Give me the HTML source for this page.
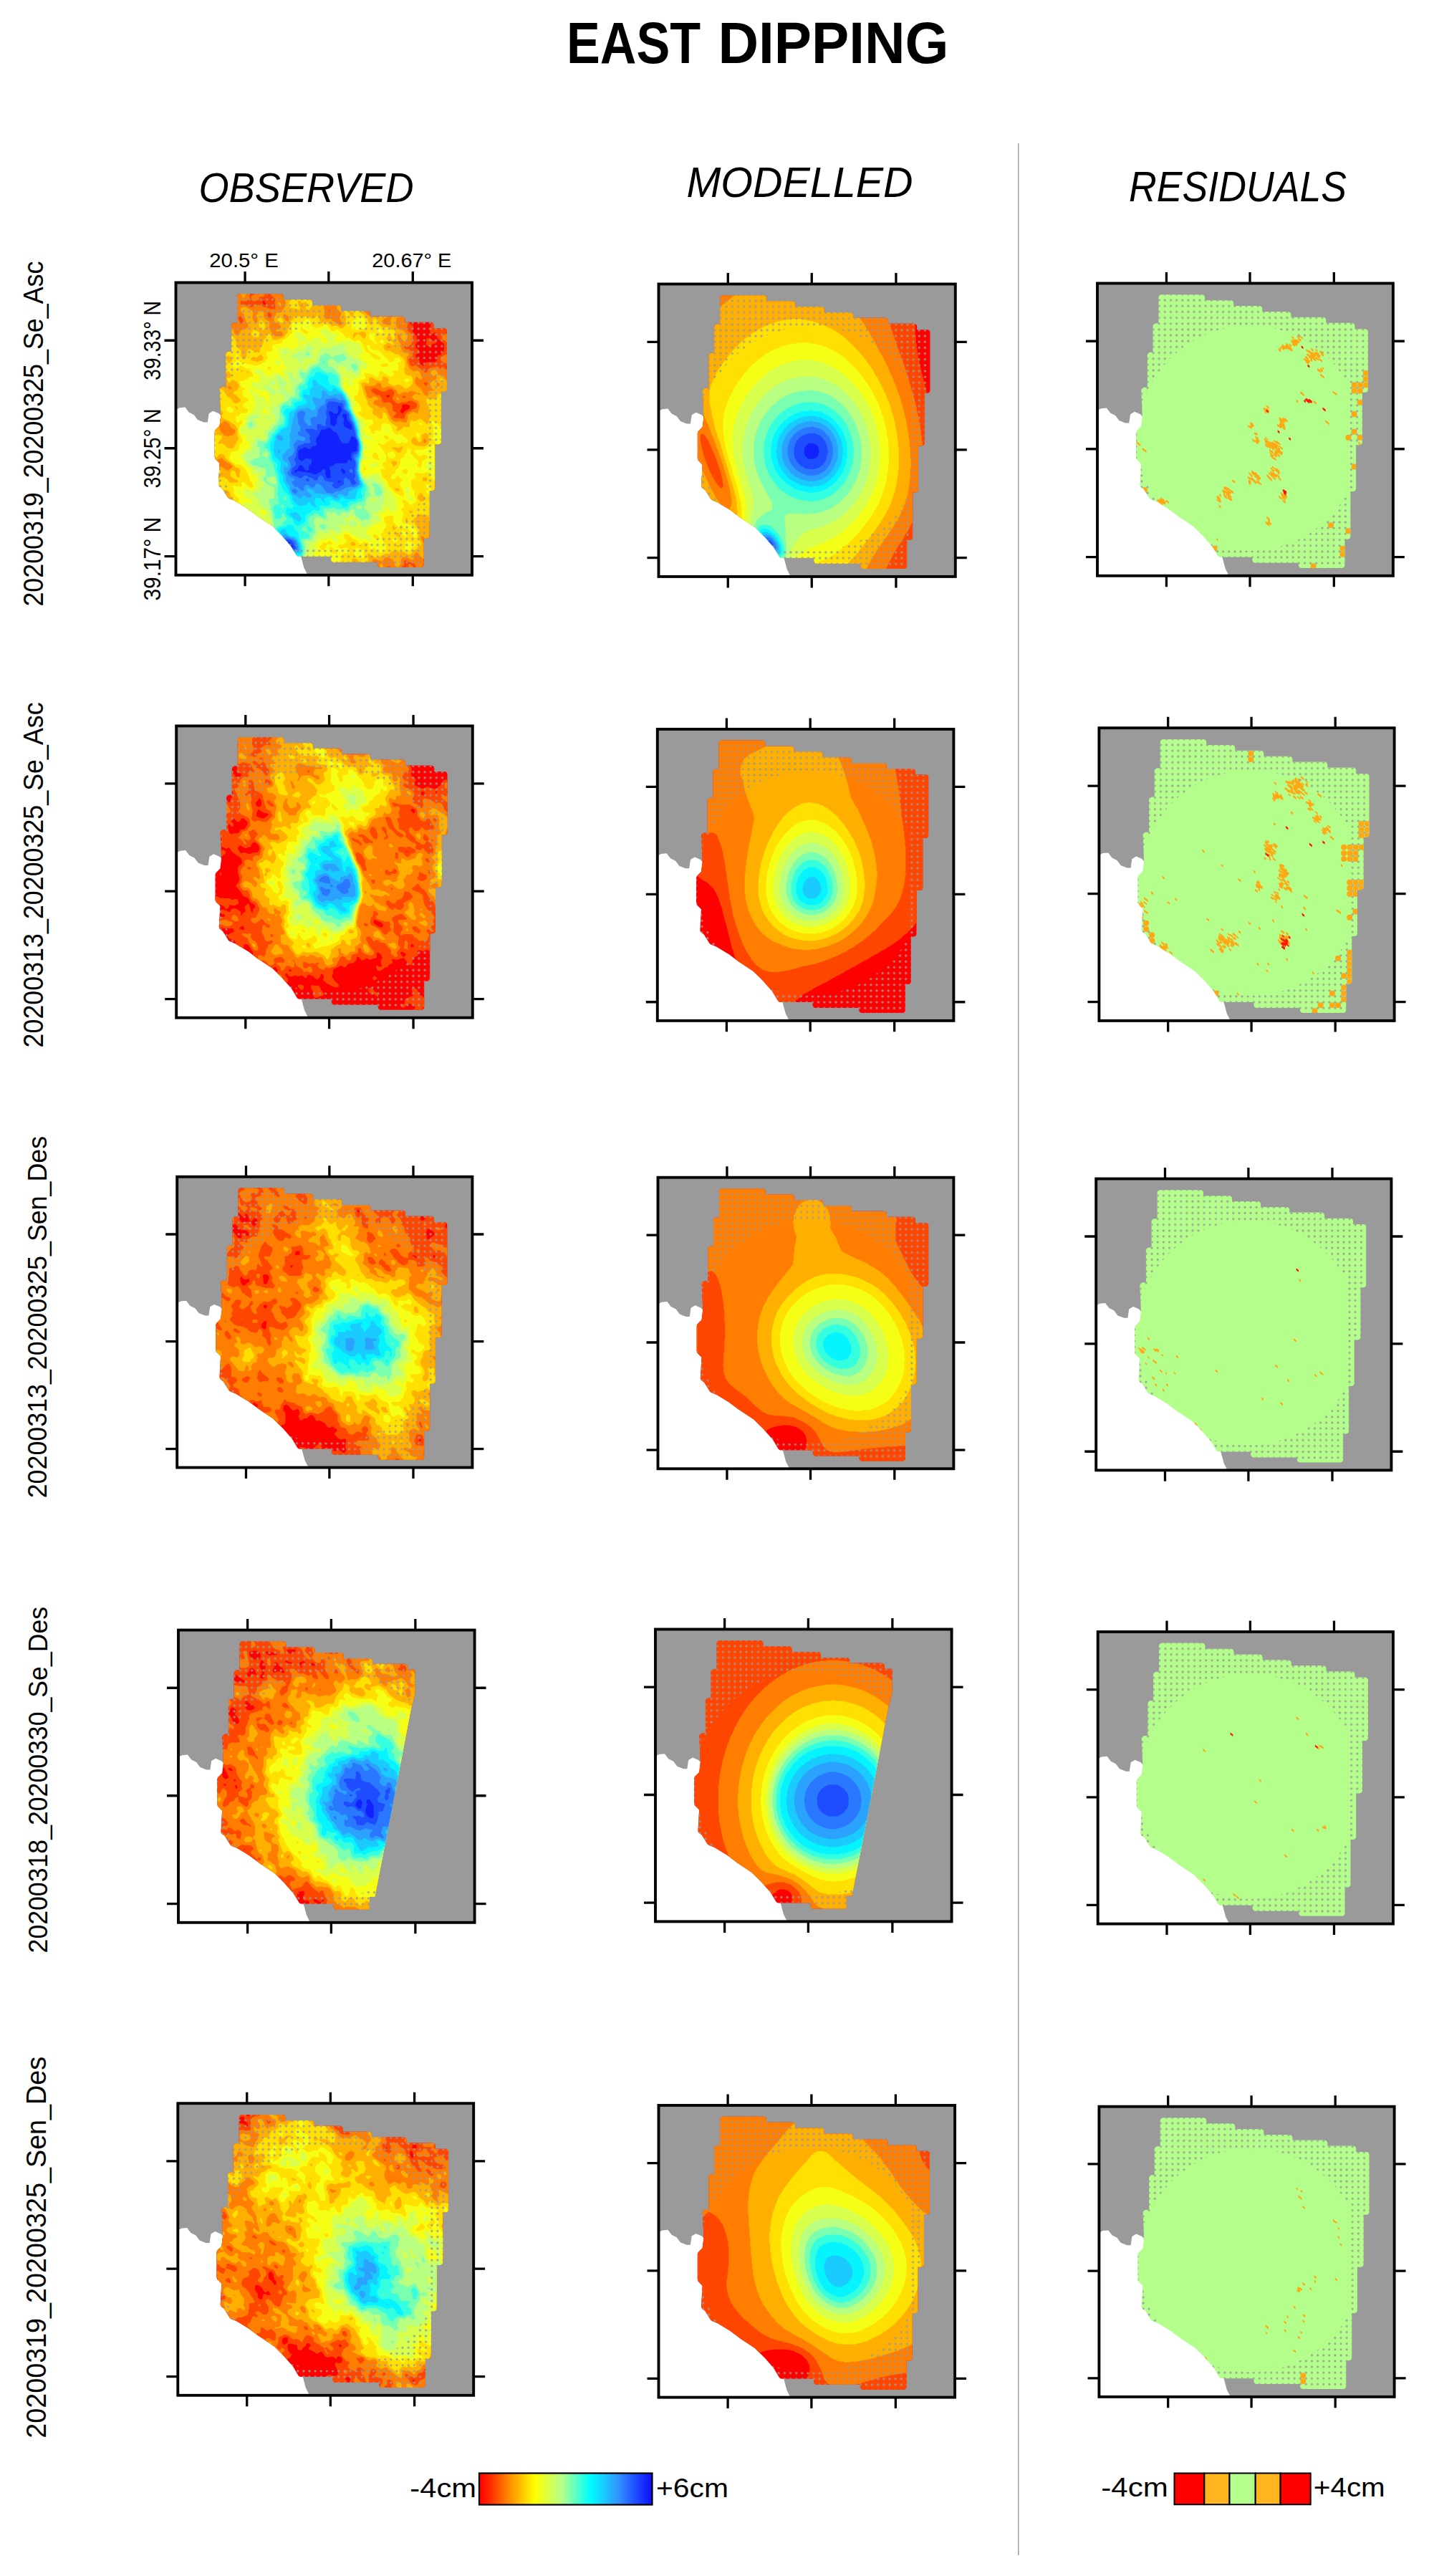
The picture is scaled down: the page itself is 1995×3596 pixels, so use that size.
<!DOCTYPE html><html><head><meta charset="utf-8"><title>EAST DIPPING</title><style>html,body{margin:0;padding:0;background:#fff}svg{display:block}</style></head><body><svg width="1995" height="3596" viewBox="0 0 1995 3596" font-family="'Liberation Sans',sans-serif">
<defs>
<clipPath id="cpF"><polygon points="61.2,251.9 61.2,252 59.6,281.1 60,283.1 61.4,284.7 64.6,286.9 64.7,286.9 64.8,287 72.8,299.8 74.7,301.4 82.2,304.4 82.2,304.4 82.3,304.4 99.6,314.9 99.8,315 113.6,325.3 113.8,325.5 134.6,339.3 134.7,339.4 134.8,339.5 148.7,353.3 148.7,353.4 160.9,367.3 160.9,367.4 161,367.5 168.5,380.1 170,381.6 172,382.1 216.8,382.1 216.9,382.1 216.9,382.2 216.9,386.1 217.5,388.1 218.9,389.6 220.9,390.1 281.6,390.1 281.7,390.1 281.7,390.2 281.7,393.1 282.2,395.1 283.7,396.6 285.7,397.1 342.4,397.1 344.4,396.6 345.9,395.1 346.4,393.1 346.4,357 346.4,356.9 346.5,356.9 350.4,356.9 352.4,356.4 353.9,354.9 354.4,352.9 354.4,290.5 354.4,290.4 354.5,290.4 358.1,290.4 360.1,289.9 361.6,288.4 362.1,286.4 362.1,225.8 362.1,225.7 362.2,225.7 366.9,225.7 368.9,225.1 370.4,223.7 370.9,221.7 370.9,152.3 370.9,152.2 371,152.2 374.9,152.2 376.9,151.7 378.4,150.2 378.9,148.2 378.9,67.7 378.4,65.7 376.9,64.2 374.9,63.7 360.5,63.7 360.4,63.7 360.4,63.6 360.4,59.3 359.9,57.3 358.4,55.8 356.4,55.3 320.3,55.3 320.2,55.3 320.2,55.2 320.2,51.2 319.6,49.2 318.2,47.8 316.2,47.2 271.3,47.2 271.2,47.2 271.2,47.1 271.2,43.5 270.6,41.5 269.2,40.1 267.2,39.5 231,39.5 230.9,39.5 230.9,39.4 230.9,35.5 230.4,33.5 228.9,32 226.9,31.5 190.8,31.5 190.7,31.5 190.7,31.4 190.7,27.8 190.2,25.8 188.7,24.3 186.7,23.8 150.6,23.8 150.5,23.8 150.5,23.7 150.5,19.7 149.9,17.7 148.5,16.3 146.5,15.7 89.7,15.7 87.7,16.3 86.3,17.7 85.7,19.7 85.7,55.9 85.7,56 85.6,56 81.7,56 79.7,56.5 78.2,58 77.7,60 77.7,96.1 77.7,96.2 77.6,96.2 74,96.2 72,96.8 70.5,98.2 70,100.2 70,145.1 70,145.2 69.9,145.2 65.4,145.2 63.4,145.8 61.9,147.3 61.4,149.4 63,185.4 63,185.4 63,185.5 61.2,199.3 61.2,199.4 61.2,199.5 55.4,205.3 54.2,208.1 54.2,243.3 55.4,246.1 61.2,251.9"/></clipPath>
<clipPath id="cpC"><polygon points="0,0 331,0 331,88 325.4,109 274.7,372 267,372 267,409 0,409"/></clipPath>
<clipPath id="cpB"><rect x="0" y="0" width="414" height="408"/></clipPath>
<pattern id="dots" width="8.15" height="8.15" patternUnits="userSpaceOnUse" x="4.95" y="7.3"><path d="M0 -2L2 0L0 2L-2 0zM8.15 -2l2 2l-2 2l-2 -2zM0 6.15l2 2l-2 2l-2 -2zM8.15 6.15l2 2l-2 2l-2 -2z" fill="#9a9a9a" fill-opacity=".85"/></pattern>
<path id="outer" d="M0 0H414V408H0zM349 137.6A157 157 0 1 0 349 294.4z" fill="url(#dots)" fill-rule="evenodd"/>
</defs>
<rect width="1995" height="3596" fill="#fff"/>
<text x="791" y="88.2" font-size="82" textLength="187" lengthAdjust="spacingAndGlyphs" font-weight="bold">EAST</text>
<text x="1002.5" y="88.2" font-size="82" textLength="322" lengthAdjust="spacingAndGlyphs" font-weight="bold">DIPPING</text>
<text x="277.5" y="281.9" font-size="57.5" textLength="300" lengthAdjust="spacingAndGlyphs" font-style="italic">OBSERVED</text>
<text x="958.5" y="275.3" font-size="59.5" textLength="316" lengthAdjust="spacingAndGlyphs" font-style="italic">MODELLED</text>
<text x="1576" y="281.3" font-size="58.5" textLength="304" lengthAdjust="spacingAndGlyphs" font-style="italic">RESIDUALS</text>
<line x1="1421.8" y1="200" x2="1421.8" y2="3567" stroke="#a6a6a6" stroke-width="1.6"/>
<text transform="translate(60.4 846.6) rotate(-90)" font-size="39.5" textLength="482" lengthAdjust="spacingAndGlyphs">20200319_20200325_Se_Asc</text>
<text transform="translate(59.5 1462.4) rotate(-90)" font-size="38.5" textLength="482" lengthAdjust="spacingAndGlyphs">20200313_20200325_Se_Asc</text>
<text transform="translate(65.2 2091.3) rotate(-90)" font-size="36.5" textLength="505.4" lengthAdjust="spacingAndGlyphs">20200313_20200325_Sen_Des</text>
<text transform="translate(66 2726.4) rotate(-90)" font-size="37.5" textLength="483.5" lengthAdjust="spacingAndGlyphs">20200318_20200330_Se_Des</text>
<text transform="translate(63.5 3403.8) rotate(-90)" font-size="39" textLength="533" lengthAdjust="spacingAndGlyphs">20200319_20200325_Sen_Des</text>
<text x="292.3" y="373" font-size="28.5" textLength="96.5" lengthAdjust="spacingAndGlyphs">20.5° E</text>
<text x="519.3" y="373" font-size="28.5" textLength="111" lengthAdjust="spacingAndGlyphs">20.67° E</text>
<text transform="translate(223.5 531) rotate(-90)" font-size="32.5" textLength="111" lengthAdjust="spacingAndGlyphs">39.33° N</text>
<text transform="translate(223.5 681.5) rotate(-90)" font-size="32.5" textLength="111" lengthAdjust="spacingAndGlyphs">39.25° N</text>
<text transform="translate(223.5 838.5) rotate(-90)" font-size="32.5" textLength="116.5" lengthAdjust="spacingAndGlyphs">39.17° N</text>
<g transform="translate(245.5 394.5) scale(0.9988 1.0007)">
<rect width="414" height="408" fill="#9a9a9a"/>
<polygon points="0,177.4 5.2,174.6 12.9,173.9 18.2,180.9 25.2,184.4 30.4,191.4 39.2,194.9 44.4,194.9 46.2,182.6 52.1,179.1 60.2,182.6 64.4,187.2 72.4,198.4 72.4,250.9 79.4,285.9 93.4,303.4 121.4,324.4 156.4,352.3 174.6,381 179.1,397.8 184.4,408.3 0,408.3" fill="#fff"/>
<g clip-path="url(#cpF)">
<rect width="414" height="408" fill="#ff0000"/><path d="M-6 -6l426 0 0 285-2 0-1 1 0 2 1 1 0 1 1 2 1 1 0 8-2 1-1 0-1 2 4 4 0 31-2 0-2 1-2 2 1 2 1 1 2 1 2-1 0 30 0-1-2-1-2 0-2 1-1 2 0 2 1 2 0 1 2 0 1-1 1 0 2-2 0 42-426 0zM122 26l-1 2 3 3 2-1 0-1-1-1-1-2zM294 158l1 2 3 0 1-2-1-1-2 0zM318 170l-1 0-1 2 0 4-2 2 0 2 2 2 2 0 1-2 1-1 6-3 1-2 0-2-1-1-2 0-2-1zM330 49l-2 2 0 1-2 2 2 4 1 0 1 1 2 1 0 3-1 1-1 2 1 2 2 2 1 2 2 2 1 2 0 4 1 2-1 2-2 2 0 4 3 3 2 1 0 3-2 2-2 1-1 2 1 2 4 4 1 2 0 2 1 2 4 2 2-1 1-1 0-2 1-1 12 0 2-1 0-1 1-1-1-2 2-4 2-1 2 0 3-3 2-4 0-8-5-5-2-1-2-2-1-2 0-4-1-1-2-1-2 1-1 1-2 0-1-1 0-1-1-2 1-2 0-6 4-8-1-2-2 0-1 2 0 1-2 2-4 0-1 1-1 0-2 1-2 0-2-1-4-4-2-1-1-1-1 0-2-1zM388 46l-1 2 1 2 1 0 1 1 2-1 1 0 0-2-1-1-2-1zM392 26l-1 2 0 2 1 1 1-1 0-2zM396 48l-1 2 1 0 2 2 2 0 1-2-1-2-2-1zM410 290l-1 2 1 2 1 0 2 4 0 4 1 0 2-2 0-2-1-2 0-2-2-4zM388 61l-2 1 0 4-2 2 0 2 1 2 1 1 0 1 2 1 2 2 6 0 2 1 2 0 0-2-1-2-3-3 0-1-2-2-2-4-2-2zM388 88l-2 2 2 2 3 0-1-2 0-1zM398 405l-1 1 0 2 1 1 2 1 2-2-1-2-1-1zM351 78l1 0 2-1 2 1 2 2 2 1 4 0 0 1 1 2-1 0-2 1-2 0-2 1 0 1-2 2-2 0-2-1-1 0-2-2 1-2 0-5z" fill="#ff4600"/><path d="M-6 -4l0-2 2 1 1 1 1 0 2 1 1-1 0-2 48 0 0 2-1 2 0 2 1 2 1 0 2 1 2 0 2 1 2-2 4-2 0-2-1-2-2-2 141 0 2 1 2 0 2-1 129 0 1 2 0 1 1 1 0 2 3 3 4 0 2 1 4 0 2-1 4 0 1-1 0-2-1-2-2 0-2 1-4 0-8-4-1-1 32 0 5 5 2 1 8 0 2-1 1-1 0-2-2-2 33 0 0 18-1 2-1 1-6 3 0 2 2 1 2-1 0-1 2-2 2 1 0 88-1-2-3-3-2-1-2-2-1-2 0-2-2-2 1-2 3 0 1-1 0-3-4-4-2-1-1-1-1-2 0-2 2-4-2-1-1-1-1 0-2-2-2-4 0-4 2-4 2-2 0-4-1-2 0-2-2-4-1-1 0-1-2-2 0-1-1-1 0-6-1-2 0-9-2 0-2-1-2 0-2-1-4 0-2-1-1 2 0 2 1 2 2 2 0 2 1 2 1 1 0 1 2 2 1 2 2 2 0 2 1 2-2 1-4 0-2 1-1 0-1 1-2 1-1 2 0 4-1 1 0 1-2 2 0 1-1 1-1 2 0 1-2 2-2 0-1-1-1-2-2-2-1-2-1-1 0-1-2-4-2-2-2-1-2 1-1 0-1 1-2 1-2-2 0-5 2-1 2-2 0-4-1-2-1 0-4-2-2 1-1 1-1 2 0 2-4 2-1 2-2 2-1 2-2 0-2-2-2-4-2-2-1 2 0 2-2 2 0 4-1 2-4 2 0 2 1 2 2 2 1 2 0 2-1 2-1 1 0 2 4 4 2 1 2 2 1 2 0 6-1 2 0 2-1 2-3 3-6 0-1 1 1 2 2 1 4 0 4 4 0 1 1 2 0 2-3 3-2 1-1 2 1 2 0 2 2 4 1 0 1 1 2-1 1 0 1-1 2 0 0 1 2 1 2 2 2 1 2 2 2 1 2 2 2 1 1-2 1-1 0-1 2-2 2-1 2 0 2-1 2 0 2-1 2 0 4 4 1-1 0-2 3 0 4 4 2 1 6 0 2 1 2-1 3-3 4 0 1 1 0 1 4 2 1-2 0-2 1-1 0-1 2-1 1-1 1 0 3-6 3-3 2 1 2 0 2 1 0 70-2-1-2 0 0 4 2 2 2 0 0 88-2 2-4 2-4 0-2-1-4 0-2 1 2 1 4 4 0 1 1 2-1 2-2 2 0 4 2 4 0 2-1 2-2 2 0 2 1 1 2 1 4 0 2 1 2 0 2 2 0 1 2 4 0 15-2 0-6 3-2 0-2-1-2-2-2-1-2 0-2 4 0 4 3 6 3 3 2 1 2 0 2-1 4 2 0 1 2 4 0 2-2 2-2 4 0 2-2 1-1 1-1 0-1 2-2 2 1 2 0 1 1 1 1 2 0 2 1 2 0 2 1 1 0 1 2 2 1 0 1 1 2 1 1 0 1 1 0 18-2 1 0 4 2 2 0 2-92 0-1-2-1-1-2 0-2 1 0 2-300 0-2-1-1 1-15 0-2-1-2 0-2 1-4 0 0-19 1-1 3 0 2-1 3-3 1 0 2-1 2-2 4-2 1 1 1 0 2 1 2-1 0-2-2-2-4 0-6-3-1-1-1-2 0-4-1-2 0-4-3-6-2 0 0 4 1 2 0 2-1 2-2 2-2 1 0-112 3 3 3 6 2 2 6 0 1-2-2-4 0-4-2-4-1-1-8-4-2-2 0-154 1-1 1-2 9 0 1-1 0-3 2-4-1-2-2-2-1-2-2-2-4-2-2 1 0 2 1 1 0 2-1 1-2 0zM10 198l-1 2 3 3 2 0 1-1 0-2-1-2-1 0-1-1zM12 6l-1 2 1 1 1-1zM30 60l-2 0-1 2 0 4 1 1 0 1 4 4 2-2 0-2 2-4-1-2-1-1-2-1zM46 4l-2 2 1 2 0 6 1 2 2-2 2-1 2 0 1-1-1-2zM78 31l-1 1 0 4 1 1 2 1 2 0 1-2 0-2-3-3zM88 47l-1 1 0 2 3 6 0 1 2 0 2-1 0-4-2-4-1 0-1-1zM106 12l-1 0-2 2 0 8-1 0-1 2-1 1-2 1-4 0-2-1-1 1-1 2 1 2 1 1 6 0 1 1 1 0 2 2 5 0 3-3 6 0 4 2 2 0 2 1 2 0 6 3 6 0 1-1 0-4-1-2 0-2 1-2 0-2-1-2-6-6-2-1-2-2-3 3-1 2-2 2-6 0 1 2-1 2-2 1-2 0-2 1-2 0-2-2-1-2 0-2 1-2 2-1 2 0 1-1-2-2-1-2zM214 38l-1 0 1 2 2 1 0-2-1-1zM276 147l-3 3 1 2 2 2 2 1 2 2 4 0 3 3 1 2 0 2 1 2 1 1 2 1 2-1 4 0 2 1 2 2 1 2 0 6 1 1 4 2 0 1-1 2-1 1-2 1 0 2 2 1 8 0 2 1 2 0 2-2 0-2 2-4 2-2 2 0 2-2 1 0 1-1 2-1 2 0 2-1 1-1 0-4-1-1 0-1-6-3-4 0-4 2-6 0-2 1-1 0-1 1-2 0-1-1-1 0-4-4-1-2 0-2 2-4 0-4-3-3-4 0-2 1-2 2-6 0-10-5zM318 158l-2 2 2 1 2 0 2-1-2-2zM340 15l-1 1-1 2 2 4 2 1 2 0 1-1 1 0 2-2 1-2-1-2-2-2-2 0-2 1zM416 91l-1 1 0 2 1 2 1 0 1 1 1-1 0-2zM328 77l0 2 1-1zM348 139l-1 1 0 2 2 2 1 0 2-2 0-2-2-1zM366 394l-2 1-3 3 0 2-1 1-2 1-1 2 3 6 2 2 0 1 2-1 2 0 4-2 0-4-2-4 0-2-1-2 0-2zM392 133l-1 1 0 4 1 1 4 0 1-1-1-2-2-2zM404 242l-2 2 2 1 1-1zM402 312l0 2 2 1 1 1 2 0 0-2-1-1-2-1zM14 392l0 3 2 1 5 0-1-1 0-1-4-2zM-2 275l-1 1 1 1 1-1zM6 342l0 2 1 0zM-4 104l-2 2 2 2 2-2zM12 72l-1 0 0 2 1 1 2 0 1-1-2-2zM28 132l0 2 4 4 2 0 2-4-1-2-1-1-2-1zM52 366l-1 0-1 1 0 5-1 2 0 2 2 2 1 0 4 4 2 1 2 0 1-1 1-2 0-6-2-1-2 0-3-3-1-2 0-1-1-1zM130 41l-1 1-1 2 0 2 1 2 1 1 2 0 1-1 1-2-2-4zM278 390l0 3 2-1-1-2zM296 396l-1 2 1 2 0 4 2 1 2 0 6-3 1 0 0-2-1 0-2-2-2 0-4-2zM320 387l-1 1 0 6-1 1-2 1 0 1-1 1 1 2 0 1 6 3 2-1 1-1 0-8 1-2 2 1 5 5 1 2 2 1 1-1-1-2 0-1-1-1 0-2-3-3-2 0-2-1-2 0-2-1-1-1-1 0zM348 398l-1 0-1 2 2 2 2 1 2-1-1-2-1-1zM392 291l-1 1-1 2 0 1 2 2 2 0 2-1 1-2-1-2-2-1zM396 149l0 2 2 0 1-1-1-1zM34 378l1 2 1 0 2 1 1 1 1 0 2 1 2 0 2-1 1-2 0-2-1-1-2-1-4 0-2 1-2 0zM278 401l0 3 2 2 2 1 2 0 2-1-1-2-1-1-4-2zM396 403l-2 1 0 5 4 4 4 0 2-2 0-1 1-2-1-2 0-1-2-2-2 0-2-1zM396 224l2 0 0-1zM376 72l2 0 2 1 2 2 2 1 4 4 1 0 1 1 2 0 2 1 1 0 1 1 0 1 1 2 1 1 0 1 1 2-1 2-2-1-6-6-2-1-8 0-2-1-2-2-2-1-2-2 0-3 2-2zM404 98l4 0 2 2 1 0-1 2-2 1-6 6-2 0-3-3 1-1 2 0 1-1 1 0 1-2 0-2zM382 100l2-2 2 1 1 1-1 1-2 0zM373 102l1 0 4-2 2 2 1 2 0 6-1 2-2 0-2 1-2-1-4-4 0-2 1-2zM-6 382l0-2 2 4-2 4 0 1z" fill="#ff7d00"/><path d="M5 -6l39 0-2 2 0 2-2 4 0 12-2 2-2 0-2 1-1 1-1 0-4 2-1 2 1 2-2 2-4-2-2-4 0-2-2-4 0-3 2 0 2 1 1 0 1 1 2 0 2-1 2 1 2 0 1-1 0-2-1-2-2-2-2 0-2-1-3-3-1-2-2-2-1 0-1-1-8 4-4 4-2 0-2 1-1 0-2 2 0 6-3 0-2-2 0-15 6 3 2 0 2-2 1-2zM62 -6l10 0 1 2 1 1 2 1 1-2 0-2 7 0 4 4 1 0 1 1 4-2 8 0 2 1 2 2 3 6 1 1 6 0 2 1 1 2-1 2-2 1-2 0-3-3-1-2-1 0-1-1-2 1-2 0-2-1-4 0-2 1 0 4 2 4-2 4 0 1-2 0-1-1 0-2-6-6-3-6-2 2 1 2 0 2 1 2 0 2 1 2-1 2-4-2-2 0-2 1-2 0-2 1 1 2 1 0 2 2 2 0-1 2-1 0-2 2 0 1-1 1-1 2-2 1-1 1-1 2 0 2 6 6 1 0 1 1 0-1 2-1 2 1 0 2 1 2-1 1-2-1-2-2-1 2-1 1 0 1-2 2-1 2-1 1-2 1-2-1-4-4-2 0-1 1-1 2 0 4-1 2 2 2 1 0 2 4-2 4 0 1-1 1 0 6-1 2 0 2-2 2-2 1-2 2 0 1 2 4 4 2 2 0 8-4 1 0-1-2 0-1-2-2-2-1 0-2 1-2 1-1 2 0 2-1 2 0 1-2 0-6-2-4 1-2 2-1 2 1 2 0 2 1 1 1 0 2 1 2 0 1 2 2 4 0 0-1 2-4 2-2 4 0 2-2 1 0 2-2 0-4-2-2-1-2 0-1-1-1 0-2-2-4 0-2-4-4-1-2 0-2 4-2 4 0 2 2 1 0 1 1 4 2 1 1 1 2 0 2-1 2 0 4 2 4 3 3 2-2 0-5-2-4 2-2 2-4 2-1 2 1 1 0 2 2 0 6 1 2 2 2 1 0 1 1 2 1 1 2 0 4-1 2 2 4 0 1 1 1 1 2 4 4 2 1 8 0 1-1 1-2-1-2-1-1-2-1-2 0-2 1-2-1 0-2 2-1 2 0 2-1 1-2-1-2-2-2-6-3-1-1 0-4 3-6 0-1 1-1 5 0 2-1 1-1 0-2 2-2 2-4 0-2 1-2-1-2 0-2-1-2 0-2-1-2 0-2-1-1 0-1-1-2 0-2 1-2 0-1 1-1-1-2 0-1-4-2-4 0-4 2-4 0 0-1-2-4 4-2 0-2 53 0 2 4 5 5 4 0 1-1 1-2 4 0 2-1 3-3 1 0 2-1 6 0 2-1 96 0 2 1 6 0 1 1 1 0 2 2 2 4 0 4-2 4 0 2 1 2-1 2-2 2 0 1-1 1-1 2 0 2 1 2-1 2 0 1-3 3-1 2 0 2-3 0-2-2 0-2-1-2-1 2-4 4-1 2 1 2 4 4 0 2-1 1-2 1-2 0-2 2 0 12 2 2 4 2 2 0 2 1 5 5 1 2 0 2-1 2 0 2-2 2-2 0-4-4-1-2 0-2-2-2-2 0 0 6 2 4 0 1 1 1 2 4 0 4 2 4 1 1 2 1 4 0 2 2-1 2-2 2-1 2 1 2 0 4 3 6 0 1 2 2 2 1 2 2 2 0 2-1 2 0 2 1 1 2 1 1 0 1 2 4 0 2-2 1-2-1-2-2-2-1 0 1-2 4 0 4 1 2 3 3 4 2 0 1 2 2 3 6 1 1 2 1 2 0 1-2 0-2 1-2 2-1 4 0 2-1-4-2-2-2 0-2-1-2 1-2 4-4 2 0 2-1 0-1 1-2-1-1-2-1-2 0-2-1-1-1-1-2 1-2 1-1 2-1 2 0 2 1 1 1 1 2 0 2 2 1 2 0 4 2 1 1 1 2 2 2 2 0 2-2 1-2-1-2 2-2 1 2 0 2-1 2 0 2-3 6 0 2 1 2 2 1 2 0 2 1 1 0 1 1 0 1 2 4 0 2-2 0-4-4-1 0-1-1-2 0-1 1-1 2 0 2-1 2 0 2 2 4 1 0 4 2 2 0 2 1 2 0 2-1 2 0 2 4 0 2 1 2 2 2 1 0 4 2 2 0 2 1 3 3 1 2 0 1 1 1 1 2 0 2-2 2 1 2 1 1 2 0 0-3-1-2 1 0 1-2 1 0 0 47 0-1-1-2-1-1 0-7-2-2 0-1-4-2 0-1-4-4-2-1-4 0 0-1-1-2-2-2-1 0-4-2-2 1-1 1 0 2 1 2 2 2 0 1 1 1-1 2-2 2-1 0-1 2 0 4 2 2 0 10 1 2 0 2 1 2 0 1 1 1 2 4 1 1 6 3 2-1 4 0 1 1 1 0 4 4-4 2-2 0-2 2 0 4 1 2 0 2-5 0-2-1-2 0-4 4-2 1-2 2 0 2-1 2 0 4-1 2-4 4-2 4 0 6-2 4 6 3 4 4 2 1 2 0 2 4-2 1-3 3 1 0 3 6 0 6-1 2 0 4 4 4 1 2 1 1 0 1 2 1 2 2 2 1 0 1 1 1 0 2-1 2-2 2-1 2 0 4-2 2-2 4 0 2-1 1-4 0-1-1-2-4-2-2-1-2-2 2-1 2-1 1 0 3 2 4 0 4 1 2 0 2-3 0-2-1-6-6-2 0-2 2 0 1-1 2 1 1 0 1 2 2 1 2 2 2 1 2 0 2-2 2-2 0-2-2-1-2-2-2-1-2 0-2 1-2-2-4-4-4-1-2 0-3-2-2-2-1-1 2 0 2 1 2-2 1-3 3-1 0-4 2-1 2 1 2 4 2 1 0 1 1 0 3-2 2 0 4-1 0-1-1 0-1-2-4 0-1-1-1-1-2-4-2-4-4 0-1-2-2-2-1-2 2-1 2 0 4-1 2-2 1-2-1-1 0-1-1-2-1-1 0-1-1-4 0-2 1-1 2 0 6-2 2-1 2-2 1-2-1-2-2 0-1-1-1 0-2-2-4-1 0-6-3-2 0-2 1-1 2-3 3-2-1-2 0-4-2-5 0 0 2-1 2 0 3-1 1-1 2-2 1-2 0-1 1 0 6-1 2 0 4 4 4 1 0-191 0 1-2 0-2-1-2-6-3-2 2 0 3 2 4-39 0-2-2 1 0 2-2 0-2-1-2-2-2-2-4 0-2 3-3 2-1 1 0 1-1 1 1 1 0 2 1 2-1 2-2 2-1 0-1 1-2 0-2 1-2 2 0 2 1 2 2 2 1 2-1 5-5 1-2 0-4 2-4 0-8-3-6-1-1-6-3-1-2-1-1 0-1-1-2-3-3-2-1-1 0-3-3-2-1-1 0-1 1 0 1-2 4 0 2 1 2 3 3 2 1 0 2-1 2-1 1-6-6-6 0-1 1 2 2 1 2-2 4 2 4 2 1 8 0 2 2 0 3-2 2-4 0-2-1-2 0-1-1-1-2-1 0-1-1-2-1-2 0-2-1-1-1-1 0-2-2 0-1-2 0 0 5-4 2-1 0-1 1-2 1 0 3-2-1-4-8 0-1-1-1-1-2 0-2-2-4 0-1-2-2-2 0-2 2-2 1 0-5 1-1 0-4-1-1 0-66 2 2 6 0 2-1 1 0 5-5 2-1 0-4-2-4 0-4 2-2 8 0 1-2 0-2-3-3-2-1-2-2 0-1-2-1-2 0-2 4-2-1-4-4-4 0-4-2 0-57 2-4 2 0 2-1 1 1 1 0 6 6 4-2 2 0 2 4-2 1-4 0-2 1-2 2-1 2 0 2 1 2 4 4 4 2 1 0 1 1 2 1 4 0 1-2 0-4-2-2-3-6 0-2 1-2 4-4 1-2-1-2-1-1-2-1-8 0-2 1-8 0-1-1-1 0-2-2-4 0 0-32 2 2 2 1 1-1-1-2 1-2 1-1 2-1 0-4-2-1-6-6 0-15 2 1 3-3 2-4 2-2 1-2 4-2 2-2 0-8 2-4 2-2 2-4 2-2 2-1 4-4 4 0 2 1 2 0 2-2 2-1 1-1 1-2-1-2 0-2 1-2 2-2 0-6-2-4 1-2 1-1 2-1 2 4 2 2 1-2 0-2-1-2-4-4-2-4 2-4-1-2-1-1-2-1-1-2 0-2 1-2 5 0 2-4 0-2 1-2 2-2 4-2 4 0 2 2 1 0 1 1 1-1 1-2-1-2 0-2-1-1 0-1-1-2 0-2 1-1 0-1 4-2 6 3 2-1 0-2-1-2-7-7zM52 126l-1 0-1 2 1 2 1 1 4 2 1-1 1-2-1-2-2-2zM64 136l0 2 1 2 1 1 2 0 2-1-2-4-2-1zM74 144l-1 2 1 2 2 1 2-1 1 0-3-3zM90 87l-1 1 1 1 2-1zM94 359l-1 1-1 2 0 2 1 2 0 2 1 2 2 2 2 0 0-8-2-4zM112 366l0 3 1 1 1 0 2 1 1 1 1 0 2 2 3 0 0-2-2-2-1 0-6-6zM114 82l0 2 1 0zM130 405l-1 1-1 2 0 2 2 1 2-1 0-3zM150 44l0 4 2 2 0 1 4 4 1-1 1-2 0-4-2-2-4-2zM158 0l-1 0 1 2 2 0zM178 -1l-3 3 0 2 1 2 2 2 0 6 2 2 2 1 2 0 2-1 0-2-4-4-1-2 0-2 1-1 0-1 1-2-3-3zM206 29l-1 1 2 4 0 2 1 2 0 6-1 2 0 2 3 3 4 0 2-1 4 4 2 1 1 1 1 0 2 1 2 2 2 1 2-2 0-2-3-6 0-2 2-4 0-2-3-3-2-1-1-2 0-4-1-1 0-1-4-2-6 3-2 0-1-1-1 0-2-1zM232 -3l-1 1 0 2 1 1 0 1 2 2 2 1 6-3 1 0 0-2-3-3zM248 3l-1 1 1 2zM264 31l0 1-4 4 0 2 2 2 2 1 4 4 4 2 6 0 2 1 4 0 1-2 1-1 2 0 2-1-1-2-2-2-1 0-6-6-2 1-1 1-1 0-2 1-2 0-6-6zM280 22l-2 1-6 0-1 1 0 2 1 1 4 2 2 2 2 0 2-1 2 0 4-2 5 0 1-2-2-4-2-1-2 0-2 1zM290 11l-1 1 1 1 2-1zM300 45l-2 1-2 2-1 0-2 2-1 0-4 4 1 2 1 1 4 2 6 0 1-1 0-2-1-2 0-2 1-2 2-2 0-2-1-1zM344 353l-1 1-1 2 1 2 2 2 1 2 0 1 1 1 1 2 2 2 3 0 0-2-1-2 0-1-1-1-2-4-2-2-1-2-1 0zM348 217l-1 1-1 2 0 2 2 2 2-2 0-2-2-2zM364 343l-2 1 2 1 2-1zM366 139l-1 1-1 2 1 2 1 1 2-1 1-2zM416 208l-2 2 1 2 1 1 3-3 0-2-1-1zM386 316l-1 2 2 2 2 0 1-1 0-1-1-2zM4 329l0 1-1 2 0 2-1 1-2 1-2-1-1 1 0 2 3 3 0 1 2 2 1 2 3 3 2 1 2 0 1-2 0-4-2-4-2-2 1-1 2-1 2 1 2 0 1-1 0-2-1-1-2 0zM18 302l-1 0 0 2 1 0zM18 222l-1 2 1 2 0 1 2 1 3 0 0-2-1-2-2-2zM0 152l1 2 2 2 4 0 1-2-1-2-1-1-4 0zM0 123l-1 1 0 2 1 2 4 2 1 2 0 2 1 1 2 1 5 0 1-1 4 0 2-1 1 0 1-1 2 1 8 8 1 0 1 2 0 2 1 2 1 1 2 1 1 0 1 1 2 1 3 0 1-2 0-2-1-2-3-3-2-1-2-2 0-2 1-2 1-1 4 0 1-1-1-2-2-1-2 0-4-4-2 0-2-1-4 2-2 0-2-2-1 0-1-2-4 4-3 0-1 1-2 1-4 0-2-2-1-2-3-3zM38 87l-2 1 2 2 0 1 2 1 2-2 0-2-2-1zM46 67l-1 1 0 4 1 2 0 1 2 1 1-2 1-1 0-3-2-2zM68 193l-2 2-2 1-2 0-2 2 0 2 1 2 0 2 1 2 0 1 6 6 2 1 4 0 2-1 2 0 2-1 2-2 1-2 0-2-2-2-1 0-2-1-2-2 0-1-1-2-4-4-1 0zM112 381l-1 1-1 2-2 0-2 1-2 2 0 1-1 2 1 1 2 1 2 0 2-1 2 1 0 6-6 3 0 5 2 4 2-1 4 0 4 2 1 1 1 0 2 1 1-1 0-2-4-8 0-2-3-6-4-4 2-2 4-2 0-2-2-2-2-1zM282 140l-1 0-1 2-2 2-6 0-2 1-2-1-4 0 0 5 1 1 1 2 0 2 1 2 0 2 1 2 4 2 2-1 2-2 2 0 4 2 1 1-1 1-2 1-2 0-2 4 1 2 1 1 2 0 4 2 2 2 2 0 1-1 3 0 2 2 2 4 0 1 1 1 4 8 3 3 2 1 4 0 2-1 2 0 4 2 4 0 1-1 0-2 1-2 0-6 8-4 4 2 2 0 1-2 0-2 1-2 0-1 1-1 0-2-1-2 0-2-1-2-1-1-2-1-2 0-2-2-1 0-1-2 1-2 1-1 2-1 0-1 4 0 2 2 2-1-2-2-2 0-2-1-2 0-1-1-1 0-2-1-2 0-2 1-2 2-2-1-4 0-6 3-2-1 0-1-2-4-2-1-2-2-2-1-2 0-2-1-2 0-2 1-1 0-1 1-2 0-2-1-1-2 0-2-1-1-2-1zM296 89l-1 1 1 1 2 0 2-1-2-2zM348 329l-1 1 1 1 1-1zM388 345l-1 1-1 2 0 2-2 2-2 1-2-1-1 0-1-1-2 0-1 1 0 2-3 3 0 3 1 2 0 2 1 2 2 2 2-1 1-1 0-2-1-2 0-3 2-1 4 0 2 2 1 0 1 2 2 0 2-2 3-6 1 0 2-1 1-1-1-2-2-1-1-1-1 0-2-2-1 0-1-1zM0 166l-1 2 1 2 2-2zM10 168l-1 2 2 4 1 1 2 0 2-1 0-2-2-4-2-1zM16 156l2 4 6 6 4-2 1-2 0-2-1-2-2-1-1-1-1 0-2-1-2 0-2-1zM22 146l-1 2 1 0zM38 238l2 2 1-2-1-1zM46 165l-1 1 0 2-1 2-4 4-1 0 1 0 2 1 4 0 2-1 1-2 0-6-1-1zM62 245l-1 1-1 0-4 2-2 0-1 2 1 2 2 2 6 3 2 0 1 1 1 0 2 2 2 1 1 1 2 0 1-1 2-1 2-2 1-2-4-4-1 0-4-2-6-6zM340 336l0 1 1-1zM28 186l-1 0 1 1 0 1 2 2 2-2-1-2zM42 313l-1 1-1 2 3 6 0 4 1 2 2 2 1 0 1 1 2-1 1-2 0-4-1-1 0-1-2-2 0-1-1-1-1-2 0-1-2-2zM72 308l-2 2 2 2 2 0 1-2-1-1zM76 348l-2 0 2 1 1-1zM78 362l-2 0-2 2-1 2 1 2 2 1 2-1 1 0 1-1 2-1 1-2 0-2-1-1-2 0zM28 197l-1 1-1 2 0 2 4 2 2 0 1-2 0-2-1-2-2-2zM72 394l-1 0-1 2 1 2 1 1 2 0 1-1 0-2-1-1zM32 308l-2 2-6 0-2 1-1 1-1 0-2 1-1-1-3 0 1 2 0 4 2 4 1 0 4 2 4 0 2-1 2-2 0-7 2-1 2 0 1-1 0-2-1-2zM109 -6l4 0-1 1-2 0zM116 -6l16 0-1 2-1 1-6 0-4 4-1-1zM359 -6l9 0 0 1 1 1 1 2-1 2-3 0-2-2-2-1zM406 -6l5 0 1 1 2 0 2-1 4 0 0 8-2-1-2 0-1 1 0 2 1 1 0 1 1 2-1 2-2 1-4 0-2 1-2 0-4-2-2 0-2-1-2 0-2 1-2 2-1-2 0-6 1-1 0-1 2-2 2 0 4 2 2-2 1-2 1-1 0-1zM361 4l4 0 2 2 1 2-1 2-1 0-4 2-2 0-2-2-1 0 0-2 1-1 0-1 2-2zM376 6l2-1 2 0 0 1 2 4-2 1-2-1-2-2zM132 8l0-1 2 0 0 1 1 2 0 2-1 1-3-3zM372 18l0-1 2 0 2 1 1 2 1 1 0 1 3 6 0 4-3 3-2 0-2 1-1 0 0 4 2 2 1 2 0 4-1 2-3 3-2 0-2-1-1-2-1-1 0-1-1-2-2-2-1-2 4-4 2-4 2-1 1-1 1-2 0-4-1-2 0-4zM-6 20l0-2 1 2 3 3 2 1 2 0 2-2 2 0 1 2 0 2-1 2 0 2 1 2 0 4 1 2 2 2 2-1 2 0 2 2 0 1 1 2 0 2 1 1 0 1 2 2 0 1 1 1 2 4-1 1-2 1-2 0-2-1-2 1-2 2 0 4 6 0 2 2 0 1-1 1-1 0-2-1-1-1-1-2-2 0-4 2-2-1-2-2 0-1-4-4-1-2 1-2 0-1 1-1-1-2 0-1-4-4-2 0zM403 22l1-1 4 2 2 2 2 1 0 2-2 2-2 1-2 0-2 1 0 4 1 2-1 1-2-2 0-1-2-4 0-5 1-1 1-2 0-1zM79 26l1-1 4 0 0 2-2 0-2-1zM12 28l4 0 1 2-1 1-2 1-2-2zM143 28l1-1 2 1 1 2 0 2-1 1-2-1-1-2zM416 30l2-1 2 0 0 6-2-1zM334 32l2-2 1 2-1 2-2-1zM22 38l2-2 2 0 4 2 1 0 1 2 0 3-4 0-4-2-1-1zM418 40l2-1 0 6-3-3zM409 44l3 0 6 3 0 1 2 1 0 27-6-6-2-1-2-2-2-1-4-4 0-2 4-8 0-2-1-2 0-2 1-2zM414 57l-1 1 0 2 1 1 2 0 1-1-1-2zM318 56l1 2-1 1-1-1zM-6 64l0-2 2 4-2 1zM1 72l1 0 2-2 2 2-1 2-1 0-2-1zM415 112l2 0 2 2 0 2 1 1 0 57-4-4 0-1-3-3 0-2 2-4-1-2-2-1-2 0-2 1-1 0-1 1 0 1-2 2-2-1-1-1 0-2 2-2 1 0 1-2 0-2 1-2 0-6-2-2-3-6-1-1 0-1-4-4 0-2 2-1 8 0 1-1 1-2 0-2 2-2 4-8zM308 162l2-2 2 2 0 2-2 0zM400 318l2 0 4 2 0 1 1 1-1 1-2 0-2-1-2-2zM405 380l1-1 0 3zM36 386l0-1 2 0 2 1 1 2 0 2-1 2-2-1 0-1-1-2-1-1zM408 386l2-1 2 2 8 4 0 7-4 0-4-2-1-2-1-1 0-1-1-2 0-2zM396 390l2-1 1 1 1 2 0 5-1 1-1 0-4 2-2 2 0 2-1 2-1 1-2 1-2 0-2-1-2 2-2 1-2 0-2-1-3-3-1-2 0-4 2-2 2 0 2 2 2 1 1-1 2-4 3-3 8 0 1-1zM287 392l1 0 2 4-1 2-1 0-2-1-1-1 0-2 1-2zM340 392l3 0-1 0-2 1zM5 394l1-1 2 0 1 1 1 2 2 2 0 1 2 1 6 0 2 1 1 1 1 2 0 2-1 2-1 1-2-1-1 0-3-3-2-1 0-1-2-1-2 2-2 4-6 0-2-1-2-2 0-1-2-2 0-4 2-1 2 0 4-2zM343 404l1-1 4 2 2 2 2 1 2 2 0 1 1 1 1 2-22 0 2-4 2 1 2 0 0-1zM304 408l2-1 2 0 7 7-8 0-1-1-2-1-1 0-1-2zM409 408l1 0 2 2 2 4-7 0 0-2 1-2 0-1zM11 412l1 0 0 2zM276 412l2-1 2 1 2 2-5 0zM287 414l1 0 2-1 2 0 1 1z" fill="#ffaf00"/><path d="M19 -6l13 0-1 2 0 4-1 1-4 0zM158 -6l12 0 0 4-2 4 0 2 2 1 4 4 0 1 1 2 0 2 5 5 2 1 2 0 4 2 4 4 0 1 1 1 1 2-2 1-2 2 0 1-4 4-2 0-2-2 0-2 2-4-1-2-1-1-2 0-1 1-3 0-2-2-2-1-2 1 1 2 0 2 1 2 0 1 2 2 0 1-2 2-2-1-2 0-2-1-4 0-2-1-1-1-1-2 0-4 1-2 0-6 1-2 4-4 0-6 2-4-1-2-1-1 0-1-2-2-2-1-1-1zM183 -6l2 0-1 1zM244 -6l3 0-1 1zM264 -6l35 0-1 1 0 2 2 2 6 0 2 1 6 0 2 1 2 0 6-3 2 1 1 1 1 2-3 6 0 6-3 3-2 1-1 0-1-2 2-2 0-2-1-2-1-1-2-1-4 0-2-1-2-2-4 0 0 5 1 2 2 2 1 2-2 1-2 0-6-3-3-6-2-2 0-4-1-2-2-2-2-1-1 1 0 2 2 2 1 2 0 2-4 2-4 0-2-1-4 0-2 2-2 0-1-1 0-4-3-6-2-2 0-1zM-6 0l1 0 2 2 0 2-3 3zM256 0l2-1 2 1 2 2 1 2-1 2-2 1-2-1-1 0-2-2 0-2zM213 2l1-1 2-1 2 1 4 4 2 1 4 0 2 1 1 1 0 4-2 4 0 2 3 3 2 0 1-1 1-2 2-2 2 2 2 1 2 2 2 1 2-4 0-2 1-2 0-2 1-1 2-1 2 0 4 2 2 0 2 1 1 1 1 2 0 5-1 1-1 2 0 4-2 4-2 2-1 2 0 4 4 4 1 0 4 4 1 2 1 1 0 1 1 2 0 2 3 3 2 0 0-1 1-2 0-4 1-2 2 0 2 1 1 1 2 4 1 1 0 1 4 4 1 0 1 1 2 0 2-1 2 0 4 2 2 2 3 0 2 2-1 2 0 9-2 1-2-1 0-1-2-4 0-1-2 0-3 3-1 2 1 2 1 1 4 0 2 1 2 2 1 2-1 1-2-1-1 0-1-1-2-1-2 0-2 1-3 3-1 2 2 4 2 1 4 0 2 1 1 0 1 1 6 3 4 0 1 2 2 2 1 0 2 2 0 1 1 1 1 2 0 4 1 2-1 2 0 1-2 1 2 2 0 4 1 2 1 1 2 0 2 1 2 0 2 1 0 1 1 2 0 6-1 2-4 4-2 1-1 1-3 0-4-4-1 0-1-1-2 0-2-1-2 1-1 1-3 0-8-4-1 0 1 0 2-4-1-2-2-2-1 0-2-1-2 0-1 1 0 4-1 1-4 0-2-1-2 0-2-1-2-2-2-1-2 0-2 2 0 6-2 1-4-2-2 0-2 1-1 2 1 2 0 2 2 4 0 2 1 2 0 2 5 10 0 4 4 4 2 1 1 1 1 2-1 2 0 2 1 1 0 1 6 3 2 2 2 1 2 0 1-2 0-6 1-1 2 0 2 2 0 1 1 2 1 1 0 1 2 4 6 6 1 0 1 1 2 1 2 2-1 2-1 1 0 1 2 1 6-3 1-2 1-1 4 0 2 1 2-1 1-1 0-6 1-1 2-1 2 1 4 0 2-2 2-1 2 0 2 1 6 6 2 0 1-1 0-2 1-2 0-2 2-4 0-2-1-2 0-2-1-2 0-4-4-8 0-3 2-1 4 0 2 1 4 0 2-1 1-2 0-2 3-3 2 0 1 1 2 4 2 2 3 6 2 2 2-1 4 0 2 1 2 0 2 2 1 2 0 2-5 5 0 1-1 2 1 2 2 2 1 0 1 1 2 1 2 0 2 4 0 6 1 2-1 0-2 1-6 0-2-1-2 1 0 1-1 2 0 2-2 4-1 1 0 1-1 2 0 2-1 2 0 1-4 2 0 3 2 2 0 1 2 1 0 1 2 1 1 0 1 1 0 1-1 2 0 2 1 2 0 1 2 2 2 1 1 2 0 2-1 1 0 3 2 1 2 0 2 1 1 0 1 1 2 1 0 2-1 2 0 2 1 2-1 2-1 1-2 1-2 0-4-4-2 0-2 2 0 2 3 6-1 2 0 1-2 1-2 2-1 2-2 2-5 0-1 2 1 2 0 1 1 1 1 2 0 1 2 1 2 2 0 2-4 2-3 6 0 2 1 2 0 2 2 4 0 2-4 4-1 2 2 4 2 2 0 2 1 2-2 1-2-1-4 2-1 0-1 1-2 0-2-1-4 0-2-1-1-1-1-2 0-4-1-2-1-1-2-1-6 0-2-1-4 0-1 1 0 2-1 1-2 1-2 2 1 2 0 2 3 6 2 2 0 1 2 2 0 7-1 2 1 2 0 2 1 2 1 1 0 1 1 2 0 2-1 0-2 1-1 1-1 2-2 2-4 2-1 2-3 3-4 0-1-1-1 0-2-2-2 0-2-1-2 1-2 0-2-2-1 0-1-1-2 1-2 0-4 2-1 2-1 1-2-1-2 0-12 6-2 0-8-4-2-2-2 1 0 3 1 2 0 4-1 0-1 2-1 1 0 1-2 2-2 1-2 2-2 0-2-2 0-3-1-2 0-2-1-1-4-2-2 0-2 1 0 4-2 2-2 0-4-2-1 2 2 4 1 1 2 1 4 0 2 1 1 1 3 6 2 2 4 0 2 2 0 4-2 0-2-1-2-2-2 0 0 1-2 2-86 0-2-1-2-2-2 0-2 2 0 1-20 0 4-4 2-1 1-1 0-2-2-4 0-2 2-4 1 0 2-2 1 0 0-2-3-3-2-1-2 0-2 1-2-1-1-2 0-2-4-4-2-4 0-6-1-2-2-2-4 0-2-1-6-6-2-1-2-2-1 0 0-2-3-3-2-1-1 2 1 2 2 1 1 1 1 2 0 4-1 2-2 2-1 2 0 1-2 0 0-5-1-2 0-2-1-1 0-1-2-1-3-3-1-2 1-2 0-2-1-2-2-1-2 1-1 2 0 2-2 2-3 0-2-2-1-2-3-3-2 0-2-1-3 0-1 2 2 4 4 4 1 0 1 2-2 1-2 0-2-1-2 0-4-2-2-2-1 0-2-2 0-2 1-2 0-4 2-4 1 0 1-2 0-4-1-2-1-1-2-1-2-2-2-1-3-3-1-2-4-4 0-1-1-1 0-2-1-2 0-2-1-2-1 0-2-1-6 0-6-3-4 2-2 0-2-2 1-2 2-2 3 0 2 1 2 0 4-2 1-1 0-2-1-2-2-2-2-1-5-5-1-2 2-2 2-1 6 3 2 0 2-1 1-1 1-2-1-2-2-2-1-2-1 0-1-1-4 0-2 1-4 0-2-1-4 0-2 2-2 0-1-1-1 0-1-2-1-1 0-1-1-2 1-2 2-1 2 0 2 1 4 0 1-2 0-4-1-2 0-2-1-2 1-1 0-3-2-1-6 0-4-4-2-1-4 0-2 1-4 0-2 1-4-2 0-29 0 1 1 2 3 3 4 0 1 1 1 0 2 1 2-1 1-2-1-1 0-5 2-2 2 1 2 2 2 1 6 0 2-1 2-2 6 0 2-1 2-2 1 0 1-2 0-4-1-2 0-2-2-2 0-4 1-2 0-2-1-2-5-5-2-1-1 0-1-1-2 0-2-2 0-2 2-1 2 1 4 4 6 0 2 1 1 0 1 1 2 1 0 3-1 1 1 2 0 1 1 1 0 2-2 4 0 2 1 2 2 1 1 1 1 0 2 2 1 0 1 1 2 0 2 1 2 2 0 2-1 2 1 1 2-1 2 0 4 2 1 2-1 2-4 4-1 2 1 1 2 0 2-1 4 2 4 4 2 1 2 0 2 1 2-1 1-1 3-6 0-1 1-1 1-2 2-2-2-4 0-10-2-4-2-2-4-2-2-2-2-1-1-1-1 0-6-3-1-1-1-2 1-2 1-1 0-1-1-2-3-3-2-1-2 0-2 1-2-2 0-4 1-1 4-8 0-4-1-2 0-1 0 1-2 1 0 1-4 2-2 0-2-1-1-1 1 0 1-2 0-2 1-2 0-2 2-1 2 0 2 1 1-2 1-1 2 0 6 3 2 2 0 1 1 1 2 4 2 2 1 0 2 1 2 2 0 1 2 2 0 1 4 2 6-3 0-1 1-1-7-7-2-1-2-2 2-2 1 0 1-1 2-1 1-2 1-1 0-5-2-2 0-1-6-3-2 0-1 2-1 1-2 0-1-1-2-4 1-1 4 0 0-1 1-2 0-2-2-2-1-2-2 0-2 2-1 2 1 2 0 2-2 0-2-1-2 0-2-1-1-2 0-4-1-2-2-1-10 0-4 2-6 0-2-1-2 0-3-6-1-1-8 0-2-1-2 0-1 2-1 1-2 0-2 1-2 0-2 1-2-1 0-6 2-2 2-1 2-2 0-1 3-6 3-3 2 0 2-1 4-4-2-4 2-2 2 1 1 1 1 0 2 2 2 1 1 1 1 2 0 4 1 2 7 7 2 1 2-2 0-2-1-2-1 0-2-4 0-2 2-2 2-1 2 2 0 1 2 2 4 0 2-1 2 1 2 0 2-1 3-3 1 0 4-2 0-2-3-6 0-2 1 0 4-2 1 0 1-2 0-2 2-2 2 1 1 1 3 6 0 6 1 2 1 1 2 1 2 2 1 2 0 6 1 2 2 2 1 0 1 1 2-2 0-1 1-2 0-4 1-2 0-1 2-2 4 0 0 1 6 3 2 0 2 1 1 0 0-4 1-2 0-1 3-3 0-2 1-2 0-2 2-4 1 0 1-1 0-5 2-1 2 1 1 0 2 2 2 4 1 1 2 1 4 0 4-2 1 0 1-1 2 0 3-3 1-2 2-2 1-2-1-2 1-2 1-1 0-1 2-4 0-2 1-2 1-1 2-1 1-2 0-2 1-1 6 0 4 2 2-1 2 0 2-1 2 0 6 3 2 0 2-2 1 0 1-1 2-1-1-2 1-1 1 1-1 2 4 8 0 2 2 1 4-2 2 0 2 1 2 2 1 0 3 3 2 0 2-1 3 0 1 1 2 1 2 2 2 0 2-1 3-3 1-2 0-2-1-2 1-2 0-4-2-4 0-2-1-2-1-1 0-1-1-2-1-1 0-1-1-2-2-2-1 0-2-2-6-3-8 0-2-1-4 0-2-1-2 0-2-1 0-4-4-2-1-2 1-2 2-1 3-3 1 0 2-2 1 0 1-2 4 2 2 0 1-2zM242 40l0 2 2 4 2 2 2-1 0-1 1-2 0-2-1 0-2-2zM250 70l-2 2 0 5 2 0 0-1 1-2 1-1 2-1 0-2 0 2 2 0 6 6 2 0 2-4 0-2-1-2-1-1-2 0-2-1-4 2zM294 268l-1 2 1 1 1-1zM302 249l-1 1 1 2 0 1 1 1 1 2 2 0 2-2 1-2 0-2-1-1zM316 228l-2 1-2 2-2-1-8 0 1 2 1 0 2 1 4 4 2 1 2-2 1-2 1-1 0-1 1-2zM322 328l-1 2 0 2 2 0 1-2-1-2zM328 318l-1 0-1 2 2 2 2-1 1-1-1-2zM344 212l-1 2 1 2-1 2 0 2-1 2-2 1-2-2 0-1-2-2 0-1-2-1-2 0-2 2-1 2 0 2 1 2 2 1 2 2 2 0 2 1 10 0 4-2 2-4 0-4-1-2 0-4-1-1-2-1-2 0zM370 194l0 2 2 1 1 1 2 0 0-2-1-1-2-1zM380 190l-1 2 1 2 2 2 2 1 2-1-1-2-3-3zM14 215l-3 3 1 1 0 3 4 8 0 2 2 2 2 0 2 1 2 0 2 1 4 0 0-2-1-2 0-6-1-2 0-1-4-4-6-3 0-1-2-1zM36 234l-1 0-1 1-2 1-1 0 0 2 4 4 1 0 4 2 5 0 1-1 0-1 1-2-1-2 0-1-1-1-1-2-4-2zM42 210l-1 2 2 2 1 2 1 0 1 1 2-1 0-2-1-2-1-1-2-1zM62 239l-2 1-1 2-1 1-2 1-4 0-4 2 0 2 1 2 0 2 4 4 1 0 2 1 2 2 2 1 2 2 1 0 0 2-1 1 0 1-2 2-2 1-1 1 1 2 2 1 4-2 2 0 6 3 2 4 2 1 4 0 2-1 2 1 2 0 1-1-1-2 0-1-2 0-4-2-3-3-1-2 0-2 2-4 2 0 2 1 1 1 1 2 0 1 1 1 0 2 1 1 2 1 1-2 0-4 1-2 0-2-1-2-1-1-2-1-2 0-8-8-1 0-6-6-2-4-1 0-2-1zM70 234l-1 2 1 1 1-1zM84 172l-1 2 1 2 2 1 1-1-2-2zM72 102l-1 2 0 4 1 2 0 1 1 1 3 0 1-2 1-1 0-3-1-2-1-1-2-1zM92 122l-1 0 0 2 1 1 2-1 1 0-1 0-1-2zM100 124l-1 0 0 2 3 0-1-2zM118 100l-1 2-1 0-2 2-2 1-2-1-2 0-2 1-1 1 0 2 1 1 2 0 2 1 2 0 2 1 4-2 2 0 1-1 1-2 0-2zM182 397l-1 1 0 2 1 2 2-1 3-3-1 0-2-1zM198 397l-2 2 0 3 1 2 3 3 2 1 2 0 6-6 0-2-1-2-1-1-2 0-2 1-2-1zM218 405l-1 1 1 2 2 2 2 0 0-3-2-2zM236 402l-1 2 0 2 1 2 2 2 2-1 1-1 0-2-3-3zM246 362l-2 2 1 2 1 1 4 0 1-1 0-2-1-1-2-1zM304 339l-1 1 0 4 1 1 2 1 0 1 0-6zM306 287l0 1 2 2 2 1 2 0 1-1-1-2-2-1zM342 293l-1 1-1 2-2 2 0 2 1 2 3 3 4 0 2-1 0-1 1-1-1-1 0-1-2-2 0-1-1-1-1-2zM346 272l-1 0 0 4 1 1 4 0 1-1 1-2-2-2zM372 272l-1 0 0 2 1 1 2-1 0-1-1-1zM38 254l-2 2 3 6 3 3 4 2 1-1 0-6-2-4-1 0-2-2zM56 289l0 2 2 1 2-2-2-1zM68 289l-2 1 0 2-1 2 0 6-1 2-2 1-2 0-4-2-2 1 0 2 1 2 4 4 1 2 2 2 2 0 2-1 2 0 2 1 1 0 1 1 2 1 4-2 1-2 0-2-1-2 0-4 1-2-3-6 0-2-1-2-2-2-1 0-2-1zM308 348l-1 0 0 2 1 2 2 2 2 1 2 0 0-3-2-2zM350 312l-1 0 1 2 2 0zM310 366l-2 2 2 1 2-1 2 0 0-2-2 1zM191 8l1-1 2 1 0 1-2 1zM310 14l2-2 4 4 1 0-1 0-2 1-2 0-2-1-1 0zM0 42l2-1 2 0 6 6 0 1 1 2-1 0-2 1-2 0-2-1-2-2-2-4zM146 48l2 2 1 2 1 1 0 1 1 2-5 0-2-2-1 0-1-2 1-2 1-1zM118 52l0-1 5 5 2 4 0 2-1 2-2 2-2 0-2-1 0-1-2-4 0-2 1-2 0-2zM108 66l2 0 6 3 1 1 0 2-1 2 0 1-1 1-5 0-2-1-3-3 1-2 0-1 1-1zM417 122l1-1 2 2 0 31-2 0-2-1-4 0-2-1 0-2 2-2 2 0 2-4 0-2-1-2 0-14 1-1 0-1zM370 134l1 0 2 2-1 2-2-1-1-1zM50 136l0-1 2 0 2 1 2 2 1 0 1 2 1 0 0 2-1 2-2 1-4 0-4-2-1-1 0-2 2-2zM7 142l1-2 4 2-1 2-1 1-2 0 0-1zM420 162l0 5-1-1 0-2zM34 166l2-2 2 2-1 2-1 1-2-1zM3 176l1 0 2 2-2 0zM408 184l2 0 0 3-1 1-1 2-2 1-1-1-1-2zM-6 196l4-2 2 1 0 1 1 2-1 2 0 1-2 0-2-1-2-2zM409 198l1-1 2 1 1 2 0 2-1 1-2 0 0-1-1-2zM-1 286l1-1 2-1 2 0 4 2-2 1-1 1-5 0zM10 286l2 0 2-1 2 0 0 2-1 1 0 2 2 4-1 2-2-1 0-1zM-5 298l3 0 4 2 4 4 0 9-2-2-2-1-1-2-1-1 0-1-4-4 0-1-1-1zM7 314l1-1 1 1-1 1zM9 316l1-1 0 2zM384 326l2-1 6 3 1 2-2 4-7 7-2 0-3-3-1-2 0-1 1-1 1 0 2-2 2-4zM31 332l1-1 2 0 3 3 1 2 0 2-1 2-1 1-2-1-2-2-1-2zM45 334l2 0 4 4-1 1-2-1-2-2zM15 340l1 0 4-2 2 1 4 0 2 1 0 2 1 2-1 2-2 1-4 4-4 0-1-1-2-4-1-1 0-1-1-2zM378 346l2 0 1 2-1 0zM362 360l2-1 2 0 2 1 2 4 0 4 1 2 1 1 0 3-2 0-1-2 0-2-1-2-4-2-2-2-1-2zM86 368l2-2 1 2 2 2 1 2 2 2 0 1 3 3 1 2 2 2 1 2-1 2-4 4 1 2 4 4 0 4-1 2-2 0-2-1-3-3-2-4 1 0 2-4 0-2-1-2 0-2-1-1 0-1-2-2-2 0 0 2-3 6 0 2 3 3 2 1-4 0-8-4-2 0-4-2-2-2-1 0 0-2 2-2 3 0 2 1 2 0 2-1 0-2 1-2 0-2-1-2 0-2 1-2 1 0zM349 372l1 0 1 2-1 1-2-1zM119 380l1-1 2 1-2 1zM121 382l1-2 1 2zM119 392l1-1 2 0 2 1 2 2 0 2-2 2-2-1-3-3zM64 404l3 0 1 1 0 1 1 2 0 2 2 4-4 0 0-2-1-1 0-1-1-2-1-1zM47 408l1 0 1 2-1 1-2-1 0-1zM345 408l1-1 4 4 0 1 1 2-5 0-2-2 0-3zM53 410l1 0 2-1 2 1 4 4-9 0z" fill="#ffe000"/><path d="M274 -6l5 0 1 2 0 2 4 4 1 2-1 1-2-1-1 0-1-1-4-2-2-2 0-1-1-2zM204 12l2-1 2 1 2 0 2-1 2 1 1 2 0 2-1 1-2-2-4 0-2 2-3-3zM171 16l2 0 4 4 0 2-3 0-4-2-1 0-2-2 1 0 2-2zM253 16l1-1 2 0 2 1 1 2-2 2-1 2 2 4 0 3-3 3-1 2 0 1-1 1-5 0-8-4-1-2 0-2 1-2 2 1 0 1 2 2 4 2 2-1 2 0 2-1 0-2-2-4 0-5 1-1zM222 20l4 2 1 2-1 1-2-1-2-2-1 0zM255 48l5 0 2 1 1 1 2 4 0 2 1 2 0 6-2 1-6 0-2 1-4 0-2-1-2 0-1-1-1-2 0-6 1-2 1-1 2-1 1 0 2-2 1-2zM181 52l1-1 2 0 2 1 2 2 1 2 0 2 1 1 0 1 2 1 2 2 4 0 2-1 4 0 2-2 2-1 2 0 2 1 2 2 2 4 2 2 2 0 6-3 4 4 2 1 2 2 1 2 3 3 4 0 2 1 2 2 4 2 2 0 4-2 2 1 0 1 2 2 0 1 1 1 1 2 0 1 1 1 1 2 0 1 1 1 1 2 2 2 1 0 1 1 2 1 1 2 3 3 4 2 2 0 2 1 2-1 0-2-2-2-4-2-1-1-1 0-4-2-1 0-5-5 0-1-1-2 0-2 1-1 2 0 1 1 2 4 1 1 2 1 6 0 2 1 13 13 1 2 2 1 2 0 2-1 2-4 2-1 2 0 2 1 1 0 1 1 0 1 1 2-1 0-4 2 0 2 1 2 0 4-1 2 0 1-4 0-2-1-1 2 2 4-3 3-2 0-1-1-1 0-6-3-2-2-4-2-1 1-1 2 0 2-2 4-2 0-2-2-1 0-1-1-4-2-4 0-2-1-2 0-1 2 2 4-1 2 0 1-2 0-2 1-2 0-2 2-1 2 1 2 0 8-1 2 0 2-1 1 0 1-4 2-1 2 2 4 6 6 1 2 0 1 1 1 0 2 1 2-1 2-3 0-2 2 2 2 2 1 2 2 2 1 2 2 2 1 4 0 2-1 2 1 1 1 1 2 0 2-2 2-4 2 0 3 1 1 3 6 2 1 2-1 0-2 1-2 3 0 2 1 2-1 1-2 0-4 1-2 2-2 4 0 2 1 2 0 3 3 1 2 0 4 6 6 2 0 2-1 2 0 2 1 4 4 2 1 2 2 0 3-2 2-2 0-2-1-2 0-2 1-5 0-2-2-1-2-1 0-1-2-2 0-2 1-2 2-2 0-4 4-2 1-2 0-2-1-1-1-3 0 1 2 1 1 2 1 1 2 2 2 1 2 0 1 1 1 1 2 2 2 0 9-1 1-1 0-2 1-1 1 0 2 1 2 2 2 1 2-5 0-2 2 2 4 0 2 2 4 6 6 0 1 1 1 0 2 1 2 4 4 1 2 3 3 6 3 1 0 1 1 2 1 2 0 1-2 0-2-1-2 0-2-1-2-2-2-2-4 0-2 1-2 1 0 1-1 2-1-2-2-2-1-4-4-2 1 0 2-2 2-4 0-1-2 0-2 1-2 2-1 2 0 0-1 1-2 0-2 1-2 2-1 2-2 0-1 2-4 0-6 2-2 2 0 2-4 0-1 3-3 0-4 1-1 2 0 2 1 1 2-1 2 0 2 10 10 1 2 0 2-1 1 0 3 2 2 2 1 1-1 0-2 1-2 0-4 1-2 1 0 4-2 2-2 1 0-3-3-2-1-3 0-1 1-2 1-2 0-6-6 0-2 2-1 10 0 4-2 1-1 1 0 2-1 4-4 2 1 1 0 1 1 0 1 2 2 2 1 1-1 0-2-4-4-2-4-2-2-1-2 2-2 0-1 1-1-1-2 0-6 1-2-2-4-2-2 1-2 0-1 2 0 1 1 1 0 2 1 3 3 1 2 2 2 1 0 1 2 1 0 1 1 4 2 1 1 0 4-1 2-2 2-2 1-6 0 0 1 1 2 2 2 3 6 4 4 1 2 0 4 1 2 0 2 2 4-1 2-1 1-2 0-1 1 0 2 1 1 2 0 1 1 1 0 2 2 1 2 0 2-1 0-2 1-2 0-2-1-2 1 0 5-2 1-2-1-1 0-1-1-2-1-2 0-2 2 0 2 1 2 0 2 1 2-2 2-2 0-2-1-5-5 0-4-1-1-6 0-2 1-6 0-2-1-4 0-1 1 1 1 0 1 1 2 0 2-1 1-2 1-1 0-2 2 0 8 1 2 0 1 3 3 1 2-1 2 0 2 4 8-1 2-4 2-2 2-2 0-6-6-2-1-2 0-2 1 1 2 0 2 1 1 0 1 1 2-1 2-1 0-2 2 0 2 2 2 1 2 0 4-1 2 0 2-1 2 0 2 2 2 2 0 2 1 4 0 4 2 5 5 2 4 0 6-1 2 0 1-1-1-1 0-2-2-1-2-2-2-1-2 0-1-2-2-2-1-2 0-2-1-3-3-1-2-2 0-1 2-1 1-2-1-6-6-1-2 1-2 0-1 1-1-1-2-2-1-4 0-2 1-2 0-2 1-1 1 0 4 1 2 2 2 1 2-2 4-2 2-1 2 0 2-2 1-1 1 0 2 1 2 0 1 1 1 1 2-1 2 2 4 2 2 1 2 0 2-1 2-2 2-1 2-2 1-2 0-1-1-1 0-2-2-1 0-3-3-2-1-2 2-2 0-2-1 0-1-1-2 1-2 0-2-4-2-4 0-2 2-1 0-1 1-3-3-1-2-4-2-2 0-6-6-4-2-2 1-1 1 0 4 4 4 0 2-1 1-4 2-4 0-2 1-1 0 0 2 1 1 0 1 4 2 2-2 4 0 4 2 2 2 0 2-2 1-8 0 0 1-2 2 0 1-2 0-1 1 1 1 0 1 1 2-1 2-2 1-1 1-1 0-2 1-6 0-2 2-1-1-1 0 0-2-4-4-4-2-5 0-1-1-2 1 0 2-1 2-1 1-2 1-1 0-1 1-4 2-4 0-2 1-2 0-2 2-1 2 0 2 2 4 2 2 1 2 0 2-1 2-1 1-2 0-2-1-4-4 0-1-2-1 2-4-1-2-3-3-2-1-4 0-2-2-1 0 0-2-1-2-4-4-2-1-4-4-2 0-2-1-2 0-2 1-2 0-2-2-2-1-1-2 0-2 1-1 0-3-2-2-1-2-3-3-2 0-2-1-2 0-2-2-1-2 0-4-1-2 0-6-2-1-3-3 1 0 2-4 0-2-2-4-2-1-1-1-1 0-2-1-2 1-1 2 0 2 2 2 0 2 1 2 0 2-2 1-2 0-2 1-1 0-1 1-2 0-3-3-1-2 2-1 0-1 1-2-1-2-2-2-2 2 0 1-1 1-3 0-2-1-1-1-1 0-2-2-1 0-1-1-2-1-2 1 0 5 2 4 0 1-2 1-4-2-2-4 0-2-4-8-1 0-1-1-2-1-1 0-1-2 2-1 2 1 2 2 2 0 1-2-2-2 0-4 2 0 1 1 4 2 2 0 2-1 1 0 1-1 2 0 4 4 2 0 1-1 1-2-1-2-1-1-2-1-2 1-1-1 0-4 2-2 1 0 2-4 0-2-6-6-1-2 0-2 1-2-3-6 1-1 2 1 6 0 2 1 2-1 0-5 1-1 1 0 2 1 4 4 0 1 2 1 1 1 4 0 1-1 0-3-2-4-2-2 0-1-1-1 0-2-3-6 0-1-1-1-2-4-4-4-1 0-2-2-4 0-4-2-2-2-1 0-4-4 0-4 1-2 0-2 1-2 3 0 2-1 2 0 4-2 1-1-1-2 0-2 1-2 1-1 2-1 1-2 0-4-1-1 0-1-2-2-1-2 0-2-1-2 0-6 2-4 2-1 1-1 0-2-1-2-2 0-1 2-1 1-2 0-1-1-1-2 0-2-1-2 1-2 4 0 1-2 1 0 2-2 6 0 2-2 1-2-3-3-4-2 0-3 2-2 1 0 1-1 2-1 1 0 1-2-2-2-4-2-2-2-1-2 0-4 1-2 2 0 1-2-1-1-2 0-2-1-2-4 0-2-1-2 1-1 2 0 2 1 2-1 2-2 2 0 1-1 1-2 2-1 4 0 0-3-1-2-1-1 0-1-4-4-4 0-4-2-2-2-2 0-2 1-2 2-2 1-2-1-2-2 0-3 1-2 1-1 2-1 0-1 2-1 2 1 2 2 2 1 2 0 2 1 2 0 2 1 4 0 2 1 2 0 2 1 2 0 2-1 2 0 6-3 1 0 2-2 1-2 2-2 1 0 0-2-2-2-1-2 0-2 2-2 6 0 1-2 0-6 1-1 2-1 4 0 2-1 2 0 2-1 2-4 6-3 1-1 1-2 2-2 1 0 2-2 0-2-1-2 0-8 2-2 12 0 2-1zM212 362l-2 1-4 0-1 1-1 2-4 2 1 2 3 3 4 0 0-1 1-2 2-2 0-2 1-2 4 2 2-1 1-1-1-1 0-1-4-2zM288 114l-1 0-1 2 4 2 2-1 4 0 1-1 0-2-1-1-6 0zM264 257l-1 1-1 2 0 3 2-1 2-2-1-2zM278 237l-1 1-1 0-1 2 0 2 1 2 0 1 2 1 2 0 4 2 0-3-1-1 0-2-1-2-2-2 0-1zM292 213l-1 1 0 2 3 3 2 0 2-1 0-2-2-2-2-1zM320 260l-4 2 0 2 2 2 2 1 2 0 2-1 0-4-2-2zM228 380l-1 0 1 1zM130 117l-2 1 0 2 1 2 2 0 2-2-1-2zM176 64l-2 2 2 2 2 1 2 2 2 1 2 0 1-2-1-2-2-1-1-1-1 0zM216 368l-2 2 3 6 1 1 2 1 2 0 2 1 2-1-2-2-1-2-5-5zM276 352l-1 2 3 3 4 2 1-1 1-2-1-2-2-2-1 0-2-1zM195 54l1-1 1 1zM280 62l0-2 2 2 2 1 2 2 2 1 2 2 0 2-2 1-6-3-2-4zM272 70l2-1 2 1 1 0 1 2 0 8 1 2 2 2 0 2-1 1-9-9-1-2 0-2zM287 80l1-1 2 1 1 2 0 2-1 1-2 0-2-1-1-2zM74 86l2-1 2 1 1 2-1 2-2 0zM26 98l2 0 2 4-1 2 0 2-1 1-2 1-3 0-2-2 3-6zM59 102l1-1 2 1 1 0 1 1 2 1 0 2 1 2-1 1-4 0-3-3-1-2 0-1zM84 102l2-2 2 4-2 2-2-1zM51 110l3 0 4 2 1 2-1 2-2 1-6 0-2-1-1-2 1-1 0-1 2-1zM322 134l3 0 2 2-1 2-2 1-2 0-2-1-1-2 1-1zM72 174l2-1 2 0 3 3 1 2 0 2-2 1-2 0-4-2-1-1-1-2zM340 196l2-1 2 1 0 1 1 1-1 0-2 1-2-1zM337 210l1-1 2 1 0 2 1 2-1 2 0 1-2-1-2-2 0-3zM52 220l2 1 0 1 1 2 0 4 1 2-1 2 0 2-1 2-2 2-2-2-1-2-1-1 0-1-2-2-1-2-2-2 0-4 1 0 2-1 4 0zM35 224l1 0 1 2-1 2-2-1 0-3zM5 228l1 0 2-1 2 0 1 1 0 2-1 1-2 1-2 2-1 2-1 1-1-1 0-2 1-2 0-2zM298 236l6 0 2 2 1 2 0 2-1 2-2 1-4 0-2-1-2-2-1-2 1-1 0-1zM16 240l2-1 2 0 1 1-1 2-3 0-1-1zM28 244l2-1 2 0 2 2 2 1 1 2-1 2-2 1-4-2 0-1zM29 258l1-1 1 1 2 4 0 2-1 2-2 1-1-1-1-2 0-4zM53 278l4 0-1 1-2-1zM349 282l1-1 4 0 3 3-1 2 0 2-2 0-2-1-3-3zM46 284l3 0 0 2-1 2-2 1-2-1-1 0 0-2 1-1zM366 288l2-1 2 1 2 2 0 5-1 1-1 0-4 2 0 2 1 2 0 2 1 1 0 1 1 2 0 8-1 2-2 2-1 2 2 4 1 1 0 1 1 2-1 1-4 0-2-1-1 0-2-4 0-2-2-2 0-10-1 0-4-4 2-1 2 1 0 1 2 2 2 0 0-1 1-2-1-2 0-1-1-1-2-4-1-1 0-1-4-4-1 0-1-2 0-1 1-1 1 0 2-2 2 0 1 2 1 0 2 1 2 0 2-2zM55 312l1-1 0 2zM315 348l1-2 2 0 2 1 1 1 2 4-1 2 0 1-2 0-3-3zM305 356l1 0 2 1 1 1 1 2-2 2-2 0-2-1-1-1 0-2zM324 360l8 4 1 0 2 2-1 2 0 1-4 0-2 2 0 1-2 2-2 0-2-1-1-1-1-2 1-2 0-4 1-2zM252 370l2 0 4 2 1 0 1 1 2 0 1 1 0 2-1 2 1 2 0 2-1 2-4 0-4-2-2 0-2-2-1-2 0-6 1-1zM148 398l2 0 2 2 2 4 0 2-2 1-2 0-3-3-1-2 0-2zM187 408l1-1 2 0 2 1 2 0 2 1 1 1 1 2 0 2-12 0 0-4zM230 410l0-1 1 1zM232 412l4 2 1 0-5 0z" fill="#f4ff15"/><path d="M180 60l2-1 2 2 0 2-2 0-1-1zM249 60l1-1 2 0 0 1 1 2-1 1-2-1 0-1zM167 62l1-1 0 2zM207 64l3 0 6 6 4 2 4 0 1 2-1 2-2 2 0 2 1 2 1 1 4 0 4-2 12 0 6 3 4 0 2 1 2 2 0 1 1 2 0 2 1 1 0 1 2 4-2 1-2 0-2 1 0 2 2 4 4 4 1 0 1 1 2 1 2 2 0 4-1 2-1 1-2 0-2-1-2 0-1 2 0 8-2 2-1 0-4 2-1 0-1 1-2 0-2 1 0 2 2 4-2 2-2 0-2-1-3-3-1-2 0-1 2-1 2-2-2 0-4-2-1 2 1 2-1 2 0 4 1 2 0 5 1 1 1 2 2 2 1 0 3 3 0 1 2 2 0 1 1 1 3 6 2 2-2 1 0 1-1 2 0 4 3 6 2 2 0 1 4 2 3 3 2 4 1 1 0 1 1 2-1 2-2 1-1 1 0 2 2 4 1 1 6 3 1 0 2 2 1 2-1 2-3 0-2-2-1 0-1-1-2 0-2 1 0 2 2 4 4 4 1 2-2 2-1 0-2 2-1 2 0 4 3 3 2 1 0 2-2 0-4 2-2 2 0 6-1 2 0 4 1 2 0 2 2 2 4 2 2-1 2-2 2-1 2 1 4 0 2-1 1 0 1-1 2 1 1 2 1 1 0 1 2 4 2 2 0 1 3 3 0 2 3 6 2 1 3 3 2 4 1 1 0 1 2 2 2 4 0 2-1 2 0 2 1 2 0 2 1 2-4 4-3 0-4-4 0-1-2-1-2 0 0 2-2 4-2 0-2 1-2 0-1 1 0 4 1 1 0 1 2 4-1 2-1 1-2 0-2 1-1 0-1 1-8 4-1 1-1 2-2 1-1 1-1 2 0 2 2 2 2 1 3 3 1 2 0 2-2 0-2-1-2 0-4-2-2 0-2 1-8-4-2 0-2-1-4-4-4-2-6 0 0 1-4 4-2 1-4 0-2-1-2-2-2-1 0 2 1 1 3 0 0 2 4 4 0 1 1 1-1 2-2 0-2-1-4-4-2-1-4 0-2 1-1 1-7 0-2 2-1 2-4 4 0 2 1 1 0 1 2 4-4 2-1 0 0 8-1 1-2 0-4 4-2 1-2 0-2 1-6 0-2 1-1 0-1 1 0-1-8-4-1 0-1-1-2-1-2-2-2-1-6-6-4-2-6-6-2-1-2-2-1-2-3-3-2-1-2-2-1-2-1-1 0-1-2-4 1-2 2-2 0-2-5-5 0-1-1-2 0-2 1-2 0-1-2-1-2 0-2-1-2-2-4-2-3-3-1-2 0-1-4-4-4-2-2 0-1-1-1-2 4-4 4 2 5 0 1-2 0-2-2-2-1 0-1-1-2 0-2-1-2-2-1-2-1-1 0-1-1-2 2-2 1-2 2-1 2 1 1 0 1 1 2 0 2 1 4-2 2-2 0-2-1-2 0-2 2-2 1-2-4-8-2-1-2 0-1-1-1-2 2-2-1-2-2-2-1 0-6-6 0-1-1-1-2-4-3-3-2-1 2-2 2 0 2-2 1-2 0-2 1-1 2-1 2 0 2-1 1-1 0-6-1-2-2-1-1-1-1-2 1-2 0-2-1-2-4 0-2-1-1-1-1-2 0-4 1-2 1-1 4-2 0-1 1-2 0-8 5-5 4-2 3-3 0-6 2-4-1-1 0-1-1-2 0-4-2-4-4-4 0-4 1-1 3 3 1 2 6 3 0 1 2 2 1 0 1 1 2 0 4 2 1 1 0 2 3 6 0 1 1 1 1 2 1 0 0-2-1-2 0-4 1-2-1-2 0-6-1-2-1-1-4-2-8 0-1-1-1 0-2-2-2-1-1-1-1 0-2-2 0-4 2-2 2 1 2 0 1 1 3 0 1-2 1-1 0-1 1-2-1-2 0-2-1-2-1 0-2-1-2 0-3-3 0-2 1-1 2-1 2 0 2 1 2 0 2 1 2 2 1 2 2 2 1 2 2 1 6 0 2-1 0-3 1-1 3 0 2 1 2 0 1 1 1 0 2 2 2 1 1-1 0-2-1-2 0-4 4-2 1 0-1-2-2-2-2-4 0-2-4-4-1-2 0-4-1-2 0-1-2-1 0-2 2-2 2-1 12 0 2 2 2 1 2 0 4-4 2 0 2-2 0-2-2-4 0-2-1-2-2-2 0-4 1-2 2-1 2 0 2 2 2 1 1 0 4 4 2 4 2 2 3 0 4-4 2 0 2-1 2 0 2-1 2 1 0 1 2 4 0 1 4 2 4 0 0-3-3-6-1-1-2-1-4-4-1-2 1-1 0-1 2-1 2 0zM104 213l-2 1 2 2 1 0 0-2zM118 317l0 3 2 4 4 0 2-2 0-2-2-2-2-1zM122 176l-1 2 0 2 3 3 2 0 2-1 0-2-2-2 0-1-2-2zM176 82l-1 0-1 2-1 0 1 1 2 1 2 0 2-1 1-1-1-2-2-1zM140 108l3 0 2 2 1 2 0 2-2 1-2 0-3-3-1-2zM294 122l3 0 1 2-3 0-1-1zM291 204l1-1 3 3 0 2-2 0-2-2zM312 218l0-1 2 0 1 1-1 2-2-1zM372 232l0-1 2 0 2 2 0 1 1 2-1 2 0 6-2 1-3 3-1 2-2-1 0-1-3-6 0-2 1-1 0-1zM355 234l1 0 1 2-2 0zM278 252l2-1 2 1 2 2 0 1-2 1-4 0-4 2-2-1-1-1 0-2 1-1 4 0zM353 252l1-1 2 0 2 1 2 2 0 2-1 2-1 1-6 0-2-1zM321 286l1-1 2 1 2 2 0 4-1 2 0 2 3 3 2 1 1 0 1 1 0 1-2 1-2 0-2-1-2-2 0-2-2-4 0-2-1-2zM87 290l2 0 1 2-2 1-1-1z" fill="#d7ff4b"/><path d="M216 76l2 2-1 2-1 0-1-2zM184 88l4 0 4 2 2 2-2 1-3 3 1 2 0 2 2 4-2 2-2 0-2-1-4 0-2 1-2 0-1 2 0 4-1 2-2 0-3-6-1-1-4-2-2 0-2-1 0-2 2-2 2-1 2 0 1-1 1 0 2-2 2-1 6 0 1-1 0-4 1-1zM221 88l5 0 2-1 2 0 2-1 4 2 1 2 0 2-1 2 2 4 4 4 2 0 2 2 1 2 1 1 6 0 2 1 4 4 0 2-2 0-2 4 0 6-1 2-2 2-3 0-2-1-2-2-2-1-2 0-2-1-1-1-3-6-4 0-4 2-1 2 0 2 1 1 0 1 2 2 1 2 0 2 1 2 0 10 1 2 0 2 3 6 4 4 0 1 1 1 4 8 0 2 1 2 0 4 1 2 0 2 2 4 1 1 0 1 2 2 0 1 3 3 3 6 0 8 1 2 0 2 1 2 0 2-1 2 0 2 1 2 0 2 2 4 0 2 1 2 0 4-1 1 0 1-1 2 0 4 1 2-3 6 0 2-1 2 0 12 2 4 0 1 1 1 1 2 1 0 1 1 2 1 4 0 2-1 1-1 4 0 0 2 1 1 0 1 10 5 0 1 3 6 0 2 1 2-1 2 0 12-4 4 0 6-1 1-4 2-2 2-2 0-2-1-1 2 1 2 0 1 2 0 2 1 2 2 1 2-1 2-2-1-4-4-1 1-1 2 0 2-2 4-6 3-2 2-2 1-2-2-1-2-1-1 0-1-1-2-4-4-1 0-6-6-2 1-1 1-1 2-6 0-1 2 1 2 2 2 0 2-1 2-1 1-2 0-4-2-2 0-1 1 4 4 0 4-2 2-1 0-2 1-2-1-4-4-4 0-2 1-1 1 0 2-1 2-3 0-1-1-2-1-2 0-4-2-1 2 0 4-1 2-2 2-1 2 0 2-1 1-2 1-4 0-2 2 1 2-1 2 0 1-1 1 0 2-1 2 0 2-3 6 0 4-2 2-1 0-2 1-4 0-2-1-2 0-2-1-2 0-2-1-1 0-1-1-2-1-4-4-2-1-1-1-1-2-2-2-1 0-20-20-1-2 1-2 1 0 2-1 1-1 1-2 0-10 1-2 0-2-1-2 0-2-1-2 0-2-1-2 0-2-4-4-4-2-2-2-1-2-2-2-1-2 0-2-2-4-2-2-1 0-1-1-2-1-2 0 2-1 0-1 2-1 1-1 5 0 2-2 1-2 0-2 4-4-1-2-4-4 0-1-1-1 0-2 1-2 2-2 1-2-1-2-2 0-2 1-2 0-3-3-1-2-2-2-2-1-1-1-1 0-2-2-1-2-2-2-1-2-2-2 0-4 2-4 2-2 2 0 4-2 2-4-1-2 0-2 1-2 2-2 0-4 1-2 1-1 4 2 2 0 1 1 1 0 2 1 2 0 1-1 1-2-1-2 0-2-1-2 0-2 2-2 4-2 2-4 0-1 2-2 2 0 2-2 0-9-4-4 0-2 2-2 0-4-1-2 1-2 4 4 0 1 2-2 0-1 1-2 2-2 1 0 2-2 1 0 3-3 0-4-2-2-6-3-1 0-1-1-4 2-2 2-2 0 0-1-1-2-3-3-2-1-4-4 0-2 2-1 4 0 6 6 6 3 2-1 1-1 1-2 0-2-2-4-2-2 0-1-1-1 0-4-1-2 1-2 1-1 2 1 4 4 2 1 2 2 2 1 2 2 0 4-4 2-1 0 0 2 1 2 4 2 2 2 2 1 2-1-1-2-2-2 0-2 2-2 1-2 0-2-3-6 0-2-1-2 0-2-2-2-1-2 1-1 4 0 2 1 1 0 1 2 0 2 2 4 2 1 1-1 0-4-1-2 0-2 4-8 2 0 4 4 2 0 2-2 0-2 2-2 2-1 1-1 1 0 2-2 2-1 2 0 2-1 0-2 2-4 0-2 4-8 2-2 2-1 2 0 2 1 1 0 1 1 2 0 1-1 1 0 4-4zM222 327l-1 1 1 1 1-1zM274 301l-1 1 0 2 1 1 2 1 3 0 1-1 0-1-1-2-1-1zM200 332l-1 0 3 0zM151 96l1-1 2 0 1 1 1 2-1 2-2 0-2-2zM133 136l2 0 4 4 0 2-1 1-2 0-1-1-1 0-2-2 0-3zM110 184l4 0 2 2 0 1 1 1-1 1-6 0-2 1 1 2 1 1 0 1 2 2 2 4-1 2-1 1-2 1-2 0-4 2-2-1-3-3 0-4 1-2 0-2 1-2 0-2 3-3 2 0 2-2zM127 188l1-1 2-1 2 2 0 1-2 2-2 0-1-1zM278 272l2 0 2-1 1 1-1 2-1 0-1-1zM242 332l2-1 4 0 1 1 1 0 1 2 2 2 0 2-1 1-2 1-4 0-2-1-1-1-1-2-2-2z" fill="#b9ff82"/><path d="M184 98l2 0 1 2-1 2-2 0-2-1-1-1 1-1zM207 100l1-1 2-1 2 2 2 1 2 2 2 1 0 2-2 0-2 2-1 0-1 2 0 4 1 2 1 1 2 1 2 0 2 1 1 1 1 2 6 6 1 2 0 4 1 2 0 6 2 4 0 2 1 2 4 4 6 12 0 2 1 2 0 2 1 2 0 2 7 14 2 2 0 1 1 1 0 2 1 2 0 4 1 2 0 4 1 2 0 8 1 2 0 2 2 4 0 8-1 2 0 6-1 2 0 2-1 1 0 1-1 2 0 14 1 2 0 1 1 1 0 2 2 4 2 2 1 2 2 2 1 2 2 2 1 2 0 6 2 4-6 6 0 2-1 2 0 2-1 2 0 1-1 1 0 2 1 1 0 1 6 6 0 1 1 1 0 4-1 2-2 1-2-1-2 0-4 2-4-4-2-1-3-3-1-2 0-4-2-2-2 0-6 6-4-2-2 0-2 1-1 1-1 2-2 1-2-1-4-4-2 0-2 1-2 0-4-2-2 1 1 2 0 4 1 2-1 2-1 0-2 1-8-4-4 0-2 2 0 1-1 2 0 4 2 4-1 2 0 2 1 2 0 4-1 1-2 1-1 2 0 2-1 2-2 1-4 0-2 1-2 0-1 2 0 2 1 2 0 1 1 1 0 8-1 1 0 1-2 4 0 2-1 2-1 0-2 1-2 0-2-1-2 0-2-1-2 0-2-1-1 0-1-1-2-1-18-18 0-1-1-1-1-2 0-2-1-2 0-6-1-2 0-8 1-2 0-4-2-4 0-6-1-2 0-2-2-4 0-6-2-4 0-2 2-2 1 0 1-1 2 0 2-1 0-2-1-2 0-2 1-2 0-4-1-2-1-1-8-4-1-1-1 0-1-2-4-4 3-3 2-1 0-8-1-2-1-1-2-1-4 0-6-3-4 0-2-1-2-2-1-2 1-1 2-1 1 0 3-3 4 0 2-1 2-4-1-2 0-2 1-2 0-2-4-4 0-6 2-2 2 1 2 0 2 1 2 0 2-1 1-1 1-2 0-2 1-2 0-4 1-2 2-1 3-3 1-2 2-2 2-1 1-1 4-8 0-16 1-2 4-4 1 0 1-1 2-1 2 0 2-2 0-2 1-2 1 0 2-1 4 0 1-1 0-4-1-2 0-2 3-6 3-3 4-2 1-1 0-4-2-2-2-4 0-2 1-2 2 0 2 2 4 0 2-2 1-2 2-2 1-2 2-1 1-1 1 0 2-1 2 0 2-1 2-2 1-2 0-6 1-1 2-1 2 0zM254 311l-1 1-1 2 2 2 6 0 1-2-1-2-2-1zM126 236l-2 0-2 2-1 0 0 2 1 2 2 1 2 0 2-1 1-2 0-2-1-1zM136 270l-2 0-2 1-4 0-1 1 0 4 3 3 2 1 2 0 4 2 2-2 1-2-1-2 0-2-1-2-2-2zM224 102l2-1 4 0 2-1 2 0 2 1 1 1 1 2 0 4-2 1-4 0-3 3-3 0-6-6-2 0 0-2 2 0zM245 114l1 0 2-1 2 0 2 1 2 4 0 2-1 2-1 1-2 0-2-1-1-2-1-1 0-1-1-2zM103 196l1-2 2 0 2 4-1 2-1 1-2 1-2-1 0-4zM275 282l1-2 2 0 6 3 2 2 0 1 2 2 0 2 1 2-1 2 0 2-4 2-4 0-2-2 0-8zM202 338l2-1 4 0 2 2 0 3-2 2-4 0-2-2-1-2z" fill="#7affb1"/><path d="M206 108l1 2-1 2-1-2zM195 118l5 0 2 1 0 1 2 1 2 2 6 3 6 0 2 1 1 1 1 0 2 1 1 1 2 4 0 2 1 2-2 4 1 2 4 4 1 2 2 2 0 1 3 3 1 2 0 1 1 1 1 2 0 1 1 1 1 2 0 2 1 2 0 4 9 18 0 1 1 1 0 2 1 2 0 2 1 2 0 2 1 2 0 8 1 2 0 2 2 4 0 4 1 2 0 6-1 2 0 6-2 4 0 4-1 2 0 12 2 4 0 2 2 4 0 1 1 1 2 4 2 2 0 2 1 2 0 4-2 4 0 4-1 2 0 2-1 2-4 2-2 0-4 2-2 0-6 3 0 1-2 2-1 2-1 1-2 1-4-2-8 0-4-2-4 0-2 1-8 0-2 1 0 4 1 2 0 2-1 2-2 0-4-2-2-2-4 0-2 2-6 3-1 1 0 8-1 2 2 2 2 1 1 1 2 4-1 2-4 0-2-2-2-4 1-2-1-1-2 0-3 3-1 2 0 2 2 1 2 0 1 1 1 0 2 1 2 2 0 1 1 2-1 2-2 1-6 0-2 1-1 2 1 2 0 2 2 4 0 10-2 4-2 2-4 0-2-1-4 0-2-1-1 0-1-1-2-1-4-4-1-2-5-5-2-1-1-2-2-2-3-6 0-6-1-2 0-6 1-1 0-1 2-2 2 0 2-1 2 0 2-1 0-4 2-1 1-1 1 0 1-2-2-4-2-2-1-2-2 1 0 3-1 2-1 1-4 0-2 1-2-4 0-2-1-2 0-2-1-2 0-5 2-2 2-1 2 0 2-1 1-1-2-4 0-2 1-2-2-4 0-4 1-2 0-12-1-2 0-2-1-2 0-2-1-2 0-2-2-4 0-2-1-2 0-4-4-4-1-2 0-2-1-2 1-2 0-4-1-2-2-2-1-2-1 0-2-2-1-2 0-2 2-1 3-3 4-8 0-2 2-2 1 0 2-2 1-2 2-2 1-2 2-2 6-3 0-1 1-2 0-6-4-8 0-2 1-2 0-2 1-2 1-1 6 0 1 1 4 0 0-2 1-2 0-2 1-2 1-1 2-1 2 0 2 1 2 0 1-1 0-2-1-2 0-4 1-2 0-2-1-2 0-2 1-2 1 0 2-1 2 0 2-1 0-2 2-4 0-1 1-1 0-2 1-2 2-2 0-1 2-2 0-1 2-2 0-1 1-1 1 0 2-1zM148 310l-1 0 0 2 3 3 0-1 1-2-1-2zM152 299l-2 1 1 2 1 1 2 0 1-1-1-2zM127 254l1-1 1 1-1 1z" fill="#34ffde"/><path d="M196 126l2-1 2 0 2 1 2 0 4 2 1 0 1 1 2 1 2 2-1 2 0 4 1 1 0 1 2 2 1 0 1 1 2 0 4 2 2 2 2 1 6 6 1 2 1 1 0 1 1 2 1 1 0 1 1 2 1 1 0 1 2 4 0 4 8 16 0 2 2 4 0 2 2 4 0 2 1 2 0 8 2 4 0 2 1 2 0 2 1 2 0 8-1 2 0 6-2 4 0 10-1 2 0 4 1 2 0 2 1 2 0 2 2 4 0 2 1 1 0 1 1 2 1 1 0 1 1 2-2 4-2 2-1 2 3 6-1 2 0 1-6 0 0 1-2 2-2 1-6 0-2 1-1 0-1 2 0 2-1 2-1 1-4 0-1-1-1-2-2-2-2-1-2 0-2-1-1 0-1-1-2 0-2-1-2 0-1 2 1 2 0 2-4 2-4 0-2-1-4 0-1 1 0 4-1 2-4 0-2-1-2 0-2 1-1 2-1 1-2 1-2 0-2 2-1 2 0 6-1 2-4 2-2 2-1 0-1 1-2 0-2-1-2 0-1-2 0-2-2-4-2-2-1 0-2-2-2-1-1-1-1-2 0-4 1-2 0-2 1-1 2 1 1 0 1 1 2 0 3-3-1-2-2-2-1-2-1-1 0-1-1-2 0-4-5-5-2-1-2-2 0-2-2-4 0-1-1-1-3-6 0-4 1-2-1-2 0-2-2-2 0-2-1-2 0-2 1-2 0-2-1-2-6-6 0-2-1-2 0-4-2-4 0-12 2-2 2-4 0-2 6-6 2-4 2-1 1-1 1 0 2-1 1-1 1 0 2-4 0-10-2-2 0-1-1-1 0-2 1-2 2-2 8 0 2-1 1-1 0-4 1-2 4-2 4 0 2-1 1-1 0-2-2-4 0-2 1-2 0-1 1-1 0-2 1-1 4 0 3-3 0-2-1-2 0-2 4-8 2-1 2 0 2-1 0-2zM156 338l2-1 2 1 2 0 2 1 1 1 0 2 1 1 0 1 4 4 2 4 0 6 3 6 0 2 1 2 0 4 1 2 0 2-1 2-2 2-2 1-2 0-2-1-2 0-2 1-6-3-2-2-1-2-10-10-3-6 0-4 1-2-1-2 0-4 1-2 1-1 2-1 2 0 2-1 2 0 2-1z" fill="#05f4ff"/><path d="M191 138l1-2 2 0 2 1 1 1 1 2 2 2 4 2 2 2 1 0 1 1 2 1 2 2 4 2 2-1 1-1 1-2 2-1 4 4 6 3 2 2 3 6 1 1 0 1 2 4 0 2 1 2 0 4 2 2 5 10 0 2 3 6 0 2 1 2 0 2 2 4 0 6 1 2 0 2 1 2 0 2 1 2 0 2 1 2 0 8-1 2 0 4-1 2 0 2-1 2 0 14-1 2 1 2 0 2 1 2 0 2 1 2 0 2 3 6 0 4-2 2-1 0-4 4 0 4-2 4 0 2-1 1-2 1-10 0-6-3-2 1-2 4-4 0-4-2-2-2-1 0-1-1-4 0-4 2-1 1 0 2 2 2-1 1-4-4-6-3-2 0-2 4 0 4 2 4 0 2-4-2-6-6-2 1 0 1-1 2-1 0-2 1-4 0-2 1-4-2-6-6-1-2 0-4-3-3 0-1-2-2 0-2-3-6-2-2-1-2 0-1-1-1-1-2 0-6-1-2-2-2 0-2-1-2 0-4 1-2 0-4-2-4-3-3-2-1-1-2-1-1 0-1-1-2 0-2-1-2 1-2 0-8 2-4 0-6 3-3 2-1 2-2 1-2 1-1 6-3 1 0 2-2 0-4 1-2 0-10 1-2 3-3 2 0 1-1 1 0 2-2 1-2 1-1 2-1 2 0 2-2 2 1 4-2 1-1 0-2-1-1 0-1-2-2-1-2-1-1 0-2 1-1 3 0 2 1 2 0 2-1 0-2-1-2 0-2 4-4 1-2-1-2zM160 322l2-1 2 0 2-1 2 0 6 6 2 4-2 2-2 1-2 0-3-3-1 0-6-6zM149 344l4 0 1 1 0 1 2 4 2 2 4 2 4 0 2 1 0 1 2 2 3 6 0 2 1 2 0 4 1 2 0 2-2 2-11 0-2-1-7-7-1-2-4-4-1-2-2-2-1-2 3-6-1-2 0-2 1-2z" fill="#19cbff"/><path d="M204 152l2-2 4 2 0 1 1 1 1 2 4 2 2-1 2 0 2-1 9 0 2 2 2 4 2 2 2 4 0 6 2 4 2 2 3 6 0 2 4 8 0 2 1 2 0 2 2 4 0 6 1 2 0 2 2 4 0 2 1 2 0 12-1 2 0 2-3 6 0 2 1 2 0 10-1 2 1 2 0 2 1 2 0 2 1 2 0 2 2 4 0 4-2 2-2 1-2 2-2 0-2 1-2 2-2 0-2 1-1 1 0 4-1 1-2 1-2 0-2-2-1 0-1-1-4 0-1 1-1 2 0 2-2 1-2-1-2-2-4-2-2 0-2-1-8 0-2-1-7 0-1-1 0-1-2-2-6-3-2 0-1 1 2 4 1 1 2 1 0 1 1 1 1 2-1 2-5 0-2-1-2-2-2 0-2 2 0 1-2 1-2 0-2-2 0-1-2-1-2 0-1-1-1 0-2-2-2-4 0-6-4-4-2-4 0-6-3-6 0-6 1-2 2 1 2 0 1-1 0-2-1-2-2-2-1 0-4-4 0-6 4-4 1-2 2-1 1-1 1 0 2-2 0-2-1-2 0-4 1-2 0-2-1-2 0-4 2-4 0-6 1-2 0-1 1-1 0-6 3-6 0-4 4-4 4-2 6 0 2-1 4 0 1 1 1 0 2 2 2 0 2-1 1-1 0-4-4-8 0-2 1-2 4 0 6 3 0-1 2-2zM142 214l2-1 2 0 2 1 0 1 1 1 1 2 0 2-6 0-2-2-1-2zM143 234l1-1 1 1 1 2-2 2-1-2zM150 352l2-1 10 5 2 0 2 1 3 3 2 4 0 2 1 2 0 7-1 1-7 0-6-3-5-5-2-4-1-1 0-1-2-4 1-2 0-2z" fill="#2ca2ff"/><path d="M217 162l1 0 2-1 2 0 4 2 1 1 7 0 2 2 1 2 0 4-1 2 1 2 6 6 1 2 0 2 1 2 0 2 1 1 0 1 1 2 1 1 0 1 2 4 0 2 1 2 0 2 1 2 0 4 1 2 0 2 1 1 0 1 1 2 0 2 1 2 0 12-2 4 0 1-3 3 0 2 1 2 0 2 1 2 0 8-1 2 1 2 0 4 1 2 0 2 1 2 0 2 1 2 0 2-1 2-1 1-4 2-8 0-2 1-2 0-6 3-2 2-6 0-2 1-2 2-4 0-2-1-2 0-2-1-1-2-2-2-1-2-4-4-4-2-2 1-1 1-1 2-2 2-2 0-2-1-2-2-2-1-2 0-2 1 0 1-1 2 0 4-4 0-5-5-4 0 0-1-2-2-2-4 0-1 2 0 2-1 0-2-2-2-2 0-2-1-3-3-1-2 0-2 2-1 0-1 1-2 1-1 0-1 1-2-1-2 0-2-3-6 0-2 1-1 6-3 0-2 2-4 0-2-1-2 0-2-1-2 4-4 1-2 1-1 2 0 1 1 1 0 2 1 2 0 2-1 1-2-1-2-2-1-2 0-4-2-1-1-1-2 1-2 1 0 2-2 0-6-2-2-1-2 0-6-1-2 0-6 2-2 2-1 4 0 2 1 0 1 1 1 0 2-1 1 0 1-1 2 0 4 1 2 4 4 0 1 2 1 4-2-1-2 0-2-1-2 0-2 2-2 2 0 2-1 2 0 1-1 1-2 0-6 2-2 0-1 2-1 0-2 2 0 4-2 1-2 0-4 1-1 2 0 2-1zM214 283l-1 1 2 0zM164 288l2-1 1 1 1 0 2 2 0 2-2 2-2 0-2-1-1-1-1-2zM152 356l2-1 2 0 6 3 2 0 2 2 1 0 1 2 0 2 2 4 0 5-1 1-5 0-6-3-4-4 0-1-2-2 0-2-1-2 0-2z" fill="#2a78ff"/><path d="M216 166l6 0 2 1 2 0 2 1 4 0 2 2 0 6 2 2 2 1 3 3 1 2 0 4 2 4 2 2 2 4 0 2 1 2 0 2 1 2 0 2 1 2 0 4 1 1 0 1 3 6 0 12-1 2 0 1-2 2-2 0-1 1-1 2 0 2 3 6 0 6-1 2 0 8 1 2 0 2-2 4 1 2 2 2 0 2-2 2-4 0-3-6-2-2-1 0-2-2-2 0-1 2 0 8-1 0-2 1-1 1-1 0-2 2-2 1-4 0-3-3-1-2 2-2 0-2-6 0-2-1-2 0-2-1-3-6-1-1-2 0-2 1-2 4 0 1-2 1-2 0-4-4-4 0-2-2-2-1-2 0-2 1-1 2-1 0-2 1-2-1-1 0-1-1-2-1-2 0-2-1-3-3 0-2 1-2 0-2 2-2 0-1 2-1 2-2 0-2-2-4 0-2 2-4 0-4 1-2 0-4 1-2 0-1 2-2 2-1 2 0 4-2 6 0 2-1 0-3-1-2 0-2 1-2-1-2-6-6 1-2 10 0 4 2 1 0 1-2-1-2 0-2 1-2 2-1 2 0 2 2 2 1 3 0 1-2-1-2 0-2 1-2 0-2 1-2 0-2-1-2 0-4 1-2 0-8 1-2 2-2zM220 176l2 1 0-1zM246 260l-2 0-2 2 1 2 1 1 2 1 2-2zM181 274l1 0 2-1 2 0 0 1 1 2-1 1-2 0-2-1zM155 358l3 0 4 2 2 2 1 2 1 1 0 1 2 4-1 2-3 0-4-2-1 0-4-4-1-2 0-5z" fill="#1e4dff"/><path d="M227 172l3 0 1 2 0 2 1 2-3 6-1 1-2 1 0 2-1 2 0 6-2 2-1 2-2 0-2-1-1-1-1-2 0-8-1-2 0-2-1-2 0-2 2-1 1 1 1 0 2 2 2 1 2 0 2-1 1-2 0-4-1-2zM233 184l1-1 4 0 1 1 0 6 1 2 4 4 1 2 1 1 0 6-2 0-8-4-1-1 0-2-1-2 1-2 0-4-2-4zM211 204l1-1 2-1 2 1 4 4 4 2 1 1 2 4 1 1 0 1 3 6 1 1 2 1 7 0 1-1 0-1 2-4 0-2 2-2 2 0 4 4 1 2 0 2 1 2 0 2-1 2 0 6-1 1-2 1-2 0-2 2-1 2 0 4 1 2 0 3-1-1-1 0-2-1-2 1 0 2-2 2-14 0-2 1-2 2-2 1-2 0-1 2 0 2 1 2 0 10-2 1-2 0-1-1-2-4 0-6-1-1-2-1-2 2-1 2-1 0-8 4-6-3-4 0-2-1-6 0-2-1-4 0-2 2-2 0 0-3 2-1 2 0 0-1 2-4 2-2 2 1 2 2 0 1 2 2 0 1 2 1 2 0 2-1 0-6 2-1 2-4 0-2-1-2-3 0-2-1-2 0-2 1-2 2-2 1-2-1-2-2-1-2 0-8 1-2 2-2 2 0 2-1 1-1 3 0 4 2 2 0 1-2 1 0 2-2 2 0 2-1 1-1 0-2-1-2 0-4 1-2 2-2 4-8 1-1 4 0 2-1zM231 260l1-1 2 1 2 2 1 2 0 2-3 0-2-1 0-1-1-2zM227 278l1-2 2 1 0 2-2 0zM157 362l2 0 4 4 1 2 0 1-2 0-2-1-2-2-1-2z" fill="#1222ff"/>
<use href="#outer"/>
</g>
<path d="M96.7 -15.5V0M96.7 408v15.5M213.6 -15.5V0M213.6 408v15.5M331.2 -15.5V0M331.2 408v15.5M-16 80.7H0M414 80.7h16M-16 231.1H0M414 231.1h16M-16 381.8H0M414 381.8h16" stroke="#000" stroke-width="3.3" fill="none"/>
<rect width="414" height="408" fill="none" stroke="#000" stroke-width="3.9"/>
</g>
<g transform="translate(919.5 396.5) scale(1.0007 1.0010)">
<rect width="414" height="408" fill="#9a9a9a"/>
<polygon points="0,177.4 5.2,174.6 12.9,173.9 18.2,180.9 25.2,184.4 30.4,191.4 39.2,194.9 44.4,194.9 46.2,182.6 52.1,179.1 60.2,182.6 64.4,187.2 72.4,198.4 72.4,250.9 79.4,285.9 93.4,303.4 121.4,324.4 156.4,352.3 174.6,381 179.1,397.8 184.4,408.3 0,408.3" fill="#fff"/>
<g clip-path="url(#cpF)">
<rect width="414" height="408" fill="#ff0000"/><path d="M-6 -6l379 0-3 6 0 1-1 1 0 2-2 4 0 2-2 4 0 2-1 2 0 2-1 2 0 2-1 2 0 2-1 2 0 4-1 2 0 4-1 2 0 10-1 2 0 16 1 2 0 10 1 2 0 6 1 2 0 4 1 2 0 4 1 2 0 2 1 2 0 4 1 2 0 2 1 2 0 2 1 2 0 2 1 2 0 2 1 2 0 2 1 2 0 2 1 2 0 2 1 2 0 2 1 2 0 2 1 2 0 2 1 2 0 2 1 2 0 2 1 2 0 2 1 2 0 2 1 2 0 2 1 2 0 2 1 2 0 2 1 2 0 2 1 2 0 2 1 2 0 2 1 2 0 4 1 2 0 2 1 2 0 2 1 2 0 4 1 2 0 2 1 2 0 4 1 2 0 2 1 2 0 4 1 2 0 4 1 2 0 2 1 2 0 6 1 2 0 4 1 2 0 6 1 2 0 26-1 2 0 4-1 2 0 2-1 2 0 2-2 4 0 2-2 4 0 2-1 1 0 1-9 18-2 2-4 8-2 2-2 4-1 1 0 1-2 2-3 6-2 2-2 4-1 1 0 1-1 2-2 2-1 2 0 1-1 1-1 2 0 1-1 1 0 2-3 6 0 2-1 2 0 4-1 2 0 10 1 2-355 0z" fill="#ff4600"/><path d="M-3 -4l2-2 319 0 0 38 1 2 0 8 1 2 0 6 2 4 0 2 2 4 0 2 2 4 0 2 3 6 0 2 2 4 0 2 2 4 0 2 1 1 0 1 2 4 0 2 2 4 0 2 3 6 0 2 2 4 0 2 2 4 0 2 2 4 0 2 2 4 0 2 1 2 0 2 2 4 0 2 1 2 0 2 2 4 0 2 1 2 0 2 1 2 0 2 1 2 0 2 1 2 0 2 1 2 0 4 1 2 0 2 1 2 0 2 1 2 0 4 1 2 0 4 1 2 0 4 1 2 0 6 1 2 0 6 1 2 0 8 1 2 0 18 1 2 0 14-1 2 0 14-1 2 0 6-1 2 0 4-1 2 0 2-1 2 0 2-1 2 0 2-1 2 0 2-1 2 0 2-3 6 0 2-12 24-2 2-4 8-2 2-2 4-2 2-2 4-1 1 0 1-2 2 0 1-1 1-4 8-1 1 0 1-1 2-2 2 0 2-1 1 0 1-5 10 0 2-2 4 0 2-1 2 0 2-318 0 0-414 2-2 0-1zM60 209l-1 1-1 2 0 6 1 2 0 4 1 2 0 2 1 2 0 2 1 2 0 2 1 2 0 2 2 4 0 2 3 6 0 1 1 1 0 2 1 1 0 1 7 14 1 1 0 1 2 2 0 1 1 1 1 2 4 4 2 1 1-1 1-2 0-4-1-2 0-4-1-2 0-2-1-2 0-2-1-2 0-2-2-4 0-2-2-4 0-2-2-4 0-1-1-1 0-2-3-6 0-1-1-1-1-2 0-2-1-2-1-1 0-1-4-8-2-2 0-1-4-4z" fill="#ff7d00"/><path d="M146 -4l2-1 2 0 2-1 58 0 2 1 2 0 1 1 1 0 10 5 2 0 16 8 2 2 2 1 2 2 1 0 5 5 2 1 8 8 0 1 5 5 1 2 2 2 1 2 2 2 1 2 2 2 1 2 1 1 0 1 2 2 1 2 1 1 0 1 2 2 0 1 1 1 2 4 2 2 4 8 1 1 0 1 2 2 0 1 1 1 4 8 1 1 0 1 1 2 1 1 0 1 1 2 2 2 1 2 0 1 1 1 1 2 0 1 1 1 1 2 0 1 1 1 1 2 0 1 1 1 1 2 0 1 1 1 0 2 1 1 0 1 6 12 0 2 4 8 0 2 3 6 0 2 2 4 0 2 1 2 0 2 2 4 0 2 1 2 0 2 1 2 0 2 1 2 0 2 1 2 0 2 1 2 0 2 1 2 0 4 1 2 0 4 1 2 0 4 1 2 0 6 1 2 0 8 1 2 0 14 1 2 0 12-1 2 0 14-1 2 0 6-1 2 0 4-1 2 0 4-1 2 0 2-2 4 0 2-1 2 0 2-3 6 0 2-1 1 0 1-5 10-1 1 0 1-1 2-2 2-2 4-1 1 0 1-2 2 0 1-1 1-1 2-2 2-1 2-1 1 0 1-2 2-1 2-2 2-2 4-2 2-1 2-2 2 0 1-2 2 0 1-2 2-2 4-2 2 0 1-1 1-2 4-1 1 0 1-1 2-2 2-1 2 0 1-1 1-7 14 0 1-1 1-1 2 0 1-1 1-215 0-2-2-1-2-4-4-1-2-2-2-1-2-2-2-2-4-2-2-2-4-2-2-2-4-1-1 0-1-1-2-2-2-13-26 0-2-4-8 0-2-3-6 0-2-2-4 0-2-2-4 0-2-1-2 0-2-1-2 0-2-1-2 0-2-1-2 0-2-1-2 0-2-1-2 0-2-1-2 0-4-1-2 0-4-1-2 0-4-1-2 0-6-1-2 0-8-1-2 0-46 1-2 0-8 1-2 0-4 1-2 0-4 1-2 0-4 2-4 0-2 3-6 2-2 4 0 2 2 1 2 2 2 1 2 4 4 1 2 2 2 6 12 0 2 1 1 0 1 3 6 0 2 1 1 0 1 2 4 0 2 3 6 0 2 1 1 0 1 2 4 0 2 4 8 0 2 3 6 0 2 1 1 0 1 4 8 0 2 6 12 0 1 1 1 1 2 0 2 1 2 1 1 0 1 1 2 2 2 1 2 0 1 1 1 4 8 2 2 1 2 2 2 1 2 5 5 4 2 2-1 2-2 1-2 0-2 1-2 0-4-1-2 0-6-1-2 0-4-1-2 0-2-1-2 0-2-1-2 0-2-1-2 0-2-2-4 0-2-1-2 0-2-2-4 0-2-1-2 0-2-2-4 0-2-2-4 0-2-2-4 0-1-1-1 0-2-3-6 0-2-3-6 0-2-1-1 0-1-2-4 0-1-1-1 0-2-3-6 0-2-20-40 0-1-1-1 0-2-1-1 0-1-2-4 0-1-1-1 0-2-1-2 0-2-1-2 0-2-1-2 0-4-1-2 0-4-1-2 0-2-1-2 0-6-1-2 0-8 1-2 0-4 1-2 0-2 4-8 0-1 1-1 3-6 2-2 0-1 1-1 1-2 2-2 1-2 2-2 1-2 2-2 1-2 4-4 1-2 6-6 1-2 7-7 2-1 8-8 2-1 3-3 1 0 4-4 1 0 2-2 1 0 2-2 2-1 1-1 1 0 2-2 6-3 1-1 1 0 2-2 1 0 1-1 2-1 1 0 1-1 2-1 2 0 8-4 1 0 1-1 2 0z" fill="#ffaf00"/><path d="M177 50l3 0 2-1 18 0 2 1 4 0 2 1 4 0 2 1 2 0 4 2 2 0 6 3 2 0 1 1 1 0 14 7 2 2 4 2 2 2 2 1 2 2 2 1 9 9 1 0 2 2 1 2 8 8 1 2 4 4 1 2 2 2 1 2 2 2 1 2 2 2 2 4 2 2 4 8 2 2 13 26 0 2 4 8 0 2 2 4 0 2 1 2 0 2 2 4 0 2 1 2 0 2 1 2 0 2 1 2 0 4 1 2 0 2 1 2 0 4 1 2 0 6 1 2 0 8 1 2 0 30-1 2 0 8-1 2 0 4-1 2 0 4-1 2 0 2-1 2 0 2-1 2 0 2-2 4 0 2-2 4 0 2-10 20-1 1 0 1-2 2 0 1-1 1-2 4-2 2-1 2-2 2 0 1-2 2 0 1-2 2-1 2-2 2-1 2-2 2-1 2-4 4-1 2-2 2-1 2-4 4-1 2-4 4-1 2-8 8-1 2-8 8-1 0-5 5-2 1-4 4-1 0-5 5-4 2-1 1-83 0-2-1-2-2-2-1-2-2-1 0-3-3-2-1-2-2-2-1-4-4-2-1-4-4-2-1-4-4-2-1-2-2-2-1-5-5-1 0-8-8-1-2-4-4-2-4-2-2-5-10 0-2-1-2 0-4 1-1 2 1 1 0 1 1 10 5 2-1 3-3 2-4 1-1 0-1 2-4 0-2 1-2 0-6 1-2 0-6-1-2 0-8-1-2 0-4-1-2 0-2-1-2 0-2-1-2 0-2-1-2 0-2-1-2 0-2-2-4 0-2-1-2 0-2-2-4 0-2-1-2 0-2-2-4 0-2-2-4 0-2-1-2 0-2-2-4 0-2-1-2 0-2-2-4 0-2-1-2 0-2-2-4 0-2-2-4 0-2-2-4 0-2-1-2 0-2-1-2 0-2-1-2 0-2-1-2 0-2-1-2 0-2-1-2 0-4-1-2 0-2-1-2 0-4-1-2 0-18 1-2 0-2 1-2 0-2 3-6 0-1 1-1 1-2 0-1 1-1 1-2 0-1 1-1 2-4 1-1 0-1 2-2 0-1 1-1 1-2 2-2 1-2 2-2 1-2 2-2 1-2 4-4 1-2 14-14 2-1 4-4 2-1 2-2 2-1 2-2 4-2 1-1 1 0 2-2 1 0 1-1 14-7 2 0 4-2 2 0 4-2 2 0 2-1 4 0 2-1z" fill="#ffe000"/><path d="M184 84l2 0 2-1 4 0 2-1 16 0 2 1 6 0 2 1 2 0 2 1 2 0 4 2 2 0 16 8 2 2 4 2 3 3 1 0 4 4 2 1 13 13 1 2 4 4 1 2 2 2 1 2 2 2 1 2 2 2 2 4 1 1 0 1 2 2 0 1 1 1 11 22 0 2 3 6 0 2 2 4 0 2 1 2 0 2 1 2 0 2 1 2 0 2 1 2 0 2 1 2 0 4 1 2 0 4 1 2 0 8 1 2 0 26-1 2 0 8-1 2 0 4-1 2 0 4-1 2 0 2-1 2 0 2-1 2 0 2-2 4 0 2-3 6 0 1-1 1 0 2-1 1 0 1-3 6-1 1 0 1-1 2-2 2-1 2 0 1-1 1-2 4-2 2-1 2-2 2 0 1-3 3-1 2-2 2-1 2-4 4-1 2-18 18-2 1-4 4-2 1-2 2-2 1-2 2-4 2-1 1-1 0-2 2-1 0-1 1-2 1-1 0-1 1-2 1-1 0-1 1-2 0-1 1-1 0-8 4-2 0-4 2-2 0-4 2-2 0-4 2-2 0-4 2-2 0-2 1-2 0-2 1-2 0-2 1-8 0-2-1-4 0-2-1-2 0-6-3-2 0-2-1-1-1-1 0-2-1-2-2-4-2-3-3-1 0-10-10-1-2-2-2-2-4-2-2-1-2 0-1-1-1-1-2 0-2-2-4 0-2-1-2 0-6-1-2 0-30-1-2 0-6-1-2 0-2-1-2 0-2-1-2 0-2-1-2 0-2-1-2 0-2-1-2 0-2-2-4 0-2-1-2 0-2-2-4 0-2-1-2 0-2-2-4 0-2-1-2 0-2-2-4 0-2-1-2 0-2-1-2 0-2-1-2 0-2-1-2 0-2-1-2 0-4-1-2 0-2-1-2 0-6-1-2 0-22 1-2 0-4 1-2 0-2 2-4 0-2 2-4 0-2 9-18 1-1 0-1 1-2 2-2 2-4 2-2 1-2 2-2 0-1 3-3 1-2 6-6 0-1 5-5 1 0 6-6 2-1 2-2 2-1 2-2 2-1 1-1 1 0 2-2 1 0 1-1 10-5 1 0 1-1 2 0 6-3 2 0 2-1 2 0 2-1z" fill="#f4ff15"/><path d="M201 106l13 0 2 1 4 0 2 1 2 0 2 1 2 0 1 1 1 0 4 2 1 0 1 1 2 1 2 0 2 2 1 0 1 1 4 2 1 1 1 0 2 2 2 1 2 2 2 1 6 6 2 1 3 3 1 2 6 6 1 2 3 3 0 1 2 2 1 2 2 2 2 4 1 1 0 1 2 2 0 1 1 1 1 2 0 1 1 1 1 2 0 1 1 1 1 2 0 2 4 8 0 2 2 4 0 2 1 2 0 2 1 2 0 2 1 2 0 2 1 2 0 2 1 2 0 6 1 2 0 8 1 2 0 16-1 2 0 8-1 2 0 4-1 2 0 4-1 2 0 2-1 2 0 2-1 2 0 2-3 6 0 2-4 8 0 1-1 1-1 2 0 1-1 1-3 6-2 2 0 1-1 1-1 2-2 2 0 1-3 3-1 2-2 2-1 2-15 15-2 1-4 4-1 0-3 3-4 2-2 2-18 9-2 0-8 4-1 0-1 1-2 0-1 1-1 0-2 1-1 1-1 0-2 1-2 2-2 1-1 0-1 1-4 2-3 3-1 0-4 4-1 2-3 3-8 4-6 0-2-1-2 0-2-1-2 0-12-6-2-2-2-1-12-12-1-2-1-1 0-1-2-2-4-8 0-2-2-4 0-4-1-2 0-6-1-2 0-30-1-2 0-4-1-2 0-2-1-2 0-2-1-2 0-2-1-2 0-2-1-2 0-2-2-4 0-2-1-2 0-2-2-4 0-2-1-2 0-2-1-2 0-2-2-4 0-4-1-2 0-2-1-2 0-2-1-2 0-6-1-2 0-10-1-2 1-2 0-10 1-2 0-4 1-2 0-2 1-2 0-2 1-2 0-2 2-4 0-2 3-6 0-1 1-1 0-2 1-1 0-1 1-2 1-1 0-1 1-2 2-2 4-8 2-2 1-2 2-2 1-2 2-2 1-2 14-14 1 0 3-3 2-1 2-2 4-2 2-2 1 0 1-1 6-3 1 0 1-1 2-1 2 0 4-2 2 0 2-1 2 0 2-1 2 0 2-1 4 0 2-1z" fill="#d7ff4b"/><path d="M193 130l1 0 2-1 22 0 2 1 2 0 2 1 2 0 2 1 2 0 16 8 2 2 1 0 2 2 1 0 4 4 2 1 9 9 1 2 4 4 1 2 2 2 2 4 1 1 0 1 2 2 0 1 1 1 5 10 0 1 1 1 0 2 3 6 0 2 1 2 0 2 1 2 0 2 1 2 0 2 1 2 0 4 1 2 0 6 1 2 0 16-1 2 0 8-1 2 0 4-1 2 0 2-1 2 0 2-1 2 0 2-3 6 0 2-7 14-1 1 0 1-2 2 0 1-2 2 0 1-2 2-1 2-4 4-1 2-8 8-1 0-5 5-4 2-2 2-4 2-1 1-1 0-2 1-1 1-1 0-8 4-2 0-4 2-2 0-2 1-2 0-2 1-2 0-4 2-2 0-2 1-1 1-1 0-2 2-2 1-5 5-1 2-2 2-1 2-2 2-2 4-1 1 0 1-2 4 0 2-2 4 0 2-1 2-5 5-2 1-8 0-2-1-2 0-1-1-1 0-6-3-2-2-2-1-4-4-1 0-2-2-1-2-4-4-1-2-2-2-1-2 0-1-1-1-1-2 0-1-1-1 0-2-2-4 0-4-1-2 0-12 1-2 0-6 1-2 0-2 1-2 0-6 1-2 0-10-1-2 0-4-1-2 0-2-1-2 0-2-2-4 0-2-2-4 0-2-1-2 0-2-2-4 0-2-1-2 0-2-1-2 0-2-1-2 0-4-1-2 0-6-1-2 0-18 1-2 0-6 1-2 0-2 1-2 0-4 2-4 0-2 1-2 0-2 1-1 0-1 4-8 0-2 1-2 2-2 1-2 0-1 1-1 2-4 2-2 1-2 2-2 0-1 5-5 1-2 4-4 2-1 5-5 1 0 2-2 2-1 2-2 14-7 1 0 1-1 2 0 2-1 2 0 2-1 2 0 2-1z" fill="#b9ff82"/><path d="M195 150l1 0 2-1 6 0 2-1 8 0 2 1 4 0 2 1 4 0 4 2 2 0 10 5 2 2 4 2 4 4 2 1 6 6 1 2 4 4 2 4 2 2 8 16 0 2 2 4 0 2 1 2 0 2 1 2 0 2 1 2 0 4 1 2 0 22-1 2 0 4-1 2 0 4-1 2 0 2-2 4 0 2-4 8 0 1-1 1-1 2 0 1-1 1-2 4-2 2-1 2-2 2 0 1-13 13-1 0-2 2-2 1-2 2-10 5-2 0-4 2-2 0-2 1-2 0-2 1-10 0-2 1-8 0-2-1-16 0-4 2-2 2 0 12 1 2 0 20 1 2 0 8 1 2-1 2 0 4-2 4 0 1-2 2-2 1-2 0-2 1-2-1-4 0-6-3-2-2-2-1-2-2-2-1-4-4 0-1-4-4 0-1-1-1-5-10 0-2-1-2 0-12 1-2 0-1 1-1 1-2 0-1 3-3 1-2 1 0 3-3 2-1 2-2 1 0 1-1 6-3 2-2 1-2 0-6-1-1 0-1-1-2-1-1 0-1-1-2-2-2-4-8-1-1 0-1-1-2-1-1 0-1-1-2-1-1 0-1-1-2-1-1 0-1-4-8 0-2-2-4 0-2-1-2 0-2-1-2 0-4-1-2 0-26 1-2 0-2 1-2 0-4 2-4 0-2 3-6 0-2 1-2 1-1 0-1 1-2 1-1 0-1 2-2 0-1 1-1 1-2 2-2 0-1 3-3 1-2 6-6 2-1 4-4 2-1 2-2 1 0 1-1 14-7 2 0 2-1 2 0 2-1z" fill="#7affb1"/><path d="M199 166l1 0 2-1 18 0 2 1 2 0 2 1 2 0 6 3 1 0 1 1 2 1 1 0 1 1 2 1 2 2 1 0 12 12 2 4 2 2 6 12 0 2 2 4 0 2 1 2 0 2 1 2 0 6 1 2 0 12-1 2 0 6-1 2 0 2-1 2 0 2-1 2 0 2-7 14-1 1 0 1-2 2-1 2-12 12-1 0-2 2-12 6-2 0-4 2-4 0-2 1-10 0-2-1-4 0-2-1-4 0-4-2-2 0-12-6-2-2-2-1-2-2-2-1-5-5-1-2-2-2-1-2-2-2-2-4-2-2-1-2 0-1-1-1-1-2 0-2-2-4 0-1-1-1 0-2-1-2 0-4-1-2 0-8-1-2 0-2 1-2 0-8 1-2 0-2 1-2 0-2 1-2 0-2 4-8 0-1 1-1 1-2 0-1 1-1 1-2 2-2 0-1 3-3 1-2 6-6 1 0 3-3 4-2 2-2 6-3 1 0 1-1 2 0 4-2 2 0 2-1zM144 336l8 0 6 3 7 7 1 2 2 2 0 1 1 1 3 6 0 1 1 1 0 2 1 2 0 2 1 2 0 6-1 2 0 1-1 1-1 2-1 0-1 1-2 0-2 1-2-1-2 0-8-4-2-2-2-1-4-4 0-1-3-3-2-4-1-1 0-1-3-6 0-2-1-2 0-4 1-2 0-2 1-2 2-2z" fill="#34ffde"/><path d="M200 178l2-1 8 0 2-1 2 0 2 1 6 0 2 1 2 0 12 6 2 2 2 1 9 9 2 4 2 2 1 2 0 1 1 1 1 2 0 1 1 1 0 2 2 4 0 2 1 2 0 4 1 2 0 16-1 2 0 4-1 2 0 2-3 6 0 2-1 2-1 1 0 1-2 2 0 1-1 1-1 2-2 2-1 2-5 5-2 1-2 2-2 1-1 1-1 0-2 2-1 0-1 1-2 0-4 2-2 0-2 1-4 0-2 1-6 0-2-1-4 0-2-1-2 0-2-1-2 0-4-2-2 0-2-1-2-2-4-2-1-1-1 0-12-12-1-2-1-1 0-1-2-2 0-1-1-1-1-2 0-1-1-1 0-2-1-1 0-1-1-2 0-2-1-2 0-2-1-2 0-18 1-2 0-2 1-2 0-2 2-4 0-2 1-1 0-1 1-2 2-2 2-4 2-2 1-2 6-6 2-1 3-3 1 0 2-2 1 0 1-1 6-3 2 0 4-2zM144 342l2-1 2 0 2 1 2 0 2 1 1 1 1 0 2 2 2 1 3 3 1 2 2 2 5 10 0 2 1 2 0 6-1 2-2 2-1 0-2 1-4 0-6-3-2-2-1 0-6-6-1-2-2-2 0-1-1-1-2-4 0-2-1-2 0-8 1-2 1-1z" fill="#05f4ff"/><path d="M200 186l2-1 4 0 2-1 10 0 2 1 2 0 2 1 2 0 10 5 4 4 2 1 2 2 0 1 3 3 2 4 1 1 0 1 1 2 1 1 0 1 3 6 0 2 1 2 0 6 1 2 0 8-1 2 0 4-1 2 0 2-1 2 0 2-5 10-2 2-1 2-8 8-2 1-2 2-6 3-1 0-1 1-2 0-2 1-6 0-2 1-2 0-2-1-6 0-2-1-2 0-6-3-1 0-1-1-2-1-1 0-1-1-4-2-9-9-1-2-2-2 0-1-1-1-4-8 0-2-1-2 0-2-1-2 0-6-1-2 0-2 1-2 0-6 1-2 0-2 1-2 0-2 1-1 0-1 3-6 2-2 2-4 7-7 2-1 2-2 1 0 1-1 10-5zM146 346l6 0 4 2 2 2 2 1 3 3 2 4 2 2 1 2 0 2 1 2 0 6-1 2-2 2-6 0-2-1-1-1-1 0-2-2-2-1-2-2 0-1-4-4 0-1-1-1-1-2 0-1-1-1 0-4-1-2 2-4z" fill="#19cbff"/><path d="M207 192l3 0 2-1 2 0 2 1 4 0 2 1 2 0 8 4 2 2 2 1 4 4 1 2 2 2 5 10 0 2 1 2 0 2 1 2 0 16-1 2 0 2-3 6 0 2-2 2 0 1-1 1-1 2-2 2-1 2-3 3-2 1-2 2-1 0-1 1-4 2-2 0-4 2-12 0-2-1-2 0-2-1-2 0-10-5-2-2-2-1-3-3-1-2-2-2-1-2-2-2-1-2 0-1-1-1 0-2-2-4 0-2-1-2 0-14 1-2 0-2 3-6 0-2 2-2 0-1 1-1 1-2 8-8 2-1 2-2 6-3 2 0 4-2zM147 350l1 0 2-1 2 1 2 0 2 1 7 7 4 8 0 4-1 2-4 2-2-1-2 0-2-2-2-1-4-4-1-2-2-2 0-2-1-1 0-1-1-2 0-2 1-2 0-1z" fill="#2ca2ff"/><path d="M207 200l3 0 2-1 4 0 2 1 2 0 2 1 2 0 1 1 1 0 2 2 1 0 8 8 5 10 0 2 1 2 0 14-1 2 0 2-2 4 0 2-2 2 0 1-1 1-1 2-6 6-1 0-1 1-6 3-2 0-2 1-10 0-2-1-2 0-10-5-8-8 0-1-2-2 0-1-1-1-1-2 0-2-1-2 0-2-1-2 0-10 1-2 0-2 1-2 0-2 1-2 1-1 0-1 2-2 1-2 6-6 1 0 2-2 6-3 2 0 2-1zM149 354l1-1 4 0 1 1 1 0 4 4 1 2 2 2 0 2 1 2 0 2-1 2-1 0-2 1-4-2-5-5-3-6 0-2z" fill="#2a78ff"/><path d="M211 208l7 0 4 2 1 0 1 1 2 1 4 4 1 2 2 2 0 2 1 1 0 1 1 2 0 2 1 2 0 6-1 2 0 2-1 2 0 2-2 4-2 2 0 1-2 2-2 1-2 2-1 0-1 1-2 0-2 1-2 0-2 1-2-1-4 0-2-1-2 0-2-2-2-1-1 0-6-6-4-8 0-12 1-2 0-2 3-6 5-5 8-4 2 0 2-1zM153 358l3 0 2 2 2 4 0 1-1 1-2 0-1-1-2-1 0-1-1-1-1-2z" fill="#1e4dff"/><path d="M212 222l4 0 4 2 2 2 0 1 1 1 0 2 1 2 0 2-1 2 0 2-1 2-2 2-2 1-1 1-7 0-2-1-4-4 0-1-1-2 0-6 2-4 3-3 2-1z" fill="#1222ff"/>
<use href="#outer"/>
</g>
<path d="M96.7 -15.5V0M96.7 408v15.5M213.6 -15.5V0M213.6 408v15.5M331.2 -15.5V0M331.2 408v15.5M-16 80.7H0M414 80.7h16M-16 231.1H0M414 231.1h16M-16 381.8H0M414 381.8h16" stroke="#000" stroke-width="3.3" fill="none"/>
<rect width="414" height="408" fill="none" stroke="#000" stroke-width="3.9"/>
</g>
<g transform="translate(1532.0 395.5) scale(0.9973 1.0007)">
<rect width="414" height="408" fill="#9a9a9a"/>
<polygon points="0,177.4 5.2,174.6 12.9,173.9 18.2,180.9 25.2,184.4 30.4,191.4 39.2,194.9 44.4,194.9 46.2,182.6 52.1,179.1 60.2,182.6 64.4,187.2 72.4,198.4 72.4,250.9 79.4,285.9 93.4,303.4 121.4,324.4 156.4,352.3 174.6,381 179.1,397.8 184.4,408.3 0,408.3" fill="#fff"/>
<g clip-path="url(#cpF)">
<rect width="414" height="408" fill="#b4ff8c"/><path d="M271.2 78.0l3.0 2.3v2.5l-3.0 -2.3zM281.0 76.0l4.2 3.2v2.4l-4.2 -3.2zM272.3 73.2l2.7 2.1v3.2l-2.7 -2.1zM277.0 80.8l3.2 2.4v3.1l-3.2 -2.4zM272.9 83.4l3.6 2.7v2.6l-3.6 -2.7zM276.6 80.5l4.0 3.0v2.1l-4.0 -3.0zM275.3 77.3l2.8 2.1v3.1l-2.8 -2.1zM276.6 78.6l4.2 3.1v2.6l-4.2 -3.1zM275.6 80.0l4.0 3.0v2.8l-4.0 -3.0zM271.4 79.1l4.0 3.0v3.1l-4.0 -3.0zM274.8 82.1l4.6 3.5v2.9l-4.6 -3.5zM273.7 78.8l4.6 3.4v2.5l-4.6 -3.4zM279.4 72.7l3.5 2.6v2.3l-3.5 -2.6zM275.4 79.3l2.9 2.2v2.8l-2.9 -2.2zM274.0 78.2l2.7 2.1v2.1l-2.7 -2.1zM282.8 72.1l4.7 3.5v2.7l-4.7 -3.5zM278.7 77.8l4.6 3.5v2.3l-4.6 -3.5zM277.0 78.1l2.9 2.2v2.9l-2.9 -2.2zM276.1 82.4l2.4 1.8v2.0l-2.4 -1.8zM276.6 77.4l3.3 2.5v2.1l-3.3 -2.5zM276.9 78.3l4.2 3.1v3.0l-4.2 -3.1zM281.4 75.7l3.7 2.8v2.7l-3.7 -2.8zM268.4 83.8l3.4 2.6v2.6l-3.4 -2.6zM263.5 82.8l4.6 3.5v2.3l-4.6 -3.5zM264.0 85.6l3.4 2.5v2.6l-3.4 -2.5zM264.3 85.1l4.8 3.6v2.3l-4.8 -3.6zM268.1 89.4l3.3 2.5v2.8l-3.3 -2.5zM259.7 86.6l3.1 2.3v3.0l-3.1 -2.3zM262.9 87.0l3.3 2.5v2.1l-3.3 -2.5zM263.6 86.3l2.8 2.1v3.1l-2.8 -2.1zM263.2 87.2l3.4 2.5v2.6l-3.4 -2.5zM261.7 88.4l2.8 2.1v2.5l-2.8 -2.1zM265.3 88.2l3.4 2.5v2.5l-3.4 -2.5zM258.4 84.5l3.4 2.5v2.8l-3.4 -2.5zM269.0 87.8l3.0 2.2v3.2l-3.0 -2.2zM268.2 87.6l3.0 2.2v2.1l-3.0 -2.2zM260.2 85.9l3.2 2.4v2.3l-3.2 -2.4zM258.1 86.5l4.2 3.1v2.2l-4.2 -3.1zM270.5 90.3l3.0 2.2v2.6l-3.0 -2.2zM259.0 89.1l2.4 1.8v2.9l-2.4 -1.8zM256.9 87.6l3.9 2.9v2.1l-3.9 -2.9zM253.3 90.5l3.7 2.8v2.9l-3.7 -2.8zM254.6 88.6l2.7 2.0v2.2l-2.7 -2.0zM255.1 89.1l2.6 2.0v2.1l-2.6 -2.0zM298.9 100.2l3.5 2.6v2.1l-3.5 -2.6zM311.1 93.7l2.5 1.9v2.6l-2.5 -1.9zM304.4 94.8l3.4 2.6v2.4l-3.4 -2.6zM298.3 101.3l3.6 2.7v2.0l-3.6 -2.7zM302.8 97.0l3.2 2.4v2.5l-3.2 -2.4zM295.5 92.7l2.8 2.1v3.2l-2.8 -2.1zM294.2 97.7l3.6 2.7v2.7l-3.6 -2.7zM292.4 97.6l3.0 2.3v2.1l-3.0 -2.3zM296.2 100.6l2.9 2.1v2.6l-2.9 -2.1zM307.0 96.6l2.5 1.9v2.5l-2.5 -1.9zM312.7 96.2l4.3 3.3v3.1l-4.3 -3.3zM297.5 96.6l4.1 3.1v2.6l-4.1 -3.1zM297.9 103.4l2.9 2.1v2.4l-2.9 -2.1zM305.1 96.8l4.6 3.4v2.8l-4.6 -3.4zM300.3 98.8l4.3 3.2v2.9l-4.3 -3.2zM300.7 95.8l3.3 2.5v2.4l-3.3 -2.5zM305.2 98.2l3.0 2.3v2.1l-3.0 -2.3zM302.2 103.3l3.9 2.9v3.1l-3.9 -2.9zM298.2 96.5l3.2 2.4v2.0l-3.2 -2.4zM310.7 104.4l4.1 3.0v2.8l-4.1 -3.0zM305.4 90.9l2.9 2.2v2.8l-2.9 -2.2zM297.2 99.8l2.5 1.8v2.9l-2.5 -1.8zM305.9 102.3l4.4 3.3v2.8l-4.4 -3.3zM299.1 89.8l2.8 2.1v3.0l-2.8 -2.1zM292.0 91.4l3.8 2.8v2.9l-3.8 -2.8zM302.1 99.0l3.0 2.2v2.8l-3.0 -2.2zM299.7 91.1l2.9 2.2v2.5l-2.9 -2.2zM305.1 102.4l2.6 2.0v2.5l-2.6 -2.0zM301.8 99.3l2.7 2.1v2.3l-2.7 -2.1zM301.6 100.5l2.8 2.1v2.4l-2.8 -2.1zM293.0 105.0l3.9 2.9v2.7l-3.9 -2.9zM306.9 99.4l4.5 3.4v2.3l-4.5 -3.4zM300.5 100.0l3.0 2.3v3.1l-3.0 -2.3zM313.3 93.6l3.2 2.4v3.0l-3.2 -2.4zM296.4 94.5l4.3 3.3v2.3l-4.3 -3.3zM307.6 100.6l2.5 1.9v2.3l-2.5 -1.9zM298.3 95.0l3.8 2.8v2.4l-3.8 -2.8zM307.1 95.5l3.1 2.4v2.6l-3.1 -2.4zM295.7 99.3l3.2 2.4v2.2l-3.2 -2.4zM303.7 96.1l4.4 3.3v2.8l-4.4 -3.3zM308.6 98.1l3.6 2.7v3.0l-3.6 -2.7zM291.4 107.0l4.2 3.1v2.8l-4.2 -3.1zM288.4 103.9l4.0 3.0v2.3l-4.0 -3.0zM290.6 101.4l4.1 3.1v2.6l-4.1 -3.1zM296.0 100.7l4.7 3.5v2.7l-4.7 -3.5zM293.1 106.3l3.7 2.7v2.9l-3.7 -2.7zM292.0 107.5l2.6 1.9v3.1l-2.6 -1.9zM294.7 105.7l3.2 2.4v2.3l-3.2 -2.4zM298.1 104.9l2.7 2.0v2.7l-2.7 -2.0zM293.4 107.8l2.6 1.9v2.5l-2.6 -1.9zM292.3 101.6l3.0 2.2v2.1l-3.0 -2.2zM291.8 102.5l3.7 2.8v2.9l-3.7 -2.8zM291.6 105.2l4.6 3.5v2.5l-4.6 -3.5zM310.6 120.8l2.7 2.0v2.3l-2.7 -2.0zM312.8 119.6l2.9 2.2v2.5l-2.9 -2.2zM308.2 118.3l3.4 2.6v2.8l-3.4 -2.6zM308.0 119.2l2.6 2.0v2.8l-2.6 -2.0zM308.4 118.3l3.3 2.5v2.7l-3.3 -2.5zM309.2 118.7l3.0 2.3v2.1l-3.0 -2.3zM312.1 117.6l3.6 2.7v3.0l-3.6 -2.7zM314.4 116.3l2.6 1.9v2.4l-2.6 -1.9zM312.1 125.9l5.6 4.2v3.0l-5.6 -4.2zM371.8 125.5a4 4 0 1 0 8 0a4 4 0 1 0-8 0zM371.8 133.6a4 4 0 1 0 8 0a4 4 0 1 0-8 0zM371.8 141.8a4 4 0 1 0 8 0a4 4 0 1 0-8 0zM355.5 141.8a4 4 0 1 0 8 0a4 4 0 1 0-8 0zM355.5 149.9a4 4 0 1 0 8 0a4 4 0 1 0-8 0zM363.6 141.8a4 4 0 1 0 8 0a4 4 0 1 0-8 0zM363.6 149.9a4 4 0 1 0 8 0a4 4 0 1 0-8 0zM363.6 166.2a4 4 0 1 0 8 0a4 4 0 1 0-8 0zM355.5 182.5a4 4 0 1 0 8 0a4 4 0 1 0-8 0zM355.5 207.0a4 4 0 1 0 8 0a4 4 0 1 0-8 0zM363.6 215.1a4 4 0 1 0 8 0a4 4 0 1 0-8 0zM365.3 220.9l4.2 3.1v3.0l-4.2 -3.1zM347.3 215.1a4 4 0 1 0 8 0a4 4 0 1 0-8 0zM302.3 163.1l4.2 3.1v3.0l-4.2 -3.1zM284.1 150.4l5.6 4.2v3.0l-5.6 -4.2zM278.5 161.9l2.8 2.1v3.0l-2.8 -2.1zM319.1 190.7l5.6 4.2v2.8l-5.6 -4.2zM329.6 149.8l5.6 4.2v2.8l-5.6 -4.2zM236.4 169.7l4.3 3.2v2.0l-4.3 -3.2zM234.0 173.2l3.3 2.4v3.1l-3.3 -2.4zM236.6 174.7l4.3 3.2v2.9l-4.3 -3.2zM234.0 177.4l2.4 1.8v2.8l-2.4 -1.8zM233.1 174.9l4.3 3.2v2.1l-4.3 -3.2zM232.1 172.8l3.2 2.4v2.5l-3.2 -2.4zM236.8 174.2l3.5 2.6v2.1l-3.5 -2.6zM236.2 169.8l3.7 2.8v2.2l-3.7 -2.8zM235.8 175.9l3.3 2.4v3.0l-3.3 -2.4zM236.9 173.6l2.8 2.1v2.8l-2.8 -2.1zM259.1 195.1l3.3 2.5v2.4l-3.3 -2.5zM255.2 192.9l4.5 3.4v2.9l-4.5 -3.4zM254.6 195.8l4.0 3.0v3.1l-4.0 -3.0zM256.9 195.9l2.9 2.2v2.4l-2.9 -2.2zM259.0 187.2l2.4 1.8v2.3l-2.4 -1.8zM259.6 197.6l3.7 2.8v2.9l-3.7 -2.8zM258.6 193.5l2.5 1.9v2.7l-2.5 -1.9zM259.4 200.3l4.2 3.2v2.1l-4.2 -3.2zM256.4 187.9l2.4 1.8v2.3l-2.4 -1.8zM254.3 186.1l4.4 3.3v3.1l-4.4 -3.3zM258.3 189.1l4.8 3.6v2.6l-4.8 -3.6zM257.8 191.1l2.5 1.9v3.1l-2.5 -1.9zM255.7 194.9l4.0 3.0v2.9l-4.0 -3.0zM254.8 188.7l4.6 3.4v3.0l-4.6 -3.4zM259.4 187.6l4.5 3.3v2.1l-4.5 -3.3zM256.2 191.0l4.2 3.1v3.0l-4.2 -3.1zM251.6 195.9l4.1 3.0v2.8l-4.1 -3.0zM260.4 187.3l3.6 2.7v3.1l-3.6 -2.7zM261.8 187.7l4.8 3.6v2.6l-4.8 -3.6zM259.3 194.0l2.8 2.1v2.3l-2.8 -2.1zM252.8 197.2l4.4 3.3v2.4l-4.4 -3.3zM221.4 213.5l2.4 1.8v2.7l-2.4 -1.8zM221.4 217.0l4.7 3.5v2.7l-4.7 -3.5zM216.9 216.3l3.6 2.7v3.1l-3.6 -2.7zM221.4 207.7l3.0 2.3v2.2l-3.0 -2.3zM221.1 212.6l4.7 3.5v2.3l-4.7 -3.5zM222.1 213.6l3.6 2.7v2.7l-3.6 -2.7zM223.1 216.0l4.0 3.0v2.5l-4.0 -3.0zM221.0 218.8l4.1 3.1v3.2l-4.1 -3.1zM219.5 207.6l2.7 2.0v2.6l-2.7 -2.0zM221.2 218.9l3.6 2.7v2.7l-3.6 -2.7zM220.2 207.7l3.1 2.3v2.1l-3.1 -2.3zM215.7 195.6l3.3 2.5v2.6l-3.3 -2.5zM213.9 198.3l2.6 2.0v3.1l-2.6 -2.0zM210.2 197.6l2.8 2.1v2.0l-2.8 -2.1zM215.0 193.4l3.2 2.4v3.2l-3.2 -2.4zM216.8 196.4l2.5 1.9v2.5l-2.5 -1.9zM212.3 198.0l3.4 2.6v2.4l-3.4 -2.6zM214.6 196.1l2.9 2.1v3.2l-2.9 -2.1zM213.6 194.2l3.8 2.8v2.3l-3.8 -2.8zM213.7 193.6l4.6 3.5v2.4l-4.6 -3.5zM214.3 196.0l2.8 2.1v2.4l-2.8 -2.1zM248.4 232.0l3.9 2.9v2.7l-3.9 -2.9zM247.5 226.1l3.5 2.6v2.4l-3.5 -2.6zM244.8 228.3l2.7 2.0v2.6l-2.7 -2.0zM253.3 221.7l3.0 2.2v2.5l-3.0 -2.2zM252.4 237.3l2.8 2.1v3.1l-2.8 -2.1zM250.0 218.9l3.7 2.8v3.1l-3.7 -2.8zM247.4 235.8l4.1 3.1v2.3l-4.1 -3.1zM250.7 230.9l3.4 2.6v2.5l-3.4 -2.6zM246.8 226.7l3.2 2.4v2.8l-3.2 -2.4zM245.8 223.9l3.0 2.3v2.2l-3.0 -2.3zM244.9 224.8l2.9 2.2v2.1l-2.9 -2.2zM242.7 220.8l3.8 2.9v2.8l-3.8 -2.9zM252.5 228.2l3.4 2.5v2.4l-3.4 -2.5zM247.9 222.6l2.9 2.2v2.7l-2.9 -2.2zM242.6 224.2l4.6 3.4v2.8l-4.6 -3.4zM243.4 237.0l3.6 2.7v2.6l-3.6 -2.7zM247.4 238.3l2.7 2.1v2.3l-2.7 -2.1zM241.2 226.3l4.5 3.3v2.2l-4.5 -3.3zM251.5 229.7l3.7 2.8v2.2l-3.7 -2.8zM243.7 233.5l2.9 2.2v2.1l-2.9 -2.2zM254.8 226.3l4.7 3.5v2.1l-4.7 -3.5zM246.6 218.2l4.7 3.5v2.1l-4.7 -3.5zM248.3 233.7l4.6 3.5v2.1l-4.6 -3.5zM250.8 223.9l3.8 2.9v2.2l-3.8 -2.9zM248.6 224.4l3.4 2.5v2.8l-3.4 -2.5zM247.0 236.7l4.7 3.5v2.7l-4.7 -3.5zM248.6 233.1l3.3 2.5v3.2l-3.3 -2.5zM255.7 227.1l2.9 2.2v2.5l-2.9 -2.2zM241.0 234.5l4.0 3.0v2.3l-4.0 -3.0zM253.8 233.9l3.8 2.8v2.9l-3.8 -2.8zM246.2 224.1l4.5 3.4v2.7l-4.5 -3.4zM246.6 221.8l2.6 2.0v2.7l-2.6 -2.0zM252.2 237.2l3.5 2.6v2.6l-3.5 -2.6zM251.4 228.9l3.6 2.7v2.8l-3.6 -2.7zM247.6 222.2l4.6 3.4v3.1l-4.6 -3.4zM251.7 230.1l4.2 3.2v3.0l-4.2 -3.2zM241.7 238.3l3.9 2.9v2.3l-3.9 -2.9zM243.9 225.9l2.7 2.0v2.0l-2.7 -2.0zM244.4 223.4l4.4 3.3v2.1l-4.4 -3.3zM243.3 240.6l4.6 3.4v2.3l-4.6 -3.4zM246.4 242.0l4.2 3.2v2.7l-4.2 -3.2zM254.4 234.0l4.3 3.2v2.9l-4.3 -3.2zM244.5 220.3l3.7 2.8v2.0l-3.7 -2.8zM237.8 225.4l4.6 3.5v2.1l-4.6 -3.5zM244.6 229.5l2.4 1.8v2.2l-2.4 -1.8zM249.2 228.8l4.4 3.3v2.1l-4.4 -3.3zM242.8 232.9l3.3 2.5v2.2l-3.3 -2.5zM242.3 220.8l3.1 2.4v2.2l-3.1 -2.4zM250.0 231.8l4.4 3.3v2.0l-4.4 -3.3zM240.8 231.1l4.3 3.2v2.7l-4.3 -3.2zM240.7 222.2l4.5 3.4v3.0l-4.5 -3.4zM254.8 232.4l4.7 3.5v2.5l-4.7 -3.5zM248.3 234.4l3.1 2.3v2.4l-3.1 -2.3zM242.1 231.9l3.8 2.8v2.2l-3.8 -2.8zM251.2 232.2l2.5 1.9v3.1l-2.5 -1.9zM234.9 223.7l3.9 2.9v3.0l-3.9 -2.9zM238.5 219.0l4.5 3.4v2.6l-4.5 -3.4zM234.5 219.6l3.9 2.9v2.6l-3.9 -2.9zM235.6 220.7l4.5 3.4v3.1l-4.5 -3.4zM237.1 221.8l4.0 3.0v2.5l-4.0 -3.0zM234.5 218.1l4.1 3.1v2.0l-4.1 -3.1zM238.1 222.6l4.2 3.1v2.5l-4.2 -3.1zM241.0 221.0l3.9 2.9v2.5l-3.9 -2.9zM233.5 216.1l3.9 2.9v2.6l-3.9 -2.9zM235.1 217.4l4.2 3.1v2.8l-4.2 -3.1zM235.5 219.3l4.1 3.1v3.2l-4.1 -3.1zM234.8 214.4l4.0 3.0v2.0l-4.0 -3.0zM243.3 265.5l3.6 2.7v2.7l-3.6 -2.7zM239.3 268.4l3.2 2.4v2.8l-3.2 -2.4zM242.0 261.5l4.0 3.0v2.1l-4.0 -3.0zM246.3 263.6l2.6 1.9v2.8l-2.6 -1.9zM244.7 254.6l4.2 3.2v2.4l-4.2 -3.2zM253.0 270.3l4.5 3.4v2.1l-4.5 -3.4zM244.1 258.1l3.6 2.7v2.4l-3.6 -2.7zM252.1 259.6l3.2 2.4v3.0l-3.2 -2.4zM248.3 258.4l3.5 2.6v2.7l-3.5 -2.6zM246.7 269.5l3.1 2.3v3.0l-3.1 -2.3zM242.7 261.9l3.4 2.5v3.1l-3.4 -2.5zM237.4 267.8l3.6 2.7v2.0l-3.6 -2.7zM252.1 262.4l3.0 2.3v2.6l-3.0 -2.3zM242.4 256.3l2.5 1.8v2.6l-2.5 -1.8zM243.9 267.5l2.6 2.0v2.4l-2.6 -2.0zM244.7 265.2l3.1 2.3v2.4l-3.1 -2.3zM246.0 265.6l4.2 3.1v2.4l-4.2 -3.1zM240.1 269.9l4.3 3.2v3.2l-4.3 -3.2zM243.5 263.8l3.1 2.4v3.2l-3.1 -2.4zM244.8 262.5l4.6 3.5v2.8l-4.6 -3.5zM247.9 266.7l3.5 2.6v2.3l-3.5 -2.6zM241.2 264.3l3.7 2.8v2.8l-3.7 -2.8zM249.1 259.2l2.7 2.0v2.2l-2.7 -2.0zM237.1 266.4l3.2 2.4v2.2l-3.2 -2.4zM246.4 263.8l4.7 3.5v2.4l-4.7 -3.5zM244.1 258.8l3.3 2.5v2.5l-3.3 -2.5zM239.8 263.0l4.6 3.5v3.1l-4.6 -3.5zM242.7 264.1l4.7 3.5v2.6l-4.7 -3.5zM249.9 257.1l3.7 2.8v3.2l-3.7 -2.8zM250.5 265.5l4.6 3.5v2.9l-4.6 -3.5zM245.3 268.8l2.6 2.0v2.5l-2.6 -2.0zM218.6 274.5l4.0 3.0v2.6l-4.0 -3.0zM222.6 267.9l4.7 3.5v2.9l-4.7 -3.5zM215.8 262.9l3.4 2.6v2.3l-3.4 -2.6zM222.2 265.2l4.3 3.2v3.1l-4.3 -3.2zM221.7 266.2l2.6 1.9v2.9l-2.6 -1.9zM220.0 266.5l4.3 3.2v2.8l-4.3 -3.2zM224.1 267.5l4.7 3.5v3.1l-4.7 -3.5zM217.1 263.6l3.9 2.9v2.3l-3.9 -2.9zM218.3 273.2l4.7 3.6v3.1l-4.7 -3.6zM220.4 266.5l4.6 3.4v2.1l-4.6 -3.4zM220.7 262.8l2.9 2.2v2.6l-2.9 -2.2zM222.9 275.0l3.4 2.5v2.5l-3.4 -2.5zM218.8 263.1l2.9 2.2v2.9l-2.9 -2.2zM225.1 276.1l4.7 3.5v2.3l-4.7 -3.5zM216.1 270.7l3.6 2.7v2.4l-3.6 -2.7zM211.3 273.9l3.9 2.9v2.7l-3.9 -2.9zM222.6 271.8l4.2 3.2v2.1l-4.2 -3.2zM211.9 263.4l2.8 2.1v2.3l-2.8 -2.1zM216.0 260.6l3.8 2.8v2.5l-3.8 -2.8zM211.3 273.3l3.3 2.5v2.6l-3.3 -2.5zM210.4 268.5l4.8 3.6v3.1l-4.8 -3.6zM216.4 262.8l2.8 2.1v2.7l-2.8 -2.1zM215.5 272.4l2.7 2.0v2.0l-2.7 -2.0zM211.6 276.4l3.0 2.2v3.0l-3.0 -2.2zM219.8 267.2l2.6 1.9v2.5l-2.6 -1.9zM221.4 267.6l4.6 3.5v2.7l-4.6 -3.5zM214.7 270.8l3.4 2.6v2.2l-3.4 -2.6zM215.7 260.6l4.5 3.4v2.9l-4.5 -3.4zM216.9 272.2l2.9 2.2v2.2l-2.9 -2.2zM215.1 270.9l4.7 3.6v2.2l-4.7 -3.6zM213.5 264.9l3.8 2.9v3.1l-3.8 -2.9zM184.2 294.5l3.6 2.7v2.5l-3.6 -2.7zM183.9 288.9l3.2 2.4v3.2l-3.2 -2.4zM182.7 295.8l2.6 2.0v2.4l-2.6 -2.0zM187.2 288.2l3.5 2.6v2.8l-3.5 -2.6zM175.1 288.4l4.2 3.1v2.6l-4.2 -3.1zM180.5 285.9l2.7 2.1v2.6l-2.7 -2.1zM186.0 287.3l4.5 3.4v3.1l-4.5 -3.4zM180.1 290.1l3.0 2.2v2.7l-3.0 -2.2zM181.7 287.9l3.6 2.7v3.1l-3.6 -2.7zM181.0 289.8l4.5 3.3v2.3l-4.5 -3.3zM182.7 297.3l4.5 3.4v3.2l-4.5 -3.4zM177.1 295.0l4.5 3.4v2.1l-4.5 -3.4zM179.3 284.2l3.3 2.5v2.9l-3.3 -2.5zM177.4 284.0l2.4 1.8v3.1l-2.4 -1.8zM177.2 295.5l4.3 3.2v2.6l-4.3 -3.2zM175.6 286.9l4.0 3.0v3.0l-4.0 -3.0zM181.3 290.5l2.4 1.8v2.1l-2.4 -1.8zM180.2 293.0l3.7 2.7v2.6l-3.7 -2.7zM181.3 289.7l4.3 3.2v2.9l-4.3 -3.2zM186.3 298.9l2.5 1.9v3.0l-2.5 -1.9zM179.7 283.4l3.9 2.9v3.1l-3.9 -2.9zM176.8 282.6l3.5 2.7v2.8l-3.5 -2.7zM185.9 288.0l2.5 1.9v2.0l-2.5 -1.9zM183.1 285.0l4.0 3.0v2.3l-4.0 -3.0zM181.3 284.4l2.5 1.9v2.2l-2.5 -1.9zM177.7 294.5l3.3 2.4v2.2l-3.3 -2.4zM181.6 289.7l2.9 2.1v2.7l-2.9 -2.1zM176.5 292.4l2.9 2.2v3.2l-2.9 -2.2zM182.3 297.1l4.6 3.5v2.9l-4.6 -3.5zM178.6 288.7l3.5 2.6v2.6l-3.5 -2.6zM178.9 283.9l4.8 3.6v2.3l-4.8 -3.6zM180.4 290.8l4.7 3.5v2.8l-4.7 -3.5zM180.9 294.1l3.0 2.2v2.2l-3.0 -2.2zM167.1 296.4l4.7 3.5v3.1l-4.7 -3.5zM170.8 293.4l2.5 1.9v3.1l-2.5 -1.9zM167.1 300.3l3.2 2.4v2.4l-3.2 -2.4zM167.8 296.1l3.9 2.9v3.1l-3.9 -2.9zM169.5 298.4l3.1 2.3v2.8l-3.1 -2.3zM169.1 300.7l4.0 3.0v3.1l-4.0 -3.0zM170.0 308.9l2.8 2.1v3.0l-2.8 -2.1zM188.6 273.3l4.2 3.1v3.0l-4.2 -3.1zM262.0 294.6l3.1 2.3v2.9l-3.1 -2.3zM260.2 295.7l2.5 1.9v3.1l-2.5 -1.9zM258.3 294.1l3.3 2.5v2.5l-3.3 -2.5zM261.3 293.6l4.3 3.2v3.1l-4.3 -3.2zM260.6 294.0l4.6 3.4v3.2l-4.6 -3.4zM259.3 301.2l4.5 3.4v3.0l-4.5 -3.4zM258.9 297.1l4.4 3.3v3.0l-4.4 -3.3zM256.7 291.1l4.7 3.5v2.6l-4.7 -3.5zM257.8 294.7l4.6 3.4v2.5l-4.6 -3.4zM257.6 293.8l2.7 2.0v3.0l-2.7 -2.0zM259.1 298.1l4.3 3.2v2.1l-4.3 -3.2zM259.7 293.3l3.3 2.5v2.4l-3.3 -2.5zM254.0 296.1l4.6 3.4v2.8l-4.6 -3.4zM259.9 294.5l3.4 2.5v2.9l-3.4 -2.5zM238.2 335.0l3.1 2.3v2.1l-3.1 -2.3zM240.6 332.5l3.2 2.4v2.6l-3.2 -2.4zM239.3 332.1l3.8 2.9v2.2l-3.8 -2.9zM238.9 329.0l2.8 2.1v2.7l-2.8 -2.1zM237.7 332.3l3.0 2.3v2.7l-3.0 -2.3zM235.1 332.0l3.8 2.8v2.7l-3.8 -2.8zM236.9 324.8l4.6 3.5v3.2l-4.6 -3.5zM237.4 332.1l3.2 2.4v3.1l-3.2 -2.4zM355.5 255.9a4 4 0 1 0 8 0a4 4 0 1 0-8 0zM322.9 337.4a4 4 0 1 0 8 0a4 4 0 1 0-8 0zM347.3 345.5a4 4 0 1 0 8 0a4 4 0 1 0-8 0zM339.2 370.0a4 4 0 1 0 8 0a4 4 0 1 0-8 0zM339.2 378.1a4 4 0 1 0 8 0a4 4 0 1 0-8 0zM298.4 394.4a4 4 0 1 0 8 0a4 4 0 1 0-8 0zM54.9 220.3l5.6 4.2v3.0l-5.6 -4.2zM63.0 229.1l5.6 4.2v3.0l-5.6 -4.2zM62.1 288.5a4 4 0 1 0 8 0a4 4 0 1 0-8 0zM89.3 303.2l2.6 2.0v3.1l-2.6 -2.0zM92.0 304.6l2.9 2.2v2.5l-2.9 -2.2zM95.8 301.7l4.3 3.2v2.6l-4.3 -3.2zM92.3 302.3l3.7 2.8v2.1l-3.7 -2.8zM86.1 303.3l2.4 1.8v2.4l-2.4 -1.8zM87.3 299.9l2.9 2.2v2.8l-2.9 -2.2zM88.6 298.2l3.7 2.8v2.7l-3.7 -2.8zM91.5 300.3l2.4 1.8v2.6l-2.4 -1.8zM88.2 304.4l3.4 2.6v2.9l-3.4 -2.6zM83.7 301.1l3.8 2.9v2.7l-3.8 -2.9zM90.8 302.2l3.4 2.5v2.4l-3.4 -2.5zM85.6 300.5l4.3 3.3v2.6l-4.3 -3.3zM90.8 303.4l4.1 3.0v2.1l-4.1 -3.0zM90.1 301.9l4.1 3.1v2.1l-4.1 -3.1zM159.9 370.0a4 4 0 1 0 8 0a4 4 0 1 0-8 0zM141.1 347.8l3.4 2.5v3.0l-3.4 -2.5zM166.7 355.3l2.4 1.8v2.8l-2.4 -1.8z" fill="#ffa812"/><path d="M285.5 86.7l2.8 2.1v3.0l-2.8 -2.1zM294.3 112.9l2.8 2.1v3.0l-2.8 -2.1zM291.0 160.5l4.6 3.5v2.3l-4.6 -3.5zM295.8 161.4l4.1 3.1v3.1l-4.1 -3.1zM292.3 159.9l3.1 2.3v2.3l-3.1 -2.3zM293.2 162.7l3.3 2.5v2.4l-3.3 -2.5zM294.7 162.9l2.8 2.1v2.5l-2.8 -2.1zM289.2 161.8l2.4 1.8v3.2l-2.4 -1.8zM293.7 161.6l3.8 2.9v2.0l-3.8 -2.9zM296.1 160.8l4.4 3.3v3.1l-4.4 -3.3zM315.3 172.9l4.2 3.1v3.0l-4.2 -3.1zM236.5 175.9l2.8 2.1v3.0l-2.8 -2.1zM252.3 204.6l2.8 2.1v3.0l-2.8 -2.1zM268.0 214.5l2.8 2.1v2.8l-2.8 -2.1zM259.5 287.1l4.1 3.1v3.2l-4.1 -3.1zM260.5 290.4l2.9 2.2v2.1l-2.9 -2.2zM261.1 287.6l3.8 2.8v3.1l-3.8 -2.8zM260.8 290.8l3.5 2.6v2.8l-3.5 -2.6zM105.0 324.4l3.4 2.5v3.0l-3.4 -2.5z" fill="#ff1500"/>
<use href="#outer"/>
</g>
<path d="M96.7 -15.5V0M96.7 408v15.5M213.6 -15.5V0M213.6 408v15.5M331.2 -15.5V0M331.2 408v15.5M-16 80.7H0M414 80.7h16M-16 231.1H0M414 231.1h16M-16 381.8H0M414 381.8h16" stroke="#000" stroke-width="3.3" fill="none"/>
<rect width="414" height="408" fill="none" stroke="#000" stroke-width="3.9"/>
</g>
<g transform="translate(246.2 1013.4) scale(0.9990 0.9983)">
<rect width="414" height="408" fill="#9a9a9a"/>
<polygon points="0,177.4 5.2,174.6 12.9,173.9 18.2,180.9 25.2,184.4 30.4,191.4 39.2,194.9 44.4,194.9 46.2,182.6 52.1,179.1 60.2,182.6 64.4,187.2 72.4,198.4 72.4,250.9 79.4,285.9 93.4,303.4 121.4,324.4 156.4,352.3 174.6,381 179.1,397.8 184.4,408.3 0,408.3" fill="#fff"/>
<g clip-path="url(#cpF)">
<rect width="414" height="408" fill="#ff0000"/><path d="M-6 -6l15 0 0 6-1 1-2 0-4-4-4 0-2 1 2 4 2 2 2 1 4-2 1 1 1 0 2 2 1 0 1 2 2-4 4 0 6 3 1-1 0-2-3-6 0-1-1-1-1-2 187 0 1 1 2-1 210 0 0 64-2-1-2 1 1 2 1 1 2 0 0 103-2 2 0 6-2 1-10-5-2 0-2 1-1 1 3 3 2 1 2 0 2 1 2 0 2 1 2 0 4 2 0 60-1 2 1 2 0 98-2-1-1 1 0 2 1 2 0 10-1 2-1 1-2-1-6 0-2-1-1 1-1 0-2 4 0 2-2 1-2 0-3-3 0-2-1-2-2-2-4-2-4 0-4 2 0 1-1 1 0 2 3 3 2 1 3 0 1 1 2 1 6 6 1 2 3 3 2 1 0 1 1 1 0 4 1 2 1-2 1 0 1-2 3 0 2 1 2 2 2 1 4 0 0 30-51 0 2-2 0-6 3-3 2-1 0-2-2-2-2-1-1-1-1 0-2-1-1-1-1-2 2-2 1-2 0-2-3-3-2-1-2 0-1-2-1 0-2-2-4-2-2 0-2 1-2 0-1-1 0-2 1-1 4 0 3-3 1-2 0-2-1-2-3-3 0-1-1-2 1-1 0-1 2-4 0-6 2-2 2 0 2-1 2 1 1 0 3 3 0 1 1 2-1 2-4 4 1 2 0 2 1 2 0 4 2 4 4 2 2-2 1 0 2-2 1-2 0-2 1-2 0-4-1 0-1-2-2-2 0-2 1-1 2-1 2 0 2-2 0-4-2-2-2 1-1 1-1 0-2 1-2-1-2 0-2-2-1-2 0-2 1-1 2-1 2 0 2 1 4 0 0-2-2-1-2 0-4-2-4-4 0-2 1-2 1-1 0-3-1-2-4-4-4 0-1 1-2 0-1-1-1 0-2-1-4 2-2 0-2-1-4 0-1 2 1 2 0 2-1 2-1 0-4 2-2 2 0 4-2 4 0 1-2-1-2 0-3-6-2-2-1-2 1-2 2-2-1-2-4-2-2 0-1 2 1 2 4 4-2 1-2 0-4 2-4 0-2-1-2 0-1 2 1 2 0 2-2 1-2 0-1 1-1 2-2 2-2 0-2 1-2 2-4 2-2-1-1 0-1-1 0-1-1-2 0-2 1-1 4 2 2-1 1 0 0-2-1-2 0-4 2-4-2-4-2-2-2-1-2 0 0 7-2 1-2 0-2 1-1 0-1 1-2 0-1-1-1 0-2-1-6 3-2-1-1-1-1-2-2-1-2 1 0 2-1 2-3 3-2 1-4 0-2 1-1 1-1 2-2 2-4-2-1 0-1-1-4 2-1 1-1 0-4 2-1 2 0 4-1 2 0 1-1 1 1 1 0 1 2 2 0 1 7 7 0 2-1 1-2 1-2-1-2 0-10-5-2-2-1 0-1-2-1 0 0-2 1-1 0-3-1-2-1-1-2 0 0 1-2 4-2 2-2 0-2-1-3-3-1 0-4-2-2 0-2 4-2 0-2-1-2-2-2 0-2 1-4 0-2-1-2 0-1 1-1 0-2 1-2-1-4-4-2 1 0 1 1 2 2 2 1 2 0 4-4 0-2-1-2 0-2-1-2 0-4-2-2-2 0-2 4-8-2-4-2-1-4 2-3 3 1 2 0 2 2 4 0 2-1 2 1 2 0 1 3 3 2 4-2 4 0 2 1 2 2 1 2 0 4 4 0 1 1 2 1 1 0 4-4 0-2 1-1 0 0 2 1 2 0 2 1 2 1 1 2 0 1-1 1-2 0-1 1-1 1-2 2 1 2 2 4 2 1 1 1 0 10 5 1 1 1 0 4 2 2-1 0-1 2-2 2 0 2 1 2 0 2-1 2 1 3 3-1 2 0 4 1 2 3 3 2 1-106 0 2-1 2 0 2 1 4-2 2-2 0-1 2-1 3-6 1-1 0-1-4-4 0-2 2 1 2 0 1-1 1 0 2-2-1-2-2-2-1 0-2-1-4 0-1 1-1 2-2 0-2-1-2 0-2 1-1 2 1 1 0 1 1 2 2 2 0 2-2 2-1 0-2 2 0 1-1 1-1 2-2-1-3-3-1 0-6-6 0-4-1-2-3-3-2-1-2 1 0 1-2 2-4 2-1 0-1 2 0 2-1 2 0 4 1 2 2 1 1-1 0-2 1-2 3 0 2 2 3 6 4 4-26 0 0-2-2-4-2-2-2-4 1-2-2-4-5-5-2 0-2 1-2 2-1 2-2 2 0 4 1 2 2 2 4 0 2 1 1 1 0 6-47 0 0-156 1 0-1-1 0-175 4 0 2-1 2 0 1-1 0-2-1-2-2-1-4 0-2-1zM2 11l-1 1-1 2 0 6 2 4 1 0 1 1 2 0 2-1 1-2 0-4 1-2-4-4-1 0-1-1zM12 63l-1 1 0 4-1 2 0 2 2 4 2 1 2 2 2 0 1-1 0-2-1-1 0-1-1-2 0-4-1-2 0-1-2-2zM20 289l-1 1 1 2 2 0 0-3zM26 8l0 4 1 2 1 1 4 2 2 0 1-1 1 0 2-2 0-2-4-2-2 0-4-2zM42 0l-2 1 0 3 1 2 1 1 2 0 2-1 1-2-1-2-2-2zM48 42l-2 1-1 1 0 2-2 2-1 2 1 2 1 1 2 0 2-1 1-2 0-4-1-2zM50 37l-1 1 0 2 1 1 1-1 1 0 2-2-2-1zM52 -2l-1 2 1 1 1-1zM58 155l-1 1 0 4 2 2 1 0 2-1 1-1 0-2-1-2-2-1zM72 45l-2 1-1 2 1 2 0 1 2 1 0 1 1 1 0 6 1 2 2 2 2 1 3 3 1 2 2 1 4 0 2-1 1-2-1-1-6-3 0-2 1-2 0-2-3-3-4-2-3-3 0-2zM106 164l-2 4 0 1-2 1-2 0-2 1-2 0-4-2-2-2-2 1-2 2 0 2 2 4 2 2 2 0 2-1 2 0 2 1 1 0 1 1 4 0 1-1 1 0 2-1 6 0 0-1 2-2 0-4-2-4-2-2-2-1-2 0zM116 101l-1 1-1 2-2 2-1 2 0 2 3 3 2 0 2-1 1-2 0-4-1-2 0-1zM158 340l-1 2 1 1 2 1 1-2-1-1zM276 271l0 1-1 2 1 1 0 1 2 1 2 2 6 3 2-1 1-1 0-2-1-2-2-1-1-1-1 0-4-2-1 0-1-1zM310 18l-1 2 0 2 4 4 1 0 2 1 2-1 1-2-2-2-1 0-2-2zM322 175l-1 1 1 1 1-1zM328 40l-1 2 1 2 3 0 0-2-1-1zM360 40l-4 2 0 1-3 3-2 4-1 1-4 2-1 1-7 0-2 2-2 0-2-2-1 0-1-1-2-1-2 2 1 2 1 1 0 1 1 2 0 4-1 2 0 2 1 2 1 1 2 1 2 2 1 2-2 2 0 4 3 3 2 0 2 1 1 0 1 1 2 1 6-3 2 0 4 2 2 0 2 1 1 0 1 1 1-1 1 0 1-2 1-1 2-1 2-2 2-4 0-1 1-1 1 0 2-1 4 0 1-1 0-6 1-1 0-1 2-2 0-1 1-1 1-2 0-2-1-2-1-1-4 0-8-4-2 0-2-1-2 0 0-6-1-2-1-1-2-1zM388 37l-2 2 0 4 1 1 1 2 2 0 2-2 0-7zM392 -4l0 3 1 1 1 0 0-2zM402 192l-2 0-4 2-1 2 0 4 2 4 3 3 4 2 2 0 4-2 2 0 2-1 2-4-2-4-2-1-1-1-2-4-1 0-2-1-2 0zM382 366l-1 0-1 2 0 1-1 1 0 4 1 1 0 1 2 1 4-2 2 0 2-1 0-2-1-2-3-3-2-1zM28 44l-1 2 1 2 2 2 4 0 2 1 2-1 1 0-5-5-2 0-2-1zM40 124l-1 2 3 6-1 2 1 1 0 1 4 4 2 1 1-1 0-2-3-6 1-2 0-2-1-2-4-2zM72 85l-1 1 0 6 1 2 0 4-3 0-1-1-2 0-2 2 0 4 2 2 2 1 4 0 2 1 1-1 1-2 0-2 1-2 1-1 0-1 1-2 0-4-1-2-4-4zM114 117l0 1-2 4 0 4 4 2 1 0 1 1 4 0 2-1 2-2 2-1 1-1-1-1-2-1-2 0-6-3-2-2zM316 120l0 2 1 0zM328 116l0 2 1 2 1 1 2 1 2-2 0-2-2-2zM344 91l-2 2 0 3 4 2 2-2-2-4-1 0zM352 136l0 2 2 0zM356 95l0 3 1-2zM362 91l0 3 2 0 0-3zM378 321l-1 1-1 2 0 2 1 2 1 1 2 1 1-2 0-6-1-2zM388 116l2 1 0-1zM402 265l-1 1 1 2 2 2 2-1 0-1-1-2-1-1zM406 239l0 3 2 0 1-2-1-1zM410 213l-1 1 0 2 3 3 2 0 1-1 0-2-3-3zM0 186l-1 0-2 2 1 2 2 2 0 6-1 2 1 2 0 1 1 1 0 2 1 2 4 0 2-1 0-1 2-2 0-1 1-1 0-2 1-1 4 0 1-1 2-4 0-4-1-2-2-2-1 0-1-1-2 0-6 3-2-1-2 0zM30 164l-1 2 3 3 2 1 2-1 1-1 0-2-1-2-2-1-2 0zM48 160l-2 2 0 2 2 2 1 2 0 2-1 2-2 0-2-1-2 0-2 1-2 0-2-1-1 1-1 0-2 2-2 0-2 1 0 3 1 2-1 0-4 4 0 2 1 2 2 2 1 2 2 2 2 1 6 0 2 1 1 2 0 2-1 2 0 2-2 1 0 1-1 2 0 2 3 3 2 1 1-2 0-2-1-2 0-2 2-2 0-1 1-1 1-2 2-2 2 0 2 1 0 1 2 4 0 2-1 2 1 2 0 4-2 4-2 1-6 0-4 2-1 1-1 2 0 4-4 2-1 2 0 4-1 2-2 1 0 1-1 2 0 2-1 2-4 2-1 2 0 2 1 1 0 1 1 2 3 3 4 0 3-3 0-6 1 0 4-2 2 0 2 1 2 0 4 2 6 0 0 1 1 2-1 1-2 1-1 2 0 4 1 2 0 1 2 1 2 0 2 1 6 0 2-1 0-2-2-1-2 0-1-1-1 0-1-2 0-2 1-1 4 0 2 1 2 0 2 1 1 1 2 0 1-2 0-1 1-1 1 0 2-1 2 0 6 3 2 2 0 5 2-1 1-2 1-1 2-1 1-2-2-4 1-2 4-4 2 2 0 2 2 4 0 2 1 2 1 1 1-1 0-4 1-1 2-1 0-2-1-2-1-1-2-1-1 0-2-2-2-4-2-2-1 0-4-2-2-2-2-4-2-2-1-2-4-4 1-2 2-2 2-4 0-4-1-2 0-2-1-2 0-8 1-2 1-1 2-1 2-2 0-2-1-2 0-2-3-3-4-2-2-2-2-1-4-4 0-1-1-1-1-2-4 2-6-3-2 0-2 2-2 1-2-1-2-2 0-3-2-4-2-2zM78 127l0 3-1 2 0 2 3 3 0 3-2 1-4-4-2 2 0 3 1 2 0 2 1 2 0 1 2 2 2 0 2-1 6 0 2-2 1-2 1-1 2 0 2-1 1 0 2-2 3-6-1-2-5-5-2 0-2 1 0 1-1 1-1 2-3 0-5-5-2-1zM328 305l0 1-1 2 1 1 2 1 2-2-1-2-1-1zM390 152l-2 2 0 4 3 6 0 4 1 1 2-1 0-4 1-2 0-2 1-2 0-4-2-2-2-1zM-2 230l-1 0 0 2 1 0zM16 254l-1 2-2 2-1 0-2 1-2 0-2 1 0 2 2 1 2 0 2-1 4-4 2 0 2-2-1-2-1-1zM24 375l-2 2 0 1 2 2 4 2 2-1 1-1 1-2-2-1-1-1-1 0-2-1zM46 264l-1 0-2 2 0 4 1 2 2 0 2-1 3-3 0-2-2-2zM62 282l-2 2 2 4 0 4-2 1-2 0-2-2-2-1-2 4-2 0-2-1-1-1-1 0-2-1-1 1 0 4 1 2 2 2 0 1 1 1 0 2-1 1-2 1-2 2-2-1-2-2-8-4-2 0-1 1 0 2 1 2 0 1 1 1 1 2 2 2 2 1 6 0 2-1 4 2 2 2 0 1 1 1 5 10 2-1 1-1-1-2 2-4 2 1 4 4 4 2 3-3 0-2 1-1 2-1 5 0 2 2 0 4-2 2 0 6-1 1-4 0-2-1-4 0-4-2 0 4 1 2 0 4 1 2 4 4 1 2-1 2-2 0-2-1-1-1-1-2-2-2-6-3-1 1 0 4 1 1 0 1 2 2 2 1 4 0 1 1 1 2 0 2-2 0-2-2-1 0-1-1-4 0-2 1-4 0-6 6 0 5-2 2-2 0-5-5-1-2 0-3-1-1-1-2-2 2 1 2-1 2-2 2-1 2 0 2 1 2 2 2 0 1 3 3 0 2 2 4 2 2 1 2 1 0 1 1 2 0 1 1 1 0 2 2 2 1 1 1 2 0 3-3 2 1 4 0 1-2 0-2-3-6 1-2 0-2 1-1 2 0 1 1 1 0 1 2 1 1 2 1 2 2 2 0 2 1 2 0 2 1 1 0 1 2 4 2 2 0 0-2-2-1-2-2-2-1-1-2 2-4 1 0 2-2 4-2 4 0 2 1 4 4 2-1 1 0 1-1 2-1 0-1 2 0 2-1 1-2 0-2-5-5-2-1-4-4 0-2-1-2 0-2-1-2 0-2-1-2 1-2 0-4-2-2-4-2-4 0 2-1 0-1 1-2-1-2 0-2 1-2-1-2 0-2-2-4 0-2 2-1 0 1 1 2 1 1 0 1 1 2 0 2 3 3 2 1 1 0 2 2 3 6 1 0 1 1 2 0 2 1 2 0 2 1 3 3 0 2-1 1-2 1-2 2 2 2 2 1 1 1 1 0 2 1 4 0 1-1 1 0 1-2 0-6-2-2-1-2-2-2-1 0-1-2-2-2 0-1-2-2-4-2-3-3 0-10-2-2-3-6-2-2-2-1-2 0-2 1 0 4 1 2-1 2-2-1-4 0-2-2-2-1-1-2 0-6-3-3-2 0-1-1-1 0-2-1-2-2 0-3 2-1 1-1 1 0 4-2 1-2-1-1 0-1-2-1-12 0-2-1zM92 280l-4 2 1 2 1 0 2 1 2 0 1-1 0-2-1-2zM390 310l0 2 2 4-2 2-2 0-2 1-1 1 3 3 4 0 2 2 0 2-2 1-1 2 0 2 1 2 4-2 2 1 1 1 1 0 2 2 2 1 2 0 2-1 2 0 2 1 2 0 2-2 0-1 1-2-1-2 0-1-4-4-4-2-1-1-1-2 0-2 4-4-2-2-3 0-1 1-2 1-1 0-1 1 0-1-2-1-2-2-4-2zM392 225l0 4 2 0 1-1 0-2-1-1zM14 343l-1 1 1 2 2 0 0-2zM114 368l-1 2 3 0zM118 401l-2 2 0 2 2 2 2 1 2-2 0-4-2-1zM122 372l-1 2 1 1 4 0 2 1 1 2 0 2 1 2 0 1 1 1 1 0 2 1 2 0 2-1-1-2 0-2-2-4-1 0-2-1-2 0-4-2-1-1zM406 350l-1 0 0 2 1 2 1-2zM128 395l-1 1 1 2 2 0 4 2 6 6 0 1 2 1 3-6 0-4-1-1-2-1-4 0-2-1zM63 174l1-1 2 1 2 0 1 2 0 2-3 3-2 1-2 0-4-2 0-2 2-1zM62 204l1 2 0 2-1 1-1-1 0-2zM45 238l1-2 4 0 2 1 2 0 1 1 1 0 6 3 2-1 2 1 8 0 4 2 2 0 1-1 4 0 2 4 0 2-1 1-4 2-4 0-2-1-1 0-1 1 0 1-1 2-1 1-2 1-2-1 0-1-2-2-4-2-6 0-1-2-1 0-2-2-4-2-2-2-1-2zM397 318l1-1 2 1-2 1zM276 350l2 0 2 2 0 2-4 2-2-4zM419 360l1-1 0 21-2-2-2-4 0-2 1-2 0-2 1-2 0-4zM170 362l6 0 2 2 0 3-2 2-2 0-4-4zM188 364l2-2 2 1 6 0 2 1 2 4 0 1 2 2 0 1 2 2 0 2-4 2-2 0-2 2-4 0-2-2-1-2 0-4-3-6zM272 366l2 1 1 1 1 2 2 2 1 0 2 2 1 2 0 3-2-1-2-2-1 0-1-1-4 0-3-3-1-2 0-2 2-2zM329 368l1-2 2 0 4 2 4 8 4 2 2 2 1 2 1 1 8 4 2-1 1-2 1-1 2 0 1 1 0 2 1 2 0 1 1 1 1 2-2 0-2 1-1 1-1 0-2 1-4-2-4 0-2 1-4 0 0 2 1 2-1 2 0 1-2 2-4 0-2 1-1 0-1 1-2 0-2-1-1-2 0-4 1-1 2-1 2-2-1-2-1-1-6-3-4 2-1 0-1 2-2 2-2 0-2-2 0-2 2-1 2 0 1-1 0-4 1-2 4-2 1 0 1-1 2-1 2 0 2-2-1-2-1-1 0-1-1-2zM334 380l-1 0 1 1 1-1zM338 382l-1 0 2 0zM41 376l1-1 2 0 2 1 2 0 1 2 0 6-1 2-2 1-2-1-2-4 0-4zM187 390l1-1 2 0 1 1 0 2-1 1-2 0-1-1zM222 390l0-2 2 2 4 8 0 4 2 2 4 2 1 0 2 2 0 2-1 2 0 1-1 1-5 0 0-2-1-2-1-1 0-1-2-4 0-2-2-2-1-2-1-1 0-1-1-2 1-2zM272 392l2-2 2 1 2 0 2 1 0 1 1 1 0 2-1 2-2-1-2 0-2-1-2-2zM259 394l1-1 2 1 1 0 2 2 0 2-1 2 0 4 2 1 5 5 0 2 1 2-25 0 0-4-1-2 0-1-2-1-2 0-4-2 0-2 1-2 1-1 0-1 1-2 1-1 2 0 3 3 2 4 1 1 6 3 2-2 0-2-1-2-1-1 0-3 2-1zM201 396l1-1 2 1 1 2-2 2-3 0 0-3zM196 404l2-2 2 0 1 2 0 2 1 2 0 3-2 0-2-1-2-4zM301 410l1-1 2 0 4 2 1 1 1 2-10 0 0-2zM205 412l1 0 2-1 2 0 2 1 1 0 2 2-10 0zM330 412l4-2 6 3 1 1-12 0zM357 412l1-1 0 2zM290 414l0-1 2 1z" fill="#ff4600"/><path d="M28 -4l0-1 1-1 3 0 0 2-2 4 0 2 0-2zM54 -6l41 0 1 1 2 0 3 3 5 10 2 2 1 2 0 2-1 2-2 2 0 8 3 6-1 2 0 1-1 1-1 2-1 0-1 1-2 0-2 1 2 2 4 0 2 1 4 0 0-1 1-2 2-2 1 0 2-1 1-1 0-4 1-1 0-1 2-2 4-2 2 1 2 0 2-1-1-2-2-2 1-2 2-1 1-1 0-4-2-2-1-2-1 0-1-2 4-2 4 2 4-2 0-2-1-2 0-2 2-2 1-2 0-2 59 0 0 2 1 2 2 2 5 0 1-1 2-1 1-2 1-1 10 0 1-1 139 0 4 4 0 2 1 2-1 2 0 4 1 2 3 3 4 2 1 1 1 2 6 3 2 2 4 2 1-1 1-2 0-2-1-2 0-2-1-2 2-4 0-4 4-2 2 0 1-2 0-2-1-2 0-2 2-1 2 1 1 0 1 1 4 2 5 5 1 2-4 4 2 2 2 1 1-1 0-2-1-2 0-2 2-1 1-1 3-6 0 48-2 0-6-3-2 0-1 1 0 2-1 2 0 1-2 2-4-2-1-1-1 0-2-1-1-1-1-2 1-2 0-6 1-2-1-2-1-1-4-2-2 0 0 1-2 2-2 1-2 0-2 1 0 6 1 2 0 2 1 2 0 4-2 1-2 0-5-5-1-2-2-2-1 0-4-4-1-2 0-4-2-1-2 0-2 1-2 0-2 2-2-2-1-2-1-1-4 0-6 3 0 2 4 4 0 1 1 1-1 2-2 2-1 0 0 4-3 0-1-2 0-2-2-2 0-2 2-2 3-6-1-2-2-2-1-2-2-2-12 0-2-1 0-1-2-1-1-1-1 0-2-2-1 0-2-2-1-2 0-1-1-1 0-2-3-3-2-1-2 0 1 2 2 2 0 4-2 2-1 2-4 4-1 2-1 1-2 1-2 0-1 2 1 1 0 1 2 1 1 1 1 2 0 1 1 1 1 2 6 0 2 1 2 2 0 1 2 1 2 2 4 2 3 3 0 4 1 2 2 2 1 2 0 2-1 1-2 1-2 0-1 2-1 1 0 1-2 2 0 3 4 4 2 0 2 1 1 2-1 1-2-1-2 0-2 1-1 1 1 2 2 2 2 1 2 0 4 2 3 3 1 2 0 4-2 4 0 4 2 2 1 0 1 1 2 0 6 6 2-1 1-2 0-4-1-2 0-2 1-2 1 0 2-1 2 1 2 0 4 2 1 0 1 1 2 1 2 2 2 0 2-1 2 0 2 1 2 2 0 1 1 1 0 2 1 2 4 4 0 1 6 3 4 0 2 4 0 1 2 2 4 0 8 4 2-1 0-4-2-4-2-2-4-2-1 0-1-2 0-4 1-2 0-2 1 0 2 1 3 3 3 0 1-2 0-4-3-3-2 0-2-1-2 0-2 1-2 0-2-1-4 0-4 2-4 0-2-1-4-4-2-1-2-2 1-2 1-1 2 0 2 1 2 0 2-1 1-1 0-2-1-2 1-2 1 0 4-2 0-2-1-2 0-2-1-2 0-2 1-2 0-8 1-2 1 0 2-4 0-2 1-2-1-2 0-2 1-1 2-1 3 6 2 2 1 0 2 2 3 6 1 0 2 1 2 0 4-4 2 0 1 1 1 0 2 2 2 1 0 5-1 2-1 1-2 1-1 2 1 1 2 0 2-1 0 71-2-1-1-2-2-2-1 0-8-4-2-2-1 0-1-1-4 0-1 1 2 4 2 2 0 2 2 4 0 2-1 2 0 2 2 4-1 2-4 0 0-2 1-2 0-1 2-1 0-2-1-2-2-2-1 0-2-2-1 0-1-1-4-2-2 0-2 1-2 2 0 6 4 8 0 2-1 2 0 2 1 2 0 1 1 1 1 2 2-2 4-2 2 0 4 4 0 2-3 6 0 2-1 2-4 2-1 2 0 4-1 2 0 2-3 6 0 2 1 2 4 4 1 0 1 1 2 0 4 2 1 1 1 2 2 1 1 1 1 0 4 2 2 2 2 1 2 2 0 3-1 2-3 3-1-1-3-6-2-1-2 0-2 2-2 1 0 6-2 2-2 0-2-1-2 1-1 2 0 4 1 1 8 4 2 0 1-1 0-2 3-3 2 0 2-2 2-1 0-1 2 2 0 1 2 4 0 2-2 1-1 1-1 0-4 2-1 0 1 2 0 2-2 1-2-1-2 0-4 2-4 4 0 2 4 8 2 2 4 2 2 0 4 2 1 0 1 1 2 1 1 2 0 2-2 2 4 4 1 0 0 12-2 2-4 2-2-1-2 0-2 1-2 0-2 1-2 0-2-1-2 0-4-2-2-2-1-2-1-1 0-1-2-1-1-1-1 0-2-1-10 0-2-1-4 0-4-4 0-1-1-1-1-2 2-2 2-4 2-2 0-2 4-2 2 0 2-1 2 0 1-1 1-2-2-2-4 0-4-2-1 0-4-4-2-4 0-2-1-2 0-5-1-1-1-2 0-1-3-3-1 0-1-2-3-3 0-1-3-6-3-3-2-1-4-4 0-1-2-2-2 0-1 1-1 2-4 2-1 2 2 2 1 0 4 2 1 0 1 1 2 0 2 2 2 1 0 1 1 1 0 6 1 2 0 2 2 4 2 2 0 1 9 9 2 4-2 4 0 2 1 2 0 2-2 1-2 2 0 2 2 2 2 1-2 2-2-1-2-2-2-1-2 1 0 3 2 2 1 2 0 2-3 6 0 1-2-1-6 0-2 1-4-4-2-1-4-4-2-1-10 0-1 1-1 0-2 1-1-1 0-2 1-2 0-1 2-2 0-4-5-5-1-2 0-2 2-1 8 0 2-1-1-2-5-5-4 0-4 2-2 0-2 2-2 1-1 2 1 1 0 1 2 4 0 6-1 2 0 2 2 4 3 3 2 1 1 2 0 2-1 2 0 6 2 2 0 1 1 1-1 2-4 4 0 2 1 2 0 2-1 1-2 0-2-1-2-2-1 0-1-2 0-4-1-2-1 0-2-2-1-2-2-2-1-2-2-1-4 0-3-3-1 0-2-1-2 1-2 2 0 2 0-2-1-2-1-1 0-1-4-4-2 0-2 2-1 0 0 2 3 6 0 1 1 1 1 2 2 2 1 2 2 2 1 2 0 3-2 2-4 0-2-1-2 0-4-2-2-2-2-4-2-2-2 2 0 4-1 2-1 0-2 1-2 0-2 1-2 2 0 4-2 2-2 0-2-1-1-1-1-2-4-2-2 1-1 1-1 2 0 1-1 1-4 8-1 0-2 1-2 0-4 2-2-1-4 0-1 2-1 1-2 0-4-2-1-1-1-2-2-2 2 0 2-2-2-1-2 0-2 2-2-1-4 0-2 1-6-3-2 0-1 2 0 4 1 2 2 1 2 0 2-2 2-1 2 1 1 1 1 2 0 4-2 1-2 0-1-1-1 0-2-1-2 1-2 0-2-4-2-1-1-1-1 0-4-2-2-4 0-2-1 2 0 4-1 2-2 0-4-2-1 0-1-1-2 1-1 0-2 4-1 1-2 1-2 0 0-4-4-4-1 0-1-2-1 0 1 0 2-1 8 0 1-1 0-2-1-2-2-2-2-1-2 0-2 1-2 0-2 1-1 1-1 2 1 2 0 2-2 2-1 0-2 1-2 0-3-3-1-2-4-2-4 0-2-1-2-2 0-3 2-2 6 3 2-2 0-1 1-2 0-4 3-6 0-2 2-1 2 0 3-3-1-2-2 0-2 1-4 0-3-3 0-4-2-2-2-4 1-2 0-6 2-2 2 1 3 3 3 0 1-2-1-2-4-2-1 0-2-2-1-2-2-2-2 0-1 2-1 0-2 2-1 0-1 1-2 1-2 0-4-4 0-2 2-2 4 0 2-1 0-1 2-4 0-1 1-1 1-2 0-4-1-2-1-1 0-1-1-2-3-3-2 0-2-1-2-2-1-2 0-4-1-2 0-1-1-1-1-2-6 0-4-4-1-2 0-2 2-4 0-4 1-2 0-2-1-2-1-1 0-1-1-2 1-2 0-1 1-1 1-2 2-2 1 0 1-2-1-2 0-2 1-2 2-1 4 0 4 2 1-1 0-4 2-2 1 0 2-1 2 1 2-1 1-1 0-2 1-2 0-2 1-2 0-2-1-1 0-1-2-2 0-1-7-7 1-2 4-4-1-2-2-2-1-2-2-1-2 0-2 2-2 0-1 1 0 2 1 1 0 1 2 4 0 2-2 2-2 0-4-2-2 0 1 2 2 2 1 2 0 1-2 1-2-2-2-4-2-2-4-2 2-1 1-1 3-6 2-1 2 0 2-1 1 0 2-4 2-2 0-8-1-1 0-1-2-2-8-4-1 0-4-4 0-2 2-2 0-10-4-8 0-2-1-1 0-1-1-2-1-1 0-1-1-2 1-1 2 0 2-1 1-2 0-2 2-4 0-2 3-3 4-2 2 0 2 1 1-2-1-2 0-2 2-2 1 0 1-1 4 2 1-1 0-2-3-3 0-1-2-4-2-1-2 0-2-1-2 0-2-1-2 0-2 2-4 0-2-1-1 0-4-4 1-2 2-2 1-2-1-2-4-4-1 0-3-3-2 0-2 1-2-2-2 0-6-3-1-1-1-2-2-2 0-4 2-2 2 0 2 1 2 0 2-1-2-4-2-1-4 0-2-1-4 0-2 1-1 1-2 4 1 2 2 2 2 1 1 1 1 2 0 2-1 2-1 1-2 0-1-1-1-2 0-2-2-4-2 0-2 2 0 2 3 6 0 4-1 2-4 2-2-1-3-3-1-2-4-4 0-1-2-1-2-2-2-1-2-2-2-1-1-2 3 0 2 1 10 0 2-1 2 0 2-1 2 0 0-1 3-6 1 0 4-2 2-2 6-3 1-1 0-2-2-4-2-2zM82 22l-1 2 0 2 3 3 2-1 1-2-1-1 0-1zM108 49l-1 1 0 2 2 2 2 4 1 1 2 0 4 2 3 3 1 2 2 2 0 1 2 1 2-2 2-4 0-2-4-4 0-1-1-1 0-2-2-2-1-2-2 1-2 2-2 1-2-1-1-1-1-2 0-1-2-1zM118 44l-1 0-1 2 2 1 2 2 2-1-1-2-1-1zM164 327l-1 1 1 2 1 0 0-2zM184 62l-1 2 1 1 2 0 0-2zM234 25l-1 1 0 2 1 2 4 2 1 0 1 1 2-1 0-2-1-2-3-3zM246 156l-1 2 3 3 6 3 4 4 1-2 0-2-5-5-2 0zM256 152l-1 0-1 2 2 1 2 0 2 1 1 2 0 2 1 2 2 2 4 0 2-1 2 1 2 0 1-2-1-1-4-2-4-4-2-1-2-2-1 0-1-1-2 1zM272 141l0 1-1 2 0 2-1 2 1 2 1 1 0 1 1 2 3 3 2 1 2 0 1-2 0-6-2-4 0-2-2-2-1 0-2-1zM284 12l0 1 2-1zM288 141l-1 1 0 2 1 2 4 4 0 1 1 1 0 2-1 1-2 1 0 2 2 1 2-1 2-2 0-2-2-4 0-4-2-4-2-1zM292 3l-1 1 1 2zM338 3l-1 1-1 2 1 2 1 0 4 4 1 2 5 5 2 0 1-1-1-2 0-1-1-1 0-2-3-6 0-1-1-1-1-2-2 0-2 1zM360 7l-1 1 0 2 1 1 1-1 0-2zM402 28l-2 2-1 2 2 4 2 2 1 2 2 0 2-1 4 0 1-1 0-2-1-2-2-1-6-6zM294 127l-2 1 0 2 2 4 0 1 1 1 0 2 2 4 3 3 2 1 4 4 1 2 1 1 6 3 4-2-1-2-1-1-4-2-1-1-1 0-4-4-1-2-1-1 0-1-3-6 0-2-1-1 0-1-1-2-1 0-2-1zM304 56l-1 0 1 1 1-1zM360 129l-1 1 0 2 1 1 2 1 2-1 0-2-2-2zM390 222l-2 4 2 4 2 2 2 1 2 0 2-1 2-2-4-8-1 0-1-1-2 0zM376 285l0 3 2 2 2 1 2 0 2-1 0-2-2-2-2-1zM100 197l-1 1 1 2 2 1 2-1 0-2-2-1zM104 75l-1 1-1 0-1 2 0 12-1 2-4 4 0 1 2 1 2-2 0-1 2 0 2 2 0 1 1 2 0 4-1 2 0 2 1 2 0 2 1 2 0 2 1 2 0 2-1 2 0 5-1 1 0 2 1 2 4 2 2-1 1-1 3 0 4 2 6 0 6-6 1 0 1-2 0-2-2-4-2-2-1 0-1-1-2-1-1-2 0-2-2-4 0-2-2-4 0-4-1-2-2-2-1 0-1-1-6-3-1-2 0-2-1-2 0-4-2-4-1 0zM124 75l0 5 4 2 3 0 2-2-1-2-2-2-4-2zM242 35l-1 1 0 2 1 2 2-2-2-2zM252 177l-1 1-1 2 2 4 0 2 2 4 0 1 4 4 0 1 2 4 0 1 2 2 2 0 2-1 0-2-2-4 0-8-1-2-2-2-2-4-1-1-4-2zM274 215l-2 1 2 4 2 1 1-1 1-2-1-2-1-1zM304 200l-2 2 0 1-2 1-2 0-2-2-1 0-1-1-2 0 0 1-1 2 1 2 0 1 1 1 1 0 2 1 2 0 2-1 2-2 2 1 2 0 2-1 1-2-1-2-2-2 0-1zM306 177l0 5-1 2 2 2 2 0 1-2 0-6-2-1zM310 170l0 4 1 2 1 0 2 1 2 0 6 6 2 0 2-1 1-2 1-1 2-1 2 0 2-2 0-2-1-2-1 0-6-3-2 0-2 1-2 0-2-1-6 0zM302 107l-1 1 1 2 0 1 2 2 2 0 2-1 2 0 2 2 0 1 1 1-1 2 0 1-1 1 0 4 1 2 0 2-4 2 1 2 1 1 0 1 1 2 0 6 1 2 6 3 3 3 0 2-1 2 1 2 1 0 6 6 4 2 2 0 1 2 0 2-1 2 1 2 1 1 2 0 2 1 2-1 2-2 2 0 0 1 1 2 5 5 4 0 2-1 1-2 0-4-1-2 0-2-2-4 0-1-2 0-2-1-2 0-2 1 0 1-2 2-2 0-2-1-2-2-2 0-1-1-1 0-1-2-1-1 0-1-1-2-5-5-2-1-1-2 0-4 1-2 1 0 1-1 3 3 1 2 1 0 1 1 2 0 4-2 1-1 1-2 2 0 4 4 2 0 2-1 6 0 3-3-1-1 0-1-2-2-4-8-1 0-1-1-2 1-1 2-1 1-2 1-4-2-2-2-1-2-2-2 0-8-1-2-2-2-1 0-1-1-6-3-14 0-4-2-2 0-2-1zM132 291l-1 1 1 2 2 2 1-2 0-2-1-1zM128 103l-1 1-1 2 1 2 3 3 4 2 2 0 1-1-1-2-4-4-2-1zM262 276l0 2 2 2 2 0 2-1 1-1-1 0-2-2zM276 259l-1 1 0 4-1 1 0 1-2 2 0 2-1 2 0 4 1 2 4 2 1 0 1 1 2 1 1 0 1 1 2 1 2 2 1 2 3 3 2 1 2-1 1-1 1-2 4-2 0-2-2-4 1-2 0-2-1-2-2-1-2 1-2 0-4-2-2 0-4-2-1 0-2-2 0-2 1-1 2-1 0-2-2-2-2-1zM300 226l0 2 2 1 1-1-1-1zM320 231l-1 1-1 2 0 2-2 4-2 2-1 0-1 1-2 0-2 1-2 4-2 1-4-2-2-2-2-1-2 0-1 2 0 2 1 2 2 2 0 1 2 2 2 1 0 1 2 0 2-2 2-1 2 2 2 1 4 0 3-3 1-2 0-2-1-2 2-2 1 0 8-4 2-2 0-2-1-2-3-3-2-1-2 0zM340 204l-1 2 0 4-2 2 0 2 1 1 4 2 2 0 4-2 2-2 0-4-6-3-1 0-1-1zM348 186l0 2 2 2 2 1 2-1-2-4-2-1zM346 152l-1 2 0 4 3 3 2 1 2-2 1-2-2-4-3-3zM356 159l0 2 2 0 1-1-1-1zM330 281l-1 1 1 1 0 1 2 2 0 1 1 1 1 0 4 2 2 0 1-2 0-2-5-5-2-1-2 0zM352 202l0 4 2 1 1-1-1-2 0-2zM386 -2l2 2 2 4-2 1-4 0-2-1-2 1-1-1 1-1 0-1 2-1 2-2zM-6 2l2 2 2 4-2 4-2 1zM113 6l1-1 2-1 2 0 4 2 1 2 0 2-1 2 0 3-2 1-4-2-1-2-2-2zM-6 22l0-2 2 2 1 2-1 1-2-1zM8 28l2 0 2 1 10 0 7 7 1 2 0 2-2 1-2 0-2 1-1 0-4 4 1 2 2 2 2 4 0 1 2 2 4 0 1-1 1 0 4-2 6 3 4 0 2-1 4-4 2 0 4-2-1-2-2-2 0-2 1-1 2-1 1 0 2-2 0-2 1-1 4 0 2-2 2-1 2 0 2 2 1 2 0 2-1 1-8 0-1 1 0 4-1 2 0 4 2 1 2 2 0 3-1 2 1 1 0 1 4 4 1 2 0 6 1 2-2 2-6 0-2 4 0 2-2 2-2 1-2 2-2 0-2 1-1 2 1 2 0 2 2 2 0 1 2 0 0 7 2 4 2 2 2 0 4-4 4 2 0 1 1 1 0 2 2 2 1 2 0 2-4 2-2 0-2 2 1 2 1 1 0 1 1 2 0 2-5 5-1-1 1-2 0-4-2-4-2-2-2-1-2 1-2 2-2 1-4-2-4-4-2 0-3-3-3-6 0-1-1-1-1-2 0-2-1 0 0 2-1 0 0 8-2 2-2 1-1 1-3 6 0 1-2 1 0 1 0-1-4-2-2 0-1-2-2-2-1-2-2-1-4 2-2 0-2-1-1 0 1-2 4-2 0-2-1-2-1 0-4-4-1 0-1-2-2-2-4-2 0-6 2-1 2 0 2 1 2 2 2 0 2-2 2 1 0 2-2 2 0 1-1 2 3 3 4 0 2-1 0-6 1-2 0-4-1-2-2-1-2 0-2-1-1 0-2-2 1-2 0-1 1-1 0-2 1-2 2-1 1 1 1 2 0 4 2 2 2 1 2 0 1-1 2-4 1-1 2 0 2 1 3 0 2-2 0-2 1-1 4 2 8 0 2-1 0-2-2-2-2-1-1-1-3 0-2 1-2 0-1-1-2-4-1-1-2-1-4 0-2-1-1-1-2-4-1-1 0-1-4-4 0-1-1-1 0-2-1-2-2-2 0-1-1-1 0-2 1-2 0-2-1-2-4-4 0-2 1-2zM50 114l2 2 2 1 1 1 2 0 1-2-2-2zM20 110l-2 4 0 2 2 1 2 0 1-1 0-2-1-2-1 0zM308 28l4 4-2 1-2 0 0-1-1-2zM312 34l2-1 6 0 1 1 1 2 0 2-2 2-4-2-2-2 0-1zM-6 38l2-1 4 2 5 5 0 2 1 2 6 6-1 2-4 4 0 12-1 2-4-2-1-2 0-2 1-2 0-2-2 0-4-2-1 0-1-1zM80 78l2-2 2 2-1 2-1 1-2-1zM375 80l1-1 2 0 1 1 0 6-1 2-2-1-1-1zM-6 114l0-1 1 1 1 2-2 2zM323 120l1 0 0 2-1 0zM15 128l1-1 6 3 2 0 1 2 1 1 0 1 2 2 4 2 2 0 2 1 1 1 3 6 2 1 2 0 2 1 1 0 4 4-1 2-2-1-4 0-1 1-2 4-1 0-2 1-10 0-1 1-1 0-2 2-1 2-3 0-2-1-2 1-2 4-2 1-1 1-1 2 0 2-1 2-1 1-2 1 0 2-1 2-1 1-2 0-2-1-2 0-4-2 0-25 2 0 2 1 4 0 2-1 1-1 1-2 0-4 1-2-2-4-2-2 0-2 2-2 3 0 2 1 2-1 0-4 2-4zM-2 163l0 2 2 2 2 1 2 0 1-2-1-1 0-1-4-2zM-5 140l1-1 0 1zM56 142l0-1 1 1-1 1zM58 144l0-1 0 2zM407 152l1-1 6 0 1 1 1 2-2 2-2 0-4-2zM20 176l2-1 1 1 0 2-1 1-2-2zM-6 196l0-1 0 3 2 4 0 2 1 2 0 2-1 2 0 4-2 0zM24 198l0-1 2-1 4 2 2 2 1 2 0 2-1 2 0 2 1 2 0 2-1 0-2-1-2 0-2-1-2 1-1 1-1 2 0 2 2 4 2 1 6 0 1 1 1 2 0 1-2 2-4 0 0 1-1 2-1 1-2 1 0 2 2 4 0 4-2 1-2-1-2 0-2-1-2 1-4-2-3 0 0 6-1 2-2 2-2 1-4 4-2-1-1 0-1-1-2-1 0-17 2 1 2 0 2 1 2-1 3-6 0-4-1-2 0-3 2 0 2 1 2 0 2-1 1-1 1 0 2-2 1-2-3-6 0-2 2-2 2-1 2 0 2-1 1-2 0-2zM16 230l2 2 4 0-1-2-1-1-2 0zM35 216l1-1 1 1-1 1zM41 252l3 0 2 1 1 1 1 2-1 2-1 1-2 1-2 0-2-4 0-2zM-6 262l4 2 1 0 2 2 1 2-2 2-2 1-1-1-1 0-2-1zM34 262l2-1 2 0 2 1 0 2-2 4 0 6-1 2-1 1 0 3 4 8-3 6 0 4-1 0-4-4-2-1-2-2 0-1-1-2 0-4-1-2-2-1-4 2-2 0-2 1-2 2-1 2-1 1-6 0-5 5-5 0-1-2 0-2 2-4 2-2 0-2 1-1 0-1 2-1 1-1 1 0 2-2 2-1 6-6 2 0 0 1 1 2 1 1 0 1 4 2 4-2 3-6 2-2 1-2zM78 266l2-2 2 0 4 4 0 1 1 1 0 2-1 1-4 0-4-2-1-1 0-2 1-1zM61 272l1 0 2-1 6 0 1 1 1 0 2 1 2 0 1 1 1 0 1 2-1 1 0 1-4 2-6 0-8-4 0-1-1-1zM-6 278l3 0zM47 278l2 0 0 2-1 1-1-1zM97 278l1-2 1 2zM92 290l6 0 2 1 1-1 3 0 1 2-1 2 0 2 4 4 1 0 4 4 0 2 1 2 0 2 1 2-2 2-3 0-2-1-2-2 0-1-2-2 0-2-1-2-2-2 0-2-2-4-1 0-2-1-1-1-1 0-2-2zM-6 296l0-1 1 1 1 2 2 2 2 1 6 0 2-1 2 0 2 2 1 0 1 1 8 0 3 3 1 2 0 2 2 4 2 1 1 1 1 0 2 1 8 0 2 1 1 2 0 2-1 2-2 0-2 1-2 2 0 1-1 2 0 2 1 2 0 4 1 2 1 1 2 1 2 0 2-2 0-2-4-4-1 0 1-2 2-2 2-1 2 0 2 1 2 2 1 0 1 1 4 0 2 2 0 1 1 2-1 2-4-2-2 0-2 2-1 2 1 2 0 2 1 2 0 4-1 1-6 0-4-2-2 0-1-1-1 0-2-2 0-1-1-1 0-2-1-1 0-1-2-2-2-4 0-2 1-2-3-3-2-1-1 0-1 2-2-1-1-1 0-6-3-3-2-1-1 0 0 2-1 2-2 2-2-1 0-1-2-4-6-3-3-3-1-2-4-4zM6 307l0 1 1 2 5 5 2 1 0 1 0-3 1-2-1-2 0-1-2-2-2 0-2-1zM320 300l2 0 2 4-1 2 0 4 1 2 0 1-2-1-2 0-2-2 0-1 1-1 0-6zM352 304l2-1 2 1 0 2-2 0zM339 308l1-2 2 2 0 1-2 0zM366 310l4-2 4 2 2 0-1 2-1 1 0 7-1 2-1 1-2-1-1-2 0-2-2-2-2-4zM376 310l2-1 6 0 2 1 0 1 1 1-1 2-2 1-4 0-3-3zM420 316l0-1 0 11 0-2-1-2 0-4zM-6 318l0-2 2 4 2 1 4 0 2 1 1 0 1 2 2 2 0 1 1 1 2 4-1 1 0 1-1 2 0 8-1 2 0 1-2 1-2 2 0 2-1 2 0 4 2 4 2 2 2 4 1 1 0 1 2 2 0 2-2 1-1-1-1 0-2-1-2 0-2 2-2 0-2-2 0-1-2-4 0-6-1-2-1-1zM-2 334l-2 2 2 2 1-2zM19 336l1-2 2 1 0 3-2-1zM409 342l1-1 2 1 2 4-2 2-1-2-2-2zM25 346l1-1 4 2 2 2 0 1-3 0-1-1-2-1zM388 346l0-1 2 1 0 1zM143 348l1-1 2 1 2 4-4 0-1-2zM396 350l0-1 2 0 0 3-2-1zM16 352l2 1 0 1-2 1-2-1zM39 356l1-1 2 1 1 2-1 2-2 2-2-2 0-2zM110 356l2-1 2 1 2 4-2 1-2 0-1-1-1-2zM87 376l1-1 2 0 2 1 1 0 2 2 1 2 0 2-1 2-1 0-2 1-4-2-3-3zM-6 378l2 1 1 1 1 0 2 2 2 1 2-1 2 0 2 1 1 1 1 0 2 2 1 0 1 1 2-1 0-2 2-2 4 0 2 1 1 1 2 4-1 2-2 0-2-1-2 0-2-1-1 0-1-1 0 6-4 0-1-1-1 0-6-3-2 0-4 2-4 0zM376 378l2 1 4 4 2 1 2-1 2-2 2-1 10 10 2 0 2 1 1 1 1 2-2 2-4-2-2 0-4 4-2 0-2-1-2 0-2 2-2 1-6-3-4-4 0-2 1-1 0-6-1-2 0-3zM122 382l0-2 2 2 1 2 0 2-1 2-2-2zM411 386l1-1 1 1-1 1zM335 388l2 0zM413 388l1-1 1 1zM84 394l2-1 2 1 2 2-2 1-2 0-1-1zM-6 396l0-2 4 0 1 2 1 1 0 1 1 2-1 2 2 2 2 0 1-2 5 0 2 1 6-3 4 0 2 1 0 1 2 2 2 4-2 2 0 2-2 2-2-1-2 0-2-1-4 2-20 0zM159 400l1-1 4 0 1 1 2 4-1 1-4 0-3-3zM407 400l1-2 2 1 2 0 2 1 1 2-1 2 0 1-1 1 1 1 0 1 2 2 2 0 2 1 0 3-20 0 0-1-1-1 0-2 1-1 2-1 4 0 2-2 0-2-1-2zM127 404l1-1 2 1 2 0 2 1 5 5 2 4-26 0 0-2 7 0 2-1 1-1 1-2 0-2zM149 406l3 0 1 2 1 1 0 1 2 2 4 2-13 0 0-4 1-2 0-1zM167 406l1 0 2-1 2 0 3 3 0 2 1 2 2 2-6 0 0-2-2-2-2-4zM184 410l2-1 1 1 1 0 2 2 1 2-9 0zM67 412l1-1 2 1 1 2-5 0zM259 412l1 0 2-1 4 0 1 1 1 0 1 2-10 0zM56 414l0-2 2 0 2 1 1 1z" fill="#ff7d00"/><path d="M147 -6l4 0-1 2-2-1zM159 -6l11 0 0 4-1 2 0 2-1 2 2 4 4 2 2 0 2-2 0-4-2-4 0-6 21 0-1 2 0 2 2 4 2 0 2 1 2 2 2 1 2-2 2-1 1-1 1 0 4-2 2-2 4 0 2 1 10 0 6 3 2 2 0 2-6 6-1 2-1 1-4 0-2-1-1 0-1-1-2 0-3 3 0 4-1 2-2 2 0 1-1 1 1 2 8 4 2 4 0 1 6 0 2 1 2 2 1 2 2 2 2 4 0 2 1 2 2 0 2 1 2-1 1 0 0-2-3-3 0-1-1-2 1-2 2-1 2 0 4 2 2 0 2 1 4-2 1-2-1-1 0-1-2-2-1 0-7-7-2 0-1 1-3 0-2-1-6-6-2-1 0-1-1-1 0-2 1-1 6 0 4-4 2-1 4 0 2-2 2 0 2-1 3-3 0-2 1-1 0-1 2-2 0-1 5-5 25 0-1 2-1 1-6 0-2 1-1 2 1 2 0 2-1 2-1 1-2 1-2 2-1 2 0 2 2 4 1 1 0 1 1 2 0 2 2 2 1 2 2 2 1 2 0 2-1 2 0 8-2 2 0 4 1 2 1 1 4 2 1 1-1 1-2 1-1 2 0 2 3 3 2 1 6 0 2 2 0 6 1 2 1 1 2 1 2-1 1-1 0-4-1-2 2 0 1 2 2 2 0 2-1 2 0 10 1 2 0 2 1 2 0 2-2 2-5 0 0 4-1 1-2 0-4-2-2 0-1 1 0 4 1 2 0 2 3 6 0 2-2 4-1 1-4 0-2-1-2-2 0 2-1 2 0 2-1 1-2 1-2-1-2 1-1 0-1 1-2 0-4 2-1 1-1 2 0 1-1 1-4 8-1 1-4 0-1-1-1 0-4-2-2 4 0 1-2 2-2 0-2-1-1 0-1-1-2 1-4 4 0 2 2 4 0 1 1 1 0 2 1 1 0 1 1 2 0 4 2 4 0 2 1 2 0 2 3 6 0 2 2 4 2 2 3 6 0 1 1 1 0 2 2 4 1 1 0 1 2 2 0 1 1 1 2 4 2 2 4 8 1 1 4 0 2-1 2 0 2 1 1 1 1 0 2 1 2 0 6 3 2 2 1 2-3 0-2-2-2 0-2 1-1 1-1 0-2 1-2-1-2 0-2-1-4 0-1-1-1 0-2-1-1 1 0 2 4 4 1 2 2 2 0 1 2 0 1 1 1 0 2 1 2 2 2 1 2 0 2 1 1 1 1 2-2 4-4-2-4 0-2-1-2-2-2-1 0-1-1-1-1-2 0-1-2 1-2 2-4 0-2-1-2-2-2-1-2 0-2 2-2 4 0 2-1 2 0 4-1 2 0 4-1 2 0 2-1 2 0 2 1 2 0 2 4 4 1 2 0 2 1 2-1 1 0 1-1 2 0 6 1 2-1 2-1 0-2 2-4 2-1 2 1 2 0 2-1 2-7 0-2 4-2 1-2 0-2-2-2-1-2-2 0-2-1-2-1-1-2 1 0 2 1 2 0 4-1 2-2 2-4 0-2 1 0 4 1 1 1 2-2 1-1 1-1 0-2 1-4 0-3-3 0-2-3-6-1 0-1-1-2 0-1 1-3 0-2-2-2-1-2 0-2-1-2 1-2 2-2 0-4-2-2 0-4 2-2 2-2-1-2-2-2-4-4-4 0-1-1-1-2-4-1-1-2-1-4 0-2-1-1-1-1-2 0-7-1-1 1-2 2 0 2-1 1-1 0-2-5-10 2-4 0-4-2-2 0-1-1-1-1-2 2-2 0-2-4-2-2-2-2-1-2 1 0 2 1 2 0 2-1 1-4 0-1-1-1 0-1-2-2-2 0-2-3-3-1 1-1 0-2-1 0-1-2-2-1-2 0-2-4-4-1 0-2-1-2 0-1-1-1-2 0-4-3-6-1-1-2-1-4 0-2-1-1-1 0-4 1-2 2-1 2 0 4 2 2 0 1 1 1 2 2 2 2 1 2-1 1-2 0-2-1-2-4-4 0-2 2-2 4 4 3 0 0-6-1-2 0-2-1-2 0-2-1-2-2-2 0-4 2-4 1 0 1-1 2-1 2-2 0-1 1-1 0-6 2-2 0-4-3-3 0-1-4-4-1-2 0-2 1-1 4-2 0-1 2-2 4 2 0 1 1 1 1 2 2 1 8 0 2 1 2 0 2-2 0-2-2-4-2-1-6 0-2-1-1-2 0-2 2-4 0-2 1-2-1-2 0-4 1-1 2-1 2-2 0-6 1-2 0-2 1-2 0-4-3-6 0-2 2-2 1-2-1-2-3-3-2-1-4 0-2-2-2-4 2-2 2 0 2-1 2 0 1-1 1-2-1-2 0-2-1-2-2-2-1-2 0-4 1-1 6-3-1-2-6-6 0-2 1-1 6 0 1-1-2-2-1 0-2-2-1-2 1-2 0-1 1-1 5 0 2-2 1 0-1-2 0-1-1-1 0-2 1-2 2 0 2-1 1-1 0-2-2-2-1 0-4-2-1-2 0-2 2-2 2-4 6-6 3 0 6 3 5 5 1 0 2 1 2-1 1-2 0-2-1-2-4-2-2 0-4-4-1-2 2-4zM170 53l-3 3-1 2 1 2 0 2 2 4 1 1 0 1 1 2 0 2-1 1 0 1-1 2 1 1 2-2 0-1 1-2 1-1 4-2 8 0 8 4 2 2 2 0 2-1 0-2-1-2-1-1-4 0-2-2 0-4 2-2 2-1 0-1 1 1 7 0 0-2-10 0-4-2-8 0-4-2-1 0-1-1-2 0-2-1zM182 -2l0 2 1 2 2 2 0 4 1 2 0 1 1 1 1 2 0 1 2 1 2 0 1-2 0-8 1-2-1-2-1 0-2-2 0-1-1-1-1-2-2 1-2 0zM202 15l-1 1 2 0zM256 60l0 3 2 1 1-2-1-2zM256 15l-1 1 1 2 3 0-1 0-1-2zM264 230l-1 2 1 2 2 0zM152 18l0 2 1 2 1 0 2 1 2 0 2 1 1-2 0-2-1-1-4-2-2 0zM154 102l-1 0-2 4-1 1 0 1-1 2 0 4 2 4 1 1 2 1 2 2 1 2 1 1 8 0 2-2 0-1 2-4 2-1 1-1 1-2 0-2-1-2-3-3-2 0 0 5-2 2-2 0-2 1-2 0-2-1-1-2-1-1 0-1-2-4 1-2 1-1 0-1zM160 77l-1 1 1 2 0 1 1 1 0 2 1 2 0 1 2 1 2-2 0-1-1-1-3-6zM247 -6l9 0 1 2 0 2-1 1-4 0-2-1-1 0-2-2zM317 -6l5 0 1 2-1 0-2 1-2 0-1-1zM327 -6l18 0 0 2-1 1-2 1-1 0-1 1-4 0-2 1-1 0-1 1-2 0-1-1-2-4zM77 -2l5 0 8 8 0 1 1 1 1 2 0 1-2 0-1 1-1 0-2 2-1 0-1 1-2 0-4-4 0-1-1-2 0-4-1-2 0-1-2-1-4 2-4-2 2-1 4 0 2 1 2-1zM68 8l2 1 3 3 0 2 1 2-2 1-1-1-2-4-1-1zM326 8l2 1 1 1 1 2 0 2-1 2-1 1-3-3 0-4zM337 14l1-1 1 1-1 1zM293 16l1-1 2 0 1 1 0 2-1 2-2-1-1-1zM365 16l1-1 4 0 1 1 1 0 2 2 1 2 1 1 0 3-2 2-1 0-1 1-2 0-1-1-1 0-2-2-1-2zM410 18l2-1 1 1 0 4 1 1 0 1 2 2 0 1 1 1 0 2-1 1-4 0-3-3-1-2 2-4zM341 22l1-1 2-1 2 1 1 1 1 2-2 2-2 1-1-1-1 0-1-2zM396 22l0-1 2 0 1 1 0 2-1 2-2 0zM62 24l2-1 2 1 0 1 1 1-1 1-2-1zM94 26l2 0 0 2 1 2 1 1 0 1-2 1-1-1 1-2zM379 26l1-1 2 0 2 2 0 1-4 0 0-1zM38 32l0-1 2 1 1 2-1 1-2-1zM125 32l1-1 4 2 1 1 2 4-1 2-2 0-2-1-1-1-1-2 0-1-1-1zM17 36l1-1 2-1 2 1 1 1 0 2-1 1-2 1-2 0-2-2zM376 36l2 1 0 4-2 0-1-1-1-2zM87 40l1-1 2-1 2 0 6 6 0 2-2 1-2-1-4 0-2-1 0-1-1-2zM300 44l0-1 2-1 2 0 2 1 1 1 1 0 4 4 1 0 1 2-4 2-2 0-4-2-1 0-1-1-2-1-1-2zM53 56l2 0 1 2 0 4 2 2 0 1 2 0 2-1 2 0 2 1 3 3 1 2 0 3-1 1-3 0-4-4-4-2-4 0-1-2-2-2-2-4 1-2 2-1zM43 66l1-1 6 3 1 0 2 2 0 2-1 1-2 1-4 0-2-1-1-1-2-4zM409 74l2 0zM94 76l2 0 1 2 0 6-1 1-2-1-1-2 0-4zM115 76l1-1 2 2 0 2-2 0 0-1zM403 76l1-1 2 0 1 1 0 4-1 2 0 8 1 2 2 2 0 8-1 2-4 0-4-2-2-2 0-2 2-2 1-2 0-2-2-2-1 0-4-2-2 0-2-1-1-1-2-4 0-4 1-1 2-1 2 1 4 4 4 0 2-2 0-1zM52 80l2-1 2 0 1 1-1 1 0 1-2 1-2 0zM41 84l3 0 2 1 1 1 1 2 0 2 1 2 0 2-1 2-2-1-1-1-1 0-1-2-1 0-2-2-2-4 2-2zM321 92l1-1 2 0 2 1 2 2 0 2-2 1zM34 94l2-1 2 1 2 2-1 2-1 1-2 0-1-1-1-2zM387 94l1-1 2-1 2 1 1 1 1 2-1 2-1 1-2 0-3-3zM20 100l0-1 2-1 4 2-2 2-4 0zM98 108l0-1 3 3 0 2 1 1 0 1 1 2-1 2-1 0-2-2-1-2 0-2-1-2zM411 108l1-1 2 0 2 1 2 0 0 1 2-2 0 2-2 2 0 3-1 2-1 1-2 1-2-1 0-1-1-2 0-2-1-2zM357 116l1-1 2 0 4 2 3 3 1 0 2 1 2 0 6 6 2 1 2 0 2 1 1 1 2 4-2 2-1 2 1 2 0 2-1 0-2 1-2 0-2 1-1 2 0 2-1 2 3 6 1 0 1 2 4 4 0 4-1 2 0 2 2 4 0 6 2 4 0 2 1 2 0 4 1 2-3 6-2 2 0 6 3 3 0 1 2 2 0 2-2 2-4 2 0 1-1 1 4 8 2 2 2 4 0 2-1 2-2 2-2 1-1 1 0 2 1 1 0 1 1 2-3 3 0 1-4 4 0 2 2 2 2 1 5 5 0 2-1 1-2 0-2-2-2-1-2-2-6 0-4-2-2-2-2-4 0-2 1-2 1-1 2-1 2 0 0-3-2-1-4 0-2-2-1-2-2-2 0-2-1-2-4-2-2-2-2-4 0-2 2-2 0-1 2 0 0 1 4 2 2-1 2 0 1-1 1-2 0-2-2-2-4 0-2 1-2 2-2-1 0-4 1-2 2-2 1 0 2-1 1-1 1-2 0-4-2-2 0-1-1-1-1-2 0-4 1-2 2-2 0-4-2-2-1 0-1-2 1-2 2-1 1-1 1-2 0-10 4-2-1-2 0-2-1-2 1-2-1-2 0-3 6-3 0-2-1-2-2-2 0-10 1-2-1-2 0-2-1-1 0-1-2-2-4 0-2 1-2 0-3-3 0-2 1-2 2-1zM342 120l2 0 2 1 1 1 1 2-2 4 0 1-2 0-3-3-1-2 0-2zM17 140l1-1 2 1 2 2 1 2 0 2 1 2 0 1 1 1-2 4-3 3-2 0-1-1-3-6 0-2 1-2 0-2zM115 144l1-1 0 2zM29 146l1-1 4 0 3 3 0 2-1 2 0 1-2 1-2 0-2-1-3-3 0-2zM338 150l2 0 2 4-1 2 0 2-3 0-1-2-2-2 0-2 1-1zM95 152l1-1 2 1 1 2-2 0zM6 160l2-1 2 1 1 2 0 2-2 0-2-2zM297 166l1-1 2 0 3 3 0 2-4 0-2-2zM268 168l2-1 2 0 3 3 0 2-1 1 0 5 2 4 1 0 1 1 2 1 0 1 1 1-3 0-2-1-2 0-1 1-1 0-2 2-2-1-2-2 0-1-2-2-2-4 0-4zM339 178l3 0 2 1 1 1-3 6 2 4 0 4-2 2 0 1-2-1-2 0-2-1-4 0-2 1-1 2 2 4-2 4-1 1-2 1-4 0-2 4-2 2-1 2 2 4 0 4-1 2-4 2-4 0-2-1-6-6-2 0-6 3-2-1-3-3 0-2 2-2 1 0 2-1 4 0 2 2 2 1 4 0 2-1 1-1 0-4 3-6 0-2-2-4 0-2-1-2-4-4-1-2 2 0 4 2 4 0 0-6 2-1 6 3 4 0 4-2 2 0 2-1 1-1 0-2 1-1 0-1 2-2zM344 200l0-1 1 1-1 2zM284 202l2-1 0 2zM269 208l1-1 2 0 1 1 0 2-3 0zM335 236l2 0-1 1zM337 238l1-1 1 1-1 1zM-4 240l2-1 2 0 1 1 1 0 2 2 1 2-1 2-4 2-2 0-2-1-1-1 0-4zM325 248l1-1 2-1 2 2 2 4 0 2 1 2 0 4-1 2 3 6 0 2-1 1-4 0-2-2-2-1-6-6-1-2 1-1 4-2 1-1 0-4-1-2zM396 254l0-1 2-1 1 2-1 1zM341 256l1-1 1 1 1 2-2 1 0-1zM340 262l2-1 2 1 4 4 0 2-2 1-1-1-1 0-4-4zM138 264l0-1 2 1 0 2-1 0-1-1zM127 270l1-1 2 1 1 0 1 2-3 0zM346 272l0-1 2 1 2 2 1 2 0 2-1 1-2 1-4-2-1 0-1-1-2-1-1-2 1-1 2 1zM317 276l1-1 2-1 2 1 1 1 0 2-1 2-2-1zM321 284l1-1 2 1 0 2-2 1-1-1zM280 286l2 0 2 2 1 2 1 1 0 1 2 2 0 1 2 1 2 2-2 1-2 0-6-3-4 0-2-2-1-2 2-4 1-1zM411 300l3 0 1 2-1 1-2 0-1-1zM106 304l2 0 2 2 1 2-1 2-2-1-1-1-1-2zM296 304l4 0 2-1 2 0 2 1 2 4 0 2-2 2-2 0-2-1-2-2-2-1zM401 304l1-1 2 0 0 1zM138 306l2-1 2 1 2 2 0 1 4 4 0 1 1 2 0 2-1 1-4 0-2 1-1 0-1 1-2-1-2 0-2-2 0-1-2-1 3-6 2-2zM261 306l1-1 2 0 5 5 1 2 0 4-2 1-2 0-1-1-1 0-1-2-1-1 0-1-1-2zM30 324l0-1 1 1-1 1zM-6 328l0-1 1 1 0 2-1 2zM157 330l1-1 1 1-1 1zM171 332l1-1 1 1-1 1zM45 348l1-1 1 1zM382 388l2 0 4 2-1 2-1 0-2 1-1-1-1-2zM388 390l4-2 1 2-1 1-2-1zM-1 410l1-1 3 3 0 2-4 0z" fill="#ffaf00"/><path d="M229 4l3 0 2-1 2 1 0 2-2 1-2 0-2 1-1-2zM212 6l2-1 3 3 0 4-1 2-1 0-2-2-2-4zM263 12l1-1 2 0 2 1 4 4 0 2-1 2-1 1-2 1 0-2-4-4 0-1-1-1zM180 14l2 0 2 2 4 8 2 1 2-1 2-2 4-2 4 2 1 2-1 2 2 2 4 2 2 2 0 6 2 4 2 2 2 1 2 0 4-2 3 3 1 0 2 2 1 0 2 2 1 0 1 2 4 4 1 0 2 1 10 0 1 1 1 2 0 2 2 4 2 2 3 0 1-1 2-1 1-2 0-2 1-2 0-2 1-2 1-1 4 2 2 0 1-1 0-2-1-1-2-1-2-2 1-2 0-2 1-1 2 0 2 1 2 2 0 4 2 1 4 0 2 1 2 4 0 6-1 2 1 0 6 3 2 0 4 2 0 1 1 2 0 2 1 1 0 1 2 2 0 1 1 1 3 6 0 2-2-1-4 0-2 1-2 4 0 1-3 3-1 2 0 4 2 4 0 3-2 2-2-1-2 0-2-2-2 2 0 2-2 1-4 0-1 1 2 4 0 2-1 2-2 2-6 3-1 1-1 2 0 2-2 4-2 2-2 0-4-2-4 0-2 2 0 2-1 2-1 1-2 0-2-2-2-1-2 0-4 4-2 1 0 5 2 2 0 1 1 1 1 2 0 4 1 2 0 2 5 10 0 2 3 6 0 2 4 8 2 2 0 2 1 1 0 1 2 4 0 2 2 4 0 1 1 1 0 2-1 2 0 2-1 2 1 2 0 8 1 2 0 8-1 1 0 1-1 2 0 2-1 1 0 1-2 2-1 2 0 2-1 2 0 2-1 2 0 2-1 2 0 4-1 2 0 12 2 4 0 8-3 3-2 0-2 1-2 0-1 2 1 2 0 4-2 1-4-2-1-1 0-2-3-3-2 0-1 1-1 2 0 2-8 4-4 4-1 0-1 2 0 4-3 6 0 2-1 1-2-1-1-2-3-3-6-3-2-2-6 0-2 1-8 0-2-1-4 0-2 2-4 2-2-1-1-1-1-2-2-2-3-6 1-2 2-2-1-2-4-4-1 0-1-2-2-2-1-2 0-2-3-6 0-2-1-2 1-2 0-2 1-2-1-2 0-2-1-2 0-2 1-2 2-2 1-2 0-2-1-2 0-4-1-2-4 0-1 2-1 1-4 0-1-1-1 0-4-2-2 0-2 1-2-2 0-7-1-2-1 0-2-1-3-3 0-4 2-2 0-2-1-1-2 0-2-1-2-2-1-2 1-2 6 0-1-2 0-2-1-2 0-6-2-4 0-2-1-2-1-1 0-1-2-2-1-2 1-2 2-1 2 0 4-4 2 0 4 2 4 4 2-1 3-6 0-6-1-1 0-1-2-2 0-1-2-1 0-2 1-2-4-4 0-2 1-1 2-1 2 0 4 2 4 0 8-4 4-4-2-4-4-4-1 0-3-3-2-1-4 2-2 0-1-2 2-2 7 0 4-2 2 0 2 1 2 2 2 1 2 0 0-4-1-2 1-2 2-1 2 1 4 0 2-2 1-2 0-4 1-2 0-2 1-2 5-5 4-2 4 0 2-1 0-2-2-2 0-1-1-1-1-2 1-2 1-1 2-1 2-2 1-2 1 0 2-1 1-1 1-2 0-1 1-1 0-2-1-2-2-2-1-2-3-3-4-2-3-3 0-2 1-1 2 0 4 2 1 1 1 2 4 4 4 0 2-1 1-1 1 0 2-2 1-2 0-4-1-2 0-4 2-2 1 0 2-2 0-2-2-4-2-2-7 0-4-2-1-2 4-4 0-2-2-2-3 0-2 1-2-1-2 0-2-1-2 1-8 0-2-1-5-5-1-2-2-2-1-2 1-2 2-1 6 6 2 1 2-1 1-1 1-2-1-2-5-5-2-1-2 0 2-1 0-1 2-2 0-1 1-1 1 0zM184 29l-1 1 2 4 1 1 2 0 0-4-2-2zM274 66l-2 2 2 2 2 1 2-1 2 0 2-2 1 0 1-2zM242 285l-1 1 0 2 1 2 4 0 2-1 1-1-3-3zM126 199l-2 1 0 3 1 1-2 4 1 2 2 0 1-2-1-2 2-1 1-1 1 0 2-2-1-2-1 0-2-1zM182 304l-1 0 2 4 3 3 1-1 0-4-1-2-2-1zM259 24l5 0 4-2 2 0 2 2 2 1 6 0 1 1 2 4-2 2-1 2-2 2-4-2-2 0-2-1-2 0-2 1-4-2-2-2-2-4zM157 40l3 0 4 2 2 2-1 2-5 0-2-1 0-1-2-2zM234 42l1 0 3 3 0 2-2 0-2-1-1-2zM174 46l2-1 2 1 1 0 2 2 1 2-2 2-4-2-1 0-1-2zM142 64l2-2 1 2 1 0 4 4 2 4 0 2-1 2-1 1 0 1-1 2 1 2 2 2 0 4 1 2 1 1 0 1 2 2 0 1 1 1-1 0-2 1-4 0-2-1-2 0-2-1-1-1-1-2 0-4-4-8 0-6-1-2 1-2 2-1 1-1 1-2zM169 92l3 0 2 4-1 2-1 1-2 1-2 0-2-1-2 0-2-1-1 0 1-1 0-1 2-1 1-1 1 0 2-2zM143 108l1 0 1 2-1 1 0-1zM143 120l1-1 1 1 1 2 0 2 1 2 0 4 1 2-1 2-3 0-1-2 0-2-1-2 0-6zM374 160l0-1 2 1 1 0 1 1 2 1 1 2-1 1-2-1-2-2-1 0-1-1zM129 174l1-2 4 2 0 2-1 2 0 2-1 2-2-1-1-1-1-2 0-2zM368 174l2 1 4 0 2-1 4 2 4 8 0 4 2 4 0 2-1 2-1 1 0 1-2 2 0 2-1 2 0 4 2 2 1 2 0 2-2 1-2-1-2-2-1 0-1-1-4 4-4 0-2-1-1 0 0-8-3-6 0-4 1-2 2-2 1-2 0-1 1-1 0-2-2-2 0-4 1-2 0-2zM371 224l1 0 2-1 2 1 1 2 3 3 4 2 3 3 0 4-1 0-4 2-2 2-2 1-2-2-2-1-4 0-2-1-3-3 0-2 1-2 2-1 1-1 1-2 0-2zM377 248l1-1 1 1 0 2-1 0z" fill="#ffe000"/><path d="M194 30l6 0 2 1 2 0 2 2 0 1 1 2 0 6 1 2-2 1-2 0-3-3-1-2-2-2-2-1-3-3 0-2zM212 50l2-1 2 1 1 0 1 1 2 1 1 0-3 3-2 1-2-1-2-2zM224 54l2-2 2 0 2 1 3 3 0 2-1 1-2 1zM218 58l6 3 2 2 2 1-2 1-1 1 0 4 2 2 0 2 2 4 3 0 1-2-1-2 0-5 6 0 1-1 1-2 0-4 2-1 2 0 2 1 2 0 2 2 3 6 1 1 2 1 2 2 1 2 2 2 1 2 0 4 2 2 6 3 2 0 2-1 2-4 0-1 1-1 0-4 1-2 2-1 2 0 2-1 2 0 2 1 1 1 0 6 1 2 2 0 2 1 1 1-1 2 0 1-2 2-2 0-1-1-1-2-2 0-1 2 0 4-1 1-2 0-2 2-4 2-1 1 0 2-1 1-2 1-1 0-1 1 0 1-2 4-4 2-2 0-2 1-1 1 0 2 1 2 2 2 2 1 6 0 1 1-1 2-4 2-2 2 0 2-2 4-2-1-4 0-2-1-1 0-5-5-2-1-2 0-2 1-1 1-1 0-2 1-4-2-4 0-1 1 6 12-1 2 0 8 3 6 1 1 0 1 1 2 0 4 1 2 0 1 1 1 1 2 0 1 1 1 1 2 0 2 4 8 0 2 5 10 1 1 0 1 2 4 0 2 1 2 0 2 1 2 0 12 1 2 0 8 1 2 0 4-2 4 0 2-5 10 0 2-1 2 0 2-1 2 0 4-1 2 0 6-1 2 0 4-1 1-2 1-4 0-2 1-1 1-3 6-2 2-2 0-2 1-1 1-1 2 0 2-1 2-1 1-4 2-1 1-1 0-4 2-1 0-1 1-2 0-2 1-5 0-1 1-2 0-4 2-4 0-2-1 0-1-1-1 0-2 1-2 2-1 3-3 0-2-1-1 0-1-2-2-2-1-2 2-4 2-1 1-1 0-2 1-4 0-2-1-2-2 0-1-1-1-1-2 0-2-1 0-1-1 0 3-1 2 0 2-2 2-3 0-4-2-2-2-4-8 0-2 2-2 2-1 0-1-3-6 0-4-1-2 1-2 2-2 1-2 0-2-1-2 0-12-1-1-2-1-2 0-2 1-4 0-2-2 0-1-2-4 2-2 2 0 2-2 0-6 1-2 0-2-3-6-2-2-2 1-1 1 0 4 2 4 2 2-3 6-2 0-4-2-2-4-4-4-1-2-2-2-1-2 0-2 2-2 2 0 2-1 1-1 0-2 1-2 2-1 6 6 2 0 2-1 0-4-1-2 0-2 1-1 0-3 1-2 2-2 1-2 0-2-1-2-6-6-1-2 0-2 2-2 4 2 2 2 1-2 0-4 1-2 2-1 1-1-1-1 0-1-1-2 2-4 2-2 11 0 0-8 4-4-4-8 2-1 2-2 2-1 4-4 2 1 2 0 1-1 1-2 0-2-2-4-2-2 0-2 1-2 1-1 2-1 2 0 2 1 1 1 0 2 1 2 2 1 10 0 2 1 2 0 2-2 0-8 2-1 5-5 0-2-1-1 0-1-1-2-1 0-1-2-1-1-2-1-4 0-4-2 0-3 2 0 2 1 1 0 1 1 2 0 2-2 6-3 2 0 2-1 1-1 0-2 1-2-1-2-4-4-2-4 1-2 0-14zM176 285l-1 1 2 2 3 0-1-2-1-1zM206 289l-1 1 0 2 3 3 2-1 1-2-1-2-2-1zM218 109l-1 1 0 2 1 1 0 1 4 4 2 0 2-2 1 0-1 0-6-6-1 0zM144 80l0-1 0 4-1-1zM190 106l4-2 1 2-1 2-2 1-2 0-1-1zM175 130l1-1 1 1 1 2-2 2-1-2zM241 134l1-1 2 1 2 0 2 1 1 1 0 4-1 1-6-3-1-2zM374 182l2-2 2 1 2 2 0 1 1 2-1 2 0 2 2 4-1 2-1 1 0 1-1 2 0 2-2 2-1 0-4 2-2 4-1-2-1-1 0-1-3-6 0-4 2-2 1-2 4-2 2-2 0-2-1-2zM175 308l1-1 2 0 2 2 0 3-2-1z" fill="#f4ff15"/><path d="M246 68l2 2 1 2 0 2-1 0-2-1-1-1 0-2zM246 84l0-1 2 0 4 4 2 1 2 0 4 2 2 4 0 2 4 8 0 2-2 2-2 1-4 0-1 1-1 2 0 2-1 2-1 1-6 0-2-1-2 0-2 1-1 1-1 2-1 0 0-2-1 0-1-2-3-3 0-3 4-2 0-2-4-4-1 0-1-1 0-1-1-2 0-4-2-2-1-2 0-2 2-2 6 0 4 4 4 0 2-2zM238 122l0-1 1 1zM212 126l2-2 2 1 4 0 2-1 2 2 3 6 2 2 3 6 0 8 2 4 0 1 1 1 2 4 0 4 1 2 0 1 1 1 1 2 0 1 1 1 1 2 0 2 5 10 0 2 1 1 0 1 7 14 0 2 1 2 0 2 1 2 0 12 1 2 0 8 1 2 0 2-1 2 0 2-1 2 0 2-5 10 0 2-1 2 0 2-1 2 0 1-1 1 0 8-1 2 0 2-1 2-1 1-2 0-2 1-2 0-4 4 0 1-2 2-2 1-2 0-4 2-1 0-1 1-4 0-2 1-2 0 0-2-4-4-2-1-1-1-1 0-2-1-2 0 0 1-2 2-1 2 0 2 1 2-1 2-1 0-2-1 0-1-2-2 0-1-1-1 0-2-1-2 0-2-2-1-4 0-2 1 0 4-4-4-2-1-2-2-4-2-4 0-4 2-2 0-2-1-2-2-2-4 0-4 4-2 0-6-2-4 0-8 1-2 0-4-1-1-6 0-2-1-2 0 0-2 1-2 0-2 1-2 0-2 1-2-2-4 0-2-1-2 0-2 2-2 0-1 1-1 0-2-3-6 1-2 0-4 1-2 0-2 1-2 0-2 1-2 0-2 1-2 0-6 1-1 2-1 2 0 2 1 2 0 2-1 1-2 0-2-2-4 0-2 1-1 4 0 1-1 1-2 0-2-1-2 1-2 0-1 2-1 4 0 1-2-1-1 0-1-3-6 0-2 1-1 4-2 1-1 1 0 2-1 3-3 0-2 1-2 0-1 1-1 3 0 2-1 2 0 2-1 4 2 6 0 2 1 1 1 3 0 0-2zM192 271l0 2 1 1 1 2 1 0 1 1 2 0 1-1-1-2 0-1-1-1-1 0-2-1zM129 218l1-1 4 0 1 1 1 2-2 2-2 0-2-2zM159 288l2 0 2 2 0 2-1 1-2-1-1-2zM214 294l2-2 1 2 2 2 0 2-1 2-2 0-2-2zM204 300l0-1 2 0 2 1 0 2-3 0z" fill="#d7ff4b"/><path d="M240 98l2-2 2 0 2 1 2 0 2 1 1 2 0 4-1 2 0 2-1 2-1 1-2 0-1-1-5-10zM220 132l0-1 2 0 3 3 1 0 2 2 2 4 0 6 2 4 0 1 1 1 0 2 2 2 0 2 1 2 0 4 1 2 1 1 0 1 1 2 1 1 0 1 1 2 1 1 0 1 4 8 0 2 8 16 0 2 1 2 0 4 1 2 0 8 1 2 0 10 1 2 0 2-1 2 0 2-1 2 0 2-3 6-1 1 0 1-1 2 0 2-2 4 0 2-1 2 0 6-2 4-2 2-4 0-2 1-4 4 0 1-1 2-1 0-4 2-2 0-2 1-4 0-2-1-2-2-2-4-2-1-2 0-2-1-1 0-6-6-1-2-2-2-1 0-1-1-2 0-4-2-1-1-2-4 0-4-3-6-2-2-2 0-6 3-2 0-2 1 0 2-2 0-2-1-1-1-1-2 0-4 2-2 2 0 2-1 0-4-1-1-1-2-2-2-2-1-3-3 0-2-1-2 0-1-3-3-1-2 2-2 1-2 0-2-1-2 0-1-1-1-1-2 0-4-1-2 0-4 1-2 1 0 1-1 2 1 3 0 1-1 2-1-4-2-1-2 1-2 2-1 0-1 2-2 2-1 1-1 1 0 2-4 0-4 2-2 2-4 0-2-1-2 0-2 1-2 6 0 2-1 1-1 1-2 0-2 2-2 2-1 2 0 4 2 2-1 0-1-1-1-1-2-2-1-4 0-2-1-2-2 0-2 2-1 1-1 1-2 0-1 2-2 10 0 1 1 1 0 2 2 2-2 2-1 8 4 2-2 0-1 1-2-1-1zM170 209l-1 1 1 1 1-1zM174 195l-1 1 2 2 1 0 0-2zM167 264l1-1 2 0 6 3 0 1 1 1-3 3-4 0-2-1-1-2zM183 272l2 0 1 1 2 1 1 2-1 1-2 0-2-1 0-1-1-1z" fill="#b9ff82"/><path d="M224 140l0-1 2-1 1 2 0 2-1 2 2 2 1 2 1 1 0 1 4 8 0 4 3 6 1 1 0 1 7 14 0 2 1 1 0 1 7 14 0 2 1 2 0 4 1 2 0 8 1 2 0 6 1 2 0 8-2 4 0 2-2 4-2 2-1 2 0 2-2 4 0 2-2 4 0 4-2 4-6 0-4 2-1 0-1 1-2 1 0 2-1 2-1 1-2 0-4-4-4-2-2 0-2-1-4 0-6-3-1-1-2-4-3-3-2-1-2-2-2-1 0-1-2-2-1-2 0-2-2-4-3-3-2 0-2-1-4 0-2-2-2-4 0-6-1-2-1-1-4-2-1-1-2-4 0-2 1-1 2-1 4 0 2-1 1-1 1 0 2-4-1-2 0-2-2-4 2-2 1 0 2-1 1-1 1-2-1-2 0-2-3-3-2-1-2 0-2-2 0-2 2-2 2 0 2-2 0-2 1-2 1 0 2-4-1-2 1-2 0-1 2-2 2-1 1-2 2-2 2-4 0-2 1-1 2-1 4 2 5 0 1-2-1-2 0-2-1-2 2-2 2 1 2 0 2 1 4 0 2 1 1-1 1 0 4-2 1 0 1-1 2-1zM161 202l1-1 2 0 2 1 1 0-1 2 0 1-2 2-2-1-1-2z" fill="#7affb1"/><path d="M219 150l1 0 4-2 2 0 2 2 2 4 0 2-1 2 1 1 0 1 2 2 0 1 1 1 2 4 2 2 1 2 0 2 3 6 1 1 0 1 1 2 1 1 0 1 4 8 0 1 1 1 1 2 0 1 1 1 1 2 0 4 1 2 0 4 1 2 0 4 1 2 0 6 1 2 0 10-2 4 0 2-1 2-4 4-1 2 0 1-1 1 0 2-6 12-3 0-2-1-1 1-1 0-2 2-2 1-2 0-2-1-2 0-4-2-2-2 0-1-8 0 0-1-2-2-1-2-1 0-2-2-2-1-2 0-6-3-2-2 0-1-1-1-2-4-3-3-4-2-2 0-2-1-1 0 0-2 3 0 2-1 0-5-2-2-2 0-2-2-1-2 0-6 1-1 0-1 2-2 1-2 0-2-2-4 0-2 1-2 2-1 1-1 1-2 0-6 1-2 0-4-3-6 0-2 2-2 0-1 1-1 0-4 1-1 2 0 2 1 2 0 2 1 2-1 1-2 0-2-1-2 0-4-1-2 0-2 1 0 2 2 6 0 2-1 1-1 1-2 0-1 2-2 2 0 2 1 3 0zM232 176l0 2 2 1 0-2-1-1z" fill="#34ffde"/><path d="M223 152l2 0 1 1 0 5 2 4 2 2 1 2 1 1 0 1 1 2-1 1-2 0-2 1-2 2-2 0-2 2 2 2 4 2 2 2 1 2 1 1 0 1 1 2 1 1 2 0 0-1 2-4 0-1 2 0 2 2 0 1 1 2 1 1 0 1 2 4 0 2 2 2 0 1 1 1 1 2 0 2 1 2 0 2 1 2 0 4 1 2 0 2 1 2 0 8 1 2 0 6-1 2 0 2-2 4 0 1-2 2-2 1-2 2-4 2 0 8-2 2-2 1-6 0-2 1-2-1-1-1-1-2-4-4-1 0-1-1-2-1-3 0-3 3-2 1-6-3-2 0-2-1-1 0-1-1-2-1-2-2 0-1-1-1-4-8-1-1 0-1-2-4 0-12-1-2 0-4-2-4-2-2-1-2 1-2 4-4 0-2 1-2 0-2 2-4-5-10 1-2 2-2 0-1 2-1 10 5 1 1 3 0 0-2-2-2-2-4 0-4 2-4 2-1 1-1 1 0 4-2 2-4 2 0 2-1 2 0 2-1 4-4zM194 193l0 1 2 2 1 0 0-2-1-1z" fill="#05f4ff"/><path d="M214 162l4-2 2 0 1 2 0 2 1 1 2 1 1 2-1 1-2 0-2 1-4 0-1 2 1 1 0 1 2 2 2 4 2 2 6 3 1 1 1 2 0 1 1 1 0 2 1 2-1 2 1 2 0 2 1 2 3 3 1-1 0-6 1-1 2-1 4 2 1 2 2 2 0 2 3 6 0 4 2 4 0 4 1 2 0 14-2 4-1 1-2 1-2 0-2 2-2 1-8 0-2 1 0 2 1 2 2 2 1 0 2 2 0 2-2 2-4 0-2-1-4-4-2-1-4-4-4-2-2 0-2 1-1 1-1 2-2 1-2 0-1-1-1 0-2-2-2 0-2-1-2-2 0-1-2-2 0-2-3-6 0-2 1-2 2-1 1-1 0-6-1-2-2-2-2-4 1-2 2-2 1-2 0-6 1-2 5 0 2-2-1-2 0-6 1-1 2-1 2-2 6 0 2 1 2-1 1 0 1-2-2-2-4-2-2-2-2-1-1-1-1 0-2-2-2-4 1-2 1-1 2-1 6 0 2 1zM193 186l1-1 2 0 1 1-1 1-2-1z" fill="#19cbff"/><path d="M207 194l1-1 12 0 2 1 4 4 1 2 2 2-1 1-6 0-2 1-4-2-2-4 0 2-1 2-1 1-2 0-2-1-2-2-2-4 2-2zM207 206l3 0 2 1 1 1 1 2 2 2 1 0 1 1 8 4 2 0 1-1 0-4 1-1 2 0 2-1 4 0 2-1 1-1 1-2 2 0 2 4 0 2 1 2 0 4 3 6 0 12-1 2-1 1-2 1-2 0-2-1-10 0 0 1-1 2-1 1-2 0-2-1-3 0-2 2-1 0-2 1-4 0-2-1-4 0-2 2-2 1-1-1-1 0-4-4-1-2 0-2 1-2 2-2 0-2-1-2 0-2-1-2 0-2-4-8 1-2 2-2 0-2 1-1 2-1 2 0 4-2z" fill="#2ca2ff"/><path d="M206 210l2-1 4 2 1 1 2 4 0 4-1 1-2-1-4 0-4-2-4 0-1-2 1-2 2-2zM236 214l4 0 2 2 0 2 1 2 0 4-1 2-2 2 0 2 1 2-1 1-4 2-2 0-2-1-1 0-6-6-1-2 0-2 1-2 1 0 6-3 1-1 1-2 0-1zM215 222l1-1 3 3-1 1-2 0-1-1zM201 226l1-1 2 0 2 1 2 2 6 0 1 2 0 2-1 2 0 1-2 2-2 1-2 0-2-1-3-3 0-2-1-1 0-1-1-2z" fill="#2a78ff"/>
<use href="#outer"/>
</g>
<path d="M96.7 -15.5V0M96.7 408v15.5M213.6 -15.5V0M213.6 408v15.5M331.2 -15.5V0M331.2 408v15.5M-16 80.7H0M414 80.7h16M-16 231.1H0M414 231.1h16M-16 381.8H0M414 381.8h16" stroke="#000" stroke-width="3.3" fill="none"/>
<rect width="414" height="408" fill="none" stroke="#000" stroke-width="3.9"/>
</g>
<g transform="translate(917.8 1017.9) scale(0.9990 0.9975)">
<rect width="414" height="408" fill="#9a9a9a"/>
<polygon points="0,177.4 5.2,174.6 12.9,173.9 18.2,180.9 25.2,184.4 30.4,191.4 39.2,194.9 44.4,194.9 46.2,182.6 52.1,179.1 60.2,182.6 64.4,187.2 72.4,198.4 72.4,250.9 79.4,285.9 93.4,303.4 121.4,324.4 156.4,352.3 174.6,381 179.1,397.8 184.4,408.3 0,408.3" fill="#fff"/>
<g clip-path="url(#cpF)">
<rect width="414" height="408" fill="#ff0000"/><path d="M-6 -6l426 0 0 51 0-1-1-2 0-2-1-2 0-2-1-2 0-2-2-4 0-2-2-4-1-1 0-1-4-4-4 0-4 4-1 2-1 1 0 1-3 6 0 2-2 4 0 2-1 2 0 2-1 2 0 4-1 2 0 4-1 2 0 4-1 2 0 4-1 2 0 8-1 2 0 8-1 2 0 16-1 2 0 96-1 2 0 10-1 2 0 4-1 2 0 4-1 2 0 2-1 2 0 2-1 2 0 2-1 2 0 2-3 6 0 2-5 10-1 1 0 1-1 2-2 2-2 4-4 4-1 2-10 10-2 1-6 6-2 1-2 2-2 1-2 2-2 1-2 2-1 0-1 1-4 2-2 2-8 4-2 2-8 4-1 1-1 0-2 1-2 2-12 6-1 1-1 0-2 2-1 0-1 1-12 6-1 1-1 0-2 1-2 2-2 1-1 0-1 1-8 4-1 1-1 0-2 1-1 1-1 0-2 2-1 0-1 1-16 8-1 1-1 0-2 1-2 2-2 1-1 0-1 1-8 4-4 4-2 1-2 2-2 1-5 5-1 0-6 6-2 1-4 4-2 1-2 2-2 1-3 3-1 0-2 2-1 0-1 1-6 3-2 0-2 1-8 0-2-1-2 0-2-1-7-7-2-4-1-1 0-1-3-6 0-2-1-2 0-2-2-4 0-2-1-2 0-4-1-2 0-2-1-2 0-2-1-2 0-2-1-2 0-2-1-2 0-2-1-2 0-4-1-2 0-2-1-2 0-2-1-2 0-2-1-2 0-2-1-2 0-2-1-2 0-2-2-4 0-2-1-2 0-2-2-4 0-2-1-2 0-2-1-2 0-2-1-2 0-2-1-2 0-2-1-2 0-2-1-2 0-2-1-2 0-2-1-2 0-2-2-4 0-2-1-2 0-2-1-2 0-2-1-2 0-2-1-2 0-2-2-4 0-2-2-4 0-2-4-8 0-1-1-1-2-4-9-9-4-2-1-1-1 0-2-2-2-1-2-2-2-1-2-2-2-1-4-4-10-5-4 0-4 2-1 2-2 2 0 2-1 2 0 2-1 2 0 20 1 2 0 6 1 2 0 4 1 2 0 2 1 2 0 4 1 2 0 2 1 2 0 2 1 2 0 2 2 4 0 2 1 2 0 2 2 4 0 2 2 4 0 2 2 4 0 2 3 6 0 2 4 8 0 2 4 8 0 1 1 1 0 2 1 1 0 1 8 16 0 1 1 1 1 2 0 1 1 1 8 16 2 2 3 6 2 2 0 1 1 1 2 4 2 2 1 2 2 2 0 1 3 3 2 4 2 2 1 2 2 2 1 2 2 2 2 4 1 1 0 1 2 2 0 1 1 1 1 2-114 0z" fill="#ff4600"/><path d="M69 -4l2-2 239 0 10 20 0 2 4 8 0 2 2 4 0 2 1 2 0 2 2 4 0 2 1 2 0 2 1 2 0 2 1 2 0 4 1 2 0 2 1 2 0 4 1 2 0 4 1 2 0 4 1 2 0 4 1 2 0 6 1 2 0 8 1 2 0 8 1 2 0 8 1 2 0 4 1 2 0 4 1 2 0 6 1 2 0 8 1 2 0 8 1 2 0 40-1 2 0 6-1 2 0 4-1 2 0 2-1 2 0 2-1 2 0 2-2 4 0 2-7 14-2 2-1 2-2 2-1 2-18 18-1 2-4 4-2 1-6 6-2 1-4 4-1 0-3 3-4 2-2 2-4 2-2 2-8 4-2 2-2 1-1 0-1 1-2 1-1 0-1 1-2 1-1 0-1 1-2 1-1 0-1 1-2 0-1 1-1 0-6 3-2 0-6 3-2 0-2 1-2 0-4 2-2 0-2 1-4 0-2 1-2 0-2 1-4 0-4 2-2 0-2 1-2 0-2 1-2 0-2 1-2 0-2 1-4 0-2 1-4 0-2 1-12 0-2-1-2 0-2-1-2 0-6-3-2-2-2-1-4-4-1-2-4-4-2-4-1-1 0-1-2-2 0-1-1-1-7-14 0-2-4-8 0-2-2-4 0-2-2-4 0-2-1-2 0-2-2-4 0-2-1-2 0-2-1-2 0-4-1-2 0-2-1-2 0-4-1-2 0-2-1-2 0-6-1-2 0-4-1-2 0-6-1-2 0-4-1-2 0-6-1-2 0-4-1-2 0-6-1-2 0-4-1-2 0-2-1-2 0-4-1-2 0-2-1-2 0-2-2-4 0-2-2-4 0-1-1-1 0-2-1-1 0-1-1-2-1-1-4-2-10 0-2-1-1 0-1-1-2-1-2-2-1-2-2-2-5-10 0-2-2-4 0-2-1-2 0-2-1-2 0-2-1-2 0-2-1-2 0-6-1-2 0-8-1-2 0-14 1-2 0-10 1-2 0-4 1-2 0-4 1-2 0-2 1-2 0-2 1-2 0-2 1-2 0-2 2-4 0-2 3-6 0-1 1-1 0-2 1-1 0-1 1-2 1-1 0-1 2-2 0-1 1-1 2-4 1-1 0-1 2-2z" fill="#ff7d00"/><path d="M204 -4l12 0 4 2 1 0 1 1 2 1 1 0 1 1 2 1 8 8 1 2 2 2 2 4 1 1 0 1 1 2 1 1 0 1 1 2 1 1 0 1 2 2 9 18 0 2 1 1 0 1 2 4 0 2 2 4 0 2 1 2 0 2 2 4 0 2 1 2 0 2 1 2 0 2 1 2 0 2 1 2 0 2 1 2 0 2 3 6 1 1 0 1 1 2 1 1 0 1 1 2 2 2 1 2 0 1 1 1 1 2 0 1 1 1 1 2 0 1 1 1 0 2 1 1 0 1 1 2 1 1 0 1 4 8 0 1 1 1 0 2 1 1 0 1 2 4 0 2 3 6 0 2 1 2 0 2 1 2 0 2 2 4 0 4 1 2 0 2 1 2 0 6 1 2 0 8 1 2 0 12-1 2 0 8-1 2 0 4-1 2 0 4-1 2 0 2-1 2 0 2-1 2 0 2-1 1 0 1-2 4 0 1-1 1-1 2 0 1-1 1-1 2 0 1-1 1-2 4-2 2-1 2-2 2-1 2-13 13-2 1-2 2-2 1-2 2-4 2-1 1-1 0-2 2-1 0-1 1-2 1-1 0-1 1-2 1-2 0-8 4-2 0-2 1-2 0-2 1-2 0-2 1-2 0-2 1-8 0-2 1-10 0-2-1-6 0-2-1-4 0-2-1-2 0-4-2-2 0-8-4-2 0-2-1-1-1-1 0-2-1-1-1-1 0-2-2-1 0-2-2-1 0-4-4-2-1-4-4 0-1-4-4-1-2-2-2-2-4-1-1 0-1-1-2-1-1 0-1-1-2-1-1 0-1-3-6 0-2-1-2 0-2-1-2 0-2-1-2 0-2-1-2 0-6-1-2 0-28 1-2 0-8 1-2 0-6 1-2 0-4 1-2 0-4 1-2 0-4 1-2 0-4 1-2 0-2 1-2 0-4 1-2 0-2 1-2 0-4 1-2 0-2 1-2 0-4 1-2 0-6-1-2 0-2-2-4 0-2-3-6 0-2-3-6 0-2-2-4 0-2-2-4 0-2-1-2 0-4-1-2 0-4-1-2-1-1 0-1-2-4 0-12 2-4 0-1 1-1 2-4 4-4 1 0 2-2 2-1 1-1 1 0 2-1 1-1 1 0 2-1 1-1 1 0 18-9 1-1 1 0 2-2 1 0 1-1 4-2 2-2 2-1 2-2 1 0 1-1 2-1 2-2 1 0 1-1 4-2 1-1 1 0 2-1 1-1 1 0 6-3 2 0 2-1z" fill="#ffaf00"/><path d="M203 104l1 0 2-1 4 0 2-1 2 0 2 1 4 0 2 1 2 0 4 2 2 0 2 1 2 2 4 2 2 2 2 1 4 4 1 0 6 6 1 2 4 4 1 2 3 3 0 1 2 2 1 2 2 2 2 4 1 1 0 1 1 2 2 2 1 2 0 1 1 1 1 2 0 1 1 1 0 2 1 1 0 1 4 8 0 2 2 4 0 2 1 2 0 2 1 2 0 2 1 2 0 4 1 2 0 4 1 2 0 8 1 2 0 12-1 2 0 6-1 2 0 4-1 2 0 2-3 6 0 2-1 2-1 1 0 1-1 2-2 2-2 4-2 2-1 2-4 4-1 2-3 3-2 1-4 4-1 0-2 2-1 0-2 2-16 8-2 0-2 1-2 0-2 1-2 0-2 1-4 0-2 1-16 0-2-1-4 0-2-1-2 0-2-1-2 0-4-2-2 0-1-1-1 0-2-1-1-1-1 0-2-1-2-2-4-2-4-4-2-1-4-4-1-2-4-4-2-4-2-2-5-10 0-1-1-1 0-2-1-2 0-2-1-2 0-2-1-2 0-2-1-2 0-24 1-2 0-6 1-2 0-4 1-2 0-4 1-2 0-2 1-2 0-2 2-4 0-2 1-2 0-2 3-6 0-2 4-8 0-1 1-1 1-2 0-1 1-1 1-2 0-1 1-1 1-2 0-1 1-1 2-4 2-2 2-4 2-2 1-2 2-2 1-2 10-10 1 0 2-2 2-1 2-2 10-5z" fill="#ffe000"/><path d="M207 128l1 0 2-1 10 0 2 1 2 0 2 1 2 0 1 1 1 0 6 3 1 1 1 0 2 2 2 1 2 2 2 1 8 8 1 2 3 3 0 1 2 2 1 2 1 1 0 1 2 2 0 1 1 1 5 10 0 1 1 1 0 2 3 6 0 2 1 2 0 2 1 2 0 2 1 2 0 4 1 2 0 4 1 2 0 22-1 2 0 4-2 4 0 2-2 4 0 1-1 1-1 2 0 1-1 1-3 6-2 2-1 2-9 9-2 1-2 2-2 1-1 1-1 0-2 2-1 0-1 1-2 1-1 0-1 1-2 0-6 3-2 0-2 1-4 0-2 1-18 0-2-1-2 0-2-1-2 0-2-1-2 0-12-6-2-2-2-1-2-2-2-1-5-5-1-2-2-2-1-2-2-2-5-10 0-2-2-4 0-2-1-2 0-2-1-2 0-24 1-2 0-6 1-2 0-2 1-2 0-2 1-2 0-2 1-2 0-2 2-4 0-2 3-6 0-2 1-2 1-1 0-1 1-2 1-1 0-1 1-2 2-2 2-4 2-2 1-2 2-2 0-1 12-12 2-1 2-2 1 0 1-1 6-3 1 0 1-1 2 0 2-1z" fill="#f4ff15"/><path d="M216 144l4 0 2 1 2 0 2 1 2 0 6 3 1 1 1 0 2 2 2 1 11 11 2 4 2 2 2 4 1 1 0 1 1 2 1 1 0 1 4 8 0 2 1 2 0 2 1 2 0 2 1 2 0 2 1 2 0 4 1 2 0 20-1 2 0 2-1 2 0 2-1 2 0 1-1 1 0 2-1 1 0 1-1 2-1 1 0 1-2 2-1 2-2 2-1 2-4 4-2 1-4 4-14 7-2 0-2 1-2 0-2 1-4 0-2 1-8 0-2-1-4 0-2-1-2 0-2-1-2 0-10-5-2-2-2-1-10-10 0-1-2-2 0-1-2-2 0-1-1-1 0-2-1-1 0-1-2-4 0-2-1-2 0-2-1-2 0-18 1-2 0-6 1-2 0-4 1-2 0-2 2-4 0-2 2-4 0-2 1-1 0-1 5-10 2-2 2-4 2-2 1-2 8-8 2-1 2-2 4-2 1-1 1 0 6-3 2 0 2-1z" fill="#d7ff4b"/><path d="M209 160l1 0 2-1 8 0 2 1 2 0 4 2 1 0 1 1 4 2 1 1 1 0 8 8 1 2 2 2 1 2 2 2 0 1 1 1 1 2 0 1 1 1 1 2 0 2 3 6 0 2 1 2 0 2 1 2 0 6 1 2 0 16-1 2 0 2-1 2 0 2-5 10-2 2-1 2-6 6-1 0-3 3-10 5-2 0-2 1-2 0-2 1-14 0-2-1-2 0-2-1-2 0-8-4-2-2-1 0-10-10-6-12 0-2-1-2 0-4-1-2 0-10 1-2 0-6 1-2 0-4 1-2 0-2 2-4 0-2 7-14 2-2 1-2 2-2 1-2 3-3 2-1 2-2 2-1 2-2 2-1 2 0 4-2z" fill="#b9ff82"/><path d="M207 174l1 0 2-1 2 0 2-1 4 0 2 1 2 0 2 1 1 0 1 1 2 1 1 0 1 1 2 1 2 2 2 1 1 1 1 2 2 2 1 2 2 2 5 10 0 2 1 2 0 2 1 2 0 2 1 2 0 6 1 2 0 6-1 2 0 4-1 2 0 2-3 6-2 2-1 2-8 8-1 0-1 1-6 3-2 0-2 1-2 0-2 1-10 0-2-1-2 0-4-2-2 0-2-2-4-2-7-7-1-2-2-2 0-1-1-1 0-2-2-4 0-2-1-2 0-14 1-2 0-4 1-2 0-2 1-2 0-2 7-14 2-2 1-2 5-5 2-1 2-2 1 0 1-1 2-1z" fill="#7affb1"/><path d="M209 184l1 0 2-1 8 0 2 1 2 0 2 1 2 2 2 1 6 6 1 2 1 1 0 1 1 2 1 1 0 1 3 6 0 2 1 2 0 4 1 2 0 10-1 2 0 2-2 4 0 1-1 1-2 4-6 6-1 0-2 2-1 0-1 1-2 1-2 0-2 1-12 0-2-1-2 0-6-3-2-2-2-1-2-2-1-2-2-2-3-6 0-2-1-2 0-14 1-2 0-2 1-2 0-2 1-2 0-1 1-1 0-2 1-1 0-1 1-2 2-2 1-2 8-8 1 0 1-1 2-1z" fill="#34ffde"/><path d="M210 194l2-1 8 0 6 3 6 6 0 1 1 1 3 6 0 2 1 2 0 4 1 2 0 8-2 4 0 2-2 2 0 1-6 6-6 3-12 0-8-4-4-4-4-8 0-12 1-2 0-2 1-2 0-2 4-8 6-6z" fill="#05f4ff"/><path d="M211 208l1-1 2 0 2-1 2 1 2 0 6 6 0 1 2 4 0 2 1 2 0 4-3 6-4 4-2 1-8 0-4-2-3-3-1-2 0-2-1-2 0-4 1-2 0-2 2-4 0-1 1-1 1-2 2-1z" fill="#19cbff"/>
<use href="#outer"/>
</g>
<path d="M96.7 -15.5V0M96.7 408v15.5M213.6 -15.5V0M213.6 408v15.5M331.2 -15.5V0M331.2 408v15.5M-16 80.7H0M414 80.7h16M-16 231.1H0M414 231.1h16M-16 381.8H0M414 381.8h16" stroke="#000" stroke-width="3.3" fill="none"/>
<rect width="414" height="408" fill="none" stroke="#000" stroke-width="3.9"/>
</g>
<g transform="translate(1534.4 1016.2) scale(0.9957 1.0017)">
<rect width="414" height="408" fill="#9a9a9a"/>
<polygon points="0,177.4 5.2,174.6 12.9,173.9 18.2,180.9 25.2,184.4 30.4,191.4 39.2,194.9 44.4,194.9 46.2,182.6 52.1,179.1 60.2,182.6 64.4,187.2 72.4,198.4 72.4,250.9 79.4,285.9 93.4,303.4 121.4,324.4 156.4,352.3 174.6,381 179.1,397.8 184.4,408.3 0,408.3" fill="#fff"/>
<g clip-path="url(#cpF)">
<rect width="414" height="408" fill="#b4ff8c"/><path d="M208.8 35.8a4 4 0 1 0 8 0a4 4 0 1 0-8 0zM208.8 44.0a4 4 0 1 0 8 0a4 4 0 1 0-8 0zM273.8 81.5l3.2 2.4v2.8l-3.2 -2.4zM276.8 80.7l2.8 2.1v2.5l-2.8 -2.1zM273.6 95.1l2.8 2.1v2.3l-2.8 -2.1zM266.9 86.2l3.4 2.5v2.1l-3.4 -2.5zM267.4 73.9l3.5 2.6v2.1l-3.5 -2.6zM281.3 86.8l3.8 2.8v2.9l-3.8 -2.8zM288.1 87.7l4.3 3.2v3.0l-4.3 -3.2zM266.2 73.3l3.8 2.9v2.4l-3.8 -2.9zM278.7 85.5l3.4 2.6v3.1l-3.4 -2.6zM275.8 78.1l2.8 2.1v3.0l-2.8 -2.1zM277.8 76.6l4.4 3.3v2.2l-4.4 -3.3zM278.0 79.2l4.0 3.0v2.4l-4.0 -3.0zM267.8 79.0l2.9 2.2v2.2l-2.9 -2.2zM279.3 86.9l2.6 2.0v2.4l-2.6 -2.0zM274.6 81.0l2.9 2.2v2.8l-2.9 -2.2zM270.7 71.3l2.5 1.9v2.1l-2.5 -1.9zM274.3 71.2l4.3 3.2v2.8l-4.3 -3.2zM277.4 86.0l3.7 2.8v2.4l-3.7 -2.8zM278.0 75.5l3.6 2.7v2.6l-3.6 -2.7zM277.8 94.5l4.5 3.4v2.2l-4.5 -3.4zM278.0 79.8l2.4 1.8v2.4l-2.4 -1.8zM267.7 81.1l4.0 3.0v2.8l-4.0 -3.0zM272.8 71.8l3.9 2.9v2.6l-3.9 -2.9zM268.9 85.1l3.5 2.6v3.1l-3.5 -2.6zM272.4 82.5l4.5 3.4v2.8l-4.5 -3.4zM275.0 78.5l3.1 2.4v2.7l-3.1 -2.4zM283.9 83.3l3.0 2.3v2.5l-3.0 -2.3zM268.6 83.6l3.4 2.5v2.1l-3.4 -2.5zM261.3 72.6l4.7 3.5v2.9l-4.7 -3.5zM283.4 82.5l4.8 3.6v2.9l-4.8 -3.6zM289.8 72.6l3.3 2.5v2.1l-3.3 -2.5zM273.9 86.1l4.4 3.3v2.1l-4.4 -3.3zM270.5 73.3l3.4 2.6v2.6l-3.4 -2.6zM261.1 82.6l4.7 3.5v3.0l-4.7 -3.5zM283.8 89.1l3.1 2.4v2.7l-3.1 -2.4zM274.3 78.6l4.8 3.6v2.7l-4.8 -3.6zM275.9 73.2l4.0 3.0v3.2l-4.0 -3.0zM275.7 86.6l3.6 2.7v3.1l-3.6 -2.7zM275.2 84.7l4.6 3.4v2.8l-4.6 -3.4zM267.5 81.1l3.4 2.6v2.0l-3.4 -2.6zM275.5 76.5l4.5 3.4v2.5l-4.5 -3.4zM289.1 77.3l4.1 3.1v2.7l-4.1 -3.1zM284.9 83.4l3.8 2.9v2.5l-3.8 -2.9zM273.0 84.4l3.0 2.2v2.2l-3.0 -2.2zM277.8 74.5l3.6 2.7v3.0l-3.6 -2.7zM283.4 82.7l3.3 2.5v3.1l-3.3 -2.5zM277.5 72.9l3.8 2.9v2.9l-3.8 -2.9zM282.5 66.8l3.5 2.6v2.3l-3.5 -2.6zM282.0 77.5l4.7 3.5v2.2l-4.7 -3.5zM269.7 73.3l3.0 2.2v2.2l-3.0 -2.2zM281.4 82.2l3.6 2.7v2.2l-3.6 -2.7zM283.5 75.3l3.8 2.8v2.3l-3.8 -2.8zM271.5 87.8l4.2 3.1v2.2l-4.2 -3.1zM276.8 87.5l4.6 3.5v2.7l-4.6 -3.5zM284.0 67.5l3.4 2.6v3.0l-3.4 -2.6zM275.4 87.1l2.7 2.0v3.0l-2.7 -2.0zM264.9 77.6l4.1 3.1v2.1l-4.1 -3.1zM274.9 71.8l3.9 3.0v2.8l-3.9 -3.0zM272.7 71.8l3.5 2.7v2.4l-3.5 -2.7zM263.4 85.8l3.7 2.7v2.4l-3.7 -2.7zM271.3 81.5l3.2 2.4v2.1l-3.2 -2.4zM269.1 84.8l2.4 1.8v3.2l-2.4 -1.8zM269.6 86.8l4.6 3.4v3.1l-4.6 -3.4zM265.8 86.0l4.7 3.5v2.3l-4.7 -3.5zM268.9 75.8l3.0 2.3v2.4l-3.0 -2.3zM264.0 78.3l3.6 2.7v2.4l-3.6 -2.7zM279.2 72.3l2.6 2.0v2.7l-2.6 -2.0zM277.5 87.2l4.4 3.3v2.2l-4.4 -3.3zM290.2 76.0l2.5 1.9v2.9l-2.5 -1.9zM278.9 69.8l2.7 2.0v2.9l-2.7 -2.0zM272.2 93.4l4.3 3.2v3.2l-4.3 -3.2zM281.7 77.3l3.2 2.4v2.1l-3.2 -2.4zM280.5 75.6l4.7 3.5v2.2l-4.7 -3.5zM274.7 68.5l3.5 2.7v3.2l-3.5 -2.7zM269.5 74.5l3.4 2.6v2.2l-3.4 -2.6zM263.8 73.5l4.6 3.5v2.1l-4.6 -3.5zM276.1 73.0l2.8 2.1v3.2l-2.8 -2.1zM279.5 75.5l4.4 3.3v2.2l-4.4 -3.3zM284.9 90.3l3.7 2.8v2.2l-3.7 -2.8zM273.4 80.9l4.6 3.5v2.2l-4.6 -3.5zM272.2 78.5l3.8 2.8v3.1l-3.8 -2.8zM272.6 79.0l4.6 3.5v3.1l-4.6 -3.5zM275.7 72.4l3.3 2.5v2.9l-3.3 -2.5zM279.0 75.2l3.7 2.8v2.4l-3.7 -2.8zM278.5 85.5l4.3 3.2v2.1l-4.3 -3.2zM265.4 90.8l3.3 2.5v2.3l-3.3 -2.5zM282.3 79.8l3.5 2.6v3.0l-3.5 -2.6zM281.9 93.9l4.7 3.5v3.1l-4.7 -3.5zM246.5 93.8l3.3 2.4v2.3l-3.3 -2.4zM248.0 90.7l2.9 2.2v3.0l-2.9 -2.2zM250.6 92.5l3.5 2.6v3.0l-3.5 -2.6zM244.2 98.5l2.4 1.8v2.8l-2.4 -1.8zM245.9 95.2l2.5 1.9v2.1l-2.5 -1.9zM247.1 91.9l3.8 2.8v3.2l-3.8 -2.8zM243.2 89.9l2.7 2.1v2.7l-2.7 -2.1zM251.1 93.3l4.1 3.0v3.1l-4.1 -3.0zM246.6 87.2l4.5 3.3v2.7l-4.5 -3.3zM246.0 91.6l4.3 3.2v2.8l-4.3 -3.2zM243.5 92.8l3.2 2.4v2.5l-3.2 -2.4zM253.0 93.5l2.7 2.0v2.9l-2.7 -2.0zM252.9 93.7l3.0 2.3v2.1l-3.0 -2.3zM242.7 96.4l2.4 1.8v2.5l-2.4 -1.8zM255.2 96.7l2.9 2.2v2.2l-2.9 -2.2zM244.5 95.6l3.5 2.6v2.8l-3.5 -2.6zM254.5 94.2l3.5 2.6v2.5l-3.5 -2.6zM244.9 92.7l3.7 2.8v2.4l-3.7 -2.8zM250.1 91.8l3.7 2.8v2.4l-3.7 -2.8zM248.1 94.6l3.5 2.6v2.8l-3.5 -2.6zM253.7 91.3l2.7 2.0v2.6l-2.7 -2.0zM244.8 92.2l3.7 2.8v2.6l-3.7 -2.8zM250.9 93.9l2.7 2.0v2.1l-2.7 -2.0zM248.8 94.0l3.4 2.5v2.4l-3.4 -2.5zM253.3 94.2l3.5 2.6v2.6l-3.5 -2.6zM306.2 90.2l5.6 4.2v3.0l-5.6 -4.2zM298.5 103.8l3.5 2.6v2.1l-3.5 -2.6zM294.1 106.2l3.2 2.4v2.6l-3.2 -2.4zM293.2 102.5l3.6 2.7v2.3l-3.6 -2.7zM291.0 101.8l4.2 3.2v2.6l-4.2 -3.2zM295.4 104.2l2.4 1.8v3.0l-2.4 -1.8zM297.2 105.2l2.5 1.9v2.2l-2.5 -1.9zM293.9 102.6l3.9 2.9v2.1l-3.9 -2.9zM293.4 98.9l4.0 3.0v2.6l-4.0 -3.0zM294.3 103.0l2.6 1.9v2.5l-2.6 -1.9zM293.0 110.6l3.1 2.3v2.4l-3.1 -2.3zM295.1 109.6l4.8 3.6v2.2l-4.8 -3.6zM293.6 111.9l3.0 2.3v2.4l-3.0 -2.3zM295.3 103.0l4.3 3.2v2.1l-4.3 -3.2zM292.2 111.3l2.8 2.1v2.0l-2.8 -2.1zM289.7 101.9l3.5 2.6v2.3l-3.5 -2.6zM294.2 103.8l4.5 3.4v2.1l-4.5 -3.4zM296.1 110.6l4.0 3.0v2.6l-4.0 -3.0zM307.0 129.1l3.0 2.2v2.1l-3.0 -2.2zM304.7 120.0l3.4 2.6v2.0l-3.4 -2.6zM306.9 123.6l4.6 3.5v2.9l-4.6 -3.5zM304.2 125.3l3.1 2.4v2.9l-3.1 -2.4zM305.0 120.7l2.7 2.1v3.1l-2.7 -2.1zM300.2 127.4l4.6 3.5v2.1l-4.6 -3.5zM299.3 123.2l4.0 3.0v2.5l-4.0 -3.0zM303.4 121.5l3.8 2.9v2.2l-3.8 -2.9zM298.9 123.0l4.7 3.5v2.5l-4.7 -3.5zM309.0 121.2l3.4 2.5v2.9l-3.4 -2.5zM303.5 126.7l4.8 3.6v2.3l-4.8 -3.6zM305.8 124.6l3.2 2.4v2.3l-3.2 -2.4zM303.7 122.8l3.2 2.4v3.0l-3.2 -2.4zM301.4 124.1l2.7 2.0v3.2l-2.7 -2.0zM302.9 122.8l3.1 2.3v2.8l-3.1 -2.3zM305.1 122.4l4.0 3.0v2.6l-4.0 -3.0zM302.7 115.7l4.2 3.2v2.0l-4.2 -3.2zM320.1 134.8l4.6 3.5v2.3l-4.6 -3.5zM314.7 139.7l2.7 2.0v3.1l-2.7 -2.0zM311.6 140.2l3.7 2.7v2.0l-3.7 -2.7zM315.9 143.2l3.6 2.7v2.2l-3.6 -2.7zM316.2 138.5l2.5 1.9v2.5l-2.5 -1.9zM318.0 136.8l4.3 3.2v2.8l-4.3 -3.2zM315.4 142.7l4.5 3.4v2.2l-4.5 -3.4zM313.1 144.0l3.8 2.8v3.0l-3.8 -2.8zM313.4 138.4l3.8 2.8v2.4l-3.8 -2.8zM313.6 137.9l3.4 2.6v3.2l-3.4 -2.6zM320.0 139.3l4.6 3.5v2.8l-4.6 -3.5zM314.9 139.8l3.4 2.5v2.0l-3.4 -2.5zM321.2 135.3l3.5 2.7v2.1l-3.5 -2.7zM314.7 141.7l3.8 2.8v2.8l-3.8 -2.8zM313.2 141.6l4.5 3.4v2.6l-4.5 -3.4zM321.0 141.4l4.0 3.0v2.8l-4.0 -3.0zM318.2 139.3l3.9 2.9v3.1l-3.9 -2.9zM323.7 149.7l5.6 4.2v3.0l-5.6 -4.2zM363.6 133.6a4 4 0 1 0 8 0a4 4 0 1 0-8 0zM363.6 141.8a4 4 0 1 0 8 0a4 4 0 1 0-8 0zM363.6 149.9a4 4 0 1 0 8 0a4 4 0 1 0-8 0zM371.8 133.6a4 4 0 1 0 8 0a4 4 0 1 0-8 0zM371.8 141.8a4 4 0 1 0 8 0a4 4 0 1 0-8 0zM371.8 149.9a4 4 0 1 0 8 0a4 4 0 1 0-8 0zM339.2 166.2a4 4 0 1 0 8 0a4 4 0 1 0-8 0zM339.2 174.4a4 4 0 1 0 8 0a4 4 0 1 0-8 0zM339.2 182.5a4 4 0 1 0 8 0a4 4 0 1 0-8 0zM347.3 166.2a4 4 0 1 0 8 0a4 4 0 1 0-8 0zM347.3 174.4a4 4 0 1 0 8 0a4 4 0 1 0-8 0zM347.3 182.5a4 4 0 1 0 8 0a4 4 0 1 0-8 0zM355.5 166.2a4 4 0 1 0 8 0a4 4 0 1 0-8 0zM355.5 174.4a4 4 0 1 0 8 0a4 4 0 1 0-8 0zM355.5 182.5a4 4 0 1 0 8 0a4 4 0 1 0-8 0zM355.5 166.2a4 4 0 1 0 8 0a4 4 0 1 0-8 0zM363.6 166.2a4 4 0 1 0 8 0a4 4 0 1 0-8 0zM347.3 215.1a4 4 0 1 0 8 0a4 4 0 1 0-8 0zM347.3 223.3a4 4 0 1 0 8 0a4 4 0 1 0-8 0zM347.3 231.4a4 4 0 1 0 8 0a4 4 0 1 0-8 0zM355.5 215.1a4 4 0 1 0 8 0a4 4 0 1 0-8 0zM355.5 223.3a4 4 0 1 0 8 0a4 4 0 1 0-8 0zM355.5 231.4a4 4 0 1 0 8 0a4 4 0 1 0-8 0zM363.6 215.1a4 4 0 1 0 8 0a4 4 0 1 0-8 0zM363.6 223.3a4 4 0 1 0 8 0a4 4 0 1 0-8 0zM363.6 231.4a4 4 0 1 0 8 0a4 4 0 1 0-8 0zM347.3 215.1a4 4 0 1 0 8 0a4 4 0 1 0-8 0zM355.5 255.9a4 4 0 1 0 8 0a4 4 0 1 0-8 0zM347.3 264.0a4 4 0 1 0 8 0a4 4 0 1 0-8 0zM334.8 253.4l4.2 3.1v3.0l-4.2 -3.1zM238.4 180.4l2.6 2.0v3.2l-2.6 -2.0zM231.9 162.0l4.4 3.3v2.8l-4.4 -3.3zM230.7 161.6l4.1 3.0v2.1l-4.1 -3.0zM240.0 165.0l4.3 3.2v2.9l-4.3 -3.2zM240.2 161.1l3.9 3.0v2.1l-3.9 -3.0zM235.3 168.0l3.3 2.5v2.8l-3.3 -2.5zM240.8 175.6l3.4 2.5v2.5l-3.4 -2.5zM234.9 167.8l3.8 2.9v3.2l-3.8 -2.9zM239.4 171.3l4.2 3.1v3.1l-4.2 -3.1zM233.0 167.3l2.9 2.1v2.4l-2.9 -2.1zM242.5 167.7l2.8 2.1v2.3l-2.8 -2.1zM231.8 161.9l4.5 3.4v2.4l-4.5 -3.4zM243.7 160.2l4.4 3.3v3.1l-4.4 -3.3zM237.6 166.4l3.6 2.7v2.2l-3.6 -2.7zM236.3 169.5l3.4 2.6v3.1l-3.4 -2.6zM231.8 167.3l4.0 3.0v2.6l-4.0 -3.0zM240.0 170.3l4.3 3.2v2.6l-4.3 -3.2zM236.1 166.5l3.2 2.4v2.2l-3.2 -2.4zM237.1 174.4l2.9 2.2v2.9l-2.9 -2.2zM236.1 156.3l2.4 1.8v2.7l-2.4 -1.8zM238.7 166.7l2.5 1.9v2.6l-2.5 -1.9zM236.3 165.0l2.6 2.0v2.3l-2.6 -2.0zM237.3 168.9l4.4 3.3v3.2l-4.4 -3.3zM237.6 161.8l3.9 2.9v3.1l-3.9 -2.9zM244.9 162.4l3.8 2.9v3.1l-3.8 -2.9zM239.4 171.1l3.9 2.9v3.0l-3.9 -2.9zM232.2 157.8l3.8 2.9v2.2l-3.8 -2.9zM239.3 165.3l2.8 2.1v2.1l-2.8 -2.1zM235.0 160.5l3.5 2.6v3.1l-3.5 -2.6zM239.7 166.0l3.1 2.3v2.6l-3.1 -2.3zM236.9 167.6l4.5 3.4v2.6l-4.5 -3.4zM245.9 161.9l3.1 2.3v3.1l-3.1 -2.3zM233.5 159.0l3.9 2.9v3.0l-3.9 -2.9zM244.4 168.9l3.7 2.8v2.6l-3.7 -2.8zM245.3 160.1l4.8 3.6v3.2l-4.8 -3.6zM231.3 179.2l2.9 2.2v3.1l-2.9 -2.2zM240.1 162.0l2.6 1.9v3.0l-2.6 -1.9zM243.3 180.0l4.1 3.1v3.0l-4.1 -3.1zM240.9 174.3l2.5 1.9v3.1l-2.5 -1.9zM233.3 169.4l4.3 3.2v2.1l-4.3 -3.2zM234.9 174.9l3.1 2.3v2.3l-3.1 -2.3zM236.4 176.8l4.0 3.0v2.2l-4.0 -3.0zM233.7 155.9l2.9 2.1v3.1l-2.9 -2.1zM236.8 165.3l3.8 2.8v2.8l-3.8 -2.8zM233.5 164.9l3.0 2.2v3.2l-3.0 -2.2zM242.2 171.9l3.0 2.2v2.1l-3.0 -2.2zM243.8 168.8l4.1 3.1v2.8l-4.1 -3.1zM242.5 171.4l4.3 3.3v2.3l-4.3 -3.3zM252.6 189.7l4.6 3.5v2.9l-4.6 -3.5zM259.8 200.4l3.5 2.6v3.0l-3.5 -2.6zM255.5 198.6l4.7 3.5v2.5l-4.7 -3.5zM258.8 211.6l3.3 2.5v2.7l-3.3 -2.5zM254.0 188.8l4.3 3.2v2.6l-4.3 -3.2zM258.6 221.0l4.8 3.6v2.9l-4.8 -3.6zM259.7 194.9l4.1 3.1v3.2l-4.1 -3.1zM257.2 205.2l2.9 2.1v2.3l-2.9 -2.1zM259.6 221.1l3.5 2.6v3.1l-3.5 -2.6zM255.9 204.6l2.4 1.8v2.5l-2.4 -1.8zM260.1 200.5l4.2 3.2v2.1l-4.2 -3.2zM257.3 199.4l4.0 3.0v3.1l-4.0 -3.0zM260.7 199.9l2.8 2.1v2.6l-2.8 -2.1zM253.6 218.5l3.3 2.5v2.5l-3.3 -2.5zM262.3 215.1l3.9 3.0v2.5l-3.9 -3.0zM256.1 203.6l2.9 2.1v2.9l-2.9 -2.1zM252.8 218.5l3.8 2.9v3.1l-3.8 -2.9zM263.4 211.7l3.7 2.7v2.7l-3.7 -2.7zM261.4 202.5l2.6 1.9v3.0l-2.6 -1.9zM259.6 203.6l2.7 2.0v2.1l-2.7 -2.0zM251.6 196.7l4.2 3.1v3.0l-4.2 -3.1zM260.2 215.0l3.9 2.9v2.6l-3.9 -2.9zM256.4 214.4l3.2 2.4v2.0l-3.2 -2.4zM251.9 215.1l3.3 2.5v2.9l-3.3 -2.5zM257.9 209.6l3.4 2.6v2.9l-3.4 -2.6zM256.0 208.6l3.5 2.6v2.5l-3.5 -2.6zM258.9 202.2l3.8 2.9v2.2l-3.8 -2.9zM254.5 201.4l4.6 3.4v2.0l-4.6 -3.4zM252.5 204.3l3.7 2.8v2.4l-3.7 -2.8zM260.1 212.5l3.3 2.5v3.0l-3.3 -2.5zM256.0 189.3l3.6 2.7v2.2l-3.6 -2.7zM255.9 204.4l3.1 2.3v2.2l-3.1 -2.3zM252.9 209.4l4.2 3.1v2.2l-4.2 -3.1zM256.7 206.0l2.6 1.9v2.8l-2.6 -1.9zM253.8 214.9l4.6 3.4v2.3l-4.6 -3.4zM253.8 215.2l3.7 2.8v2.4l-3.7 -2.8zM254.2 214.3l2.5 1.9v2.5l-2.5 -1.9zM252.3 201.9l3.2 2.4v2.8l-3.2 -2.4zM256.6 209.2l2.4 1.8v2.4l-2.4 -1.8zM260.8 199.1l4.2 3.1v3.0l-4.2 -3.1zM257.6 203.5l4.5 3.4v2.5l-4.5 -3.4zM263.2 200.0l3.1 2.3v2.4l-3.1 -2.3zM251.8 204.5l2.4 1.8v2.5l-2.4 -1.8zM253.3 216.6l4.4 3.3v3.1l-4.4 -3.3zM256.2 195.4l4.2 3.2v2.5l-4.2 -3.2zM255.5 204.1l4.0 3.0v2.6l-4.0 -3.0zM249.9 207.3l3.3 2.4v2.1l-3.3 -2.4zM251.1 223.1l2.6 1.9v2.4l-2.6 -1.9zM259.1 203.2l2.4 1.8v2.7l-2.4 -1.8zM258.4 197.9l2.8 2.1v2.0l-2.8 -2.1zM258.6 200.7l4.2 3.1v2.9l-4.2 -3.1zM256.2 209.8l2.5 1.9v2.0l-2.5 -1.9zM255.7 194.8l4.6 3.5v3.1l-4.6 -3.5zM256.8 192.9l2.5 1.9v2.3l-2.5 -1.9zM253.1 193.7l3.3 2.5v2.7l-3.3 -2.5zM267.2 222.7l2.9 2.1v3.1l-2.9 -2.1zM266.0 222.3l3.8 2.8v2.1l-3.8 -2.8zM262.5 221.4l2.8 2.1v2.2l-2.8 -2.1zM266.7 224.2l3.9 2.9v2.8l-3.9 -2.9zM262.7 219.5l3.2 2.4v2.7l-3.2 -2.4zM265.6 220.5l4.6 3.5v3.2l-4.6 -3.5zM265.4 222.9l4.5 3.4v2.5l-4.5 -3.4zM267.2 223.6l2.6 1.9v2.2l-2.6 -1.9zM219.5 217.1l4.8 3.6v2.5l-4.8 -3.6zM225.0 219.6l4.0 3.0v2.3l-4.0 -3.0zM218.6 224.0l3.9 2.9v3.0l-3.9 -2.9zM223.2 223.1l2.5 1.9v2.7l-2.5 -1.9zM220.6 216.4l4.5 3.4v3.1l-4.5 -3.4zM225.8 218.5l3.6 2.7v2.8l-3.6 -2.7zM222.1 212.0l3.3 2.5v2.5l-3.3 -2.5zM223.2 215.4l3.4 2.6v2.2l-3.4 -2.6zM221.7 219.2l2.4 1.8v2.9l-2.4 -1.8zM222.0 220.7l3.3 2.5v2.2l-3.3 -2.5zM220.5 213.2l4.4 3.3v2.8l-4.4 -3.3zM221.9 217.9l3.9 2.9v2.9l-3.9 -2.9zM220.0 219.5l3.4 2.5v2.0l-3.4 -2.5zM225.3 217.8l3.1 2.3v2.8l-3.1 -2.3zM240.6 234.1l3.7 2.8v3.1l-3.7 -2.8zM247.7 232.1l3.2 2.4v2.7l-3.2 -2.4zM251.7 235.0l2.5 1.9v2.6l-2.5 -1.9zM246.5 232.0l2.9 2.2v2.8l-2.9 -2.2zM241.0 230.3l4.7 3.5v2.1l-4.7 -3.5zM248.5 231.0l4.0 3.0v2.2l-4.0 -3.0zM249.2 234.1l4.5 3.4v2.6l-4.5 -3.4zM244.9 226.6l2.7 2.0v2.8l-2.7 -2.0zM240.5 233.8l3.9 3.0v3.2l-3.9 -3.0zM247.9 227.5l4.0 3.0v2.2l-4.0 -3.0zM244.3 235.7l3.1 2.3v2.1l-3.1 -2.3zM246.4 233.2l3.6 2.7v3.2l-3.6 -2.7zM250.1 232.4l2.5 1.9v2.0l-2.5 -1.9zM246.9 231.1l4.2 3.1v2.9l-4.2 -3.1zM246.4 237.2l3.0 2.2v2.3l-3.0 -2.2zM248.4 234.9l2.6 2.0v2.3l-2.6 -2.0zM246.6 240.4l2.6 2.0v2.2l-2.6 -2.0zM260.1 290.3l3.6 2.7v3.0l-3.6 -2.7zM257.2 290.6l4.0 3.0v2.1l-4.0 -3.0zM260.2 293.0l2.4 1.8v2.1l-2.4 -1.8zM255.3 296.1l2.7 2.0v3.2l-2.7 -2.0zM259.4 290.1l4.6 3.4v2.5l-4.6 -3.4zM262.1 283.9l3.4 2.6v3.1l-3.4 -2.6zM253.8 288.5l3.5 2.6v2.2l-3.5 -2.6zM257.3 299.2l2.5 1.9v2.7l-2.5 -1.9zM257.3 289.3l4.4 3.3v2.9l-4.4 -3.3zM257.6 294.7l3.5 2.6v2.8l-3.5 -2.6zM257.2 293.0l4.7 3.5v3.1l-4.7 -3.5zM256.7 302.3l4.4 3.3v3.1l-4.4 -3.3zM252.4 291.8l2.7 2.0v2.3l-2.7 -2.0zM264.5 298.0l3.5 2.7v2.4l-3.5 -2.7zM264.5 297.4l2.9 2.2v2.8l-2.9 -2.2zM254.8 281.9l4.0 3.0v2.2l-4.0 -3.0zM261.0 295.4l2.8 2.1v2.4l-2.8 -2.1zM252.7 286.6l4.0 3.0v2.6l-4.0 -3.0zM259.1 290.1l3.8 2.9v3.1l-3.8 -2.9zM253.4 297.0l3.2 2.4v2.7l-3.2 -2.4zM259.5 288.5l3.4 2.6v2.3l-3.4 -2.6zM262.1 288.2l3.3 2.5v2.8l-3.3 -2.5zM255.4 291.1l4.7 3.5v2.2l-4.7 -3.5zM264.5 296.3l2.9 2.2v2.4l-2.9 -2.2zM252.4 297.8l2.7 2.1v2.1l-2.7 -2.1zM255.6 299.5l2.4 1.8v2.8l-2.4 -1.8zM252.0 295.9l4.6 3.5v2.9l-4.6 -3.5zM255.3 287.0l3.3 2.5v3.2l-3.3 -2.5zM257.8 295.5l3.2 2.4v3.1l-3.2 -2.4zM259.4 292.4l3.8 2.9v2.1l-3.8 -2.9zM256.1 281.6l3.7 2.8v2.9l-3.7 -2.8zM250.4 294.0l3.4 2.5v2.8l-3.4 -2.5zM262.7 289.5l2.9 2.2v3.1l-2.9 -2.2zM254.4 294.7l3.8 2.9v2.3l-3.8 -2.9zM262.4 294.6l3.0 2.2v3.1l-3.0 -2.2zM255.6 289.2l4.1 3.0v2.1l-4.1 -3.0zM252.4 290.1l4.5 3.4v2.1l-4.5 -3.4zM168.4 285.4l3.1 2.3v2.8l-3.1 -2.3zM175.4 296.4l2.7 2.0v2.9l-2.7 -2.0zM172.0 292.5l4.1 3.1v2.2l-4.1 -3.1zM180.2 297.2l2.6 2.0v2.6l-2.6 -2.0zM174.4 301.5l3.9 3.0v2.3l-3.9 -3.0zM185.1 299.1l2.5 1.9v3.0l-2.5 -1.9zM176.2 295.9l4.1 3.1v3.1l-4.1 -3.1zM186.8 289.9l4.3 3.3v2.5l-4.3 -3.3zM180.4 293.4l4.2 3.1v2.3l-4.2 -3.1zM179.9 285.2l4.5 3.4v2.1l-4.5 -3.4zM171.1 289.5l4.7 3.5v2.7l-4.7 -3.5zM167.3 290.9l3.1 2.3v2.8l-3.1 -2.3zM176.1 297.0l2.9 2.2v2.2l-2.9 -2.2zM184.4 297.3l3.9 2.9v3.0l-3.9 -2.9zM180.8 294.1l3.1 2.3v2.9l-3.1 -2.3zM163.9 294.1l3.3 2.5v2.5l-3.3 -2.5zM186.6 298.5l3.1 2.3v2.4l-3.1 -2.3zM183.7 292.1l3.8 2.9v2.6l-3.8 -2.9zM185.2 295.0l4.7 3.5v2.4l-4.7 -3.5zM183.6 286.7l3.4 2.6v2.5l-3.4 -2.6zM176.0 294.9l4.1 3.1v2.5l-4.1 -3.1zM190.4 298.0l3.3 2.5v2.3l-3.3 -2.5zM177.5 296.6l4.6 3.4v2.7l-4.6 -3.4zM189.3 290.8l2.9 2.2v2.3l-2.9 -2.2zM176.7 298.5l3.2 2.4v2.6l-3.2 -2.4zM165.1 295.9l4.4 3.3v2.0l-4.4 -3.3zM172.8 302.7l3.9 2.9v2.6l-3.9 -2.9zM179.6 301.3l2.9 2.2v2.8l-2.9 -2.2zM164.7 299.1l3.1 2.3v2.8l-3.1 -2.3zM169.1 296.0l3.3 2.5v3.1l-3.3 -2.5zM176.9 295.9l3.7 2.8v2.7l-3.7 -2.8zM173.4 297.3l2.7 2.0v2.0l-2.7 -2.0zM185.5 293.2l2.4 1.8v2.9l-2.4 -1.8zM182.1 306.5l3.3 2.5v2.4l-3.3 -2.5zM179.1 294.3l2.5 1.9v2.2l-2.5 -1.9zM179.5 290.1l3.6 2.7v2.7l-3.6 -2.7zM187.8 285.0l4.3 3.2v2.7l-4.3 -3.2zM181.9 290.9l2.5 1.9v2.0l-2.5 -1.9zM169.6 292.4l4.0 3.0v2.7l-4.0 -3.0zM168.0 306.4l3.0 2.3v2.9l-3.0 -2.3zM191.2 298.3l4.6 3.4v3.1l-4.6 -3.4zM177.7 298.2l3.7 2.8v2.1l-3.7 -2.8zM176.1 293.2l2.8 2.1v2.0l-2.8 -2.1zM191.8 289.0l3.4 2.6v2.2l-3.4 -2.6zM190.5 298.4l3.0 2.3v3.0l-3.0 -2.3zM172.3 294.6l4.6 3.4v2.3l-4.6 -3.4zM166.6 298.8l3.7 2.8v2.3l-3.7 -2.8zM187.2 285.2l3.5 2.6v2.8l-3.5 -2.6zM177.0 292.9l2.5 1.9v3.1l-2.5 -1.9zM165.2 300.0l3.6 2.7v2.6l-3.6 -2.7zM171.1 287.4l4.6 3.4v2.1l-4.6 -3.4zM173.2 297.0l3.8 2.9v2.1l-3.8 -2.9zM185.9 299.7l3.0 2.3v3.2l-3.0 -2.3zM184.1 301.4l3.2 2.4v2.5l-3.2 -2.4zM167.0 292.3l4.0 3.0v2.2l-4.0 -3.0zM176.4 297.9l3.9 2.9v2.8l-3.9 -2.9zM164.2 295.3l2.6 2.0v2.1l-2.6 -2.0zM182.0 295.0l4.8 3.6v2.2l-4.8 -3.6zM179.3 294.9l2.6 1.9v2.9l-2.6 -1.9zM187.1 298.7l3.0 2.2v2.3l-3.0 -2.2zM185.6 295.4l2.7 2.0v2.0l-2.7 -2.0zM182.7 296.2l3.9 2.9v2.1l-3.9 -2.9zM177.1 295.6l3.1 2.3v2.6l-3.1 -2.3zM169.1 302.2l3.4 2.5v2.7l-3.4 -2.5zM167.2 288.0l4.4 3.3v3.1l-4.4 -3.3zM176.1 296.7l2.7 2.1v2.4l-2.7 -2.1zM170.7 305.9l4.0 3.0v2.6l-4.0 -3.0zM170.1 307.2l3.5 2.6v2.7l-3.5 -2.6zM170.1 307.4l4.6 3.5v2.9l-4.6 -3.5zM168.9 306.2l3.3 2.5v2.7l-3.3 -2.5zM170.2 309.4l2.6 1.9v2.8l-2.6 -1.9zM169.9 305.6l4.6 3.4v2.2l-4.6 -3.4zM155.7 307.1l5.6 4.2v3.0l-5.6 -4.2zM209.3 269.5l3.4 2.5v3.0l-3.4 -2.5zM223.6 276.7l2.8 2.1v3.0l-2.8 -2.1zM242.8 266.2l2.8 2.1v3.0l-2.8 -2.1zM195.3 281.7l3.4 2.5v3.0l-3.4 -2.5zM170.8 278.3l3.4 2.5v2.8l-3.4 -2.5zM150.9 264.3l3.4 2.5v2.8l-3.4 -2.5zM60.3 246.0l3.9 3.0v2.3l-3.9 -3.0zM62.6 241.2l4.5 3.4v2.2l-4.5 -3.4zM60.2 245.0l3.1 2.3v2.1l-3.1 -2.3zM57.2 246.0l3.0 2.2v3.0l-3.0 -2.2zM57.7 246.3l2.9 2.2v2.5l-2.9 -2.2zM58.4 241.8l3.5 2.6v2.8l-3.5 -2.6zM57.8 241.0l2.5 1.8v2.3l-2.5 -1.8zM56.1 243.3l3.5 2.6v2.5l-3.5 -2.6zM57.1 245.5l3.3 2.5v2.8l-3.3 -2.5zM63.0 235.4l5.6 4.2v3.0l-5.6 -4.2zM53.9 264.0a4 4 0 1 0 8 0a4 4 0 1 0-8 0zM63.0 252.9l5.6 4.2v3.0l-5.6 -4.2zM62.1 272.2a4 4 0 1 0 8 0a4 4 0 1 0-8 0zM62.1 280.3a4 4 0 1 0 8 0a4 4 0 1 0-8 0zM70.2 288.5a4 4 0 1 0 8 0a4 4 0 1 0-8 0zM70.2 296.6a4 4 0 1 0 8 0a4 4 0 1 0-8 0zM83.6 308.2l4.8 3.6v2.4l-4.8 -3.6zM90.7 305.7l2.4 1.8v2.6l-2.4 -1.8zM87.6 302.7l3.9 2.9v2.9l-3.9 -2.9zM90.8 303.8l3.3 2.5v2.8l-3.3 -2.5zM93.4 302.3l2.9 2.2v2.1l-2.9 -2.2zM90.0 303.1l3.0 2.2v2.8l-3.0 -2.2zM86.6 306.9l3.2 2.4v2.6l-3.2 -2.4zM90.7 306.9l4.1 3.1v2.8l-4.1 -3.1zM92.4 302.1l4.6 3.5v2.3l-4.6 -3.5zM84.5 302.6l4.2 3.2v2.7l-4.2 -3.2zM85.1 301.3l3.7 2.8v2.3l-3.7 -2.8zM83.8 308.8l3.2 2.4v3.2l-3.2 -2.4zM90.9 301.7l4.6 3.5v2.6l-4.6 -3.5zM90.8 302.6l4.7 3.5v2.7l-4.7 -3.5zM92.6 299.1l3.5 2.6v3.0l-3.5 -2.6zM86.2 303.8l4.8 3.6v3.1l-4.8 -3.6zM87.3 297.6l3.9 2.9v2.5l-3.9 -2.9zM89.3 304.3l2.9 2.2v3.2l-2.9 -2.2zM87.6 297.3l4.3 3.3v3.0l-4.3 -3.3zM98.6 310.5l4.6 3.5v2.3l-4.6 -3.5zM100.5 315.7l3.3 2.5v2.7l-3.3 -2.5zM94.1 317.4l4.2 3.2v2.2l-4.2 -3.2zM96.7 316.1l4.7 3.5v2.6l-4.7 -3.5zM95.9 315.7l2.9 2.2v2.1l-2.9 -2.2zM96.4 315.3l2.4 1.8v3.0l-2.4 -1.8zM97.8 314.8l3.2 2.4v3.0l-3.2 -2.4zM98.4 317.0l3.3 2.4v2.3l-3.3 -2.4zM97.9 316.2l3.6 2.7v2.1l-3.6 -2.7zM72.8 227.5l3.4 2.5v3.0l-3.4 -2.5zM106.4 236.4l2.8 2.1v3.0l-2.8 -2.1zM95.6 240.9l3.4 2.5v2.8l-3.4 -2.5zM88.6 205.9l3.4 2.5v2.8l-3.4 -2.5zM347.3 312.9a4 4 0 1 0 8 0a4 4 0 1 0-8 0zM347.3 321.1a4 4 0 1 0 8 0a4 4 0 1 0-8 0zM347.3 329.2a4 4 0 1 0 8 0a4 4 0 1 0-8 0zM347.3 337.4a4 4 0 1 0 8 0a4 4 0 1 0-8 0zM347.3 345.5a4 4 0 1 0 8 0a4 4 0 1 0-8 0zM347.3 353.7a4 4 0 1 0 8 0a4 4 0 1 0-8 0zM339.2 361.8a4 4 0 1 0 8 0a4 4 0 1 0-8 0zM339.2 370.0a4 4 0 1 0 8 0a4 4 0 1 0-8 0zM339.2 378.1a4 4 0 1 0 8 0a4 4 0 1 0-8 0zM322.9 370.0a4 4 0 1 0 8 0a4 4 0 1 0-8 0zM322.9 386.3a4 4 0 1 0 8 0a4 4 0 1 0-8 0zM331.0 386.3a4 4 0 1 0 8 0a4 4 0 1 0-8 0zM306.6 386.3a4 4 0 1 0 8 0a4 4 0 1 0-8 0zM298.4 394.4a4 4 0 1 0 8 0a4 4 0 1 0-8 0zM331.0 321.1a4 4 0 1 0 8 0a4 4 0 1 0-8 0zM339.2 345.5a4 4 0 1 0 8 0a4 4 0 1 0-8 0zM159.9 370.0a4 4 0 1 0 8 0a4 4 0 1 0-8 0zM193.1 368.4l2.8 2.1v2.8l-2.8 -2.1zM144.6 169.1l3.4 2.5v2.8l-3.4 -2.5zM171.1 189.3l2.8 2.1v2.8l-2.8 -2.1zM216.6 198.0l2.8 2.1v2.8l-2.8 -2.1zM195.0 209.2l3.9 2.9v2.8l-3.9 -2.9zM286.9 231.9l5.6 4.2v3.0l-5.6 -4.2zM286.0 248.3l3.9 2.9v3.0l-3.9 -2.9zM255.1 246.9l2.8 2.1v3.0l-2.8 -2.1zM332.5 252.0l3.4 2.5v3.0l-3.4 -2.5zM339.0 189.3l2.8 2.1v2.8l-2.8 -2.1zM289.0 278.5l2.8 2.1v2.8l-2.8 -2.1zM234.1 336.2l2.8 2.1v2.8l-2.8 -2.1zM262.1 320.5l2.8 2.1v2.8l-2.8 -2.1zM221.1 326.5l2.8 2.1v2.8l-2.8 -2.1zM236.0 326.6l2.4 1.8v2.8l-2.4 -1.8zM298.8 339.0l2.8 2.1v2.8l-2.8 -2.1zM244.6 131.5l2.8 2.1v3.0l-2.8 -2.1zM268.8 115.5l3.4 2.5v3.0l-3.4 -2.5zM245.3 74.3l3.4 2.5v2.8l-3.4 -2.5zM260.3 82.6l2.8 2.1v2.8l-2.8 -2.1z" fill="#ffa812"/><path d="M233.0 173.3l5.0 3.8v3.0l-5.0 -3.8zM261.8 136.5l3.4 2.5v3.0l-3.4 -2.5zM294.8 160.1l3.9 2.9v3.0l-3.9 -2.9zM313.2 156.9l3.4 2.5v2.8l-3.4 -2.5zM284.5 257.9l3.4 2.5v3.0l-3.4 -2.5zM265.5 289.3l2.9 2.1v3.0l-2.9 -2.1zM258.3 299.2l3.6 2.7v3.2l-3.6 -2.7zM258.5 295.3l2.4 1.8v2.0l-2.4 -1.8zM261.1 298.9l3.6 2.7v2.3l-3.6 -2.7zM256.9 288.0l2.5 1.9v2.3l-2.5 -1.9zM261.4 293.7l3.6 2.7v3.1l-3.6 -2.7zM257.3 302.9l3.3 2.5v2.7l-3.3 -2.5zM258.7 294.0l4.6 3.5v2.9l-4.6 -3.5zM259.1 298.4l3.5 2.6v2.3l-3.5 -2.6zM261.8 294.1l2.6 2.0v2.5l-2.6 -2.0zM261.8 293.4l3.1 2.3v2.9l-3.1 -2.3zM262.9 300.6l3.6 2.7v2.1l-3.6 -2.7zM257.7 293.4l4.8 3.6v2.4l-4.8 -3.6zM254.7 292.1l3.6 2.7v2.6l-3.6 -2.7zM260.6 295.5l3.4 2.6v2.8l-3.4 -2.6zM255.1 298.6l3.7 2.7v2.9l-3.7 -2.7zM260.4 296.9l4.6 3.4v2.9l-4.6 -3.4zM261.8 293.2l2.4 1.8v2.4l-2.4 -1.8zM255.8 303.9l3.2 2.4v2.1l-3.2 -2.4zM257.3 304.9l3.0 2.3v2.2l-3.0 -2.3zM256.8 297.9l4.7 3.5v3.1l-4.7 -3.5zM106.9 323.5l3.9 2.9v3.0l-3.9 -2.9zM140.4 348.2l3.4 2.5v3.0l-3.4 -2.5z" fill="#ff1500"/>
<use href="#outer"/>
</g>
<path d="M96.7 -15.5V0M96.7 408v15.5M213.6 -15.5V0M213.6 408v15.5M331.2 -15.5V0M331.2 408v15.5M-16 80.7H0M414 80.7h16M-16 231.1H0M414 231.1h16M-16 381.8H0M414 381.8h16" stroke="#000" stroke-width="3.3" fill="none"/>
<rect width="414" height="408" fill="none" stroke="#000" stroke-width="3.9"/>
</g>
<g transform="translate(247.2 1642.7) scale(0.9957 0.9949)">
<rect width="414" height="408" fill="#9a9a9a"/>
<polygon points="0,177.4 5.2,174.6 12.9,173.9 18.2,180.9 25.2,184.4 30.4,191.4 39.2,194.9 44.4,194.9 46.2,182.6 52.1,179.1 60.2,182.6 64.4,187.2 72.4,198.4 72.4,250.9 79.4,285.9 93.4,303.4 121.4,324.4 156.4,352.3 174.6,381 179.1,397.8 184.4,408.3 0,408.3" fill="#fff"/>
<g clip-path="url(#cpF)">
<rect width="414" height="408" fill="#ff0000"/><path d="M-6 -6l112 0 4 2 0-2 175 0 1 2 0 2 2 2 0 1 2 1 2-2 0-4-1-2 129 0 0 116-1 0-2 2 1 2 2 0 0 201-1 1 1 2 0 96-220 0 0-1-3-3-5 0-2-1-2 1-1 2 1 1 2 0 2 1-96 0-2-2-2-1-2 0-2 1-1 0-2 2-91 0zM0 1l-1 1-1 2 0 3 1 1 2 0 3-3 0-3-2-1zM6 46l-1 0 0 2 1 2 2 2 2 1 2 0 0-1-1-2-3-3zM26 96l-2 2 0 2-2 4 0 2 2 1 8 0 1-1 1-2 0-6-1-2-1-1-2 1zM32 65l-1 1 0 2 1 2 2 1 2 0 1-1 0-2-3-3zM42 72l-2 0 1 2 2 2 1 0 2 1 2 2 4 2 2-2 0-2-2-2-6-3zM56 2l0 2 2 1 2 0 0-1 1-2-1-1-2-1zM78 68l0 8 2 2 1 2 2 2 1 2 2 2 4 0 1-2-1-2 0-2 2-1 1 1 1 0 2 2 2 1 2 0 1-1 0-2-1-2-2-2-2-1-6 0-8-8-2 0zM86 50l-2 2 1 2 0 2 2 2 2 4 1 1 2 1 4 0 2-1 4 0 3 3 1 2 2 2 4-4 0-2 1-2-1-2-2-2-2 0-1 2-1 1-2 1-2-1-1-1-1-2 0-2-2-4-2 0-2 2 0 1-2 1zM110 9l0 1 1 2 3 0 0-1-2-2zM122 137l-1 1-1 2 1 2 0 6 1 2 2 1 2-1 1-2 0-2 2-2 0-4-3-3zM134 347l-2 1 2 2 2 0 0-1zM140 -6l-1 2 0 2 1 2 1-2 0-2zM150 321l-1 1 0 6 2 2 1 2 0 12-2 4-2 0-2 1 0 3 1 2 0 2-1 1-2 1-2 0-2 1 0 1-1 2 0 4 1 2 0 1 2 2 12 0 3 3 5 10 2 2 2 0 4-2 2-2 0-3 2 0 2 1 4 0 4 4 1 2 3 3 2 0 2-2 0-5 2-4 2-1 4-4 2 1 1 0 0 2-1 2 2 4 2 0 4-2 2 1 2 0 4 2 2 2 2 0 4-2 4 2 2 2 2 1 2-2 1-2 0-2-1-2 0-6 1-2 0-2-1-2-4 0-2 1-4-2-5-5 0-2 2-2 1-2 0-2-4-2-2-2-2 1-1 1-3 0-2-2-1-2-3-3-6-3-2 0-2 1-2-2 0-1-1-2-1-1 0-1-4-2-2 1-4 4-4 0-2 2-2 1-2-1 0-1-2-4 2-4 0-2-1-2-1-1-2-1-2 1-1 1-3 0-4-4-1-2-1-1-2-1-2 0zM160 124l-1 0 0 2 1 2 2-2 1 0-2-2zM170 104l-2 0-2 1 0 1-1 2 1 2 4 0 2-1 0-5zM252 48l2 2 2 0 0-2-2-2zM280 -1l-1 1 0 2 2 2 1 0 4 2 2-1 1-1-1-1-2 0-2-2zM298 2l1 2 3 0-1-2-1-1zM302 -5l0 2zM328 27l-2 1 1 2 1 1 2 1 3 0-1-2 0-1-2-2zM340 368l-1 2 1 1 2 0 0-2zM342 56l-1 2 0 2 1 1 4 0 1-1 1-2-2-2-2-1zM346 22l0 2 2 2 2-2-2-2zM352 73l-2 2 0 1-1 2 1 2 0 6 2 2 2-1 2-2 2-1 2-2 1-2-1-2-2-2-2-1-2-2zM380 43l-1 1 0 2-1 2-4 0-4-2-1 0-1-1-2 0 0 1 2 1 1 1 0 6 1 1 2 0 2 1 4 0 2-1 2 0 6 3 2 0 2 1 1-1 0-2-1-2 0-1-1-1-1-2-4-4 0-1-2-2zM406 126l-1 0 1 2 1 0zM10 258l-1 0 5 10 2 2 2-1 1-1 0-2-1-2-6-6zM32 349l0 4 2-1-1-2zM34 270l0 3 2 2 2 0 1-1-1-2zM42 101l0 1 2 1 1-1-1-2zM56 59l-1 1 1 2 0 8 2 4 2 1 1 1 1 0 2 2 2 1 2 0 1-1 0-4-1-2 0-4-8-8-1 0-1-1zM58 11l0 7 2 2 6 0-2-4-2-2 0-1zM90 140l-1 0 0 2-1 2 1 2 0 2 1 1 0 1 2 2 2 1 1-1 1 0 1-2 1-1 2-1 2-2-1-2-1-1-2 1-4 0zM106 318l1 2 2 2 0 2-2 2-3 0-2 1 0 7 2 1 2 0 2-2 2 0 2 1 1 0 0-2-1-2 0-6 1-2 0-2-1-1-4-2zM122 180l-1 2 1 2 2 1 2-2 0-2-1-1zM150 403l-1 1 1 2 2 1 1 1 3 0 0-2-2-2-2-1zM178 394l-1 0-1 1-8 0-2 1 1 2 1 1 0 1 3 6 1 1 2 1 4 0 2-1 2-2 0-1 2-4-2-4 0-1-1-1zM202 387l0 3 2 1 1-1 1-2-2-2zM224 395l-1 1 0 2 1 2 2 1 2 0 1 1 3 0 0-2-1-2-1 0-2-1-2-2zM298 401l-1 1-1 2 1 2 1 1 2 1 4-2 1-2-1 0-2-2-2-1zM332 110l-1 0-1 1 0 1 4 2 2 0 0-2-2-1-1-1zM360 109l-1 1 0 2 1 2 2 0 0-3zM378 65l-2 2 0 4 2 2 2-1 2-2-2-4-1 0zM32 392l-2 2-1 2 0 2 2 4 1 1 2 1 9 0-1-1 0-1-4-4-1-2-1-1 0-1-2-2zM44 308l-1 2 0 2 6 6 2 4 1 1 1-1 1-2 0-2 1-2 0-2-1-1zM94 364l0 4 1 2-2 4 0 2-2 2-1 0-2 1-2 0-1 1-1 2 1 2 1 1 4 0 1 1 0 2-1 2 0 2 2 1 1 1 1 0 2 1 2 0 2 1 1 0 1 1 2 0 1-1 0-4-1-2 0-1-1-1 1-2 0-2 1-2 0-4-1-2 0-1-2-2-2-1-1-2 0-2 1-2-1-2-1-1-2-1zM124 202l-1 0-4 4-1 2 0 3 2 2 2 1 2 0 1-2 0-6 1-2zM360 377l-1 1-1 2 1 2 2 2 1 2 2 2 2 1 2-1 0-4-2-4-2-2-2-1zM378 400l0 3 1 1 1 0 0-2zM380 376l-1 2 1 0zM94 402l-1 2 1 2 2 1 2 2 2 0 2-1 2-2 0-2-2-1-2 0-2-1z" fill="#ff4600"/><path d="M-6 -6l10 0-4 2-2 0zM8 -6l13 0-1 1 0 1 2 1 2 0 2-1 1 2 1 1 0 1 1 2 1 1 2 1 2 0 2-2 2-1 2-2 4-2 2 1 2 2 2 4 0 2-1 2-2 2-2 4-1 1-4 0-2-1-1 0-1-1-2-1-1 2 1 1 0 1 2 2 0 1 1 1 0 2 1 2-2 1-4 0-2 1-4 0-2 1-1 1 0 2 2 2 1 2 4 2 1 0 2 2 0 2-1 2-2 1-2 0-2 1-2 0-2 2-1 0 0 2-1 2-2 1-2-1-2-2-1-2 1-1 2-1 1 0 0-2-1 0-4-4-1-2 1-1 4 0 1-1 0-4-1-1-2 0-2-1-10 0-2-1-1-1-1 0-2-1-2 0 0-7 1-2 1-1 2-1 4 0 4-2 2 0 6 3 2 0 1-1 0-2-2-2-1 0-4-2-3-6 0-2-1-2 0-2zM24 -6l6 0-2 2-2 0zM49 -6l6 0-1 1-2 1-2-1zM74 -6l7 0 1 2 0 6-1 2-1 1-2 0-1-1-1-2 0-2-1-2 0-2zM115 -6l19 0 1 2 0 6 1 2 2 2-2 2-1 0-1 1 0 1-1 2-3 3-2 0-1-1-1 0-2-2-4-2-4-4-2-1-3-3 4-4 1-2zM124 -5l0 1 1 2 1 1 1-1-1-2 0-1zM145 -6l5 0-1 2 1 1 0 1 2 2 2 1 6 0 2 1 2 0 1-2-3-6 32 0 1 2 1 1 4 0 1-1 0-2 24 0 0 2 1 2 4 2 6 0 2 1 1 1 1 0 2 1 2-1 1 0 1-2 4-2 0-4 7 0 1 1 2 1 1 0 5 5 2 1 4 0 2 1 2 2 6 3 2 2 1 0 3 3 2 1 2-1 4-4 4 2 1 1 1 2 2 2 1 0 2 2 1 0 2 2 1 0 1 1 2 1 2 2 2 4 0 2 4 4 4 2 1 2 0 2-1 2-2-1-4-4 0-1-2-2-1-2-1 0-2-2-2-1 0-1-2-2-2-1-2 0-2 1 0 2 1 2-1 2-4 2-4-2-2-4-2-2-4-2-4 0-2 2 1 2 0 2 1 2-2 1-4 0-1 1-1 2 0 2-4 4 2 4 2 2 0 1 5 5 1 2-1 2-1 1-2 1 0 2 1 2 1 1 2 1 2 0 1-2 0-6 1-1 6 0 2-1 2 1 1 1 3 6 0 1 2 1 4-2 0-4-1-2-3-3 0-4 2-1 1-2 2-2 2 0 2 2 0 2-2 2-1 2 6 6 0 4 2 4 2 2 1 2 0 4 1 1 0 1 1 2 2 2 1 2 2 1 1 1 0 6 2 4 2 2 2 4-1 0-2 2-4 2-2 2 0 7-2-1-2 0-2-1-1-1-1 0-4-4 0-1-1-1-1-2-2-2-2-1-4 0-1 1-1 0-2 2 1 2 2 2 2 4 6 6 1 2 2 2 1 0 1 1 2 1 4 0 2-2 1 0 1-2 0-2 2-2 2 1 4 0 2 1 2 2 1 2-1 2 1 2 7 0 4-2 0-6-1-2 0-2 1 0 2-1 2 1 1 2 1 1 4 2 2 0 4 2 2 2 2 1 1 0 1 1 2 1 0 2-2 4 1 2 7 7 2 0 2-1 2 0 2-2 0-2-1-2-2-2-1-2 0-2 6-3 7 7 1 2 2 1 2 0 2-2 2 0 4 2 1 1 0 4 1 2 3 0 1-1 2 0 2-1 2 1 0 43-2 2-2-2-1-2-2-2-1-2-2-1-2-2 0-3 2 0 2 1 2 2 4 0 1-1 0-2-1-1 0-1-2-2-2-1-3-3-3-6-2-2-2 0-1 2 0 10-2 4-3 3-4 2 0 3 1 2 5 5 4 2 2-2 2 0 2 1 1 0 2 4 2 2 1 0 4 4 0 15-2 1-1 2 1 1 0 1 2 1 0 25-2 1-1 1 0 2 1 2 0 1 2 2 0 52-2-2-2-1-1 0-1-1-2-1-2 0-2 1-1 1 0 2-1 2-2 2-3 6 0 2 1 2 4 2 2 0 2 4 0 2 2 4 0 1 1 1 0 2 1 2 0 1 2 2 4 2 0 24-2 0 0 3 1 2 1 1 0 21-4 0-4-4 0-4 1-2 0-4 1-1 2-1 0-1 1-1-2-2-1 0-2-1-6 0-2-1-2 0-2 1-4 0-1-1-1 0-2-2-1 0-1-1-2 0-2-1-1 0-1-1-4 0-2-1-2-2-4-2-2 1 0 1-2 4-2 1-1 1-1 0-2 1-2 0-1 1-2 4-3 3-6 3-1 0-1 2 0 6-1 2 2 4 1 1 0 1 4 2 2 0 0-8-1-2 1-2 2-1 2 1 2 2 3 6 2 2 5 0 2 4-2 1-1 1-1 0-1 2 0 2 2 4 1 1 2 1 5 0 1-1 2 2 0 1-29 0 1-2 0-4-2-1-2-2-2-1 0-1-2-2-2-1-4 2 0 6 2 2 2 1 2 2 2 1-24 0-2-1-2 0-4-2-1-1 0-4 1-2 2-2 0-2-2-1-2-2-4-2-2 0 0 1-2 2-6 0-4 2-1 2 0 4 1 1 0 1 4 4 0 2-8 0-1-2 0-4-1-2-2-2-4-2-1 2 0 4 1 2 0 1 1 1 0 2-54 0 0-2-1-2 0-1-1-1 1 0 2-1 10 0 1-1 1-2 2-2 0-4-1-2 2-4 1-1 2 0 4 4 2 0 6-3-1-2-1-1 0-1-1-2 0-2 2-2 0-2-1-1-2-1-4 0-2-4 1-2 1-1 2-1 4 0 2 1 2-1 6 0 1-2 0-2-1-2-2-2-1-2 2-2 1-2 0-2-1-2-1-1-2-1-2 0-2 2-1 2 0 2 1 1 0 2-2 0-2-1-4 0-2 1-2 2-2 1-3 0-1-1-2-1-2-4 0-1-2-2-2-1-2 0-2-1-1-1-1-2 0-1-1-1-2-4 0-8-7-7 0-1-1-2-1-1-2-1-6 3-1 1-2 4-1 0-6 3-2 0-2-1-2 0-2-1-4 0-2 1-2 0-2 1-3-3 0-2-1-2 0-2-2-2-2 0-4-2-1 0-3-3-4 0-2-1-2 0-2-1-2-2-2 0-1 1 0 2-2 2-1 2-1 0 0 4-1 2-2 1-2-1-2 1-1 1 0 2 3 6 0 1 1 1 1 2 1 0 0 2-1 0-1 2-1 1-2 0-4-2-1-1-1 0-2-1-4 0-2 1-3 0 0-2-1-2 0-6 2-1 4 0 2-1 2 0 2-2 1 0-2-4-1 0-2-1-6 0-2-2 0-1-1-2 0-2-1-2 0-1-4 2-4 0-1-1-1 0-2-1-2 0-2 1-1 2 0 2 1 2-2 1-2 0-2 1 0 4 1 2 0 6-2 4 0 2 5 5 0 1 1 2 0 6 3 3 6 3 1 0 2 2 1 2-1 2-2 2-1 0-2 1-1-1-1 0-2-2-2-4 0-2-1-2-3-3-2 0-4 2-2-1-9 0 0 2-1 2-2 2-2-1 0-1-2-2-2-4-2-2-6 0-2 1-2 0-1-1-1 0-2-2-2 0 0 4 2 2 4 2 2-1 1 1 1 0 2 2 1 2 0 2-4 4 1 2 0 1 2 2 2 1 2 2-2 4 0 6-2 2-1 2 1 2 0 2 2 2 2 1 4 0 4 2 1 1-1 1 0 1-2 2 0 2-1 2 0 2 1 1 0 1 2 1 1 1-17 0 1-2-2 0-1 1-2 1-4-2-2-2-2-4 0-6 2-2 1-2 0-2-2-2-5-10 0-1-3-3-4 0 1 2 0 5-1 1-3 0-2-2-1-2 0-2 1-2 2-2-4-4-4-2 0-2 1-2 3-3 0-1 2-1 1-1 1 0 2-2 1-2 0-4-1-1 0-1-2-2-1-2-3-3-2 1-2 2-1 2-1 1-2-1-2-2-1-2 0-2 1-2 0-2 1-2 0-2-1-1 0-1-2-1-2-2-4-2-2 0-2 1-1 2 0 2 1 2 0 2 2 4-1 2-2 2-1 2-2 0-2-1-1-1-1-2-1 0-5-10-2-2 0-10 1-2 1-1 6 0 6 3 16 0 2-1 1-1 1-2-1-2-1-1-2 0-2 2-2-1-8-8-2-1-2 1-1 0-1 1-2 0-2-2-4-2-2 0-2 1 0-40 2 2 1 2 4 4 0 2-1 2 0 2-1 2 0 2 1 1 0 1 4 2 2 0 1-2 1 0 2-1 2 1 1 2 1 1 0 1 1 2 2 2 0 2 1 2 0 4 1 2 5 5 2 0 2-1 2 1 1 1 1 0 1 2 1 1 0 1 3 6 3 3 2-2 2 0 2 2 0 5-2 1-3-3-1-2-2 1-1 1-1 2 0 1 5 5 1 2 0 2 1 2 7 7 2-1 0-4 1-2-3-6 0-1 4-4 2-1 2-4 0-1 2-1 2 1 3 3 1 2 2 1 2 0 0-2-1-1 0-2 1-1 2 0 1-1 0-4-1-1 0-1-4-4 0-4 1-2 0-2-1-2-6-3-1-1-3-6 0-1-1-1 0-2 2-4 1 0 2-1 2 0 1 1 1 0 2 2 1 2 4 4 1 2 0 1 1 1-1 1 0 1-1 2 0 2 3 6 0 2 1 2 1 1 2 0 2 1 2 0 2 2 1 2 3 3 2 1 2 0 2-4-2-4-6-6 0-2-1-2 0-2-1-2-2-1-1-1-1 0-2-1-1-1-1-2 2-2 2-1 1-1 1-2 0-2-2-2-2-1-2 0-2-1 0-12-2-4-2-2-2 1 0 1-2 1-3 3-1 2-2 1-2 0-2 1-1 2-3 3-2 1-2 0-2-2 0-2-1-2 0-4 1-1 2-1 0-2-1-2-2-2-4-8-1-1 0-1-4-2-2 0 0 4 1 0-3 0-6 3-4-2-4-4-2-1-2 0-4 2-2 0-1-2-2-2-1-2-4-4-1 0-1-1-2-1-2 0-2 1 0-8 4 4 2 1 2 0 4-2 1-2-3-3-2-1-2 0-6-3 0-12 2 2 2 1 4-2 1-2-1 0-1-2-2-2-1-2-4-4 0-18 2 1 6 6 2 1 2 2 1 0 1 1 1-1 1 0 1-2 0-2-2-4-2-2-1-2-2-2-7 0-2-2-1 0 0-23 2 0 1-1 1-2 2-1 2 0 2 1 1 0 1 1 2 1 2 2 0-4-2-2 0-1-4-4-4-2-2 0-2-1-2 0 0-71 3 3 1 0 2 1 2 0 1-1 0-2-1-1 0-1-2-1-1-1-1 0-4-2 0-5 2-1 2 0 2 1 1 1 1 0 2 2 2 1 2 0 1-1 1-2 2-2 1 0 1-1 4 0 2 2 0 1 1 2 0 2 1 1 0 1 1 2 0 2-1 1-2-1-1-2-3-3-2 0-2 1 0 4 4 4 1 0 1 2 0 4-2 4 0 1-2 2-2 0-2 1-6 0-4 2-2 2 2 2 2 1 2 2 2 1-2 4-2 2 1 2 1 1 6 3 4 0 2-2 2 0 2 1 1 1 1 0 2 2 1 0 0 4 1 2 2 1 2 0 8 8 2 1 2 2 0 1 1 1 0 2-1 2 2 4 2 1 2-1 1-2-1-2-2-2 0-1-1-1-1-2 0-4-3-6-2-2-2-4 1-2 2 2 1 2 1 0 4 2 4 0 2-2 1-2 1-1 2 0 2 1 2 0 1-2 0-2-3-3-2-1-3 0-1-2 2-1 2 0 1-1-1-2 0-2-2-4 0-1-2-1-2 0-2 1-6 0-2-1-2-2-1-2-2-2-1-2-4-4 2-1 2 0 1 1 1 2 2 2 2 1 2 0 2-1 0-4 2-1 5 5 1 0 2 1 2 0 4 2 2 0 2-1 2 0 2 1 1 1 1 0 2 1 2-1 1 0 1-2 0-5 2 0 2 2 0 1 1 2 0 2-1 2 0 2 1 2-1 2-2 2-1 0-7 7-2 0-1 1-1 2 2 2 8 0 2 1 2 0 1 1 3 0 2-4 2-1 0-1 1-2 0-2 1-2 1 0 2-2 0-2-1-1-2-1-2-2-1-2 1-1 6 0 4 2 1-1-1-2 0-2 4-2 1 0 1-1 2-1 0-1 2 1 4 0 1-2 0-2 1-2 0-1 1-1-1-2 2-4 0-6 1-2 3-3 0-4-5-5-1-2 0-1 2 0 2-1 1 0 0-2-1-1-2-1-2-2-1-2 0-2-3-6 0-1 2-1 3 0 1-1 2-1 2-2 1-2 0-2-1-2 0-2 2-2 6 3 2 2 2 1 1 2 4 4 1 0 2 2 2 1 1-1 1-2-2-4-4-4 0-2 2-2 2 0 2-1 1-1-2-2-1-2 0-2 2-2 1-2 2-2 0-2zM150 39l-1 1 0 2 1 2 2 2 2 0 2 1 2 0 1 1 0 4-1 2-2 1-2-1-1 0-2-2-1-2-2-2-2 0-2 1-1 1-1 2 0 1-1 1-1 0-4 4-1 2 1 2 2 2 2 1 2 0 2-2 0-1 1-2 0-2 2-2 3 0 2 1 1 1 1 2 0 2 1 2 2 2 4 0 2-4 1-1 2 0 2-1 0-2-1-2 0-6-2-2-1-2-2-1-4 0-5-5-1 0zM184 6l-2 0-1 2-1 1-6 0-2 1-2 0-2 1-1 1-1 2-1 0-1 1-2-1-2 0-2-2-3 0 0 2 4 4 1 0 4 2 1-2 1-1 2 0 4 2 1 1-1 2-2 1-2 0-2 1 0 2 2 4 4 4 2 1 2 2 4 2 1-1 1-2 0-2 1-2 0-2-1-1 0-1-4-4-1 0-1-2 4-4 2-1 4 2 4 0 1-1 1-2 2-1 1-1-1-2 0-1-4-4-2 0-2-1zM212 14l0 4 1 2 5 5 2 1 1 0 1 1 4 0 1-1 0-2-2-4-6-6-1 0-2-2-2 0zM226 3l-1 1-1 2 2 4 0 1 2 1 3 0 1-2 0-2-2-4-1 0-1-1zM250 43l-1 1-1 2 0 2 2 4 0 3 2 2 4 0 2 1 1 2 0 2-1 2 3 6 1 1 4 2 2-1 0-4-1-2 0-2 2-4-1-2-2-2-2-1-3-3-1-2 0-2-2-4-2-1zM254 3l-1 1 1 2 2 2 2 1 1-1-1-2-2-2zM286 116l-2 2-1 2 0 2 1 1 2 1 4 4 1 2 1 1 4 2 4 0 0-3-2-4-2-2-1 0-3-3 0-1-4-4zM308 95l-1 1 1 2 2 1 2 0 1-1 0-2-1-1-2-1zM336 362l-1 2 0 2-1 1 0 1-1 2 0 2 2 4 1 1 6 0 2 1 2-2 1-2-1-2 0-4-1-2 0-2-1-1-2-1-2 0-2-1zM340 343l0 1-1 2 0 2 1 2 2 2 2 0 0-2-2-4 0-2-1 0zM362 357l-2 1 2 2 1-2zM374 333l0 1-1 2 2 2 1 0 2 2 1 0 1 1 2-1 0-2-1-2-3-3zM382 154l-1 2 0 6 1 1 2 1 2-1 4 0 4 4 2-1 0-2-1-2-1-1-2-1-6-6-2-1zM390 148l0 1 1-1zM396 200l-1 0-3 3-2 1-1 2 0 4 3 3 4 0 1-1 1-2 0-6-1-2 0-2zM404 201l0 1 1 2 1 1 2 1 1-2-1-1 0-1-2-1zM356 405l-1 1-1 2-1 0 1 0 2 2 2 1 2-1 0-2-1-2-1-1zM254 401l-1 1 1 0zM64 399l-2 1 2 2 1-2zM8 291l-2 2-2 1-1 2 1 2 2 1 2-1 2-2 0-2-1-2zM60 334l-1 0-2 2 1 1 0 1 4 4 2 1 2 0 2 1 1 2 2 2 1 2 2 0 2 1 2 2 1-1-1-2 0-4-4-4-2-1-2 0-1-1-1-2 0-2-2-2 0-1-2 0-2 1zM78 332l1 2 5 5 2 1-2 4 0 2 1 2 1 1 2 1 2-2 0-4-1-2-2-2-1-2 0-2-1-2-2-2-1-2-2 0zM84 327l-1 1 1 1 2 1 2 0 0-2-2-2zM26 176l-2 1-1 1 0 2-1 2-2-1-2-2-6 0-2 1 2 4 2 2 2 1 4 0 1-1 1-2 2-1 2 1 2 0 2-2 0-2-2-4zM34 230l-2 2 1 2 1 1 2 0 1-1-1-2zM42 151l-2 1 2 4 4 4 0 2 1 2 1 1 2-1 1 0 1-2 2-1 2 1 1 2 0 8-1 1 0 1-2 2-1 2 1 2 2 1 2 0 2-1 1 0 0-2-2-4 0-2 1-1 2-1 2 0 2 2 2 1 1 1 1 0 2 1 2-1 1-2-1-2-4-2-1 0-1-1-2-1 0-1-1-1-1-2-2-2 0-1-1-1-1-2-2-2-2-1-2 1-2 0-2 2-2 0-4-4zM108 96l-1 0 1 1 1-1zM110 97l-1 1 2 0zM118 78l-1 0 2 0zM122 92l-1 2-2 2-1 2 0 1-1 1 0 2-2 4 0 2-1 2 0 2 1 2 1 1 0 1 2 4 0 2 2 4-3 0-1-2-1 0-1-2-2 2 0 4-1 2-1 1-2 0-2-1-2 1-2 0-1 1-3 6-2 1-2-1-2-2-1-2-2-2-1-2 0-1-1-1-1-2-1 0-1-1-2 0-2 2-2 1-4 0-1 2 0 8-1 2 0 6-1 2 0 2 1 2 2 1 1 1 1 0 2 1 2 0 4-2 2 1 2 2 3 6 2 2 1 0 2 2 2 1 2 2 4 2 0-1 1-2 0-2-1-2 0-4-1-2-3-3 0-1 1-2 1 0 2-1 1-1 1-2 0-2 2-1 1 1 1 2 0 4 2 1 4 0 4 2 2 0 2 1 8 0 2 1 3-3 0-2-3-3 0-1-1-2 0-2 1-2-2-4 0-1-2-2 0-3 2-2 1 0 1-2-1-2-2-2-1-2-2-2-1-2-1-1-2-1-2-2 0-2 2-1 2 1 4 0 2-4 0-2 2-2 0-4-2-2-4-2-2-2-1-2-1-1zM132 66l-1 0 2 0zM134 67l-1 1 1 1 0 1 1 2 0 4-1 2 2 4 2 2 0 1 4 4 2 1 4 0 2-2 0-1 2-2 2 0 2 2 2 0 3-3-1-1 0-1-2-1-1-1-1 0-2-1-2-2-6-3-1 0-5-5-4-2zM162 98l-1 0-1 2 1 2 0 4-1 1-2 1-2 2 0 1-4 0-1 1 0 12-2 2-1 2 0 4 2 1 1 1 1 0 4 4 2 1 14 0 2-1 1-2-1-2 3-6 0-2-2-4 0-4 1-2 2 0 2 1 6-3 0-1 1-1 0-2-1-1-2 1-4 0-2-1-1-1 0-6-1-2 0-1-2-2-2-1-2 1-2 0-2 1zM178 56l1 2 1 1 2-1-2-2zM194 154l-2 0-2 4 1 2 2 2 3 0 4-2-2-4zM268 77l-1 1-1 2 1 2 0 2-1 2 0 2 1 2 3 3 2 0 4-4 2-1 0-2-2-4-2-2zM258 14l-2 1 0 5 1 2-1 2 0 2 1 2 5 5 2 1 2 0 1-2 0-2-1-2 0-8-2-4-4-2zM290 107l0 3 2 1 1-1 0-2-1-2zM382 213l0 1 2 2 2 1 1-1-1-2-2-1zM390 332l-1 2 0 2-1 2 0 1-1 1 0 2 3 3 0 1 2 2 0 1 1 1 2 4 3 3 2 0 1-1-1-2 0-2-2-4 0-2-1-2 0-2 1-1 2-1 2 0 2-1 1-1 0-2-1-2 0-1-2-1-5 0-1-1-2-1-2 0zM396 276l-2 0 0 3 1 1 2 0 1-2zM406 263l-5 5-1 2 3 6 5 5 2 1 0 1 1 1 1 2 0 1 2 1 2-1 3-3 1-2-4-2-2 1-2 0-2-2 0-1-1-2 0-6 2-2 0-2-1-2 0-1zM18 196l-1 0-2 4-1 1-2 0-1-1-1-2-2 0-2 2-1 2 0 2 1 2 0 5-1 1 1 2 2 2 3 0 1-2 0-4 2-2 2 0 2 1 4 0 2-1 2-2 1 0 0-2-1-2-2-2-1-2-3-3zM44 167l-1 1 0 2 1 2 2 1 0-1 1-2zM56 188l0 2 1 2 0 4 1 1 1-1 0-4 1-2-1-2-1-1zM66 202l2 2 1 0-1-2zM134 172l-2 2-4 2-2 0-2-1-2 0-2 1-2 2-1 0-2 2-1 2-2 2-1 2 0 2 1 2 0 2-2 1-1-1-1 0-2-2-1-2-1-1 0-1-1-2 0-2 4-4-1-2 0-1-2-1-1 2-2 2 0 2-1 1-2 1-2 2-1 0-1 1-2 1-4-2-1-2 3-6 0-2-4-2-2 1-2 0-1 1-1 2-4 4 0 2 3 6-2 2-1 2 1 2 0 2-2 2-1 2 1 2 5 5 4 2 4 0 2 1 2 0 6 3 4 4 2 1 2 0 2 1 4 0 1-1 1-2 0-1 1-1 1 0 2 1 1 1 1 2 0 3-1 1 1 2 2 1 3 3 1 2 0 2 2 4 1 0 1 2 2-4 0-2-1-2 0-4 1-2 0-2-3-6 0-4 2-2 1 0 4 2 1 0 1 1 2 1 4 0 2 1 4 0 5-5 0-2-1-2 0-1-2-2-6 3-2-1-1-1-1 0-4-4-2-4 0-2-1-2-2-2-1-2 0-2 2-2 0-1 1-1 0-2 1-1 2 0 2-1 1-2-2-4-1-1-2 0zM162 170l-2 0-1 2 0 2 2 2 1 2 0 1-3 3-1 0-4 2-1 0-1-1-2-1-2 0-2-1-2 0-1 1 3 6 0 2 1 2 3 3 2 1 2 4 0 1 2-2 2 0 2-1 2 0 2-1 3-3 1-2 0-1 4-4 0-1 2-4 0-4-6-6-1 0-1-1-2-1zM168 161l-2 1 1 2 1 1 2-1-1-2zM268 113l-1 1 0 2 3 6 1 0 1 1 4 0 2-1 1 0 0-2-2-2-1-2-2-2 0-1-2 0-2-1zM382 354l-1 2 1 2 0 1 2 1 2 0 2-1 1-1-1-2-2-2-2-1zM46 195l-1 1-1 2 0 2 1 2 1 1 2 1 2 0 2 1 1 1 0 2 1 2 0 2 2 1 2 2 2 0 2 1 1-2-1-1 0-1-1-2-2-2-4-8 0-2-1 0-4-2-2 0zM68 217l-1 1 0 4 1 2 2 2 0 1 2 1 2 0 2-2 0-2-1-2-2-2-1-2-2-2zM80 213l-1 1 0 2 2 2 1 0 2 1 4 0 1-1-2-2-1 0-2-2-2-1zM94 282l-2 1-1 1 0 2 2 2 1 0 2 1 2 0 2-2 0-1 2-2 0-2-2-2-2 0zM112 304l1 2 1 1 4 2 0-1 1-2-1-2-4-2zM116 271l-1 1-2 4 0 4-1 2 2 4 2 2 2 0 2-1 6 0 2-1 1-2-1-2-2-1-2-2-2-1-4-4 0-1zM130 238l0 2 1 0zM140 282l-1 2 1 2 4 4 4 0 2-2-2-4-2-2-2 0-2-1zM46 211l-2 1-2 4 2 4 0 1 1 1 2 4 1 1 2 1 2-2 1-2 0-2-1-2 0-2-2-4 0-1-1-1-1 0zM142 295l-1 1-1 2 1 2 2 2 1 0 2 1 2-1 1 0 0-2-1-2-2-2-2-1zM327 -6l9 0-1 2-1 1-2 1-2-1zM346 -4l2 0 2-1 1-1 22 0 2 2-1 2-2 2-2 1-2 0-2-1-4 0 0 2 1 2 1 1 4 2 1 1 3 6 2 2 4 2 2-2 0-1 4 0 2 1 2-1 0-3 1-2 1 0 2-1 1-1 0-2-1-2-2-2 0-1-1-1 0-2-1-2 0-1-1-1 17 0 0 2 2 4 0 1 1 1 1 2 1 0 1 1 2-1 2 1 2 2 2 1 2-1 0 23-2-1-2-2-2-1-2-2 0-4-4 4-2 0-4-2-4 0-2 1 0 1 2 2 8 4 2 0 2 1 0 1 4 4 2 1 2 0 2 1 0 48-2-1-4 0-1-1-1 0-2-4 0-4-2-4 0-2-1-2 1-2-1-2-1-1-4-2-2 1 0-2-2-2 0-2-1-2-1-1 0-1-2-1 0-1-2-2-1-2-2-2-1-2-2-2-8-4-2 1-4 0-2-1-2 1-1 1-1 0-2 1-4 0-2-1-2-2 0-10-1-2 0-2-2-2-1 0-4-4-1-2 0-2 1-2-2-4-2-2 0-2 1-2 0-2zM390 34l0 4 2 2 2 1 2-1 1-2-1-2 0-1-4-2zM414 49l0 2 1 1 1 0 1-2-1-2zM310 2l0-1 2-1 4 2 1 0 2 2 0 2 1 2 0 2-2 1-2 0-2-1-4 0-2-2 0-2zM328 6l2 0 2 1 2 2 2 1 0 2-2 1-4 0-2-1-2-4zM375 8l1-1 2 0 1 1 1 2-2 1zM98 10l0-1 2 0 2 1 1 0 2 2 1 2 2 2 2 1 2 0 2 1 1 2-1 2-2 1-8 0-1 1 0 2 2 2 0 2-2 4-1 1-2 0-2 1-2 0-2-1-3-3-3-6 0-4 2-2 2-1 2 0 0-1 2-2 1-2 0-2zM73 22l1-1 2 0 3 3-1 2-2 0-2-1-1-1zM67 32l3 0 2 1 1 1 0 2 1 2 0 8-2 1-4 0-2 1-2-2 0-6-1-2 0-2zM83 32l1-1 2 1 2 2 0 2 1 2 0 2 1 0 2 1 2 0 2 1 1 0 2 2-1 2-4 2-4-2-1-2-4-4-1-2 0-4zM343 32l1-2 2 1 1 1 0 2-1 1-2 0-1-1zM285 36l1-2 2 2 2 1 3 3 0 2-1 1-4-4-2-1zM102 44l2-2 2 1 2 0 2 1 1 0 2 2-1 1-2 0-2 2-4-2-1-1zM42 46l2-1 2 0 2 2 0 1 1 2 0 2-1 2 0 6 1 2-2 2-2 0-2-2-1-2 0-3 1-1 0-6-1-2zM280 46l2-1 1 1 1 2 0 1-2 1-2-2zM58 50l2-1 2 0 2-1 1 2 0 2 3 3 1-1 1 0 2-2 1 0 3-3 1 1 1 2 0 2 1 2 0 2 1 1 0 2-1 1-3 0-4-2-4 0-4-2-2-2-1 0-1-1-2-1-2-2zM31 56l1 0 0 2-1 0zM384 64l0-1 1 1zM346 66l4 0 0 1-2 2-2 0-1-1zM93 68l5 0 2 1 1 1 2 4-1 1-4-2-1-1-1 0-2-2-1 0zM362 72l2-1 2 0 2 1 1 0 1 2-2 1-2 0-2-1 0-1zM385 80l1-2 2 0 4 2 1 2-1 2-2 0-2-1zM372 90l0-1 1 1-1 2zM355 94l1 0 2-2 2 0 4 2 2 0 2 1 2 0 4 4 4 0 2 1 2 0 2 2 1 2-1 2 0 1-1 1 0 2-1 2 0 1-2 0-3-3-1-2-2-2-1 0-1-1-4-2-2 0-2 1-2 0-2-1-1-1-1-2-2-2-1-2zM414 94l0-1 2-1 2 1 2 0 0 5-2 2-2 1-2-2zM11 96l1-1 2-1 2 0 2 2 1 2 0 2-1 2-2 2-2 0-2-1-2-2-2-1 1-2zM399 98l1-1 6 3 2 2 1 2-1 1-2-1-2 0-4-2-1-2zM339 100l1 0 0 2zM336 102l2-1 2 1 0 4-2 1-3-3zM368 114l2 0 1 2 0 2-1 0-2-2zM392 114l2-2 6 3 4 0 1 1 0 2-1 1-2 0-2 2 0 1-2 2-2 1-2 0-2-1 0-4 1-2-1-2zM418 122l2-1 0 12 0-1-4-8zM113 136l2 0 1 1 0 3-1 2-1 1-3-3 0-2zM90 198l2 0 0 2zM107 200l4 0 2 2 0 2-1 1-6 0 0-1-1-2zM24 266l2-1 3 3 1 2 0 6-2 0-2-1-2-2 0-1-1-2 0-2zM31 278l1 0 2 1 1 1 1 2-2 1-1 1 0 2-1 2 0 2-1 2 0 6 1 2-2 2 0 1-2-2 0-1-6-6-1 0-1-2 1-2 1-1 2-1 0-1 1-1 0-4 1-1 2-1 2 0zM46 284l2-2 2 0 2 1 1 1 2 4-1 2-2 2-2 0-2-1-2 0-3-3 0-2 1 0zM54 298l2-1 2 1 0 2-2 0zM109 342l3 0 2 2 0 4-2 0-4-4zM-6 350l0-1 5 5 0 8 1 2 0 2 2 1 2 0 2 1 2-1 1-1-1-2 0-1-1-1-1-2-2-2 0-3 2 0 2 1 1 2 2 2 1 2 2 2 1 0 1 1 6 3 2 0 4 2-1 2 1 2 0 2-2 4-2 2-2 0-2 1-1 1 0 2 1 2 2 2 1 0 1 1 0 1 1 2-1 1-2 1-4-2-1 0-1-1-2-1-2-4-2-2-2 0-2 1-1 1-1 2-4 0-2-1-1-1 0-2 2-2 0-2-1-2-4-4zM128 354l2-1 4 4 0 1 1 2 0 6-1 2-2 2 0 1-1 1 0 8-1 2-2 0-4-2-4 0-4-2-2-2 1-2 0-2 1-2 4-2 4-4 2 0 2-1 0-1 1-2-1-2zM80 364l2-1 4 2 1 1 1 2-2 1-4 0-1 1 0 2 1 2 0 2-4 8 0 2 1 2 2 2 1 2 0 2-2 1-3-3-1-2 0-1-1-1 0-6-3-6 0-2 1-2 2-2 1-2 1 0 2-2zM386 374l0-1 4 2 3 3 1 0 4 2 2 0 2 1 0 1 1 2-1 2 0 11 2 1 2 0 4 2 1 0 1 1 2 0 2-1 2 0 2 2 0 12-31 0-2-2 0-4-1-2 0-2 3-6 0-2 1-2-1-2-1-1-2-1-2-2-1-2 3-6zM398 410l-2 0-1 2 1 1 2-1 1 0 1-1 0-1zM405 376l1-2 2 1 1 1 0 2-1 0-2-1zM138 378l2-1 2 0 2-1 4 0 2 2 1 0 1 1 2 0 3 3 0 2 1 2 0 5-1 1-1 0-4 4-2 1-1 1-1 0-2 1-4 0-2-1-1 2 1 1 2 1 2 2 0 4 4 4 1 2-28 0 0-4 1-2 4 0 0-2-4-2-2-4 0-4-4-8 0-3 2-2 2 1 2 0 4 2 4-2 0-1 1 1 1 0 2 1 2-1 1-2 0-2zM-6 394l4 4 2 0 2-1 2 0 1 1 3 6 4 2 2 0 2 1 2 2 2 0 1 1 1 0 2 2 4 2-10 0 0-3-1 1-1 0 0 2-21 0 1-1 2 0 1-1 0-4-1-1 0-1-2-4-2-1zM202 402l2 0 4 2 0 1 1 1-1 1-2 1-2-1-2-2zM215 404l1-1 2-1 2 2 1 0 2 2 1 2-1 2 0 2-2 2-9 0 0-6 1-2z" fill="#ff7d00"/><path d="M168 -6l6 0 1 2 2 2 1 2 0 2-2 1-4-2-3-3-1-2zM180 -6l7 0 0 2 1 2 0 1 1 1 0 2-3 0-2-2-1-2-1-1 0-1zM393 -2l1-1 2 0 2 2 2 1 2 2 2 4 0 2-2 0-2-2-2-4-2-1-2 0-1-1zM11 0l2 0-1 1zM257 0l1-2 2 1 2 2 0 2-2 0zM17 2l1 0 2-1 2 1 1 0 4 4 0 4-1 2 0 2-2 1-2-2 0-1-1-2-2-2-2-4zM216 2l2 0 2 4-2 2-2-2-1-2zM356 4l2 2-2 1-1-1zM203 6l1-2 2 1 1 1 0 2-1 1-2-1zM238 6l8 0 4 2 1 2 0 2-2 4 2 4-1 2-4 2-2 2 0 1-1 1 1 2-3 6-2 2-1 0-2 1-2 0-2 1-1 0-1 2 0 2-2 1-1 1-1 0-1 2 0 6 1 0 2 2 1 0 1 1 2 1 3 0 1-1 0-1 2-2 4-2 2 0 1 2 1 1 0 1 1 2 1 1 0 1 2 2 0 5-2 0 0 3 3 0 1-1 2 1 1 0 1 2-2 2 0 2 1 2-1 1 0 1-2 2-2 4 2 2 6 3 4 0 2 2 2 1 2 2 0 1 1 1 1 2 0 2 2 4-2 2-4-2-2 0-2 2 0 10-2 2 1 2 2 2 1 0 6 6 0 4 2 1 1 1 1 0 4 2 2 2 2 1 4 0 1 1 1 0 2 1 1-1-2-2-5 0-4-4 0-2-1-2-1-1-2-1 0-2 4 0 4 2 1 0 7 7 4 0 4 2 2 2 2 0 2-1 0-8 2-2 1-2 1-1 6 0 2 1 6 0 2 4 0 2 2 2 0 1 1 1-4 4 0 2 1 2 0 2-1 2 0 6 1 2 4 4 1 2 3 3 2 1 2 0 2 1 2 0 1 1 1 0 2 2 1 0 3 3 2 1 2 2 2 1 2 0 1 1 1 0 2 1 2 2 4 0 1-1 1-2 2 1 1 1 0 2 1 1 0 1 2 2 2 1 2 2 2 1 1 0 2 2 0 2-1 1 0 3 1 2-2 2-1 0-6 3-2-1-2 0-2 1 0 1-2 2-2 1-3 3 1 0 1 2 4 4 0 2 1 2-1 2-4 4 1 2 2 2 0 1 4 2 2 0 2-1 1 0 1-2 2-1 2 1 1 0 2 2 1 0 2 1 2 2 2 1 1 0 1 1 6 0 2-1 1 0 0-2-2-2-2-4 1-2 6 0 2 1 4 4 0 1 2 4-2 2 0 4 1 2 0 4 1 2-1 2-5 0-2 1-6 6-2 1-2 2 0 1-2 1-4-2-2 0-2 2-1 2 0 2 1 1 0 1 2 2 0 5-2-1-2-2-2-1-2 1 0 4 1 2 2 2 1 0 6 6 2 4 2 2 1 0 1-2-2-2 0-1-1-1 0-2 3-3 4 0 2 2 0 1 2 2 0 2 1 2-1 2 0 1-1 1 0 2-1 1-2 1-4-2 0-1 0 7-2 4 0 4-4 2-2 2 0 5-2 2-4 0-2-1-4-4-2-1-1-1-1 0-2-1-5-5 0-2-1-1 0-1-2-2-6-3-2-2-2 0 0 2 1 1 1 2 0 1 1 1 0 2 6 6 0 4-3 3-2 1-2 2-6 0-2-1-1-1-1-2-2-2-2 1-1 1 1 2 0 1 3 3 1 2-2 1-4-2-2 1-1 2 1 2 0 6-1 2 0 4 2 2 3 6-3 0-1-1-4-2-4 2-1 1-1 0-1 2 0 4 1 2 0 2-1 2 0 2 3 3 0 1 1 2 0 4-1 1-2 1-4-2-2 0-2 1-1 1 1 1 4 2 1 1 1 0 2 2 0 1 3 3 1 0 2 1 4 0 1 1-4 4-1 2 2 4 0 4 1 2 2 2 1 2-4 0-2-2-1-2-1-1-2-1-2 0-2 1-4 0-2-1 0-2 4-4-1-2-8-8-1-2-4-4-2-4-2-2-2-1-1 1-1 2 0 6-2 2-4 2 1 2-1 1 0 1-2 1-2 2-2 0-2-1 0-2-2-4-2-2-2 0-2 2-1 2 1 2 0 2-2 4-2 0-1-2-2-2 0-4 3-3 0-5-1-2 0-2 1-1 2-1 4 2 2 0 2-2 1-2 0-2-1-2-4-4 0-2-4-4-1 0-2-2-1-2 0-5 1-1 0-2-2-4-1-1 0-1-1-2 2-4 0-2-1-1-4-2-2 0-3 3-4 8-1 1-2 1-4-2 0-1-2-1 0 2-2 2-2 0-2 1-2 0-4-2-2-2-2-1-2-2 0-2-1-2 0-4-1-1 0-1-2-1-5-5 0-2-1-2 0-2-2-2-2-1-2 0-2-1-1-2-1-1 0-1-2-2-2-1-4 0-2 1-2-2-2-1-1-1-1 0-2-1-2 0-2 2-2 1-2-1-2 0-2-2-2-1-6 0-2 1-2-1-2-2 1-2 0-4 1-2 0-2 2 0 4-2 0-1 1-1 0-2-2-4 0-2-1-2-2-2-6 0-2 2-1 2 0 2 2 4 0 2-1 0-2 1-2 0-2-1-2-2-1-2 0-4-2-4 1-2 0-2 1-2 0-2 1-2-1-2-1-1-2 0-2-1-2 0-2 1-2 0-2 1-1 0-1 2-1 0-1 1-2-1-1 0-4-4-1-2 0-1-1-1 0-2 1-2 6 0 2-1 1-1 2-4 0-4 1-2 6-3 1-1 0-4-1-2 1-2 2-2 0-2 1-2 2-1 1 1 1 0 1 2 2 2 1 2 2 2 2 0 0-4-1-2-2-2-1-2 0-1-1-1 0-4 1-1 2-1 2-2 2-1 4 0 2 1 1 2 3 3 2-1 1-2 0-6-2-4-4-4 8-8 0-2-1-2 0-2-1-2 1-2 0-1 2-2 2-1 7 0 1-1 2-1 2-2 1 0 1-1 2-1 1-2 0-4 1-1 2 0 2-1 0-4-3-6 0-2 1-2 0-2-1-2-6-6-1-2 1-2 1-1 2 0 3 3 1 0 2 1 2 0 1-1 1-2-1-2 0-2 1-2 2-1 4 0 1-1 0-2 2-4-1-1 0-1-2-4 0-2-1-2-4-4-1-2 0-2-2-2 0-1-1-1 1-1 4-2 2 0 1-1-4-8-1-1 0-1-2-4 0-2-2 2-2 1-1 1-1 2 0 4 1 2 0 4-1 1-2 0-4-4-2-1-6 0-2-2 0-2 2-1 2-2 2-1 0-1 4 0 1-1 0-2-3-3-2 0-2 2-2-1-1 0-1-1-2 0-2-1-6 0-1 2 1 2 0 5-1 1-1 0-4-2-2-2-1-2 0-2 3-3 2 0 1-1-1-2 0-2 4-2 12 0 4-4 1 0 2-2 0-4 1-2 2-2 1 0 1-2-2-4 4-4-6-3-1-1-1-2 1-2 0-2 1-2 0-2 4-4 0-1 2-2 8 0 2 1 2 2 1 2-1 2 0 1 1 1 1 0 1-2 1 0 2-1 2 1 2 0 2 2 1 0 1 1 4-2 2-2 2-1 1 0 1-1 2 0 1-1 0-2-1-1 0-1-2-2 2-2 2-1 0-2-1-1-2-4 0-2zM268 135l-2 1 2 1zM322 345l-1 1 1 2 2 1 2-1-2-2zM360 251l-2 1 2 4 2 1 2 0 2-1-2-1zM370 196l-2 2 0 1 2 1 2-2zM372 262l-2 0-2 1-2 0-2 1 0 4 1 2 3 3 2 0 1-1 3-6 0-2zM376 287l-2 1-2 4 2 4 4 0 4-2 1-2 0-2-3-3zM386 259l-2 1 1 2 2 2 1 2 2-1 0-4-2-2zM156 260l0 4 2 1 2 2 2 1 2-1 0-1-2-4-2-2-1 0-1-1zM184 294l-1 0 1 1zM220 37l-2 1 2 2 2 1 2 0 2-1-2-2-2 0zM265 8l1-1 4 0 2 1 1 0-2 4-1 0-2 1-2-1-2-2zM420 12l0 6-2-4zM274 22l3 0 0 6-2 2-1 0-2 2-2-2 0-4 1-2 1-1zM420 22l0-1 0 4-1-1zM130 38l2-1 1 1 1 2-1 2 0 2-1 2 0 2-1 2-1 1-4 0-1-1 0-8 1-2zM416 66l2-1 2 0 0 16-2-1-1 0-2-2-1-2 0-2-1-2 0-2 1-2zM303 70l1-1 2 0 2 2 0 1 1 2 0 2-1 2 0 2-1 0-1-1 0-1-2-2-2-4zM282 76l0-1 2 0 3 3 2 4 0 2-5 0-2-2-1-2 0-2zM281 96l1-1 2 1 2 2 1 0-1 0-2 1-2-1zM149 100l1-2 2 0 2 1 3 3-1 1 0 1-2 1-2 0-1-1-1 0-1-2zM100 104l0-1 2 2 0 2-2-1zM196 104l0-1 4 0 4 2 3 3 0 2-1 2 0 4-4 2-3 0-1 1-2 0-1-1-1-2 0-2 2-2 2-1 0-4-2-2zM276 108l3 0 2 2-1 2-2-1-1-1zM-6 112l0-1 2 1 2 2 0 1 2 2 2-1 4 0 2 2 1 2 0 2 1 2 2 2 1 2-1 1-2 0-2-1-2 0-2-2-2-4-2-2 0-1-2 0-4 4zM95 112l1-1 2 0 2 1 1 2 0 4-1 2-2 1-2 2-2 1-2 0-2-2-1-2 1-2 2-2 1-2zM300 118l2-1 2 0 1 1 1 2 0 2-2 2-2 0-2-4zM54 124l2-1 6 0 1 1-1 2-4 0-1 2 0 2 1 2 0 2-2 1-2-2 0-1-2-1-3-3 0-2 1-1 2-1zM138 126l2-2 2 1 1 1 0 2-1 1-2 0-1-1zM342 130l2 0 2 2-2 2-2-1-1-1zM356 130l2-2 2 1 1 1 3 6 0 2 2 2 2 0 4 2 0 2-2 1-2 0-2-2-2-1-4 0-2-1-4 0-2 1 0 3 1 1 5 0 2 1 1 1 1 0 4 4 4 0 4 2 2 4-2 2-2 1-1 1 0 6-1 2 0 2-1 2-1 1-4 0-6-3-1 0-1-2 0-2 2-1 0-1 1-2-1-2-2-1-2 1-2 2-2 0-2-2-2-1-2-2-2 0-6-3-1 0 0-2 1-2 2-2 4 0 2 1 1-1 1-2 0-1 1-1 1-2 0-2 2-2 1-2 0-2 1-2 2-1 1-1zM366 157l-1 1-1 2 2 1 2-1-1-2zM67 132l1 0 0 1zM16 134l2-1 4 2 3 3 0 8-1 2-10-10 0-2zM179 136l1-1 2 0 4 2 2 0 1 1 1 2 0 2-1 2-1 1-4 2-1 1-1 2 1 2 0 2 2 2 2 4 0 4 1 2 2 0 0 2-2-1-1 1-1 0-2 2-2 0-4-2-1-2 1-2 0-3-2-2-2-1-3-6-2-2-1-2 1-2 0-2 1 0 2-1 4 0 1-1 1-2 0-3zM143 140l1 0 2-1 2 0 2 1 4 4 0 2 1 2-1 0-2-1-6 0 0-1-2-2 0-1-1-1zM25 148l1 0 2 1 4 0 1 1 1 2-2 1-2 0-2-2-2-1zM47 148l1-1 4 0 0 1-2 2-2 0zM414 152l3 0 1 1 2 0 0 14-4-2-5-5 0-2zM142 156l2-1 1 1 1 2 0 4-2 1-3-3 0-2zM69 158l1-1 4 0 2 1 1 2 0 2-1 1-2 1-2-1 0-1-2-2 0-1zM109 160l1-1 4 0 1 1-1 2 0 1-2 2-2-1-1-2zM121 160l1 0 2-1 2 0 1 1 1 2-2 2-4-2zM5 162l1-1 2 0 4 4 0 3-2 1-2 0-3-3zM378 176l0-1 2 0 2 1 1 2-1 1-2 0-2-1zM-6 190l2 0 2 1 1 1 1 2-2 1-4 0zM393 190l1-2 2 1 1 1 1 2-2 1-2-1-1 0zM402 212l2 0 0 1zM56 220l0-1 2 0 1 1 0 2-1 1-2-2zM38 226l2-2 1 2 2 2 0 2 1 1 2 1 2 0 2 1 1 1 1 2 0 2-1 2-1 1-4-2-3-3-1-2 0-1-1-1-1-2-2-2zM82 226l2-2 4 2 0 1 1 1 0 4 1 2 2 1 2 0 1-1 1 0 2-1 4 0 1 1 1 0 4 4 2 1 2 0 2-1 4 0 2 1 1 1 1 2 0 2-1 2-1 1-2 1-4 0-2 2 1 2 0 2-1 2 0 4-2 1-2 0-1 1-1 0-2 4 0 2 1 2-2 2-3 0 0-2 1-2-1-1 0-1-2-1-2 1 0 2-2 4 0 1-4 0-2-1-2 0-1-2-2-2-1-2-4-4-1-2-2-2-1-2 0-2 2-1 1-1 3 0 2 1 4 0 0-1 1-2 0-6-1-2-2-2-1 0-2-2-1-2 1-2 1 0 2-1 1-1-2-4-1-1zM136 226l2-1 2 1 1 2-1 1-2 0-2-1zM12 236l2-1 2 0 2 1 2 2 0 1 1 1-1 1-2 1-5 0-1 1-1-1-1-2zM51 244l1-1 6 0 1 1 1 0 2 2 1 2 0 2-3 3-2 1 0 2 4 4 0 3-2 0-1-1-1-2 0-1-4-4-2-1-1-2 0-2 1-2 0-2zM194 316l2-1 4 0 2 1 1 2 0 2-1 2-2 2-2-1-3-3-1-2zM182 322l4 0 2 1 1 1 1 2-2 2-2 0-2 1-2 0-1-1-1-2 0-2zM-1 324l1-2 2 1 1 1 1 2 0 4 2 4 0 5-2 0-2-2 0-1-2-4 0-6zM347 336l1 0 2 1 1 1-1 2-2-1-1-1zM36 338l2 1 1 1 0 2-1 1-2-2zM365 346l1 0 2-1 2 0 4 2 1 1 0 4-1 1-4 2-4 0-3-3-1-2 2-2zM43 348l1-1 1 1-1 1zM347 348l1-2 4 4 0 4-2-1-3-3zM45 350l1-1 0 2zM403 350l1-1 2 1 2 2 0 1 1 1-1 2-2 0-2-2-1-2zM356 362l2 1 0 2-2 0-1-1zM395 362l1-1 2 1 1 2-1 1-2 0-1-1zM18 372l3 0 2 2 1 2-2 2-2-1-3-3zM0 376l2-1 2 1 1 2-1 2-2 0-1-2-1-1zM53 384l1 0 4 2 1 2 0 2-1 1-2 0-1-1-2-4zM274 406l0-1 1 1 0 2-1 1-2-1zM262 414l2 0 2-1 2 0 1 1z" fill="#ffaf00"/><path d="M203 34l1-1 1 1 1 0 2 2 2 1 1 1 2 4 1 1 2 1 1 0 2 2-1 2-4-2 0-1-2-2-2 0-4-2-3-3zM205 58l1-1 2 0 1 1 1 2 0 2 4 4 1 0 1 1 2-1 2-2 2-1 1 1 0 4 2 4 3 3 2 1-2 4-2 1 0 1-1 2 0 4 1 1 2 1 2-2 0-6 2-1 2 1 1 0 1 1 4 2 3 3 0 8 1 1 0 1 2 4 2 1 4 0 2 1 2 2 0 2-6 6 0 4 2 2 5 10 0 2 1 1 0 1 6 6 0 1 2 2 6 0 4 2 2 2 4 0 2-1 4 2 1 0 1 1 4 0 1-1 1 0 2-2 0-1 1-1 1 0 2 1 1 1 5 0 2-2 2-1 2 1 2 0 2 1 2 2 0 3-2 2-2 0-2 2-4 0-2 4-6 0-2 2 0 2 1 2 5 5 6 0 1-1 1 0 2-1 2 0 2-1 2-2 2-1 2 1 4 4 0 1 1 1 1 2 2 2 2 1 5 5 1 0 2 2 1 0 1 1 2 1 2 2 1 2 2 2 1 0 4 2 1 0 2 2 0 2-1 2 0 2 1 2 0 2 1 1 0 1-2 1-2 0-1 1-1 2 0 2-2 4-2 2 3 6 0 4-1 1 0 1-1 2 1 2 0 2 1 2 0 4-1 1-2 0-2 1-2 0-2 2-1 2 0 4-2 2-1 2 0 1-1 1 0 4 2 4 2 2 1 2 0 1 1 1 0 6-2 2-1 2 0 2 1 2 1 1 2 0 2-1 2-2 1-2 0-8-1-2 0-4 2-1 2 1 2 0 2 1 1 1 0 2-1 2 0 1-1 1 1 2 2 2 4 2 1 0 1 2 0 5-2 2-2 1-2 0 0 4 1 2 0 4-1 2-6-3-3-3-1 0-2-2-2 1-1 1-1 2-4 0-4 2-6-3-1 1-1 0-1 2 0 4 4 4 0 6-1 2-2 2-2-1-2 0-1 1 0 2 1 1 0 1 2 2-1 2-1 1-2 0 0-1-2-2 0-1-2-2-2 1 0 2 1 2 3 3 0 1 2 2 0 2 1 2-2 2-1 0-4 2-1 2 0 8 1 2 0 2-2 1-2 0-6 6-2-1-12 0-4-2-1 0-1-2 0-2-1-2 0-2-3-3-2-1-2 0-2-4 0-4-4-4-2-1-2-2-2-1-2-2-2-1-1-1-1 0-2-1-1 1 1 2-1 2-1 1-2 0-2-1-1-2-1-1 0-5 1-2-1 0-1-2-2-2-3-6 0-2-2-2-6 0-4 8-2 1-2 0-4-2-2 0-6-3-1 0-3-3 0-1-4-4-1 0-1-1-2-1-1-2-3-3-4-2-1-1-1-2 0-2 2-2 0-3-2-1-4 0-2-1-1 1 0 2 1 2 2 2-2 1-2 0-4-2-2 0-2-1-1 0-1-1 0-1-2-4 0-4 1-2-1-2 0-1-2-2 0-1-4-4-1-2-4-4 0-2 1-1 2 0 1 1 1 0 2 2 1 0 1 1 4 2 2-2 0-3-1-2-1-1-2-1-1 0-1-1-2 0-2 1-2 0-1-2-2-2 0-2-1-2 0-3 0 1 2 1 0 1 2 2 4 2 0 1 2-1 1-2 1-1 2-1 2 0 1-2 0-2-1 0-2-1-2 0-4-2-3-3 0-2-1-1 0-1-3-6 0-2 1-2 2 0 4 2 5 0 3-3 2-1 1-2 0-4 1-2-1-2-1-1 0-1-2-2-1-2 0-2 1-2 2-1 3-3 2-4-1-2-2-2-2-1-1-1 0-2 1-2 2 0 2 2 1 0 1 1 2 0 6-6 4 0 2-1 2-4 0-1 2-1 2 1 2 0 1-1 1-2-1-2-2-2-2-4 0-4 2-4 0-2-1-2 0-2-1-2 1-2 2-2 2-1 4 0 1-1 0-2 1-2 0-1 2-2 2 0 1 1 1 0 4 4 2 0 2 1 2 0 3-3 0-2-1-2 0-1-10-10-2-1-2-2-1-2 0-2 1-1 4-2 1-1-1-2-4 0-4 2-2 0-4-4 0-3 1-1 3 0 2-1 1-1 0-2-1-1 0-1-2-4 0-2-1-2-2-2-1-2 0-2-1-2 0-2-1-2-2-2 0-1-2-1-8 4-2-1-1-1-1-2 1-2 3 0 2-1 2 0 1-1 0-2 1-1 2-1 1 0-2-4zM254 137l-1 1 1 1 2-1zM274 311l-4 4-2 1-4 0-2 2 4 4 1 2 1 1 6 3 2 0 4 4 1 0 1 2 2-2 0-4-4-4-1-2 2-2 0-2-1-2-2-2 0-1zM288 323l-2 1 0 1-1 1 1 0 1 2 1 1 4 2 2 0 2-1-2-4 0-1-2-2zM334 182l-1 0-1 1 0 5 1 2 1 1 4 0 1-1 0-2-3-6zM237 68l1-1 2 1 0 2-2 2-1 2-2 2-5 0 1-2 3-3 2-1 0-1zM357 152l2 0 1 1 0 2-2 2-2-1-2-2 2-2zM415 158l1-1 2-1 2 1 0 6-2-1-1 0-2-2zM100 240l2-1 2 2 0 1 4 8 0 3-2 2-2 1-2 4-8 0-2-2-1-2 2-4 1-1 0-7 2-2 2 0zM148 244l2-1 2 0 3 3 0 2-1 2-2 1-4 4-1-1 1-2 0-2-1-2 0-2zM363 244l3 0 2 1 4 0 2 1 2 2 1 0 1 1 0-1 4-2 2 2 1 2-1 1-2 1-2-1-2 0-1 1-1 2-2 1-2 0-4-2-1-1-1 0-2-2 0-1-1-1-1-2zM401 246l1 0 2-1 1 1 1 0 1 2-1 2 0 1-3 3-1 2-2 2-2 1-2 0-1-1-1 0-4-4-1-2 3-3 4 0 2-1 1 0zM380 308l2-1 6 0 1 1 1 2 0 2-1 2-1 1-4 2-10 0-2-2 0-2 2-2 4 0 1-1zM340 314l0-1 2-1 2 0 6 3 2 2 2 1 0 2-4 2-2-1-2-2-2-1-1 0-3-3zM239 318l1-1 1 1 1 2-1 2-1 1-2-1-1-2zM238 334l2-1 3 3 0 6-1 2-2 0-2-1-1-1 0-2-1-2zM281 360l1-1 2 0 1 1 0 2-1 1-2-1zM301 370l1 0 2 1 2 2 0 1-2 1-2-1-1-2zM312 370l2 0 2 2 0 2-2 0z" fill="#ffe000"/><path d="M222 92l1 2-1 2-1-2zM231 96l1-1 2 0 1 1 1 0 4 4 0 1 1 1 1 2 4 4 0 3-2 1-2-1-1-1-1 0-2-2-2-1-2 0-2-1-2-2 0-6zM225 144l1-1 2 0 1 1 1 2 2 2 2 0 4 2 0 2-1 2 1 2 2 1 2 0 1-1 1-2 0-2-2-4 0-2 1-2 1-1 2 0 8 4 1 1 1 0 2 1 2-1 2 0 8 4 0 1 3 3 1 0 2 1 3 3 1 2 4 4 4-2 4 0 4 2 2 2 0 1 1 1 1 2 2 2 0 1 1 1 2 4 1 1 2 1 2-2 0-2-1-2 1-2 10 0 6-3 1 1 2 4 0 2-1 1-2 1-4-2-2 0-4 2-2 2 1 2 2 2 1 0 4 2 2 0 4 2 1 2 2 2 1 0 2 1 4 0 2-1 2 0 4 4 4 8-1 2-1 0-2 1-2 0-1-1-1 0-2-2-2 0-2 4 0 2-1 2 1 1 0 2-1-1-1 0 1 2-1 0-1 2 0 2 1 2 2 2 2 4 0 2 2 2 4 2 1 0 2 2-2 4-3 3-2 1-4 0-2-1-2-2-2-1-2 2 1 2 2 2 1 0 2 1 2 2 0 1 1 2-1 2-2 1-1 1 0 4 1 2 0 1 2 0 2 1 1 0 2 2 1 2 0 5-1 1-1 0-2 1-10 0-1 1 0 2 4 4 1 2-1 2-1 1-2 0-4-2-2 1-1 2 0 4 1 2 0 2-1 2-2 2-1 2 0 4-2 2-2 4-2 2-11 0-1 2 1 2 1 0 2 2 2 0 2-1 2 0 5 5 4 8 0 2-1 1-2 0-4-2-1-1-3 0-2 2-1 0-1 1-2-1-2-2 0-2-2-4 0-2-1-2 0-4-1-2-2-2-2-1-2 0-6-3-2-4-2-2-2-1-2 0-2 1-4 0-2 1-4 0-2-1-2 0-2-1-2 0-1 1 2 4 0 2-3 3-2-1-1-2 0-4-2-4-1-1-2-1-1 0-1-1-8 0-2 1-1 0-1 2 0 4-2 0-2-4 0-4-1-2-3-3-2-1-2 1-2 0-2 1-4 0-2-1-2 0-2-1-1 0-2-2 0-2 2-4-2-4-3-3-8 0-2-1-5 0 0 6-1 2-2 0-2-1 0-1-1-2 1-2 0-1 2-1 1 0 1-2-1-2 0-2 1-2 0-2-1-2 1-2 0-4 2-4 0-2-1-2 0-2 2-4 0-2 1-2-1-2 0-4-1-2 0-1-1-1-1-2 0-2-1-2 1-1 0-1 2-1 2-2 0-1 1-2 0-4-1-2 1-2 0-4-1-2 0-5 1-1 3-6 0-1 1-1 3-6 6 0 2-1 1-1 0-2 1-2 2-2 4 0 2-1 2-2 2-1 1 0 2-2 1-2 0-4-1-2-3-3-2-1-3-6 0-4 1-1 4-2 2 0 2-1zM318 201l0 1 1 2 1 1 2-1 0-2-2-2zM352 290l2-1 1 1 1 2 0 2 1 2-2 0-1-1-2-1-1-2zM289 336l1-1 2-1 2 0 4 2 1 2 0 4-1 2-2 1-2 0-2-1-2-2-1-2z" fill="#f4ff15"/><path d="M218 154l2-1 2 2 2 1 0 1 1 1-1 1-2 0-3-3zM249 154l1-1 1 1 1 0 3 6 0 2-1 1-2 0-2-1-2-2 0-4zM228 164l2-1 2 1 10 0 6 3 2 0 2 1 2 0 1-2 0-2 1-1 10 0 6 3 2-2 2 0 6 6 4 2 4-2 4 2 4 4 2 4 0 2 1 2 5 5 2 0 2 1 1 2 0 6 1 1 0 1 1 2 1 1 0 1 1 2 0 4 1 2 2 1 2 0 1-1 1-2 2 0 2 2 0 1-2 2 0 2 1 1 1 2 0 10 1 2 0 2-1 2-2 1-1 1 0 2 2 4 0 2 3 6 0 4 1 2-1 2 0 1-6 0-1 1-1 2 0 3-3 3 1 0 1 2 1 1 0 1 1 2 0 4-3 6 0 1-1 1-1 2 0 1-1-1-1 0-1-2-3-3-2 1-1 0 0 4 3 3 2 1 2 0 1 2 0 2-1 2 0 2-2 4-2 0-4 2-4 0-2 1-2 0-3-3 0-2 1-2-2-2-4-2-4 0-2-1-2 0-1-1-1 0-2-2-2 1 0 3-1 2-2 2-1 0-2 1-2 0-2-1-4 0-2-1-2 0-4-2-1-1-1-2 0-2 1-2-1 0-4-4-2-1-2-2-2 1-1 0-2 2 0 2-1 2-2 0-4 2-3 0-1-1-2-1-2-2-1 0-1-1-2-1-4 0-2 1-2 0-3-3-2-4-1-1 0-1-1-2 0-2-2-2-1-2-2-2-2-1-2 0-2 1-2-1-3-3 0-2 1-1 0-1 2-1 2-2 0-1 1-2 0-2 1-2 0-4-1-2-1-1 0-1-2-4 1-2 0-2-1-2-2-2-2-4 2-2 1 0 1-1 0-1 1-2 0-2-1-2 0-2-1-2 0-2 2-4 0-2 1-2 0-1 1-1 1 0 2-2 2 0 2-1 1-1 1-2 0-4 2-2 2-1 1-1 0-4-1-2 1-2 1-1 2 0 2-1 4 0 4-2 2-2 2-1 1-1 0-6zM322 192l1 0 2 2-1 2-2-1-1-1z" fill="#d7ff4b"/><path d="M242 170l2-1 2 1 2 0 2 1 2 2 6 3 2-1 2 0 2-2 2-1 2 0 2 1 2 2 4 2 2 0 2 1 2 0 2 1 2 0 2-1 2-2 2 0 1 2-2 4 0 2-1 2 0 2 8 4 3 6 0 6 1 2 2 2 4 2 2 4 2 2 2 1 4 0 4 2 1 1 0 8-1 2 0 1-2 2-2 1 0 2-1 2 0 4 1 1 2 1 2 2 0 3-1 1-1 2 0 2-1 2-2 2-1 2-2 0-2-1-2 2 0 1-1 2 0 2 1 2 0 1 1 1 1 2 4 4 0 3-8 0-2 1-2 4-2 2-1 2-2 2-5 0-2-1-1 1 0 2-1 1-2 1-8-4-4 0-2-1-4 0-2 1 1 2 0 4-1 0-4-4 0-4-1-2-1-1-2-1-5 0-1 1-4 0-2-2-4-2-2 0-2 1-2 0-2 1-2 0-2 1-4 0-8-8-6-3-4-4 0-1-4-4-2-1-3-3-1-2 1-2 0-2 1-2 0-4-1-2-1-1 0-1-1-2 1-2 0-2 1-2 1-1 0-1 1-2-3-6 0-2-2-2-1-2-2-2 0-2-1-2 2-2 2-1 1-1 1-2 0-2 4-2 1 0 2-2 0-2 2-4 0-2 1-1 6-3 2-2 0-4 2-1 4 0 1 1 1 0 4 2 2-1 1-1 0-4 1-2 4 0 2 1 1-1 1-2z" fill="#b9ff82"/><path d="M263 178l1 0 2-1 2 0 4 2 2 2 6 0 2 1 2 2 0 1 1 1 0 2 1 1 0 1 2 2 1 0 1 1 4 2 1 1 2 4 0 2-1 2 0 2 2 2 1 2 1 1 0 1 2 2 0 1 1 1 1 2 4 4 4 0 2-1 4 0 1 1 1 2 0 2-1 2-1 1-2 1-2 4 1 2-1 2 0 2-2 4 1 2 0 2 1 2 0 2-2 2-4 2-2 2 0 1-2 1-2 2-1 2 0 4-1 2 1 2 0 4-1 2 0 1-1 1-1 2 0 2-2 1-1-1-1-2 1-2-1-1-2 0-1 1-1 0-2 1-2 0-2-1-1-2-2-2-1 0-2-1-2 0-2 1-1 0-1 1 0 1-1 2-1 1-6 0-2-1-12 0-4-2-6 0-2 1-8 0-2-1-1 0-5-5-2-1-2-2-1-2-5-5-2 0-4-4 0-9-1-2 0-2-1-1 0-1-1-2 0-2 1-2 2-2 2-4 0-4 1-2 0-4-1-2-2-1-1-1-1 0-2-2 0-2 2-4 4-2 6-12 2-1 2 0 2-2 0-1 2-2 0-1 2-2 2 1 2 0 8 4 2-1 10 0 2-1 4-4 0-1 1-1 0-2 1-2 2 0 4-2z" fill="#7affb1"/><path d="M262 182l4-2 2 0 2 1 2 2 4 2 4 0 2 2 0 1 1 2 6 6 2 4-1 2 0 2 1 2 1 1 2 1 3 6-1 2 2 4 8 8 1 0 4 4 1 2 0 2-1 2-1 1-2 0-2 1 0 10-2 4-4 4-2 4 0 1-1 1-1 2-2 0-6-6-4-2-6 0-2 1-1 1-1 2 1 2 4 4-1 2-2 1-1 1-1 0-2 1-2 0-4 2-2-1-1 0-1-1-2-1-2 0-2 1-1 1-1 2-4 0-2-1-6 0-2-1-2 0-4 2-4 0-2-2-1 0-10-10-2-4 0-2-1-2 0-1-1-1-1-2-2-2 0-4-2-4 2-1 2 0 2-1 0-2-2-4 0-8 1-2-1-2 0-6 2-2 0-8 4-4 2-1 4 0 1-1 0-2-1-1 0-3 2-1 2 1 2 4 4 2 2 0 2-2 1-2 1-1 6 0 2 1 2 0 2 1 4 0 1-1 1-2 0-4 1-2 0-2 1-1 0-1zM300 233l-1 1 1 1 2 1 2 0-2-4z" fill="#34ffde"/><path d="M264 192l0-2 2 1 2 2 0 1 2 2 2 1 2 0 2-1 1 0 1-2 0-2 4 2 1 0 1 1 2 1 0 1 1 1 0 2-1 2 0 1-1 1 0 2 1 2 4 2 0 6 1 2 0 8 1 2 0 4 1 2 6 6 2 4-1 2 1 2 0 2-1 2-1 0-1-2 1-2 0-2-1-1-2-1-2 0-2 1-1 1 0 6-1 1-2 0-1 1-1 0-2 1-2 0-4-2-2 1-2 0-2 2-2 4 0 2-1 2-1 1-2 0-4-4-2-1-2 2 0 1-2 2-2-1-1-2-5-5-2-1-2 0-2 1-1 1 0 4-1 2 2 1 0 1 2 2-2 2-2-1-1-1 0-2-2-2-1 0-4-2-1 0-1-1-2-1-1 0-1-1-2 2 0 1-2 1-2-1-2-4 1-2 0-2-1-1 0-1-1-2 0-2 1-2 2-2 1-2-2-4-3-3 0-1-1-2 0-4 1-2 0-3 4 0 2-1 0-6-2-2 0-1-1-1 0-2 1-2 2-1 6 0 3-3 3 0 2 1 2 0 4-2 2 0 6-3 10 0 4-2 1-2-1-2zM293 258l1-1 1 1 0 2-1 1-1-1z" fill="#05f4ff"/><path d="M255 204l4 0 0 2-1 2-1 0 0 2 2 2 1 2 2 2 0 1 2 1 2-4 4-4 1-2 0-4 1-1 2-1 2 1 1 1 2 4 2 2 1 0 4 4 0 1 1 1 0 2-1 2-2 2-1 0-1 2 2 4 0 4-2 4 0 4 2 4 0 2 1 2 0 2-1 1-4 0-1-1-1 0-4-2-2 1-6 0-2 1 0 2 2 4-2 1-2-1-1 0-2-2 0-2-1-2-2-2-2 0-2 1-3 3-5 0-8-4-2-2-1 0-5-5-2-1-1 0-4-4-1-2 0-6 2-2 2-1 1-1 1-2 0-4 2-1 2 1 6 0 1-2 1-1 2 0 2 1 3 0 0-2-2-2-1-2 1-2 1-1 2 0 2-1 6 0z" fill="#19cbff"/><path d="M243 226l3 0 2 2 1 2 0 4-1 2 0 4-2 4-2 1-2 0-2-1-1 0-1-1 0-1-2-2 0-4 1-2 0-2-1-2 0-2 2-1 2 0 2-1zM264 226l2-1 2 1 2 0 4 2 2-1 2 0 1 1 0 2-1 1-2-1-2 2 2 4 0 1 1 1 1 2-1 2-3 0-2 1-2-1-6 0-1-2 0-2 1-2 0-4-1-2 0-2zM225 232l1-1 1 1-1 1z" fill="#2ca2ff"/>
<use href="#outer"/>
</g>
<path d="M96.7 -15.5V0M96.7 408v15.5M213.6 -15.5V0M213.6 408v15.5M331.2 -15.5V0M331.2 408v15.5M-16 80.7H0M414 80.7h16M-16 231.1H0M414 231.1h16M-16 381.8H0M414 381.8h16" stroke="#000" stroke-width="3.3" fill="none"/>
<rect width="414" height="408" fill="none" stroke="#000" stroke-width="3.9"/>
</g>
<g transform="translate(918.5 1643.7) scale(0.9973 0.9966)">
<rect width="414" height="408" fill="#9a9a9a"/>
<polygon points="0,177.4 5.2,174.6 12.9,173.9 18.2,180.9 25.2,184.4 30.4,191.4 39.2,194.9 44.4,194.9 46.2,182.6 52.1,179.1 60.2,182.6 64.4,187.2 72.4,198.4 72.4,250.9 79.4,285.9 93.4,303.4 121.4,324.4 156.4,352.3 174.6,381 179.1,397.8 184.4,408.3 0,408.3" fill="#fff"/>
<g clip-path="url(#cpF)">
<rect width="414" height="408" fill="#ff0000"/><path d="M-6 -6l426 0 0 420-426 0zM170 348l-2 0-2 1-2 0-2 1-2 0-6 3-5 5-1 2 0 6 1 2 0 2 1 1 0 1 1 2 2 2 1 2 4 4 2 1 2 2 8 4 2 0 2 1 2 0 2 1 10 0 2-1 2 0 4-2 1 0 1-1 4-2 3-3 3-6 0-10-1-2 0-2-1-1 0-1-2-2-1-2-1-1-2-1-2-2-6-3-2 0-2-1-2 0-2-1-10 0-2 1z" fill="#ff4600"/><path d="M-6 -6l364 0-6 6-1 2-2 2-2 4-1 1 0 1-3 6 0 2-2 4 0 2-2 4 0 2-1 2 0 4-1 2 0 2-1 2 0 4-1 2 0 4-1 2 0 8-1 2 0 24 1 2 0 1 1 1 0 2 1 1 0 1 8 16 0 1 1 1 1 2 0 1 1 1 1 2 0 1 1 1 1 2 0 1 1 1 4 8 2 2 2 4 2 2 1 2 2 2 1 2 9 9 2 1 2 2 2 1 1 1 1 0 2 2 1 0 1 1 2 1 1 0 1 1 2 1 2 0 4 2 2 0 2 1 2 0 2 1 4 0 2 1 7-7 1-2 0 214-2-1-1-1-1 0-2-1-1-1-1 0-6-3-2 1-4 0-2 1-6 0-2 1-8 0-2 1-18 0-2 1-24 0-2 1-14 0-2 1-10 0-2 1-8 0-2 1-8 0-2 1-6 0-2 1-6 0-2 1-4 0-2 1-8 0-2 1-8 0-2-1-2 0-4-2-1 0-6-6-8-16-2-2-1-2-8-8-2-1-2-2-4-2-1-1-1 0-2-1-1-1-1 0-8-4-4 0-2-1-6 0-2-1-12 0-2-1-4 0-2-1-2 0-8-4-2-2-2-1-3-3-1 0-16-16-1 0-4-4-1 0-2-2-2-1-2-2-2-1-4-4-1 0-4-4-1-2-2-2 0-1-1-1-1-2 0-2-2-4 0-8-1-2 0-2 1-2 0-14 1-2 0-16 1-2 0-22-1-2 0-16-1-2 0-8-1-2 0-4-1-2 0-4-1-2 0-4-1-2 0-2-1-2 0-2-2-4 0-2-4-8-5-5-2 0-2 1-1 0-3 3 0 1-1 2-1 1 0 1-3 6 0 2-2 4 0 2-1 2 0 4-1 2 0 2-1 2 0 6-1 2 0 6-1 2 0 10-1 2 0 52-1 2 0 4-1 2 0 2-2 4-2 2-1 2-2 1-2 2-2 1-2 2-1 0-2 2-2 4 0 8 1 2 0 2 2 4 0 1 1 1 0 2 1 1 0 1 1 2 2 2 1 2 0 1 1 1 2 4 1 1 0 1 2 2 1 2 1 1 0 1 2 2 1 2 2 2 1 2 2 2 0 1 5 5 1 2 6 6 2 1 4 4 2 1 2 2 2 1 3 3 1 0 4 4 2 1 4 4 2 1 4 4 2 1 6 6 2 1 6 6 2 1 10 10 2 1 4 4 1 0 3 3 4 2 2 2 4 2 1 1 1 0 2 2 1 0 1 1 2 1 1 0 1 1 2 0 1 1-171 0zM413 -6l7 0 0 8-4-4-1-2z" fill="#ff7d00"/><path d="M207 32l1 0 2-1 2 0 2-1 2 0 2 1 4 0 1 1 1 0 2 1 1 1 1 0 6 6 1 2 2 2 1 2 0 1 1 1 0 2 2 4 0 6 1 2 0 4-1 2 0 2 1 2 0 1 1 1 2 4 2 2 1 2 0 1 1 1 1 2 0 1 1 1 0 2 1 1 0 1 1 2 1 1 0 1 4 8 16 8 1 0 1 1 2 1 1 0 1 1 2 0 1 1 1 0 2 1 1 1 1 0 2 1 1 1 1 0 2 1 2 2 2 1 1 0 1 1 4 2 2 2 4 2 3 3 1 0 6 6 2 1 3 3 1 2 6 6 1 2 3 3 0 1 4 4 0 1 3 3 1 2 2 2 0 1 2 2 0 1 2 2 1 2 2 2 2 4 2 2 1 2 2 2 0 1 1 1 2 4 2 2 4 8 1 1 0 1 1 2 1 1 0 1 6 12 0 2 2 4 0 2 1 2 0 2 1 2 0 2 1 2 0 4 1 2 0 6 1 2 0 18-1 2 0 6-1 2 0 4-1 2 0 2-1 2 0 2-2 4 0 2-3 6 0 2-1 2-1 1 0 1-1 2-1 1 0 1-2 2 0 1-1 1-1 2-2 2-1 2-9 9-2 1-2 2-2 1-1 1-1 0-2 2-1 0-1 1-2 1-1 0-1 1-2 0-6 3-2 0-2 1-2 0-2 1-2 0-2 1-2 0-2 1-4 0-2 1-4 0-2 1-10 0-2 1-10 0-2-1-12 0-2-1-4 0-2-1-4 0-2-1-2 0-4-2-2 0-16-8-2-2-4-2-1-1-1 0-2-2-6-3-1-1-1 0-2-2-10-5-1-1-1 0-2-2-1 0-1-1-8-4-2-2-2-1-2-2-2-1-11-11-1-2-2-2-1-2-2-2-1-2-2-2 0-1-1-1-2-4-1-1 0-1-1-2-1-1 0-1-1-2-1-1 0-1-4-8 0-2-2-4 0-2-1-2 0-2-1-2 0-2-1-2 0-2-1-2 0-6-1-2 0-20 1-2 0-6 1-2 0-4 1-2 0-2 2-4 0-2 2-4 0-2 9-18 2-2 2-4 2-2 1-2 2-2 0-1 3-3 1-2 2-2 1-2 3-3 0-1 4-4 1-2 4-4 1-2 2-2 1-2 2-2 0-4 1-2 0-8 1-2 0-8 1-2 0-4 1-2 0-4 1-2 0-2-2-4 0-1-1-1 0-2-1-2 0-6-1-2 0-2 1-2 0-6 2-4 0-2 1-2 1-1 0-1 2-2 0-1 6-6 4-2z" fill="#ffaf00"/><path d="M231 136l1 0 2-1 24 0 2 1 4 0 2 1 2 0 2 1 2 0 2 1 2 0 4 2 2 0 1 1 1 0 18 9 2 2 4 2 5 5 1 0 8 8 1 2 6 6 1 2 2 2 0 1 3 3 2 4 2 2 4 8 2 2 1 2 0 1 1 1 1 2 0 1 1 1 0 2 1 1 0 1 4 8 0 2 1 2 0 2 2 4 0 2 1 2 0 2 1 2 0 4 1 2 0 10 1 2 0 4-1 2 0 10-1 2 0 4-1 2 0 2-1 2 0 2-2 4 0 2-8 16-2 2-2 4-13 13-4 2-2 2-2 1-1 0-1 1-2 1-1 0-1 1-2 0-4 2-2 0-2 1-2 0-2 1-4 0-2 1-22 0-2-1-6 0-2-1-2 0-2-1-2 0-2-1-2 0-2-1-2 0-6-3-2 0-18-9-1-1-1 0-2-2-1 0-1-1-4-2-2-2-2-1-2-2-1 0-3-3-2-1-2-2-2-1-17-17-1-2-2-2 0-1-2-2 0-1-2-2-10-20 0-2-2-4 0-2-1-2 0-4-1-2 0-4-1-2 0-20 1-2 0-4 1-2 0-2 1-2 0-2 1-2 0-2 3-6 0-2 1-2 1-1 0-1 2-2 0-1 1-1 2-4 2-2 1-2 2-2 1-2 15-15 2-1 2-2 2-1 2-2 4-2 2-2 12-6 2 0 4-2 2 0 2-1z" fill="#ffe000"/><path d="M246 150l14 0 2 1 4 0 2 1 2 0 2 1 2 0 4 2 2 0 16 8 2 2 2 1 2 2 1 0 14 14 1 2 2 2 1 2 2 2 1 2 2 2 0 1 1 1 2 4 2 2 1 2 0 1 1 1 3 6 0 1 1 1 0 2 1 1 0 1 2 4 0 2 2 4 0 2 1 2 0 2 1 2 0 4 1 2 0 10 1 2 0 2-1 2 0 10-1 2 0 4-1 2 0 2-2 4 0 2-8 16-3 3 0 1-12 12-1 0-1 1-4 2-1 1-1 0-8 4-2 0-2 1-2 0-2 1-6 0-2 1-12 0-2-1-6 0-2-1-2 0-2-1-2 0-2-1-2 0-2-1-2 0-4-2-1 0-1-1-2 0-16-8-2-2-4-2-1-1-1 0-2-2-2-1-2-2-2-1-4-4-2-1-13-13-1-2-2-2-1-2-2-2-4-8-1-1 0-1-4-8 0-1-1-1 0-2-1-2 0-2-1-2 0-2-1-2 0-4-1-2 0-18 1-2 0-4 1-2 0-2 2-4 0-2 3-6 0-1 1-1 4-8 2-2 1-2 14-14 1 0 3-3 4-2 2-2 12-6 2 0 4-2 2 0 2-1 2 0 2-1 4 0 2-1z" fill="#f4ff15"/><path d="M238 172l2 0 2-1 18 0 2 1 4 0 2 1 2 0 6 3 1 0 1 1 2 1 1 0 1 1 4 2 1 1 1 0 4 4 1 0 6 6 1 2 4 4 1 2 2 2 2 4 1 1 0 1 2 2 0 1 1 1 3 6 0 1 1 1 0 2 2 4 0 2 2 4 0 4 1 2 0 4 1 2 0 12-1 2 0 6-1 2 0 2-2 4 0 2-1 1 0 1-3 6-1 1 0 1-2 2-1 2-9 9-4 2-1 1-1 0-2 1-1 1-1 0-4 2-2 0-2 1-6 0-2 1-6 0-2-1-6 0-2-1-2 0-2-1-2 0-2-1-2 0-4-2-1 0-1-1-2 0-1-1-1 0-2-1-1-1-1 0-2-1-2-2-6-3-2-2-2-1-2-2-2-1-4-4-2-1-5-5-1-2-4-4 0-1-1-1-1-2-2-2 0-1-1-1-1-2 0-1-1-1-1-2 0-2-2-4 0-2-1-2 0-2-1-2 0-4-1-2 0-10 1-2 0-4 1-2 0-2 2-4 0-2 4-8 2-2 1-2 2-2 1-2 4-4 1 0 4-4 2-1 2-2 14-7 2 0 4-2z" fill="#d7ff4b"/><path d="M243 186l3 0 2-1 8 0 2 1 4 0 4 2 2 0 10 5 2 2 2 1 8 8 1 2 3 3 0 1 2 2 7 14 0 2 2 4 0 2 1 2 0 6 1 2 0 6-1 2 0 6-1 2 0 2-3 6 0 1-1 1-2 4-1 1 0 1-8 8-10 5-2 0-2 1-16 0-2-1-4 0-4-2-2 0-16-8-2-2-2-1-2-2-2-1-11-11-2-4-2-2-3-6 0-2-2-4 0-2-1-2 0-4-1-2 0-6 1-2 0-4 1-2 0-2 2-4 0-1 1-1 1-2 0-1 1-1 1-2 2-2 0-1 5-5 1 0 4-4 1 0 1-1 10-5 2 0 2-1 2 0 2-1z" fill="#b9ff82"/><path d="M241 198l1 0 2-1 14 0 2 1 2 0 10 5 2 2 2 1 4 4 1 2 2 2 1 2 2 2 0 1 1 1 3 6 0 1 1 1 0 2 1 2 0 2 1 2 0 4 1 2 0 6-1 2 0 4-2 4 0 2-1 1 0 1-1 2-2 2-1 2-4 4-2 1-2 2-2 1-2 0-4 2-12 0-2-1-2 0-2-1-2 0-4-2-2 0-2-1-1-1-1 0-2-2-1 0-1-1-2-1-2-2-2-1-9-9-2-4-2-2-1-2 0-2-2-4 0-2-1-2 0-12 1-2 0-2 5-10 7-7 4-2 1-1 1 0 2-1 1-1 1 0 4-2z" fill="#7affb1"/><path d="M240 208l2-1 2 0 2-1 8 0 2 1 2 0 2 1 2 0 2 1 2 2 2 1 6 6 1 2 2 2 4 8 0 2 1 2 0 2 1 2 0 10-1 2 0 2-3 6-1 1 0 1-4 4-8 4-12 0-2-1-2 0-12-6-3-3-1 0-6-6 0-1-2-2 0-1-1-2-1-1 0-1-2-4 0-4-1-2 0-2 1-2 0-4 4-8 6-6 2-1 1-1 1 0z" fill="#34ffde"/><path d="M243 218l1 0 2-1 8 0 8 4 3 3 2 4 1 1 0 1 2 4 0 2 1 2 0 6-4 8-2 2-1 0-4 2-2 0-2 1-2-1-4 0-8-4-2-2-2-1-1-1-1-2-2-2-2-4 0-2-1-2 0-4 1-2 0-2 1-2 6-6 1 0 2-1z" fill="#05f4ff"/>
<use href="#outer"/>
</g>
<path d="M96.7 -15.5V0M96.7 408v15.5M213.6 -15.5V0M213.6 408v15.5M331.2 -15.5V0M331.2 408v15.5M-16 80.7H0M414 80.7h16M-16 231.1H0M414 231.1h16M-16 381.8H0M414 381.8h16" stroke="#000" stroke-width="3.3" fill="none"/>
<rect width="414" height="408" fill="none" stroke="#000" stroke-width="3.9"/>
</g>
<g transform="translate(1530.2 1645.5) scale(0.9957 0.9973)">
<rect width="414" height="408" fill="#9a9a9a"/>
<polygon points="0,177.4 5.2,174.6 12.9,173.9 18.2,180.9 25.2,184.4 30.4,191.4 39.2,194.9 44.4,194.9 46.2,182.6 52.1,179.1 60.2,182.6 64.4,187.2 72.4,198.4 72.4,250.9 79.4,285.9 93.4,303.4 121.4,324.4 156.4,352.3 174.6,381 179.1,397.8 184.4,408.3 0,408.3" fill="#fff"/>
<g clip-path="url(#cpF)">
<rect width="414" height="408" fill="#b4ff8c"/><path d="M64.5 234.5l2.6 2.0v2.7l-2.6 -2.0zM62.8 237.6l3.9 2.9v2.9l-3.9 -2.9zM61.6 240.0l4.2 3.2v2.5l-4.2 -3.2zM63.6 238.0l3.3 2.5v3.0l-3.3 -2.5zM61.4 236.7l3.2 2.4v2.5l-3.2 -2.4zM65.1 239.8l2.9 2.2v3.0l-2.9 -2.2zM61.9 239.7l3.6 2.7v3.0l-3.6 -2.7zM67.0 236.6l2.6 1.9v2.6l-2.6 -1.9zM59.1 236.1l4.5 3.4v2.0l-4.5 -3.4zM80.6 236.8l3.6 2.7v3.0l-3.6 -2.7zM84.5 237.3l2.7 2.0v2.2l-2.7 -2.0zM83.6 237.8l4.1 3.1v2.6l-4.1 -3.1zM84.8 237.1l3.3 2.5v2.6l-3.3 -2.5zM79.4 252.6l5.6 4.2v2.8l-5.6 -4.2zM72.1 221.4l2.8 2.1v3.0l-2.8 -2.1zM112.0 246.5l3.4 2.5v2.8l-3.4 -2.5zM91.3 244.6l2.8 2.1v2.1l-2.8 -2.1zM89.3 266.8l3.4 2.5v2.8l-3.4 -2.5zM96.8 270.3l2.4 1.8v2.1l-2.4 -1.8zM108.8 270.1l2.8 2.1v2.1l-2.8 -2.1zM78.5 276.3l3.9 2.9v2.8l-3.9 -2.9zM82.6 286.2l2.8 2.1v2.8l-2.8 -2.1zM98.3 286.2l2.8 2.1v2.8l-2.8 -2.1zM93.1 293.2l2.8 2.1v2.8l-2.8 -2.1zM72.1 248.1l2.8 2.1v2.1l-2.8 -2.1zM68.8 257.0l2.4 1.8v2.1l-2.4 -1.8zM167.3 266.8l3.4 2.5v2.8l-3.4 -2.5zM251.3 259.8l3.4 2.5v2.8l-3.4 -2.5zM268.0 279.9l2.8 2.1v2.8l-2.8 -2.1zM276.9 223.2l3.9 2.9v2.8l-3.9 -2.9zM306.2 272.7l3.4 2.5v2.8l-3.4 -2.5zM313.4 268.9l5.0 3.8v2.8l-5.0 -3.8zM232.0 305.8l2.8 2.1v2.8l-2.8 -2.1zM258.0 312.0l3.9 2.9v2.8l-3.9 -2.9zM284.5 140.0l2.8 2.1v2.8l-2.8 -2.1zM111.5 324.4l4.5 3.4v2.8l-4.5 -3.4zM138.3 340.9l3.4 2.5v2.8l-3.4 -2.5zM145.6 349.2l2.8 2.1v2.8l-2.8 -2.1zM153.3 360.5l3.4 2.5v2.8l-3.4 -2.5z" fill="#ffa812"/><path d="M280.7 125.0l3.4 2.5v3.0l-3.4 -2.5z" fill="#ff1500"/>
<use href="#outer"/>
</g>
<path d="M96.7 -15.5V0M96.7 408v15.5M213.6 -15.5V0M213.6 408v15.5M331.2 -15.5V0M331.2 408v15.5M-16 80.7H0M414 80.7h16M-16 231.1H0M414 231.1h16M-16 381.8H0M414 381.8h16" stroke="#000" stroke-width="3.3" fill="none"/>
<rect width="414" height="408" fill="none" stroke="#000" stroke-width="3.9"/>
</g>
<g transform="translate(249.0 2275.5) scale(0.9990 1.0007)">
<rect width="414" height="408" fill="#9a9a9a"/>
<polygon points="0,177.4 5.2,174.6 12.9,173.9 18.2,180.9 25.2,184.4 30.4,191.4 39.2,194.9 44.4,194.9 46.2,182.6 52.1,179.1 60.2,182.6 64.4,187.2 72.4,198.4 72.4,250.9 79.4,285.9 93.4,303.4 121.4,324.4 156.4,352.3 174.6,381 179.1,397.8 184.4,408.3 0,408.3" fill="#fff"/>
<g clip-path="url(#cpF)"><g clip-path="url(#cpC)">
<rect width="414" height="408" fill="#ff0000"/><path d="M-6 -6l48 0 2 1 1 1 1 0 2 2 3 6 1 1 2 1 2-1 0-1 2-4 4-2 2 1 2-1 1-2 0-2 50 0 1 1 2 0 2 1 2 2 2 4 2 2 2-1 1-1 0-2-1-2-4-4 186 0-1 2 0 2-1 2 0 2-4 8 2 1 2-1 0-2 2-4 0-1 4-2 4 0 0 1 2 1 4 4 2 0 2-1 1-2-1-2 0-2-1-2 0-2-1-2 55 0 1 2 6 3 1 1 1 2 2 2 0 1 3-3 5 0 2 1 2 0 2-1 0-2-1-2 0-2-1-2 14 0 0 15 0-1-4-4-1 0-4 4-1 2 0 2-1 2 1 2 2 2 2-1 1-1 1 0 4-2 0 21-2-1-2 4 0 2 1 2 1 1 2 0 0 371-331 0-2-2-2-4-3-3-4 0-1 1 0 2 3 6-33 0-1-1-4 0-2 1-38 0-2-2 0-1-2-1-2 0-2 4 0-39 2-1-2-2 0-24 1-2 0-2-1-1 0-54 2 0 2 1 4 0 2-2 0-4-1-2-1-1 0-1-2-2-1-2-1-1-2-1-2 1 0-13 2 0 2-1 1-1-3 0-2-1 0-15 4 8 1 0 1 1 3-3 0-2-3-3 0-1-2-4 0-2-2-4-2-2 0-7 2 2 2 1 6 0 2 1 1-1 0-2-8-8 0-6-1-2 0-5 1-1 1-2 0-4 1-2 3 0 2-1 2-2 2 0 2 1 2 0 1-2-1-2-2-2-2-1-2 1-4 0-4 2-2-1-2-2-2-1 0-29 0 1 2 2 2 1 2 0 2-1 2-2 0-2-1-2 0-4-1-1-2 0-2-1-1 0-2-2 0-2-1-2 0-17 1 1 1 2 0 1 1 1 0 2 1 1 6-3 4 2 0 6-2 1-1 1-1 2 0 2 1 2 1 1 2 0 1-1 0-6 1 0 2-1 2 1 2 0 2-2-2-4-4-2-2 0-2-2 0-8 2-2 2-1 2 1 1 0 1 1 2 1 3 0 0-2-1-2-2-1-5-5-1-2 4-4-2-1 0-1-2-1-6-6-2-1-1-2 0-2 2-2 1-2 2 1 0 1 2 2 1 2 0 2 3 3 2 1 2 0 0-2 1-2 1-1 2 1 2 0 2-2 0-2-2-4-4-4-1 0-4-4 0-2 1-2 2 1 4 0 1-1 0-4-1-1-2 0-2-1-4 2 0 1-1 1-5 0-6 3-4-2-1-1 0-2-1-1 0-1-2-2 0-38 2-2 1-2 2-2-1-2 0-1-2-2-2-1zM8 10l-1 0-1 2 1 2 1 0 2 1 2 0 2-1 1 0 1-2-1-2-1-1-2 0-2 1zM16 56l-1 0 0 2 3 3 2-1-2-4zM28 48l-1 2 0 6-1 2 1 2 1 1 2 1 3 0 1-2 0-2-2-4 0-2-1-2-1-1zM38 146l-2 2-3 6-1 0-4 2 0 2 2 4 0 1 4 0 2-1 2-4 0-1 2 0 1 1 1 2 2 1 4 0 2 1 6 0 2 1 2-1 1 0 2-2-1-2-2-2-2-1-10 0-4-2-3-3-1-2zM42 18l-1 2 1 2 1 0 1-2zM54 66l-1 0-1 1-2 1-2 2-1 2 1 2 0 2 4 4 2 1 2 2 2 1 2 2 2 0 0-2-4-4 0-2 4-2 2 1 2-1 2 0 0-4-1-2-3-3-4-2-4 0zM64 55l-1 1-1 0-1 2 0 2 1 2 2 2 2 1 2-1 1 0 0-2-2-2-1-2 0-1zM76 -4l-2 0-1 2 0 4-1 1-4 0-2 1-1 2 1 2 0 1 5 5 1 2 4 4 2 1 2-1 4 0 1-2 0-2-1-2-4-4 0-1-1-1 1-2 2-2 1-2-1-2 0-1-2-2-2-1zM98 -2l-4 2-2 2-1 2 0 2 3 3 2 0 2-1 1 0 2-2 1-2 2-1 1-1 0-2-1-1-2-1zM116 42l-1 0 0 2-1 2 0 2-1 2 2 4 2 2 0 4-1 2-2 2 0 2 2 2 2 0 2-1 0-9 1-2 0-2 1-2-1-2 0-2-2-4-1-1zM122 30l0 2 2 2 1 0 1 1 2 1 2-1 6 0 2-1-2-2-2 0-2-1-2 0-2-1zM150 42l-1 2 1 1 2 1 2 0 2 1 2 0 1-1-1-1-2 0-1-1-1 0zM154 27l-2 1 0 2 2 2 2 1 2 0 4-2 2-2 0-2zM168 365l-1 1-1 2 0 10-1 2 0 4 2 2 1 2 2 1 1 1 1 0 4 2 2 0 6 3 1 1 1 0 2 1 2 0 1-1 0-4-1-2-2-2-1 0-1-1-2-1 0-1-1-1 1-2-2-4-2-1-2 1-2-1-1-1-1-2 0-2 2-4 0-2-2-2-2 0-2 1zM174 43l-4 2-1 1 0 2 2 2 0 2 1 1 1-1-1-2 0-2 2-2 4 0-2-2zM182 11l-1 1 0 2 1 1 2 1 1-2 0-2-1 0zM186 46l-1 0-2 2 1 0 4 2 5 0-1-1 0-1-4-2zM202 376l-2 2 2 1 1-1 0-2zM218 16l-2 0-1 2 0 4 1 2 0 2-1 2 1 1 2 0 1-1 2-4 1-1 0-4-2-2zM252 9l-2 2 0 1-2 2 0 2 1 2 1 0 2 1 2 0 1-1 1 0 1-2 0-2-1-2-2-2zM258 0l-2 2 1 2 1 1 2 0 1-1 0-2-1-2zM358 16l-1 0-1 2 1 2 1 1 2 1 0 2 2-4 0-4-2-1zM366 11l-1 1 0 2 2 2 1 0 1 2 0 2 1 2 0 1 1 1 1 2 2 1 3-3 0-4-2-2-1-2 0-2-1-2-1 0-2-1zM404 41l-2 1 0 4 1 2 1 0 2 1 2-1 1-2-1-2-2-2zM414 26l0 3 2 1 0-2zM6 354l-8 4-1 2 2 2 4 0 1-1 2 0 2 1 2-1 1-1 1-2-1-2-2-2zM16 171l-1 1 0 4 2 2 1 2 2-4 0-2-1-2-1-1zM20 149l-3 3 1 2 2 2 2 0 2-1 2 0 0-3-2-2-2-1zM28 276l0 4-4 2-4-2-2 0 0 2 2 2 2 1 6 0 2 1 3 0 1-2-1-2 1-2 0-2-1-2-1-1-2-1zM34 330l0 2 2 2 1-2-1-1zM48 199l-2 1 0 2 2 4 2 1 2 0 0-1-3-6zM60 189l-3 3-1 2 1 2 2 2 4 8 1 1 2 1 4-2 0-2-2-4 0-1-2-2 0-1-2-4-2-2zM42 56l-2 1 0 1-2 4 1 2 0 4 1 2 2-2 0-1 2-2 0-1 2-2 1-2 0-2-2-2zM52 97l-2 1-1 2 1 1 0 1 4 2 2-1 1-1-1-2 0-1-2-2zM66 40l-1 0-1 2 2 1 2-1 1 0-1-1zM70 193l-1 1 1 0 2 2 2 1 2-1-1-2-1-1-2-1zM76 108l-2 0-2 4 0 1-1 1-1 2 1 2 2 2 3 6 0 1 3 3 1 0 2 1 2-1 1-2 0-2-2-4-4-4 1-2 0-1 1-1 0-2-1-1 0-1zM80 62l-2 4 0 4 2 2 2 0 2 1 6 0 2 1 1-2-1-2-4-2-2-2-1 0-3-3zM94 99l0 1-1 2 1 2 0 4 1 2 1 1 2 1 4 0 4-2 0-1 1-1-3-3-4-2-4-4zM102 29l-2 1-1 2 0 2 2 4 2 2 1 0 2 1 8 0 0-1 1-2 0-4-1-2-2-2-2-1zM134 45l0 7-2 2 0 4 2 2 6-3 1 1 1 0 4 2 2 0 0-2-2-4-2-2-1 0-1-1-2-1 0-2-2-2-2-1zM190 375l-1 1 0 2 3 3 2 1 5 0 1-2 0-1-2 0-2-1-2-2-2-1zM358 26l-4 2 0 4 2 2 2 1 10 0 2-1 1-2-5-5-2-1-2-2-2 0zM404 83l-1 1-1 2 2 2 2 1 1-1-1-2 0-1zM6 397l-2 2 0 1-2 2-1 2 0 2 2 2 1 0 2 1 2-1 2-4 0-2-2-4zM16 258l-4 2-5 0 1 2 2 1 4 0 1 1 1 0 2 1 1-1 1-2-2-4 0-1zM18 336l-1 2 0 4-1 2 1 2 0 6 2 2 1 0 1-2 0-2 1-2 10-5 1-1-1-2-2-1-2 0-2-1-1 0-1-1-2-1zM46 390l-1 0-1 1-2 1 0 1-1 1 0 2 2 4 1 0 2 1 2 0 2 1 2 2 1 2 1 1 2-1 2-2 1 0 1-1 2-1-1-2-1-1-6-3-2-2-1-2-1-1-2-1zM64 214l-1 2 1 0 2 2 1-2-1-1zM68 390l-1 2 1 2 2 0 2-2-1-2zM78 208l-1 2 1 1 2 0 0-2zM84 349l-1 1-1 2 1 2 1 1 2 1 3 0 1 1 2-2 0-3-1-2-1-1-2-1-2 0zM92 305l-1 1 1 1 1-1zM100 318l-1 0 0 2 1 1 2 1 1-2-1-2zM102 53l-2 1 0 1-1 1 0 2-1 1-2 1 0 2 1 2 1 1 2 0 1-1 0-2 1-1 2 0 2 1 1 0 1 1 2-1-2-2 0-2-1-2-3-3zM370 387l-1 1 1 1 1-1zM12 325l-1 1 0 2 1 2 2 2 2-2 0-2-1-2-1 0zM28 355l-1 1 1 2 2 1 2 0 1-1-1-2-2-1zM70 400l-1 2 1 0zM80 216l-1 2 1 2 0 1 2 0 1-1-1-2 0-1zM14 396l0 1 2 0 1-1-1-1zM80 327l-1 1 1 2 2 1 0-2zM-4 80l0-1 2 1 6 0 2 1 2 2 2 1-2 4-2 0-4-2-4 0-1-2-1-1zM-6 92l2-1 1 1-1 1-2 0zM-4 98l4 0 2 2 3 6-1 2-2 2-1 2 0 2 1 2-1 2-1 1-6 0 0-20z" fill="#ff4600"/><path d="M138 -6l8 0 0 2 2 1 2-1 2 0 2-1 2 2 2 1 6 6 2 1 2-2 4 0 2 1 2 2 1 2-1 2 0 2-1 2 1 2 0 1 1 1 2 4 0 2-1 1 0 1-1 2 0 2 6 6 1 2 2 0 1-2 2-2 0-2-2-4 0-2-1-2 2-1 1-1 1 0 2-4 0-6 1-2-1-2-4-4-2-1-2 1-2 0-2-2-2-4-2-2-1-2 41 0 1 2 4 4 1 0 2 1 4 0 2 1 2 0 2-1 1-1 1 0 2-1 1-1 0-4 20 0-1 2-2 1-1 1-1 0-2 1-2-1-2 2 0 2-3 6-1 1-2 1-6 0-4-2-4 0-2 4 0 1-2 2-4-2-2-2-6 0-1-1-1 0-2-2-2-1-2-2-2-1-1-2-1-1 0-1-2-2-2-1-1 1 3 6-1 2-2 2 3 3 2 0 1-1 1-2 2 0 2 2 2 1 3 3 0 2-1 2 1 2 0 2-1 2-2 0-2 1-1 1 0 2-1 2 1 2 1 1 6 0 2 1 2 0 2-1 4 0 2-1 1 0 1-1 0-1 1-2 0-4 1-2 2 0 4 2 2 0 1-2 2-2 3 0 4 2 1 0 1 1 2 1 1 2 2 2 0 2 1 1 0 1 2 2 1 2 0 2 3 0-1-2 2-4-2-4 0-2-1-2 0-2 2-2 0-1 2-1-2-4 0-4 4 0 2 2 1 2 0 2-2 2 0 2 1 2 0 4 1 2 0 2 2 2 1 0 2 1 2 0 2 1 4 0 2 1 2 2 2 1 2 0 0-2-4-4-1 0-1-1-6-3-2-2-1-2 0-2 1-2 2-2 2 1 2-1-2-1-2 1-2-1 0-1-2-4 1-2 0-4-1-1 0-1-2-2 2-1 6-6 2-1 10 0 2 4 2 1 2-1 1-2-1-2 11 0 0 2-3 6 0 1-2 1-2 0-2 1-1 1 0 2 1 2 4 4 1 0 1 1 2 1 2 2-1 2 0 4-1 2-2-1-2-2-2-1-2 0-2-1-4 0-1 1-1 0-2 2 0 2 1 2 1 1 2 1 2 0 2 1 1 1 0 2 1 2 8 8 1-2 0-4-1-2 0-6 1-2 1-1 2 2 0 1 1 2 0 2 1 2 2 2 4 0 2-1 1-1 0-4-1-2 0-1-1-1-2-4 3 0 2 2 1 2 2 2 1 2 1 0 1 1 0-1 1-2 0-4 1-2 0-1 4 0 2 1 2 2 1 2 0 2-3 6-4 2-2-1 0 5 2 2 4 2 1 2 0 6 1 2 0 1 2 2 2 1 2 0 2-1 0-3-1-2 0-2 1-2 2-1 1 1 1 0 3 6 1 1 2 1 4 0 6 3 1-1 0-4-1-2 2-2 4-2 1 0 1-1 8 0 2-1 6 3 1 1 1 0 2 1 5 5 0 6-3 0-1 2 1 2 4 4 0 4-2 4 0 1-2 1-2-1-1-1-1 0-2-2-2-1-2-2-4 0-2 1 1 2 0 4-1 2-2 0-2-1-2 0-1 1 0 2 1 2 2 1 2 0 2 1 4 4 2 0 2 1 2-2 0-1 4-2 2 1 1 1 0 2-1 2-2 0-2 1 0 1 2 4 0 3-2 2-4 0-1 1-1 2 0 2 1 2 2 2 1 2-2 1-3 3 1 2 2 2 5 0 1-1 2 0 1 1 2 4 0 2 2 4 4 4 0 2 1 2 0 2 1 2 2 2 0 2 1 2 2 1 1-1-2-2 2-2 7 0 0 9-1 1 0 2 1 2 0 18-2-1-2 0-2-1-2 2 2 4-1 2 0 2-1 2 1 2 1 0 2 1 1 1 1 2-1 2 0 4 3 3 0 120-1-1-4 0 0 2 2 2 3 0 0 5-2 1-1 0-1 1-2 1 0 2 1 2 1 0 2 2 1 2 1 1 0 20-2 0-2-1-2-2-1 0-1-1-4 2-1 1 0 2 1 2 2 2 1 2 0 2 1 2 2 2 6 3 0 17-2 2-1 2 3 3 0 7-21 0-1-1-2-1-2 1-2 0-2 1-60 0 0-2 1-2-1-2-2-2-2-1-3-3 1-1 0-1 2-1 3-3 0-2 1-2 0-2-2-2-2-1-4 2-2 0-2-2-4-2-2 1-2 2 0 2 1 2 2 2 1 2 4 4 0 4 1 2 3 3 2 1 1 2 0 2-165 0 0-3 1-1 0-2-3-3-2 1 0 6-1 2-9 0-4-2-2 1-1 1-43 0-1-2-1-1-2 0-4-2 0-1-6-6 0-1-2-1 0-1-1-1 0-6-1-2-2-1-5-5-1-2 0-2-2-2-2-1-2 0-1 1 0 2 2 4-1 1 0 1-2 2 0 2-1 2-1 1-2-1-1 0-7-7-2-1-4-4-4 4-8 4 0 2 2 2 0 1 1 1 1 2 0 2-2 1-2 0-2 1-4-2 0-1-1-1-1-2-2-1-2-2-4-2-4 0-4-2-2 0-2 1-1 2-1 1 0 1-2 4-2 2-4-2 0-16 2 1 6-3 4 0 2 1 4 4 2-1 0-2-1-2 0-2 1-2 2-2 1 0 1-1 1 1 1 0 2 2 2 0 1-2 2-2-2-4-1-1-2 0-4 4-3-3 1-2 2-2 8 0 4 2 2 0 2-2 4-8 1 0-1 0-4-2-1 0-1-1-2-1 0-2 4-2 2 0 4-2 2-2 0-2-1-2 0-2 1-2 2-2 1-2 5-5 2-1 0-2-1-2-1-1-2-1-2-2 0-1-2-2-2-1-4 2-4 0-2-1-2 0-1 1 0 8-1 0-4 2-1 0-1 1-4 0-1-1-1 0-2-2-1 0-1-1-2 0-1 1-2 4 0 4 1 1 0 1 1 2-1 2 0 1-1 1 0 2-1 2-2-2-2-4 0-1-1-1-1-2 0-1-1-1 0-4-1-1 0-1-2-1-1-1-1-2 0-18 1 0 2-4 0-2 1-1 2-1 4 0 4-2 6 0 2-4 2-1 1 1 1 0 2 2 1 0 1 1 4 2 2-1 4 2 8 0 4 4 6 3 2-1-2-4 1-2 1-1 2 0 2-1 1-2-8-8-1-2 0-2-1-2 3-3 2-1 2 1 3 3 0 6 1 0 2 2 4 2 2-1 8 0 2-1 2 0 1 2 0 2 1 2 4 2 1-2 0-2 1-2 0-4-2-2-2-1-2 0-2 2-1-1-1 0-4-4-2 0-2-1-1 1-1 2-2 1-1-1-1 0-2-2 0-2 2-1 4 0 1-1 0-4-9-9-2 0 0 1-2 2 0 1-1 1 0 2-3 6-2-2-2 0-2-1-4 0-6-3-1 0-1-1-2 0-1 1-1 2-2 2-2 0-2 2 0 4-2 1-2 0-2-1-4 0-2 1-1 1-1 0-2 1-2 0-1-1-1 0-1-2-2-2 0-2-1-2 2-2 2 0 2-1 2 0 2-1 2 0 6 3 2 0 2-1 2-4 0-4-1-2 1-2 2-1 0 1 2 1 4 4 2 0 1-1 0-4-4-4-1 0-4-2-1 0-2-2-1-2 0-2-1-2 0-2 1-2 2 0 2 2 1 2 1 1 2 1 2-2 0-6-1-2 0-4-1-1 0-3 2-2 2 0 1 2 0 10 1 1 0 1 2 2 1 2 2 2 1 2 2 1 2 0 4-2 1-1 0-2-1-1 0-1-1-2-1-1 0-1-1-2 0-2 1 0 2-1 1-1 1-2-1-2-2-2 0-4-2-2-1 0-4-4 0-2 2-2 2 0 8 4 1 2 0 2-4 4 0 2 1 1 0 1 4 2 2 0 3-6 1-1 2 0 3 3 1 2 0 6-4 4 0 2-1 2-1 1 0 4 2 2 2-1 1 0 1-1 2-1 2-4 2-1 2 0 2-1 0-2 2-2 2-1 2 0 0 5 1 2 1 0 2 2 2 1 2 2 2 1 2 0 2-2 0-6 2-1 2-2 0-1 1-2-1-2 1-2 0-2-2-4 1-1 2 0 2-1 0-3-2-2-2 0-2 1 0 4-4 2-2 2 1 2 1 1 0 1 1 2 0 2-1 2-2 0-2-1-2 0-2-1-2 0-2-2 0-4 2-1 2-2 2-1-2-4 0-2 1-2 0-2-1-2-2-2-1-2-1-1 0-1-2-2 0-2-1-2 0-4-1-2-2-2-2-1-2-2-2 0-2 1-4 0-2-1-2-2-2-1-3 0-2 2-1 2-2 2 0 1-2 1-4-4-6-3-3-3-2-4 0-6-1-2 0-2 2-1 2 1 1 2 1 1 0 1 1 2 1 1 0 1 2 2 2 1 6 0 2-1 0-2-2-4 0-1-1-1 7 0 2-2 4-2 2 1 2-1 1-2 0-2 1-2 0-1 2-1 1 0 1-1 10 0 2-1-1-2 0-2-2-4 1-1 2-1 2 1 2 0 2-1 2-2 0-9 1-1 2-4 0-2 2-4 0-4 1-2 2-2 2 0 2-1 2 0 1-1 1 0 4-2 4 0-1-2 1-2 0-1 2-1 2 0 2 2 1 0 2 2 1 0 1-2-1-2 0-4-1-2-1-1-2 1-2 2-2 1-2-1-4-4-8-4-1 0-1-1-2-1 0-1-1-1 3 0 2-1 2-2 0-1 1-2 1-1 0-1 1-2 1-1 2-1 6-6 4-2 1-2-1-2 0-3 2-1 2 1 4 4 4 2 2 2 2 0 2-1 4 0 4 4 0 1 1 1-2 2-1 0-2 1-2 2 0 1-2 2 0 4 2 4 2-1 2-2 2-1 2-2 1-2 0-4 3-6 0-2 2-2 0-2 1-2 0-2-1-2 0-1-1-1-2-4 1-2 6 0 6 6 2 1 2 0 2-1 8 4 2-2 2 0 2 4 2 2 2 0 2 1 1-1 0-2-1-2 0-1-1-1 0-4 1-1 2-1 1 2 3 3 0 1 6 6 0 1 2 0 2-1 0-4-1-2-1-1 0-1-2-2-2-4 1-2 0-8-1-2-2-2-2 0-1 2 0 2-1 2-4 0-2-1-5-5-1-2-2 1 0 1-2 1-2-1-4-4 0-1-1-1 0-2-2-4-4-4-1 0-2-2-2-1-1-1-1 0-2-1-1-1-1-2 0-2 1-2 0-2-1-1-1 1-1 2-2 1-1 1 1 2 0 2 1 2-2 2-3 0-4 2 0 2 2 4 0 4-2-1-1-1-1 0-1-2-1-1-4-2-2 0-2-2-2-1-1-2-2-2 0-2-2-4 0-2 4 0 1 1 2 1 8 0 2-2 2-1 0-9-2-4-2-1-1-1-1 0zM208 38l0 2 2 2 2-2-1-2-1-1zM218 55l0 5 2 1 2 0 1-1 0-2-1-2-2-1zM236 32l0 1 1-1zM238 39l-3 3 0 2 2 4 1 1 0 1 4 4 4 2 2 2 0 1 2 2 2 0 0-1 1-2-1-2 0-1-2-1-2 0-2-1-1-1-2-4 0-2-1-2 0-2-2-2zM286 6l0 4 2 2 1-2-1-2 0-1zM312 47l-1 1-1 2 0 2-4 2 0 2 2 1 2-1 2 1 2 0 2 1 2-1 0-1 1-2-2-4-3-3zM350 64l-2 2-2 1-3 3-1 2 0 2 1 2 2 2 4 0 2-2 0-2-1-2 0-3 2 0 2 1 2 0 2-1 2 0 1-1-1-1-2-1-2-2-1 0-1-1-2 0zM370 132l0 2 1 2 5 5 2 0 0-3-1-2-3-3-2-1zM372 114l-2 2 0 2 1 2 1 1 4 0 2-1 0-2-1-2-1-1-2-1zM374 70l-1 0 0 4 2 2 2 0 2-2-1 0-1-2-2-2zM376 97l-1 1 1 2 4 4 2 1 0-1 1-2-1-2 0-2-2-2-2 0zM400 350l0 4 1 2 3 0 2-2-2-2zM402 211l-1 1 1 2 2 2 2 1 2 0 2-1 0-2-1-2-1 0-2-1zM410 166l-1 2 1 1zM414 156l-1 0 1 1zM22 380l1 2 1 1 2 1 0-3-1-1-1-2zM30 301l-2 1 1 2 1 1 2-1 0-2zM64 290l-1 0-1 2 2 0 2 1 6 6 2 0 2-1 0-2-1-2-1 0-2-2-1 0-1-1-2-1zM88 264l-1 0-1 2 1 2 3 3 2 1 6 0 2 2 2 0 0-1-2-2-4-2-1-1-1-2-2-2 0-1-2 0zM96 163l0 3 1 2 0 4 1 2 2 1 2 0 2 1 2 0 4 4 0 1 1-1 0-2-1-2-2-2-4-8-2-2 0-1zM112 122l-2 0-1 2 0 2 1 2 0 1 4-4 2-1 2 0-2-2zM122 117l-1 1 0 2-1 2 0 2 2 1 6 6 2 1 3 0 1-2-4-8 0-1-1-1-1-2 0-1zM142 125l-1 1-1 0-2 4 1 2 1 1 2 0 2-1 2-2 0-2-2-2-1 0zM148 101l-3 3 0 2 1 1 4 2 4 0 1-1-1-1 0-1-4-4zM156 130l2 2 1-2-1-2zM178 80l-1 2 2 2 2 0 0-2-1-2zM198 82l-1 2 1 1 1-1zM346 94l-1 0 1 2 2 1 1-1 0-2-1-1zM360 81l0 1 2 2 1 0 0-2-1-2zM378 153l-2 1 0 1-1 1 1 1 2 0 1 1 1 0 4 2 1-2-1-1 0-1-2-2-2-1zM402 225l-1 1 0 4 1 2 0 2 2 4 2 1 2 0 0-1 1-2 0-2-2-4-2-2-1-2zM90 299l-6 3-2 2 1 2-5 10 0 1-2 2 0 1-2 2 0 1-4 0-2-1-2 0-2-1-2 0-1 1-1 2 4 4 0 5-2 1 0 2 2 1 6 6 4 2 2 0 2 1 0 2-1 2-1 1-2 0-2 1-1 2 0 2 1 1 2 1 2-2 2 0 2 2 1 2 0 2-1 2-2 0-2-1-2 0-1 1-1 0-2 1-1 1 0 2 1 2 6 6 4 2 2-2 1-2 0-6 1-2 2 0 2 1 4 0 2-1 2 0 2-2 0-4-1-2 0-4-1-2 2-2 4 4 2 1 2-1 0-1-1-1-1-2 0-1-1-1-1-2-4-2-2 0-2 1-2-1-2 0-2-1-2 0-1-1 1-1 2-1 2 0 2-2 2-4 2 1 1 1 1 2 2 1 1-1 0-2 1-2 0-1 2 0 0 1 8 8 2-1 1-1 1-2-1-2-1 0-2-2-2-1-2 0-3-3 2-4 2-2 1-2 0-1 2 0 2 1 1-2 0-2-1-1-2 0-1 1-1 2-8-8-1-2 0-2 1 0 2-1 1-1 0-2-3-3-2-1-8 0zM112 129l-1 1-1 0 0 4 1 2 3 3 2 1 4 0 2 2 1 0 1 1 1-1 1 0 1-2 0-2-3-3 0-1-2-2-2-1-2 0-2 1-4-2zM128 383l0 2 1 1 2 0 1-2-2-1zM134 374l-1 0 0 4 1 2 2-1 1-1 1-2-1-2zM142 342l-1 0-2 2 1 2 0 2 1 2 0 2 1 2-1 2 1 2 0 1 1 1 1 2 1 0 1 1 2 1 4 4 2 1 4 0 2 1 1 2 0 2-1 1-2 0-1 1-1 2 0 2-1 2-3 3-2 0-2 1-2-1-2 0-1 1 0 6-1 1-2 0-2-1-2 0-2 1-2 0-2 1-2 0-2 2 0 2 1 2 3 3 4 0 4-4 2 0 2 1 2 0 2 1 1-1 1 0 2-2 2-1 6 0 2-1 0-6-1-2-1-1 0-1-1-2 1-1 2 0 1 1 1 2-2 4 0 2 2 1 2 2 4 0 2 1 4 0 4 2 1 0 1 1 2 0 2 1 1 0 2 2 1 2-2 2-3 0-2 2 0 2 1 1 4 0 2-1 2-2 4-2 0-4 1-2 0-2 2-4 0-4 1-1 4 0 2 1 2 0 2-1 1-1-1-1 0-1-1-2 0-4 1-2 0-2-1-2-2-2-1-2 0-2-2-4-2-1-4 4 0-1-2-2-2-1-2-2-2-1-2-2-1-2-2-2-1-2-1 0-1-1-2 0-3 3-1 2 0 1-1 1-1 0-2 1-2 0-2 1-2 0-2 1-1 1-1 0-2-1 0-1-2-4 0-4 2-2 4 0 1-2-1-2-2-2-4-2-2 0-2 1-2 2-2 0-2-1-1 0-2-2zM384 340l-4 2-2-1-4 0-2 1-1 2 1 2 0 4 1 2 1 0 2 2 1 0 1 1 4 2 2 0 1-1 0-2-1-2 2-2 2 0 2-1 2 0 2-1 5 0-1-2 0-6-2-2-2 0-2 2-2 0-2-1-2 0zM96 383l-1 1-1 2 0 2 2 2 2-4-1-2zM106 367l-1 1-1 2 1 2 3 3 2 1 0 2 1 2 0 4-1 2-2 1-1 1 0 2 3 3 2 1 2 0 4-2 0-2-1-2 0-4 1-2 2-2 0-2-1-2 0-4-1-2-2-2-2-1zM118 338l0 2 2 4 0 1 0-1 2-1 1-1 0-2-1-1-2-1zM378 377l-1 1 1 2-4 2-4 0-2-1-2 0-2-1-2 1 0 1-2 4 0 2 1 2 0 2 1 2-3 6 0 2 1 1 0 1 2 1 2 2 2 1 2 0 2 1 2 2 6 3 2 0 1-2-5-5-2-1-1-2 0-2-1-1 0-1-1-2 3-3 2-1 1 0 2-4 0-6-1-2 4-2 0-2-2-2zM390 396l-1 0 1 2 4 2 2 0 1-2-1-1-2 0-2-1zM118 353l-2 1 0 2 2 2 2 1 1-1 1-2-2-2 0-1zM160 -6l6 0-2 1-2 0zM354 -4l2 0 1 2 0 2-1 2 0 1-1 1-1 2 0 1-1-1-1 0-2-2-1 0-2-2-1-2 4 0 2-1 1-1zM366 -6l4 0 1 2 0 2-2 4-3 0-2-2-1-2 1-1 0-1zM37 0l6 0 2 2 1 2-2 2-4 2-2-1-1-1-1-2 0-3zM21 2l1-2 2 1 6 6 0 1 3 6 2 2 0 2 1 2 0 2-2 2-6 3-2 0-3-3-1-2-2 0 0 4-2 1-2 0-1-1-1 0-2-2-1-2 0-2 1-1 2-1 2 0 2 1 1-1 1 0 2-2 4 0 1-2-1-2-4-2-2-2 0-4zM338 4l2 1 1 1 0 2-3 0-1-2zM320 6l2 1 1 1 1 0 2 2 2 0 2 1 6 0 1 1-1 2-2 1-6 0-4 2-2-1-2-2-2-4 0-2zM136 8l2-1 1 1-1 1zM402 10l1 0 1 1 0 1 1 2 0 8 1 1 0 1 1 2-1 2-3 0-2-2-1-2-1 0-1-1-4 0-2 1-5 0 0 2 3 6-1 2-2 0-1-1-2 0-1-1-1 0-2-2-1-2 1-2 2-2 2-1 1-1 0-4 2-4 1-1 2-1 6 3 2 0 2-2 0-1zM104 14l2 2 2 4 0 2-2 2-4-2 0-1-1-1 1-2 0-2zM311 18l1-1 2 0 1 1 1 2-2 1zM420 22l0-2 0 4zM343 24l1-1 4 0 1 1 0 2-1 2-2-1zM90 30l2-1 2 0 2 2 0 3 1 2 0 2 1 2 0 2 1 2 0 6-1 1-4 2-6 0-1-1-1 0-2-1-3-3-1-2 0-2-1-2 1-1 1 1 5 0 2-1 2 0 2-1 1-2-1-1 0-1-2-4zM37 32l1-1 2 0 3 3 2 4-1 0-2-1-1-1-1 0-2-2zM15 34l1-1 2 0 1 1 1 0 1 2 2 2 1 2-2 2-2 1-2 0-2-1-1 0-1-1-2-1 0-2 1-2zM-6 38l0-1 1 1 1 0 4 2 2 0 4 2 0 4-1 2-7 0-4-2zM376 38l0-1 1 1-1 1zM78 40l0-1 1 1zM55 42l3 0 1 2-1 1-2-1zM124 42l0-1 2-1 2 2 1 2 0 4-1 1-2 0-1-1-1-2zM35 44l2 0 1 1 2 1 1 0 2 2-1 1-2 0-4-2-1-1zM73 48l1 0 2 1 1 1 0 2-1 2-2 1-2 2-2-2 0-1-1-2 1-2 2-2zM-6 54l2-1 2 1 2 2 2 4 0 2-1 2-1 1-4-4-2-1zM412 54l2 0 2 1 1 1-1 1-2-1-1 0zM182 56l2-1 2 1 1 2-1 1-2 1zM9 64l1-1 1 1-1 1zM400 66l0-1 2 0 6 3 1 2 2 2 1 2 2 2 0 1 4 0 2 1 0 12-4-2-1 0-1-1-2-1-1-2-3-3 0-1-2-2-1-2-2-2-3-6zM34 74l2 0 2 1 1 1 2 4 0 6-1 2 0 1-4 0-4-2-2 0-4-4 0-2 2-2 2 0 2-1zM75 78l1-1 6 0 2 1 1 0 1 1 2-1 6 0 2 1 1 1 1 2 0 4 1 2 0 2-1 0-4 2-2 0-1 2-1 0-2 2-4 0-4-2-1 0-1-1-2-1 0-1-2-1-2-2-1 0-2-2-1-2 2-2 2 0 2 1 1-1zM49 84l1 0 2 1 1 1 1 2-1 2-1 1-2 0-2-1-1-2 1-2 0-1zM60 94l2 0 2 1 2 2 2 0 2 1 2 0 2 2 1 2-2 2-1 0-1 2-3 3-2 1-2-2 0-8-4-2-1-2zM29 98l1-1 2-1 4 2 2 0 2 1 1 1 1 2 0 2-2 4 4 2 1-2 2-2 1 0 4 2 1 0 2 2 1 2-2 2-2-1-4 0 0 1-1 2-2 2 0 4-1 1 0 1-1 2 2 2 2 4 0 4-1 2 2 4 2 2 2 4 0 2-2 1-2 0-2-1-2-2-2-4 0-6-4-2-2-2 0-4-1-2-1-1-2-1-1 0-1-1-2-1-2-2-2-4 1-2 1-1 4-2 6 0 3-3-1-1 0-1-2-1-2-2-2 0-2-1-2 0-2 1-1-1-1-2 2-1zM414 98l6 0 0 22-4 0-6-6 0-1-1-1-1-2 0-1-1-1 0-2-1-2 0-4 4-2zM54 116l2-1 2 1 2 2 1 2 0 2 1 2 0 1 4 4 2 1 2 0 4 2 1 0 3 3 0 2-2 1-4-2-4 0-2 1-1 1-1 2-1 0-1 1-4 0-2-2 0-1-1-2 0-12-1-2zM399 118l1-1 4 0 3 3 0 2-1 0-4 2-2-2-1-2zM418 124l0-2 2 0 0 6-1-2-1-1zM31 142l1-1 1 1-1 2zM-6 162l4 2 6 0 2 2 1 2 0 2-2 2 0 4-1 2-6 0-2-1-1-1-1-2 2-2 0-2-1-2-1-1zM26 176l1 2-1 2-1-2zM25 184l1-1 2 0 1 1 1 0 2 2 0 2-1 2-1 1-2 1-2-1-2-2 0-3zM54 198l2 2 0 2-1 0-1-1zM21 200l1 0 2-1 6 0 1 1 1 2-1 2-1 1 0 1-1 2 0 4-4 8-1 1-2 1-1 0 0 2 1 2 0 2-2 1-2 0-2 1-2-1 0-1-2-2 0-1-2-2-4-2-1-1-1-2 0-3 1-1 0-2-1-1 0-1-1-2 0-2 1-2 0-1 2 0 2 1 1 0 1 2 0 2 2 1 0-1 1-2 1-1 2 0 2 1 2 0 1-2zM14 217l0 1 1 2 1 0 2 1 1-1-3-3zM3 236l1 0 0 2zM8 344l0-1 2 0 2 1 0 3-2 0-1-1zM1 348l1-1 2 0 0 2-2 0zM43 406l4 0 1 1 0 1-3 0zM14 410l3 0 1 2-2 1-2-1z" fill="#ff7d00"/><path d="M250 -6l4 0-2 1zM208 0l2 0 2-1 4 0 1 1 2 4-3 3-4 0-2-1-2-2-1-2zM200 16l4 0 2 2 0 2-2 2-4-2-1-2zM243 28l1-1 1 1-1 1zM271 36l5 0 4 2 2 2 1 0 2 2 1 0 2 1 2 0 2-1 0-2 2-1 2 1 2 2 2 4 0 4 1 2 0 2 1 2 0 1 1 1 1 2 2 2 0 1-1 1-1 0-2 1-4 0-2-1-2-2-2 0-2-1-4 0-4-2 0-1-1-2-3-3-2 0-1 1 0 4 1 2 0 2-1 2 1 0 2 1 4 4 0 1 2 4 4 4 3 0 1-2 0-2 2-2 2 0 6-3 2 1 4-2 1 0 1-1 2 0 1 1 1 0 4 4 2 4 2 2 2 1 1 1 3 0 2-4-2 0-2-1-2-2 0-5 1-2 2-2 0-2-2-2 0-2 1-1 2 1 2 2 2 4 4 4 1 2-1 2-4 2-2 2 2 2 2 1 1 1 0 8 2 2 3 6 0 2-2 4 0 5 2 1 4-2 2-4 4 0 6 3 2 0 2 1 2-1 0-1 2-2 2 0 2 1 1 1 0 2 1 2 0 2-4 2-2 2-1 2-1 1-2-1-2 0-2-2-2-1-2 0 0 2 2 2 0 1 2 1 2 2 2 0 1 1 1 0 2 1 3 3-1 2 0 2-1 2 0 2-1 2-2-1-2 0 0 2 5 5 1 2 0 4-1 2-1 1-2 0-2-1-2 0 0 2 4 2 4 0 2 2 1 2 5 5 4 2 1 1 1 2 0 9 4 0 2 1 1 0 1 1 4 2 4 0 4 2 1 1 5 0 2 1 1 1-1 2 0 1-4 2-4 0-2 1-2 0-2-1-2-2-2 0 0 1-1 2 0 2 1 1 2 0 2 1 2 0 4 4-4 4 0 2 2 4 0 2 3 6 0 2-1 0-4 2 0 6 1 2 0 2 1 1 0 1 2 4 0 2 2 4 0 2-1 2 0 2 1 2 2 2 2 0 4 2 1 0 2 2-1 2 0 1-1 1 0 2 1 1 0 1 2 2 2 0 2-1 2 0 0 10-2 1-1 2 0 4 2 4-1 2 0 1-2 0-2-1 0 2 2 2 0 2-1 2-1 1 0 1-3 6 0 2 3 3 2 1 2 0 2 1 0 8-2 1-2-1-2 0-2-1-4 0-4 4 0 3 2 2 2 1 0 3-2 0-4-4-2 0-4 2-6 0-2 1-1 0-1 1-8 4-2 0-2-1-1 0-1-1-8 0-2 1-1 2 0 4-2 4 0 2 1 2 4 0 2 1 2 2 6 3 2 0 2 1 4 4 2 1 0 1 2 1 0 2 1 2-2 4-1 1-4-2-3-3-1-2-2-2-2-1-2 0-1 1 0 2 1 2 0 1 1 1 1 2-2 2-2-2-4-2-8 0-2-1-4 2-1 1 0 4 1 2 2 1 2 2 0 9-1 2 0 6-1 1-2 1-2 0-2-1-2 1-1 0-2 2 0 2-1 2 0 2-2 1-4-2-3-3 0-2 2-2 1-2 1 0 3-3 0-3-4-4-1-2-3-3-4-2-2 0-2-1-2 0-2 1-4 0-2 1-2 0-2 1-2 0-2 1 0 4 1 2 1 1 0 1 1 2-1 1-1-1-1 0-1-2-1-1-2-1-4 0-1 2 0 4-4 4-1 2 2 4 8 0 2-1 1 1 1 2 0 2-2 2-8-4-2 1-3 3-1 2-13 0 2-4 0-2 3-6-2-4-4-2 0-1-2-2-2 0 0 1 2 2 1 0 1 1 0 3-2 1-1 1-1 0-1 2-1 1 0 1-1 2 1 2 0 1 3 3-25 0-2-2-2-1-1 1 0 2-18 0-1-1-2 0-4-2-3-3-1-2 2 0 2-1 1-1 0-2-3-6 2-1 2 2 0 1 1 2 1 1 4 2 1 1 1 2 4 2 2-2 0-6 2-2 0-1 2-2 2 0 4-2 2-2 4 0 2 1 1 0 2 2 1 2-1 2 0 4-2 2 1 2 4-2 2-2 1-2-1-2-2-2 0-1-1-1 0-2-3-3-6-3-13 0-1 2-1 0-3-3-2-1-1 0-1-1-2-1-4-4-2-4 1-2 0-4-2-2-2-4-3-3-2-1-2 1-2 0-2-1-6 0-2 1-2-1-4-4-2-1-1-1-2-4 1-2-1-2-1-1-2-1-2 2-1 0-1 1-4 0-4-2-1-1-3-6 0-1-6-3-1 0-1-1-2-1-4 0-4 2-3 0-2-2-1-2 0-2 1-2-1-2 0-1-1-1 0-4-1-2 1-2 0-2 1-2 0-6-1-2-1-1-2-1-3 0-2-2-1-2 0-2 1-2 1-1 2 0 1-1-1-2-4-2-2 0-6-3-2 1-1 2 1 2 0 4 2 4 6 3 1 1 1 2 0 8-2 1-1 1-1 0-1 2 0 6-1 2 1 2 1 0 2 1 1 1 1 0 2 2 2 1 1 1 1 2 0 2 1 2 0 4-1 2-4 0-2-1-1-1-1 0-2-2-2-1-4-4-2-1-2-2 2-1 1-1 1-2 0-2-1-2 0-2-1-1 0-1-1-2-2-2-1 0-2-2-2-4 0-2-1-2 0-2-1-2 0-4-4-4 1-2 2-2 0-8 1-2-1-2 0-2-1-1 0-1-2-4-2-2-6-12 2-2 2-1 1-1 1-2 0-2 1-2 3-3 2-1 2 0 2-2 0-2 1-2 1-1 2-1 4 0 4-2 0-4-1-2-4-4 0-6 1-1 0-1 1-2 0-2-1-1 0-1-1-2-1-1 0-1-1-2 0-2 1-2 0-2 1-2 0-12 2-2 1 0 1-2 1-1 0-1 1-2-2-4 0-2 3 0 2 1 1-1 0-2 1-2-1-2 0-4-1-2 0-2 1-2 0-2 1-2 2-2 2-4 2 0 2 1 5 5 1 0 2 1 2-1 0-2-2-4 0-2 2-1 2-2 2-1 2 1 3 3 1 0 2 1 2 0 2-1 1-2 0-6 1-2 4 0 1-2-1-2 0-6-6-3-1-1-1-2 0-1-4-4-2-1-3-6 0-4 1-2 1 0 2-4 0-2 1-2 0-1 4 0 2-1 2 1 0 1 1 2-1 1 0 1-2 4 0 2 2 1 2 0 2-1 2-2 0-6 4 0 2 1 1 1 1 0 4 2 4 0 2-1 2 1 2 2 2 1 2 0 2-1 2 0 2-1 4 0 2 1 8-4 2-2 1-2-1-2 0-1-1-1-2-4 0-2 1-2 0-1 4 0 2 2 2 1 2 0 1-2 4-4 0-2-1-1 0-1-4-4-3-6-3-3-2-1-2-2 2-4 2 2 2 1 4 0 4 2 1 1 2 4-1 2 0 4 1 2 0 2 2 4 0 2 1 0 2-1 2 0 2-1 2 1 2 0 2-1 1 0 5-5 2-1 0-2-1-2 0-2-1-2 0-2-2-4 0-2 1-2 1 0 2-1 8 0 1-1 0-2 1-1 0-1 2-1zM292 52l-2 2 2 4 0 1 2 0 2-1 0-2-2-4zM320 81l-3 3 0 2 1 2 0 2 2 4 2 0 2-2 1-2 0-4-1-2-2-2-1 0zM108 255l-1 1-1 2 2 2 2 1 2-1 1-2-1-2-2-1zM118 270l-2 2 1 2 3 3 2-1 1-2 0-2-1-1-2-1zM154 314l-2 2-1 2 1 1 2-1 1-2 0-2zM178 106l2 1 0-1zM217 40l1-1 2 1 0 4-2-1-1-1zM247 44l1 0 0 1zM164 66l2-1 8 0 2 1 2 2 1 2 0 2-1 1-2 1-4 0-2-1-2 1 1 2-1 2-2 2-2 0-4-4 0-4 2-2 0-1 1-1zM379 66l1-1 2 0 4 2 2 2 2 1 1 0 1 1 2 1 1 2-1 2-4-2-2-2-2 0-2-1-2 0-1-1-1 0-1-2zM189 74l2 0 1 2-1 2-3 3-1-1 0-2 1-2 0-1zM126 76l2-1 2 1 2 4 4 4 1 0 0 2-1 2-2 2 0 2-2 4 0 1-2 0-1-1-1 0-4-2-3 0-1 2 0 1-2-1-1 0-2-4-2-2 0-2 1-2 1 0 1-1 4-2 2 0 2-1 1 0 1-1zM82 86l2 1 1 1 0 2-1 2-4-2 0-2zM356 88l0-1 2 0 1 1 1 0 2 2 1 2 2 2-1 1-4 0-2 1-2 0-1-2 0-4zM150 114l2-2 2 1 2 0 2 1 1 2 0 4-3 3-4 0-2-1-2-4zM379 128l1-1 4 2 1 1 0 4-1 2-3-6zM60 134l0-1 1 1zM100 134l2-2 2 1 1 1 2 4 2 2 2 4 0 2-4 4-1 2 0 3-1 1-7 0-2-4 1-2 2-2 0-12zM115 164l1-1 2 1-2 1zM73 166l1-1 1 1 0 2-1 1 0-1zM108 166l2-1 2 1-1 2-1 1-1-1zM88 168l2-1 2 1 0 6 1 2 1 1 2 1 2 2 1 2 0 2 1 2 2 2 4 8 2 2 1 2 1 1 0 1 1 2 0 2 1 1 0 1 1 2-3 3-2 0-2-1-2-2 1-2 0-2-1-2-2-1-2 0-1 1-1 2-2 2-2 0-1-2 0-4 1-2 2-2 2-4 0-8-4-4-1 0-1-1-2 0-2 1-2 0-2-2-2-4 2-4 2-2 0-1zM419 170l1 0 0 7-2 0-2-1-1-2 1-2 2-2zM72 176l0-1 2 0 1 1 0 2-2 0-1-1zM419 218l1-2 0 43-2 0-3-3 0-2-1-2 0-1-2-2-2-1-1-2 1-2 0-1 2-1 2-4 0-1 1-1-1-1 0-1-4-4 0-1-1-1 0-2 1-2 1 0 1-1 2 0 2-1 2-2zM414 243l-1 1 1 2 2 2 2 0 2-2-2-2-2-1zM55 234l1-1 2 0 1 1 1 2-1 2-1 1-2 0-2-1 0-1-1-1zM84 246l4 0 2 2 2 4 1 0-1 1-4 2-1 1-1 2 0 1-4 4-4 0-1-1-2-4 1-1 4 0 3-3 0-2-1-1 0-1-1-2 1-1zM38 252l4 0 2 1 1 1 1 2 2 2 3 6-1 2-2 1-4 0-2-1-2-2-1-2 1-2 0-4-2-2zM97 288l3 0 2 1 1 1 1 2-1 2-2 2-7 0-2-2 0-2 1-2 1-1 2-1zM419 300l1-1 0 3zM8 302l2-1 2 0 2 1 1 2 0 2-1 2-2 1-2-1-2 0-2 2-3 0 0-2 1-1 2 0 1-1 1-2zM68 304l2 1 3 3 1 2-1 2-1 1-2 1-2 0-2-1-2 0-1 1-1 0-2 1-2-2 0-3 2-1 4 2 1-1 1-2 0-3zM-2 312l0-1 4 0 0 1 3 6-1 2-2 0-2-1-1-1-1-2zM16 312l2-1 1 1 1 0 2 2 2 4-2 1-1 1-4 0-1-1zM51 330l1-1 1 1 1 2 0 2-1 2-1 1-2 0-2-1 0-2 2-4zM54 348l0-1 2 2 0 4-2-1-1-2zM130 350l0-1 4 2 1 1-2 2-1 2 1 2 3 3 2 1 2 2 1 0 1 2 0 2-2 0-2 1-6 0-4-2-1-1-1-2 0-8 1-2 2-2zM393 356l1-2 4 4 0 1 1 1 0 2-1 2-2 0-2-1-1-1-1-2 0-2zM39 362l1-1 2 2 0 2-2 2-2-1 0-3zM147 376l1-1 2 1 0 2-2 1-1-1zM401 378l1-2 2 0 6 6 1 2-4 4 1 0 2 2 2 1 1 1 1 0 2 4-2 2 0 1-2 2-2 0-2-1-2-2-1-2 0-4-1-2 2-2 0-2-1-2-2-2zM87 380l1 0 0 1zM211 384l1-1 2 1 0 2-2-1zM114 398l2 0 2-1 2 0 2 1 2 2 0 1 1 1 3 6 0 2-2 2-1-2-3-3-10 0-2-1-2-2 0-1 1-1 1 0zM169 400l1-1 4 0 3 3 1 2-2 2-2 0-2-1-3-3zM382 400l2-2 2 1 2 2 2 1 2 2 1 0 2 2-2 2-1 0-2 1-2 0-2-1-2-2-2-4zM403 404l1-1 2 1 2 0 2 1 2 0 5 5-2 2-3 0-4-2-4 0 1 2 1 1 0 1-3 0 0-2 1-2 0-2-1-2zM201 406l1-1 1 1 0 2 1 1 0 1 4 4-7 0 0-2-1-2 0-2z" fill="#ffaf00"/><path d="M261 46l2 0 1 1 2 1 2 2 1 0 2 4 0 4-3 3-2-1-1 0-1-1-2-1-1-2 0-4-1-1 0-1-1-2 1-2zM276 46l0-1 8 0 1 1 1 0 1 2 0 2-1 2 0 1-2 2 0-1-2-1 0-1-2-2-2-1-1-1zM257 66l1-1 4 0 1 1 1 0 4 4 2 4-1 2-1 1-4-2-2 0-1 1-1 2 0 2 2 2 4 2 1 0 1 1 1-1 0-4 1-1 2 0 2-1 2 0 2-1 2 0 4 2 2 2 4 2 1 1 1 2 2 2 0 1 3 3 1 0 4 4 1 0 1 1 2 1 1 0 1 1 2 0 1 1 1 0 2 1 2 0 2 1 2 0 2 2 2 1 4 0 1-1-2-2 0-2 1-1 2 0 2 1 1 2-1 2-2 1-1 1 1 0 1 2 5 5 4 2 4 0 2-1 1 2 2 2 1 0 8 8 0 2-2 4 0 1-2 1-6-3-4-4-2-1-6-6-8 0-1 2 0 2 2 2 1 2 4 2 4 0 2 1 2 2 4 2 7 7 0 2 1 2-2 4 0 2-1 2 0 2 1 2 2-1 4 0 6 3 6 6 0 1 1 1 1 2-2 2-1 2 0 2 1 2 0 2 1 2 3 3 2 1 2 0 2-1 4 0 0 1 1 2 0 2-2 4 1 2 0 1 2 1 2 2 1 0 2 2 0 2 2 4 2 2 0 4-1 1-2-1-2 0 0 2-1 2 0 4 2 2 0 6 2 4 0 2-1 2 1 2 1 1 2 1 0 3-3 3 1 0 1 2 1 0 1 2 1 1 0 1 2 4 0 2 2 2 1 2 0 2-1 0-2-2-2-4-2 0-2 2 0 3 1 1 2 4-1 2 1 2 1 1 2 1 2-1 2 0 2 1 4 0 2 2 0 4-2 2-2 1-1 1 0 4 2 4 0 2-1 2-2 2 0 4-1 2-2 2-1 0-2 1-2 0-2 1 0 2-2 4-2 2 0 4-1 2-5 5-6 3-6-3-4 0-2 1-2 2-2 1-2 0-2 1-6 0 0 2 1 2 0 4-1 2 0 1-1 1-1 2 0 2-1 2-1 1 0 1-1 2 0 4 1 2 2-1 0-1 2-2 1-2 1-1 4 2 2 2 2 1 0 2 1 2-1 2-2 1-6 0-2-2-2-1 0-1-2-1-2 1-2-1-2 0-2 1 0 1-2 2-1 0-1 1-4 2 0 1-2 2-1 2-1 1-2 1-2 0-4-2-2 0-6 3-6 0-1-1-1-2 0-1-1-1-1 0-2-1-1 1 0 2 1 2-3 6 0 2-1 1-2 0-2-1-1 0-1-1-2 0-2-1-2 0-1 2 0 4-1 1-1-1-1 0-6-3-2 1-2 0-4-2 0-2-1-2-2-2-3 0-6 6-2 0-2-1-2-2-2-1-1-2-1-1 0-1-2-2-2-1-2 0-2 1-2 2-1 2-1 1-2 0-1-1-1 0-2-2 0-1-1-1 1-2 0-4-1-2-1-1-2-1-2 0-2 1-4-2 0-1-2-2 0-1-4-4-4-2-2 0-2-1-2 0-4-2-2 1-2 0-2-1-2-2-2-4 0-1-6-6-6 0-2-1-2-2-10-5-3-3 0-2 1-1 2-1 1-2 0-2-3-6-2-2-4-2-2 2-2 1-2-1-1-2 0-2-1-1 0-1-2-4 0-2-2-4 0-2 1-2 0-2-3-6 0-2 1-2 0-4-1-2-2-2-1 0-1-1 0-3 2-4 2-1 3-3-2-4-3-3-2-1-1 0-1-1-2 0-3-3-3-6-2-2 0-2 1-2 1-1 10 0 1-1-1-2 0-1-2-1-2 0-2-2-1-2 0-2-1-2 0-2-1-2 1-2 0-2 2-4-2-1 0-1-4-4 0-1-1-1 0-2 1-2 0-4 1-2 0-8 1-2 2-1 2 0 1 1 3 0 0-2 1-2 1-1 2-1 2-2 0-2-1-2 0-2-2-2 0-2-1-2 0-4-1-2 0-4 1-2 4 0 2 1 2 0 2 1 4 0 4-2 2-2 0-1 1-1-1-2 0-2 3 0 1 1 2 1 6 0 2 2 2 1 1-1 1-2 0-2-2-4 1-2 1-1 2-1 2-2 0-2-1-2 0-2 1-2 2-1 2 0 2-2 0-7 2-2 0-1 1-1 0-2-1-2-6-6-1 0 5 0 2 1 2 0 1 1 1 0 2 2 0 4 2 2 2 1 2-1 2 0 2-1 2 0 3-3 1 0 2-1 8 0 1-1 1-2 0-2 3-6 2-2 1-2 6-6 0-2 1-2 0-2 1-1 2 0 4 2 1 1 1 2-1 2 0 2 1 2 2 2 1 0 1 1 2 0 8 4 4 0 3-3 0-2-1-2 0-2-1-2-1 0-4-2-2 0-2 1-2 0-2-1-1-2 2-2 1-2 2-2 2-1 1-1 1 0 1-2zM309 74l1-1 2-1 2 1 1 1 0 4-2 4 0 4-1 2 0 5-1-1-2-4-2-2 1-1 0-1 2-1 1-1 0-2-1-1 0-1-1-2zM298 76l2-1 1 1 1 0 2 2 2 4 0 1 1 1-5 0-4-2-1-2 0-2zM122 254l2 0 4 2-1 2-2 2-1 2 0 1-2 2-2 1-5 0 0-2 2-2 0-4 1-2 2-2zM128 278l2-2 1 2-1 1zM114 306l2 0 1 2-1 1-1-1zM143 314l1-1 2-1 1 2 0 2-1 2-2 0-1-2zM401 318l1-1 2 0 0 2-2 0zM126 328l2 0 2 1 1 1 1 2-2 2-2-1-3-3zM378 362l2 0 2 4-2 0-2-2zM336 370l2-1 2 0 2 1 2 2 1 2-1 2 0 4 2 2 2 1 2 2 0 6-1 1-1 2-2-1-2-2 0-1-2-2 0-1-1-1 0-2-4-4 0-2-1-2zM286 390l2 2 0 3-1-1-1-2zM247 396l1 0 1 2-1 1-2-1zM229 414l2 0z" fill="#ffe000"/><path d="M278 82l2 0 2 1 1 1 1 0 2 1 3 3 1 2 0 1 2 2 4 2 1 1 1 2 1 0-1 1-4 2-1 1 0 2 1 2 2 1 1 1 4 0 1-1 4-2 0 1 4 2 6 0 6 3 6 0 2 1 2 2-1 2-5 0-2 1 0 1-1 2 0 2 1 2 0 2 1 2 0 2 1 2 2 1 1 1 1 0 4 2 2-1 2 1 1 0 1 1 2 0 4 2 3 3 0 2-1 2-6 0-2 4-4 0-2-1-6 0-1 1-1 2 0 4 2 2 6-3 2 0 2 2 2 1 4 0 2 1 1 1 4 8 0 2 1 2 2 2 4 0 4-2 2 1 0 1 1 2 1 1 0 1 3 6-1 2 0 2 2 4 2 2 5 0 1 1 0 1 3 6 0 2 1 2 0 3 1 1 1 2 2 2 0 2-1 2-2 2-1 2-1 0-1 1-2-1-1 2 1 1 0 1 2 2 0 2 2 1 4 0 0 1 1 2 0 4 2 4 0 2-1 2 0 4 1 2 2 2 0 2-1 2-2 2 0 2 3 6 0 4-3 3-2 0-2 1-2 0-4 2-2-1 0-1-2-2-2-1-2 0-1 1-1 2 0 1-3 3-2 4 1 2 0 2 2 2 8 4 2 2 2 4 2 2 4 2 2 0 1-2 0-2-1-1 0-1-1-2 1-1 2 0 2 1 1 0 1 2-2 4-1 0-1 2 1 2 0 2 1 2-1 2-1 1-2 0-2-1-4-4-2-1-2 1-1 2 1 2 4 2 2 0 3 6 0 2-1 2 0 1-2 2-2 1-2-1-10 0-2 1-2 2-2 1-4 0-4-4-2-1-2 1 0 1-1 2 0 2 3 6 0 4-4 2-5 10 0 2-5 5-2 1-2-1-2 0-2-1-2 0-4 4 0 1-2 1-2 0-2-1-10 0-2 1-4 0-2-2-1-2-5-5-2-1-1 2 0 2 1 2 0 1 2 2 2 1 0 1 1 1-1 2 0 4-2 1-4-2-2 0-6-6-2-1-2 2 0 2 1 2 0 2-1 2-2 1-4 0-10-5-2 0-2 1-6 0 0-1-2-1 0-1-2-2 0-1-1-1 0-2-2-4-1 0-2-1-2 1 0 4-1 2 0 2-1 2-2 1-2 0-2-2 0-1-5-10-1-1-2-1-2 1-2 2-2 0-9-9-1 0-4-2-1 0-5-5-2-1-2 2-2 1-2 0-1-1-5-10-2 0-2-1-2 0-4-2-1-1-1-2 1-2 0-2-2-2-1 0-1-2-12-12-1-2-2-2 0-1-2-2 0-1-2-2-2-4 0-2-1-2-2-2-1-2 0-1-1-1 0-2-1-2 0-6-2-4 0-2-1-2 1-1 0-1 4-4 1-2 0-2-1-1 0-1-2-2-2-4 0-6-1-2 2-4-1-2 0-1-2-2 0-1-2-2-1-2-1-1-2-1 0-1-2-2 0-1-1-2 0-2 3-3 2 1 1 0 1 1 2 1 1 0 1-2 0-2 1-2 0-2 1-1 2-1 2 0 4 2 4 0 2 1 2 0 2-1-1-2-1-1-2-1-4 0-2-1-1-1 0-4-1-2-2-2-2 0-4 4-2 0-2-1-2 0-2 1-1 2-1 1-2-1 0-2-1-2 0-4 1-2 2-2 2-1 2-2 2-1 2-4 2-2 3 0 2-2 0-2-2-2-1-2 0-3 2-2 2 0 4 2 2 0 0-4 1-1 5 0 2 1 2 0 2 2 0 1-4 2-7 0 1 2 0 1 2 1 2 0 4 2 8 0 2-2 1-2 0-6-1-2 0-2-2-4 0-2-1 0 1 0 4-4 2-4 2-2 1-2 0-6 1 0 2-1 1 1 4 0-1-1 0-1-2-2-2-1-1-1-1-2 1-2 4-4 1-2 0-6 2-2 2 0 2 1 4 0 2 1 1 0 1 1 6 3 2 0 2-1 1-1 0-4 1-2 0-2 2-1 2 0 2 1 2 0 2-1 1-1 1-2 0-5 2-2 4 0 2 1 2 0-1-2-2-2 0-2 1-2 4-2 2 1 5 5 1 0 2 1 4 0 2 1 19 0 1 1 2 1 2 2 1-2 0-2 2-4 0-2-3-3 0-1-1-2 1-1zM334 137l-3 3 0 2 1 1 2 1 2 0 2-1 1-1zM372 234l-1 2 1 1 2 1 2 0 2-1 1-1 0-2-1-1-4 0zM160 192l1 2 2 0-1-2zM166 294l-1 2 1 2 2 0 0-3zM194 322l-1 0 1 2 2 1 1-1-1-2zM264 363l-1 1 1 2 1-2zM168 308l-1 2 1 2 2 1 2-1 0-2-2-2zM162 150l2-1 2 1 2 2 0 2-4 2-2 2 0 1-2 0-3-3 0-2 2-2 1 0zM145 156l1-1 2 1 2 4-2 1-2-1-1-2zM380 288l1 0-1 1z" fill="#f4ff15"/><path d="M258 100l2 0 2 1 8 0 4 2 4 4 2 1 2 0 4 4 0 1 1 1 1 2 0 1 2 2 2 1 6 0 2 1 4 0 2-2 0-1 2-4 6 0 2 1 2 2 0 1 1 2 0 2-2 2-7 0-2 2 0 2 2 4 0 10 2 2 0 1 5 5 1 2 0 6 2 4 0 2 1 2 1 1 0 1 2 1 3 3 2 4 2 2 2 4-2 2-1 2 0 2 1 2 1 1 4 2 1-1 1-2 0-2-2-4 0-2 2-1 0-1 2-4 0-1 2-1 2 1 2 0 8 4 2 0 2 1 1 0 1 1 0 1 1 2 3 3 0 1 1 2-1 1-2 0-2-2-1 1-1 2 0 4 1 2 2 2 0 6 1 2 2 2 3 0 1-2 0-8 2-2 2 0 4 2 1 2 1 1 0 3 1 2 0 6-1 1-6 3-4 4 0 6-2 1-1 1 0 2 2 4 5 5 2 0 2 1 4-2 4 0 2 4-2 4-2 1-2 0-2-1-2 1-6 0-1 1-1 0-4 2-2 4-2 2-4 0-2 2 0 6 1 2 2 2 0 4-1 2-2-1-4 0 0 1-1 2 0 2 1 2 0 2 2 2 2 0 2-1 2 1 2 2 1 2 0 4-1 2 0 4 2 2 6 3 3 3 0 8 1 2 4 2 1 0 0 2-1 1-2 1-8 0-2 1-1 1-1 2-2 1-3-3 0-2-2-2-9 0-1-2-1-1-4-2-6 0-2 1 2 2 0 1 1 1 2 4 3 3 4 2 3 3 2 4-1 2-2 1-4 0-4-2-2 0-1 1 1 2 2 1 1 1 0 2-2 4 0 2 1 2 0 2-2 2-2 0-6-3-1 1-1 0-4 2-1 2-1 1-2 0-2-1-1 0-2-4 0-2-1-2-2-2-4-2-4 4-1 2-1 1-1-1-1 0-2-1-2-2-2-1-2 0-2 1-2 2-2 0-2-1-2-2 0-1-1-1 1-2 0-2-2-2-1 2 0 2-1 1-2-1-1 0 0-2-1-1-2-1 0 2 2 2 0 2-1 2-1 1-2 0-2 1-1 0-1 2-6 3-2 0-2 1-4 0-6-3-1-1-3-6-2-2-1 0-1-1-2-1-4 0-2 1-4-2-2-2-6-3-4 2 0 1-2 2-6 0-5-5-1 0-2-1-2 1-2-2 0-2 2-1 2 0 2 1 1 0 1 1 2-1 2-2 0-7-1-1-1-2-2-1-2-2-4-2-2 0-1-1-1 0-2-2 0-3 1-1 1 0 2-1 2-2 0-3-2-4 0-2-1-2-1-1-2 0 0 1-2 2 0 1-2 2-2-1-2 0-4-2-1-2-7-7-2-1-4 0-2-1-1-1-1-2-2-2 0-1-2-1 0-1-1-1 0-2-2-4-1-1-2 0-2-1-2-2-1-2 1-1 0-1 2-1 2 0 2 2 2 1 3 0-2-4-2-2-4-8-1-1 0-4 2-1 6 3 0-1 2-2 0-4-1-2 0-2-1-2 0-4 1-2 0-2-1-2 0-2-1-2 1-2 0-2 2-4 6 0 2-1 1-1 0-4 1-2 4-4 0-1 1-1 0-4-1-2 0-1-1-1 7-14 0-1 2-2 0-1 1-2-1-2 0-4 2 0 4 2 1 0 1-1 0-2-1-1-1-2-2-2-4 0-2-1-1-1 0-4 3-3 2-1 2 0 2-1 2 0 2-1 1-2 0-2 1-2 2-1 2 0 2-1 0-2 1-2 2-2 1-2-1-2 0-2 1-2 0-1 2-2 2-1 6 0 4-2 2-2 0-5 1-1 7 0 2-2 3-6 1-1 2 0 4 2 1 1 1 0 2 1 2 0 6-3 4 0 2-1 2-2zM300 335l-1 1-1 2 0 2-1 2 3 0 1-2 1-1 0-3zM162 266l-2 0-4 2 1 2 3 3 2 0 1-1 1-2 0-2-1-2zM212 131l-1 1 0 2 1 2 6 3 2-1 1 0 1-1 0-3-6-3zM226 332l-1 0-1 2 2 2 6 3 2 0 1-1-1-2-2-1-2-2-2-1zM162 178l2 0 2 1 1 1 0 2-1 2 0 4-2 1-1-1-1 0-2-2 0-4zM149 180l1-2 2 1 1 1 0 6 1 2 0 3-2 1-1-2-1-1-2-1-2-2-1-2zM154 196l0-1 0 3zM139 224l1-1 2 1 1 0 1 2 0 2-2 1-2-1-1-2zM370 260l4 0 1 2 0 2-1 2-2 0-2-1-1-1 0-2zM383 266l1-1 2 2 0 2-2 1-1-2zM176 316l0-1 2-1 2 4-2 1-2 0-1-1zM215 348l1-1 2 0 1 1 1 2 0 2-2 1-2-1-1-2z" fill="#d7ff4b"/><path d="M261 106l3 0 2-1 4 0 7 7 0 2 1 2 2 2 6 3 2 2 4 2 6 0 4 2 3 3 0 12 2 2 2 4-1 1-2 1-1 2 0 2 1 2 0 2 2 2 0 1 2 1 5 0 3 6 4 4 0 2-1 2 1 2 4 4 0 6 2 4 0 1 2 2 2 1 2 2 1 0 1 1 2 1 2 0 2-1 2-2 2-1 4 0 4 2 2 2 1 2 0 2-1 2 1 2 2 2 1 0 6 6 0 2-2 2-2 1-1 1-1 2 0 4 1 2 0 4 1 1 0 1 2 1 2 2 0 1 2 2 0 1 1 1-1 1 0 1-4 2-2 0-2 1-2 0-2 1-2 2-1 2-2 2-1 2-1 0-2 2 0 4-2 4-3 3-2 1-1 2 1 2 2 1 2 0 3 3 0 2-2 4 0 2 5 5 0 3-2 0-2-1-2-2-4-2-1-1-1 0-4-2-2 4 0 5 3 3 1 0 4 4 2 4 2 2 2 1 4 0 3 3 1 2-2 2-2 0-2-1-2-2-2-1-2 0-2-1-1-1-1-2 0-1-2-2-2 0-2 2 0 1-2 1-7 7-1 2 6 0 2 1 3 3 1 2 0 2-1 2-1 1-2 1-2-1-2 0-6-3-4 0-2 1-2 2-4 0-1-1-1 0-6-3-1-1-1 0-2-1-2 2-2 0-4-2-2-2-2-1-5 0-1 1 0 5-2 4-2 2-2 1-2-1-1 0 0-2-1-1-4-2-2-2-2 0 0 1-1 2 0 8-1 2-2 0-2-1-3-3-1-2-2-2-1-2-1-1-4-2-1 1-1 2 1 2 1 1 0 1 1 2 0 2-1 1-3-3-1-2-8-8-2-1-4 0-2 1-2 0-2 2-1 2-3 3-2 0-1-1 0-4-2-4 0-8-4-4-1 0-2-1-1 1-3 0 0-8-2-4 0-4-6-6-2-4 1-2 0-10-3-3-4-2-4-4 0-1-1-2-2-2-2-4 0-2 1-2 0-2-1-2-1 0-2-1-2-2-2 0-1 1-1 2 0 4-1 2-1 1-2-1-1-2 0-2 1-2 0-4-1-2 0-2 1-2 0-1 2 2 2 1 0 1 2 1 1-2 0-2-1-2-2-1-4 0 0-1-2-2 0-7 2-2 2 0 0-3 2-1 4 0 2 1 1 0 1 1 2 0 2-1 0-2-1-2-4-4-1-2 0-2 1-2 1-1 2-1 2-2 0-2-1-2 0-2 1-2 3 0 1-1 0-3-1-2-1-1 0-1-1-2 0-2 1-2 4-2 1-2 0-2 1-1 2 0 6-3 2 0 2 1 2 0 1-1 1-2-1-2-1 0-2-1-4 0-2-1-2-4 0-2 2-2 2-1 2 0 1-1 1-2 0-4 2-1 2 0 3-3 1-2 2-1 2 1 1 2 0 2 2 2 1 2 6 6 2 0 2-2 0-1 1-1 0-2 1-2 2 0 2 2 2 1 2 0 2 1 4-2 0-2-1-2 0-2 1-1 2-1-1-2-1-1-2-1-1-2 1 0 4-4-1-2-1-1-2-1-2 0-4-2-4-4-1-2 0-2 1-1 4-2 1-1 0-4 1-2 4 0 4 2 10 0 4-2 2 0 4-2zM274 130l-2 0 2 2 1-2zM308 318l-1 0 1 1 0 1 4 4 2 0 2-1 3-3-1 0-2-2-2-1-4 0zM346 205l0 1-1 2 0 6 1 2 0 2-1 2 1 2 3 0 1-2 0-2 1-2 0-8-1-2-2-2zM176 245l0 1 1 0zM260 138l-2 1-1 1 0 2 1 0 2 1 2 0 2-1 0-1-2-2zM217 126l1-1 2 0 2 1 1 2-3 0-2-1zM343 180l1-1 2-1 4 2 4 4 0 6-2 0-1-2-4-4-1 0-2-2zM168 268l2-2 2 2 0 10-2 1-2-1-1 0-1-2 0-2 1-2 0-2zM180 290l2 0 2 2 0 2-2 1-2-1-1-2zM361 312l1-1 2 1-2 1zM308 342l2-1 2 1 1 2-1 1-2 0-1-1zM322 346l2 1 1 1 0 2-1 2-3 0-1-2 0-2z" fill="#b9ff82"/><path d="M237 114l1-1 2 0 4 2 2 0 5 5 2 4 0 4-1 1-2-1-2 0-6-3-1-1-4-8zM263 134l1-1 4 0 2 1 4 4 1 0 1 1 2 1 2 0 4 4 2 1 2 2 4 0 2-1 1 0 1-1 0 1 2 2 7 14 0 2 1 2 2 2 2 1 2 0 2 1 2 2 1 2-1 2-1 0-1 1-4 0-2 2 0 2 3 3 3 0 2-1 1-1 3 0 2 2 1 2 0 4-1 2 2 4 2 0 4 4 0 2-1 2 0 4 1 2 0 10 4 8 0 1 5 5 1 2 0 2-1 2 0 2 1 2 0 4-2 2-2 0-2 1-1 1 1 2 4 2 2 0 2 2 0 6-2 1-1 1-1 0-2 2 0 10 3 6-7 0-2 2-1 2 0 2-2 4 0 8-1 0-2 2 0 2 1 2 0 2-3 3-2 1-2 0-2-1-2 0-2 1-2 0-2-1-4-4-2 0-2 1-2 2 0 2-2 4-2 1-4 0-1-1-2-4-1-1-1 1-1 2-2 2-12 0-2 1 0 1-2 2 0 1-4 0-2-1-2 0-4 2-4-2-6 0-4-4-2-1-2 1-4 4-2 0-4-2-2-2 0-1-1-1 0-4 1-2-1-2-8-8-1 0-2-1-2-2-2-1-2-2-8-4-2-2-1-2 0-2-2-4 0-2-1-2 0-2-2-4-2-1-1-1-1 0-2-2-1 0 0-6-3-3 0-3 2-2 1-2-1-2 0-2-1-2-1-1 0-1-2-4 0-10 5-10 0-6-2-2-1-2 1-2 0-2 1-2 0-1 2-1 1 0 1-2-1-2-1-1 0-1-1-2 0-4 1-2 2 2 4 2 2 0 2-1 1-1 1-2-1-2-1-1 0-3 4-2 1-2 2-2 1 0 8-8 1-2 3-3 2 0 2 2 2 1 1 0 4-8 2-2 3 0 2 1 4 0 8 4 2 0 2 1 2-1 1-1-1-2 1-2 1 0 4 2 1 0 1 1 4 2 1 1 4 0 0-2-1-2 0-4-1-2 2-2 1 0 2-1 1-1 1-2-1-2-3-3-2-1-2-2zM292 140l2-1 1 1-1 1zM205 154l1-1 2 1-2 1zM182 184l2 2-2 0zM337 214l1-1 2 1 0 2-3 0zM357 214l1-1 2 1 1 2-1 1-2 1-2-2zM351 226l1 0 2-1 2 2 0 1 1 2 0 6 1 2 4 4-2 1-2 0-4-2-6 0-1-1 1-1 0-1 1-2 0-2-2-4 1-2 2-1zM345 252l1-1 2 1-2 1zM328 326l1 0-1 1zM253 332l1-2 1 2-1 1z" fill="#7affb1"/><path d="M278 146l2-1 1 1 1 0 2 2 1 0 1 1 2 1 1 0 1 1 2 1 1 0 6 6 2 4 0 2-1 2 0 1-2 1 0 3 4 2 0 7 8 8 2 1 2 0 2 1 2 4-2 2-2 0-2 2 0 2 2 2 4 0 2-1 2 1 3 6 0 2 1 2 0 8 2 4 0 4 1 2 1 1 0 1 2 1 1 1 1 2 0 8-4 2-1 2 0 2-1 2 0 2 3 6 0 6 1 2 0 2 1 2 0 2-1 2-2 2-7 0-1 1 0 1 3 6 0 2-2 4 0 4-1 2 0 1-1 1-3 0-2-1-4 0-1 1 0 6-1 2-2 0-2-2-1 0-1-1-6 0-2 1-2 2-2 1-2 0-1-1-1 0-2-1-2 1-2 2-2 4-2 1-2-1-2 0-2 1-4 0-2 1-1 2-1 1-2 1-4-2-1 0-1-1-4 0-2 1-4 0-2-1-1-1-1-2 0-2-1-2 0-2-1-2-2-1-2 0-4 2-4-2-1-1-1-2-2-2-4-2-8-8-2 0-2 1-2 0-6-3-2-2-1-2 0-2-1-2 0-8-8-8 0-2 2-2 0-4-2-4 0-1-1-1-3-6 0-2-1-2 0-10 1-2 4-2 0-2-1-2 0-14 1-2 2-2 4-8 2-1 4-4 4 0 2-1 0-4-2-4 0-2 2-4 1 0 1-1 2-1 2-2 4-2 2 2 4 0 2-2 4 0 4 2 2 0 2 1 4 0 1-1 1-2 0-2-4-4-1 0 0-2 5 0 4 2 6 0 2 1 4 0 2-1 8 0 2-1 4 0 1 1 1 0 2 1 2 0 2-1 0-2-6-6 0-6z" fill="#34ffde"/><path d="M290 164l2 2 0 4 1 2 0 2 1 2 0 2 1 2 1 0 2 1 2 2 2 1 6 6 1 2 0 2-1 2 0 5 1 1 1 2 6 6 4 2 1 2 1 1 0 1 1 2 0 8-1 2 1 2 1 1 4 2 2 2 0 1 1 2 0 2-1 1-4 2 0 1-1 2 0 4-1 2 0 2 2 4 0 1 1 1 0 6-1 2-6 0 0 6-2 4 0 2 1 2 0 2-2 2-2 4 0 2-1 2-2 0-2 1-6 0-1 1-1 2 0 2-2 1-10 0-2 1-1 0-3 3-6 3-6 0-4 2-2 0-2 1-2 2-2 1-2-1-1-1-1 0-2-1-2 0-2 1-3 0-1-1 0-1-1-2 0-8-3-3-2-1-8 0-2-1-2-2 0-1-2-2-2 1 0 1-1 2-1 0-2-1-2-2 0-1-1-2 1-1 2 0 2-1 0-2-4-2-6 0-2-2-2 0-2 2 1 2-1 2-2 1-2-1-2-2 0-5 1-1 0-6-1-1 0-1-2-1-3-3-1-2 0-4-1-2 0-14-1-2 0-4 1-2 0-2 1-1 0-1 2-2 0-3-4-4 0-5 1-2 1-1 2-1 2 0 4-2 0-5 2 0 1-1-1-2 0-4 2-4 2-2 1-2 1-1 0-1 1-2 1-1 2-1 2 0 2-2 1-2 0-2 1-1 4 0 4-2 2 0 2-1 8 0 2-2 6 0 2 1 2-1 2-4 2-1 2 1 6 0 2-2 2-1 1-1 5 0 6 3 6 0 3-3zM210 273l0 6 1-1-1-2zM230 300l0-1 1 1z" fill="#05f4ff"/><path d="M270 170l2-1 2 0 2 2 2 1 2 2 0 6 2 2 2-2 2 0 4 4 1 0 1 1 2 1 1 0 0 4 3 3 4 2 2 2 0 1 5 10 4 4 1 0 2 1 3 3 1 2-1 2-1 1-2 0-1 1 1 2 0 1 1 1 0 2 1 1 0 1 1 2-1 2-2 1 0 3 1 2 2 2 1 2 0 2-1 2-3 3 0 1-1 2 1 2 2 1 1 1 1 2-2 0-2 1-2 0-1 1 0 2 2 4 0 2 1 2 0 2-2 4 0 4-1 2-1 1-8 0-3 3-2 4-1 1-4 2-1 1-1 0-2 1-2 0-2-1-1 0-1-1-4-2-1 1-1 2 2 4 0 2-6 0-4 2-4-2-2 1-3 3-1 0-2 2-2 0-2-1-1-1-4-8-2-2-3-6-2-1-8 0-2 1-2-1-3-3-1-2-4-4-4-2-2-2 0-2-2-4-4-4-1 0-4-8-2-2-3-6 1-2 0-2-4-4 0-4 1-2 0-1 1-1 1-2 0-1 1-1 0-6 1-2 0-2 2-2 2 0 4-2 4-4 1-2-1-2-4-4-1-2 0-2 1-1 2 0 2-1 1-2 0-4 1-1 2-1 4 0 1-2 0-4 1-1 2 0 2-1 4 0 10-5 4 0 4 2 6 0 2-1 1-2 1-1 2-1 2 1 2 0 2 1 1-2 0-2z" fill="#19cbff"/><path d="M243 180l3 0 4 2 4 0 2 1 2 0 1-1 1 0 2-2 2-1 7 7 1 0 4 2 1 0 4 4 1 2 0 1 1 1 0 2 1 1 0 1 2 2 2 1 2 2 4 0 4 2 4 0 0 1 2 1 0 1 2 1 3 3 1 2-2 4 4 4 2 4 0 2-3 6 0 2-1 2 0 8 1 2 0 4-1 1 0 1-4 2 0 2 2 4 2 2 0 1 1 1 1 2-2 2-2-2-2 1 0 7-1 2-1 1-2 1-1 0-1 1-2 0-2-1-1 0-3-3-2 0 0 1-1 2 1 2 2 0 2 1 2 2 0 3-2 1-1 1-1 0-2 2-4 0-2-1-1-1-1 0-2-1-2 0-2 1-2 2-6 0-4-2-1 0-1-1-2-1 0-1-4 4-4 0-1-1-1 0-2-2-1-2-1-1-6-3-2-2-2 0-2 2-2 1-2 0-2-2 0-1-6-6-3-6-3-3-2-1-3-6 0-2-1-2-2-2-1-2-1-1 0-5-1-2-3-3 0-2 2 0 2 1 2 0 2-1 1-1 1-2-2-4 0-6 1-2 1 0 4-8 4 0 1-2 0-8-2-2 0-2 1-2 6 0 2-4 0-2 1-2 0-4 1-1 6 0 2-2 0-1 4-4zM302 218l0 3 2 1 2-2-2-2zM287 192l3 0 2 2 0 2-2 1-2-1-2-2zM299 202l1-1 1 1-1 1zM257 300l1-2 0 2z" fill="#2ca2ff"/><path d="M243 186l1-1 2 0 4 2 2 0 1 1 1 0 4 4 0 1 1 1 1 2 5 0 2-2-1-2-4-4 0-2 3 0 5 5 2 1 2 2 2 1 3 3 4 8-2 4 0 2 1 2 2 2 1 0 1 1 2 1 2-1 1-1 0-2 1-1 2-1 2 1 1 1 1 2 0 2 1 2 0 2 1 2 2 2 1 0 1 1 1-1 1 0 2-1 1 1 1 2-2 1-2 0-1 1-1 0-1 2 0 4 2 4 0 4 3 6 0 2-2 2-2-1-2 0-2-1-2 2-1 2 4 4 0 4-1 2 0 6 1 2-1 2-2 0-2-1-2 0-2-1-6 0-1 2 0 2-2 4 1 2 2 2 0 1 1 1 0 2-1 1-2-1-1 0-1-1-2-1-2 0-2-1-2 1-2 2-2 0-2-1 0-1-1-2 1-2 0-1 2-2 2-1-2-2-4 0-4-2-8 4-2-1-2 0-10-5-2 0-2 1-2-1-2-2 0-8 2 1 2 0 1-1 0-2-1-1 0-1-1-2-1-1-2 0-2 1 0 1-2-1-4-4-2-1-2 0-2-2-2 0-2 1-2-1-1-1-1-2 0-2 2-1 2 0 1 1 1 2 1-2-1-2 0-1-1-1 0-2 1-2 0-2 1-2 0-2 2-4 0-2-1-2 1-2 1-1 4 4 2 1 2 0 4 4 2-1 1-1 1-2-2-2-5 0-2-2-2-4 0-2-1-2 1-2 0-2 1-2 0-2 4-4 2-4 0-4 1-2 1-1 2 1 1 0 1 1 2 0 2-1 1-2zM262 203l0 2zM296 242l-1 0 1 2 0 1 2 2 1-1 0-2-1-2zM217 260l1-1 2 1 1 2 0 2-2 0-2-2z" fill="#2a78ff"/><path d="M248 198l2-1 2 0 0 1 2 2 1 2 0 4 1 2 0 1 1 1 1 0 4 2 4 0 2 1 0 1 2 1 6 6 2 1 2 2 0 1 2 2 0 3-2 2-2 4 2 4 2 1 2 0 2 1 2 0 1 2-2 4 0 2-1 1 0 1-2 1-2 0-2 1 0 4-1 2 0 2-1 2 0 2-2 4-2 2-4-2-2 0-2-2-2 0-2 1-3 3-9 0-1-2 0-2-2-4-4-4 1-1 2 1 2 0 2-1 2 0 2 1 1 0 1 1 4 0 0-3-2-4-4-2-2 0-2-1-4-4-2-1-4 0-2 1-2 0-2-2-2-1-1 0 0-4 1-1 4 0 2 1 1 0 1 1 2 0 3-3 1-2 2-1 0-1 2-2-2-4 0-3 1-1 3 0 2-1 1-1-1-1-2-1-6 3-2 2-2 0-7-7 0-4-2-2-1 0-1-2 0-2 1 0 2-1 8 0 2 1 2 0 2-2zM293 220l1-1 2 2 0 6-2 1-1 2 1 2 0 2-1 2-1 1-2 0-1-1-1-2 0-2 2-4-1-2 0-2 1-1 2-1zM239 230l1-1 2 0 1 1-1 2-2 0z" fill="#1e4dff"/><path d="M254 236l2 2 1 2 0 2-1 2 0 4-2 1-2 0-4-4 0-4 1-1 1-2 2-2zM264 236l3 0 1 1 0 1 2 2 0 1 1 1 2 4 0 14-1 2-4 0-2-1-3-3-1-2 0-2-1-2 1-2 0-2 2-4 0-2-1-2 0-2z" fill="#1222ff"/>
<use href="#outer"/>
</g></g>
<path d="M96.7 -15.5V0M96.7 408v15.5M213.6 -15.5V0M213.6 408v15.5M331.2 -15.5V0M331.2 408v15.5M-16 80.7H0M414 80.7h16M-16 231.1H0M414 231.1h16M-16 381.8H0M414 381.8h16" stroke="#000" stroke-width="3.3" fill="none"/>
<rect width="414" height="408" fill="none" stroke="#000" stroke-width="3.9"/>
</g>
<g transform="translate(915.0 2274.4) scale(0.9990 1.0000)">
<rect width="414" height="408" fill="#9a9a9a"/>
<polygon points="0,177.4 5.2,174.6 12.9,173.9 18.2,180.9 25.2,184.4 30.4,191.4 39.2,194.9 44.4,194.9 46.2,182.6 52.1,179.1 60.2,182.6 64.4,187.2 72.4,198.4 72.4,250.9 79.4,285.9 93.4,303.4 121.4,324.4 156.4,352.3 174.6,381 179.1,397.8 184.4,408.3 0,408.3" fill="#fff"/>
<g clip-path="url(#cpF)"><g clip-path="url(#cpC)">
<rect width="414" height="408" fill="#ff0000"/><path d="M91 -4l2-2 310 0 17 17 0 403-375 0-1-1 0-1-2-2 0-1-1-1-2-4-1-1 0-1-2-2 0-1-1-1-15-30 0-2-4-8 0-2-3-6 0-2-2-4 0-2-2-4 0-2-2-4 0-2-1-2 0-2-1-2 0-2-1-2 0-2-1-2 0-2-1-2 0-2-1-2 0-4-1-2 0-2-1-2 0-4-1-2 0-6-1-2 0-6-1-2 0-8-1-2 0-14-1-2 0-24 1-2 0-14 1-2 0-10 1-2 0-6 1-2 0-4 1-2 0-4 1-2 0-4 1-2 0-4 1-2 0-2 1-2 0-2 1-2 0-4 1-2 0-2 1-2 0-2 2-4 0-2 1-2 0-2 1-2 0-2 2-4 0-2 2-4 0-2 3-6 0-2 3-6 0-2 6-12 0-2 1-2 1-1 0-1 1-2 1-1 0-1 1-2 1-1 0-1 1-2 1-1 0-1 1-2 1-1 0-1 2-2 0-1 1-1 4-8 2-2 3-6 2-2 0-1 1-1 1-2 2-2 0-1 2-2 0-1 2-2 1-2 2-2 1-2 2-2 1-2 4-4 1-2 4-4 1-2zM174 363l-6 3-4 4-2 4 0 6 1 2 5 5 4 2 2 0 2 1 2-1 2 0 2-1 1 0 1-1 2-1 2-2 1-2 1-1 0-1 1-2 0-6-2-4-1-1-2-1-2-2-2 0-2-1z" fill="#ff4600"/><path d="M233 44l5 0 2-1 16 0 2 1 8 0 2 1 4 0 2 1 2 0 2 1 2 0 2 1 2 0 2 1 2 0 4 2 2 0 6 3 1 0 1 1 2 0 1 1 1 0 2 1 1 1 1 0 2 1 2 2 2 1 1 0 1 1 4 2 2 2 4 2 2 2 2 1 2 2 2 1 4 4 2 1 16 16 1 2 4 4 1 2 2 2 1 2 2 2 1 2 2 2 0 1 1 1 2 4 2 2 4 8 1 1 0 1 1 2 2 2 1 2 0 2 1 2 1 1 0 1 4 8 0 1 1 1 0 2 3 6 0 2 2 4 0 2 1 2 0 2 2 4 0 2 1 2 0 2 1 2 0 4 1 2 0 2 1 2 0 4 1 2 0 6 1 2 0 6 1 2 0 40-1 2 0 8-1 2 0 4-1 2 0 2-1 2 0 4-1 2 0 2-1 2 0 2-1 2 0 2-2 4 0 2-1 2 0 2-3 6 0 2-3 6 0 1-1 1-1 2 0 2-1 2-1 1 0 1-1 2-1 1 0 1-1 2-2 2-1 2 0 1-1 1-2 4-1 1 0 1-2 2-1 2-1 1 0 1-2 2-1 2-2 2-1 2-4 4 0 1-7 7-1 2-6 6-1 0-7 7-2 1-2 2-2 1-2 2-2 1-2 2-4 2-2 2-1 0-1 1-8 4-1 1-1 0-12 6-94 0-2-2-1-2 0-8-1-2 0-4 1-2 0-4 1-2 0-12-1-2 0-2-3-6-6-6-2-1-2-2-2-1-1 0-1-1-2 0-4-2-12 0-2 1-2 0-2 1-2 0-4 2-2 0-4 2-2 0-2 1-8 0-2 1-2-1-2 0-4-2-8-8 0-1-2-2 0-1-2-2-3-6-2-2-1-2 0-1-1-1-1-2 0-1-1-1-1-2 0-2-1-2-1-1 0-1-3-6 0-2-3-6 0-2-1-2 0-2-2-4 0-2-1-2 0-2-1-2 0-2-1-2 0-4-1-2 0-2-1-2 0-4-1-2 0-8-1-2 0-40 1-2 0-6 1-2 0-6 1-2 0-4 1-2 0-2 1-2 0-4 1-2 0-2 1-2 0-2 2-4 0-2 1-2 0-2 2-4 0-2 3-6 0-2 1-1 0-1 4-8 0-1 1-1 1-2 0-2 1-2 2-2 1-2 0-1 1-1 4-8 2-2 2-4 1-1 0-1 2-2 1-2 2-2 1-2 2-2 1-2 4-4 1-2 16-16 2-1 4-4 2-1 2-2 2-1 2-2 4-2 2-2 4-2 1-1 1 0 2-1 2-2 2-1 1 0 1-1 2-1 1 0 1-1 2 0 1-1 1 0 6-3 2 0 4-2 2 0 2-1 2 0 2-1 2 0 2-1 2 0 2-1 4 0 2-1z" fill="#ff7d00"/><path d="M233 78l3 0 2-1 20 0 2 1 4 0 2 1 4 0 2 1 2 0 2 1 2 0 2 1 2 0 4 2 1 0 1 1 2 0 16 8 1 1 1 0 2 2 2 1 1 1 1 0 2 2 2 1 3 3 1 0 20 20 0 1 3 3 1 2 2 2 1 2 1 1 0 1 2 2 1 2 1 1 0 1 2 2 0 1 1 1 9 18 0 1 1 1 0 2 3 6 0 2 2 4 0 2 1 2 0 2 2 4 0 2 1 2 0 4 1 2 0 2 1 2 0 4 1 2 0 6 1 2 0 10 1 2 0 18-1 2 0 10-1 2 0 4-1 2 0 4-1 2 0 2-1 2 0 2-1 2 0 2-1 2 0 2-1 2 0 2-3 6 0 2-4 8 0 2-1 2-1 1 0 1-1 2-1 1 0 1-1 2-2 2-1 2 0 1-1 1-2 4-2 2-2 4-3 3 0 1-4 4-1 2-17 17-2 1-2 2-2 1-2 2-4 2-2 2-4 2-1 1-1 0-2 1-2 2-2 1-2 0-2 1-1 1-1 0-6 3-2 0-4 2-2 0-2 1-2 0-2 1-2 0-2 1-4 0-2 1-10 0-2 1-4 0-2-1-8 0-2-1-2 0-8-4-4-4-1-2-2-2-2-4-1-1 0-1-4-4-1-2-10-10-1 0-2-2-2-1-1-1-1 0-2-2-1 0-1-1-2 0-1-1-1 0-4-2-2 0-4-2-2 0-2-1-2 0-2-1-2 0-2-1-4 0-2-1-2 0-8-4-6-6-1-2-2-2-2-4-1-1 0-1-2-2 0-1-1-1-1-2 0-1-1-1-1-2 0-2-4-8 0-2-3-6 0-2-1-2 0-2-1-2 0-2-1-2 0-2-1-2 0-2-1-2 0-4-1-2 0-4-1-2 0-10-1-2 0-18 1-2 0-10 1-2 0-6 1-2 0-4 1-2 0-2 1-2 0-4 1-2 0-2 2-4 0-2 1-2 0-2 2-4 0-2 3-6 0-2 1-1 0-1 9-18 1-1 0-1 2-2 0-1 1-1 1-2 2-2 0-1 1-1 1-2 2-2 1-2 3-3 0-1 20-20 1 0 3-3 2-1 2-2 1 0 1-1 2-1 2-2 1 0 1-1 16-8 2 0 1-1 1 0 4-2 2 0 2-1 2 0 2-1 2 0 2-1 4 0 2-1z" fill="#ffaf00"/><path d="M238 100l6 0 2-1 4 0 2 1 10 0 2 1 2 0 2 1 2 0 2 1 2 0 2 1 2 0 4 2 1 0 1 1 2 0 1 1 1 0 6 3 1 1 1 0 2 1 2 2 4 2 2 2 2 1 2 2 2 1 17 17 1 2 2 2 1 2 2 2 2 4 2 2 2 4 1 1 0 1 1 2 1 1 0 1 2 2 0 2 1 2 1 1 0 1 4 8 0 2 2 4 0 2 2 4 0 2 1 2 0 2 1 2 0 2 1 2 0 2 1 2 0 4 1 2 0 6 1 2 0 32-1 2 0 6-1 2 0 4-1 2 0 2-1 2 0 2-1 2 0 2-2 4 0 2-2 4 0 2-3 6 0 1-1 1-1 2 0 1-1 1-1 2 0 1-1 1-1 2 0 1-1 1-2 4-2 2-2 4-2 2-1 2-2 2-1 2-16 16-1 0-4 4-1 0-2 2-1 0-2 2-6 3-1 1-1 0-2 1-1 1-1 0-2 1-1 1-1 0-6 3-2 0-4 2-2 0-2 1-2 0-2 1-4 0-2 1-22 0-2-1-2 0-2-1-2 0-6-3-1-1-1 0-2-2-2-1-4-4-2-1-2-2-2-1-3-3-1 0-2-2-2-1-1-1-1 0-2-1-2-2-2-1-1 0-1-1-2 0-1-1-1 0-8-4-1 0-1-1-2-1-1 0-1-1-6-3-10-10-1-2-2-2-4-8-1-1 0-1-1-2-1-1 0-1-1-2-1-1 0-1-3-6 0-2-2-4 0-2-2-4 0-2-1-2 0-2-1-2 0-2-1-2 0-4-1-2 0-6-1-2 0-32 1-2 0-6 1-2 0-4 1-2 0-2 1-2 0-2 1-2 0-2 1-2 0-2 2-4 0-2 2-4 0-2 4-8 0-1 1-1 1-2 0-2 2-2 0-1 1-1 1-2 0-1 1-1 2-4 2-2 2-4 2-2 1-2 2-2 1-2 17-17 2-1 2-2 2-1 2-2 4-2 2-2 2-1 1 0 1-1 6-3 1 0 1-1 2 0 1-1 1 0 4-2 2 0 2-1 2 0 2-1 2 0 2-1 2 0 2-1z" fill="#ffe000"/><path d="M243 120l15 0 2 1 4 0 2 1 2 0 2 1 2 0 6 3 2 0 10 5 1 1 1 0 2 2 1 0 1 1 2 1 2 2 1 0 3 3 2 1 14 14 0 1 3 3 1 2 2 2 0 1 1 1 1 2 2 2 0 1 1 1 9 18 0 2 2 4 0 2 2 4 0 2 1 2 0 2 1 2 0 4 1 2 0 4 1 2 0 10 1 2 0 10-1 2 0 8-1 2 0 6-1 2 0 2-1 2 0 2-1 2 0 2-2 4 0 2-2 4 0 1-1 1 0 2-1 1 0 1-1 2-1 1 0 1-1 2-1 1 0 1-2 2 0 1-1 1-2 4-2 2-1 2-2 2 0 1-4 4 0 1-10 10-1 0-4 4-1 0-2 2-2 1-2 2-8 4-1 1-1 0-8 4-1 0-1 1-2 0-2 1-2 0-2 1-2 0-2 1-2 0-2 1-8 0-2 1-6 0-2-1-6 0-2-1-2 0-2-1-2 0-6-3-2 0-2-1-1-1-1 0-2-1-1-1-1 0-2-1-1-1-1 0-2-1-1-1-1 0-2-1-2-2-8-4-2-2-4-2-2-2-2-1-4-4-1 0-6-6-1-2-2-2-1-2-2-2-2-4-1-1 0-1-2-2 0-1-1-1-1-2 0-1-1-1-1-2 0-1-1-1 0-2-1-1 0-1-2-4 0-2-2-4 0-2-1-2 0-2-1-2 0-2-1-2 0-6-1-2 0-8-1-2 0-10 1-2 0-10 1-2 0-4 1-2 0-4 1-2 0-2 1-2 0-2 2-4 0-2 2-4 0-2 9-18 1-1 0-1 2-2 1-2 1-1 0-1 2-2 1-2 3-3 0-1 14-14 2-1 3-3 1 0 2-2 2-1 1-1 1 0 2-2 1 0 1-1 10-5 2 0 6-3 2 0 2-1 2 0 2-1 4 0 2-1z" fill="#f4ff15"/><path d="M239 132l5 0 2-1 4 0 2 1 8 0 2 1 2 0 2 1 2 0 2 1 2 0 6 3 1 0 1 1 2 1 2 0 2 2 1 0 1 1 4 2 1 1 1 0 2 2 2 1 2 2 2 1 14 14 1 2 2 2 1 2 2 2 1 2 1 1 0 1 2 2 0 1 1 1 5 10 0 1 1 1 0 2 3 6 0 2 1 2 0 2 1 2 0 2 1 2 0 2 1 2 0 4 1 2 0 10 1 2 0 6-1 2 0 8-1 2 0 6-1 2 0 2-1 2 0 2-2 4 0 2-2 4 0 2-7 14-1 1 0 1-2 2-1 2-2 2-1 2-2 2-1 2-13 13-2 1-2 2-2 1-1 1-1 0-2 2-16 8-2 0-4 2-2 0-2 1-2 0-2 1-4 0-2 1-18 0-2-1-4 0-2-1-2 0-2-1-2 0-2-1-2 0-1-1-1 0-8-4-1 0-1-1-2-1-1 0-1-1-6-3-2-2-1 0-1-1-2-1-4-4-1 0-10-10-1-2-2-2-1-2-2-2-1-2-2-2 0-1-1-1-7-14 0-2-2-4 0-2-2-4 0-2-1-2 0-2-1-2 0-6-1-2 0-8-1-2 0-6 1-2 0-10 1-2 0-4 1-2 0-2 1-2 0-2 1-2 0-2 1-2 0-2 3-6 0-2 1-1 0-1 5-10 1-1 0-1 2-2 0-1 1-1 1-2 2-2 1-2 2-2 1-2 14-14 2-1 2-2 2-1 2-2 1 0 1-1 4-2 1-1 1 0 2-2 2 0 2-1 1-1 1 0 6-3 2 0 2-1 2 0 2-1 2 0 2-1z" fill="#d7ff4b"/><path d="M244 140l12 0 2 1 4 0 2 1 2 0 2 1 2 0 4 2 2 0 12 6 1 1 1 0 2 2 1 0 2 2 1 0 4 4 1 0 12 12 1 2 2 2 1 2 2 2 2 4 2 2 1 2 0 1 1 1 3 6 0 1 1 1 0 2 2 4 0 2 2 4 0 2 1 2 0 2 1 2 0 4 1 2 0 8 1 2 0 10-1 2 0 8-1 2 0 2-1 2 0 4-2 4 0 2-2 4 0 2-7 14-1 1 0 1-2 2-1 2-2 2-1 2-2 2-1 2-9 9-2 1-2 2-2 1-2 2-4 2-2 2-10 5-2 0-6 3-2 0-2 1-2 0-2 1-4 0-2 1-20 0-2-1-2 0-2-1-4 0-4-2-2 0-4-2-1 0-1-1-2 0-1-1-1 0-2-1-1-1-1 0-2-2-1 0-1-1-4-2-2-2-2-1-2-2-2-1-9-9-1-2-2-2-1-2-2-2-1-2-2-2 0-1-1-1-7-14 0-2-2-4 0-2-2-4 0-4-1-2 0-2-1-2 0-8-1-2 0-10 1-2 0-8 1-2 0-4 1-2 0-2 1-2 0-2 2-4 0-2 2-4 0-2 1-1 0-1 3-6 1-1 0-1 1-2 2-2 2-4 2-2 1-2 2-2 1-2 12-12 1 0 4-4 1 0 2-2 1 0 2-2 1 0 1-1 12-6 2 0 4-2 2 0 2-1 2 0 2-1 4 0 2-1z" fill="#b9ff82"/><path d="M242 148l16 0 2 1 4 0 2 1 2 0 4 2 2 0 14 7 1 1 1 0 2 2 2 1 2 2 2 1 4 4 2 1 2 2 0 1 6 6 1 2 2 2 2 4 2 2 6 12 0 2 1 1 0 1 2 4 0 2 1 2 0 2 1 2 0 2 1 2 0 6 1 2 0 18-1 2 0 4-1 2 0 4-1 2 0 2-2 4 0 2-3 6 0 1-1 1-1 2 0 1-1 1-1 2 0 1-1 1-2 4-2 2-1 2-2 2-1 2-10 10-1 0-4 4-1 0-2 2-1 0-2 2-1 0-1 1-10 5-2 0-4 2-2 0-2 1-2 0-2 1-2 0-2 1-8 0-2 1-4 0-2-1-8 0-2-1-2 0-2-1-2 0-2-1-2 0-4-2-2 0-10-5-1-1-1 0-2-2-2-1-1-1-1 0-4-4-2-1-9-9-1-2-2-2-1-2-2-2-2-4-1-1 0-1-1-2-1-1 0-1-1-2-1-1 0-1-3-6 0-2-2-4 0-2-1-2 0-4-1-2 0-4-1-2 0-18 1-2 0-6 1-2 0-2 1-2 0-2 1-2 0-2 2-4 0-1 1-1 0-2 6-12 2-2 2-4 2-2 1-2 6-6 0-1 2-2 2-1 4-4 2-1 2-2 2-1 2-2 1 0 1-1 14-7 2 0 4-2 2 0 2-1 4 0 2-1z" fill="#7affb1"/><path d="M237 156l3 0 2-1 12 0 2 1 4 0 2 1 4 0 4 2 2 0 6 3 2 0 2 1 2 2 2 1 1 0 1 1 2 1 2 2 1 0 3 3 2 1 10 10 1 2 2 2 1 2 2 2 0 1 1 1 7 14 0 2 2 4 0 2 1 2 0 2 1 2 0 4 1 2 0 22-1 2 0 4-1 2 0 2-1 2 0 2-2 4 0 1-1 1 0 2-1 1 0 1-3 6-1 1 0 1-2 2 0 1-2 2 0 1-2 2-1 2-11 11-2 1-2 2-2 1-2 2-16 8-2 0-2 1-2 0-2 1-2 0-2 1-2 0-2 1-20 0-2-1-2 0-2-1-2 0-2-1-2 0-2-1-2 0-16-8-2-2-2-1-2-2-2-1-11-11-1-2-2-2 0-1-2-2 0-1-2-2 0-1-1-1-3-6 0-1-1-1 0-2-1-1 0-1-2-4 0-2-1-2 0-2-1-2 0-4-1-2 0-22 1-2 0-4 1-2 0-2 1-2 0-2 2-4 0-2 7-14 1-1 0-1 2-2 1-2 2-2 1-2 10-10 2-1 3-3 1 0 2-2 2-1 1-1 1 0 2-1 2-2 2-1 2 0 6-3 2 0 4-2 4 0 2-1z" fill="#34ffde"/><path d="M235 164l3 0 2-1 16 0 2 1 4 0 2 1 2 0 2 1 2 0 4 2 1 0 1 1 2 0 1 1 1 0 2 1 1 1 1 0 2 2 1 0 1 1 2 1 2 2 2 1 11 11 1 2 2 2 1 2 1 1 0 1 2 2 4 8 0 2 3 6 0 2 1 2 0 2 1 2 0 4 1 2 0 18-1 2 0 4-1 2 0 2-1 2 0 2-3 6 0 2-3 6-1 1 0 1-2 2 0 1-2 2 0 1-4 4-1 2-6 6-1 0-4 4-2 1-1 1-1 0-2 2-12 6-2 0-4 2-2 0-2 1-4 0-2 1-20 0-2-1-4 0-2-1-2 0-4-2-2 0-12-6-2-2-1 0-1-1-2-1-4-4-1 0-6-6-1-2-4-4 0-1-1-1-1-2-2-2 0-1-1-1-3-6 0-2-3-6 0-2-1-2 0-2-1-2 0-4-1-2 0-18 1-2 0-4 1-2 0-2 1-2 0-2 3-6 0-2 4-8 2-2 0-1 1-1 1-2 2-2 1-2 11-11 2-1 2-2 2-1 1-1 1 0 2-2 1 0 1-1 2-1 1 0 1-1 2 0 1-1 1 0 4-2 2 0 2-1 2 0 2-1z" fill="#05f4ff"/><path d="M233 176l1 0 2-1 4 0 2-1 12 0 2 1 4 0 2 1 2 0 2 1 2 0 6 3 2 0 2 1 2 2 4 2 1 1 1 0 4 4 1 0 6 6 1 2 2 2 1 2 2 2 6 12 0 2 2 4 0 2 1 2 0 6 1 2 0 10-1 2 0 6-1 2 0 2-2 4 0 2-6 12-2 2-1 2-2 2-1 2-6 6-1 0-4 4-1 0-1 1-4 2-2 2-2 1-2 0-6 3-2 0-2 1-2 0-2 1-4 0-2 1-12 0-2-1-4 0-2-1-2 0-2-1-2 0-6-3-2 0-2-1-2-2-4-2-1-1-1 0-4-4-1 0-6-6-1-2-2-2-1-2-2-2-6-12 0-2-2-4 0-2-1-2 0-6-1-2 0-10 1-2 0-6 1-2 0-2 2-4 0-2 6-12 2-2 1-2 2-2 1-2 6-6 1 0 4-4 1 0 1-1 4-2 2-2 2-1 2 0 6-3 2 0 2-1z" fill="#19cbff"/><path d="M239 186l3 0 2-1 8 0 2 1 4 0 2 1 2 0 2 1 2 0 12 6 2 2 2 1 9 9 2 4 2 2 1 2 0 1 1 1 1 2 0 2 2 4 0 2 1 2 0 4 1 2 0 10-1 2 0 4-1 2 0 2-2 4 0 2-1 2-1 1 0 1-1 2-2 2-2 4-9 9-2 1-2 2-12 6-2 0-2 1-2 0-2 1-4 0-2 1-8 0-2-1-4 0-2-1-2 0-2-1-2 0-12-6-2-2-2-1-9-9-2-4-2-2-1-2 0-1-1-1-1-2 0-2-2-4 0-2-1-2 0-4-1-2 0-10 1-2 0-4 1-2 0-2 2-4 0-2 1-2 1-1 0-1 1-2 2-2 2-4 9-9 2-1 2-2 12-6 2 0 2-1 2 0 2-1z" fill="#2ca2ff"/><path d="M240 200l2 0 2-1 8 0 2 1 2 0 2 1 2 0 2 1 1 0 1 1 2 1 1 0 1 1 4 2 8 8 0 1 2 2 4 8 0 2 1 2 0 4 1 2 0 6-1 2 0 4-1 2 0 2-4 8-2 2 0 1-8 8-4 2-1 1-1 0-2 1-1 1-1 0-2 1-2 0-2 1-2 0-2 1-8 0-2-1-2 0-2-1-2 0-2-1-1 0-1-1-2-1-1 0-1-1-4-2-8-8 0-1-2-2-4-8 0-2-1-2 0-4-1-2 0-6 1-2 0-4 1-2 0-2 4-8 2-2 0-1 8-8 4-2 1-1 1 0 2-1 1-1 1 0 2-1 2 0z" fill="#2a78ff"/><path d="M240 218l2-1 12 0 6 3 2 2 1 0 2 2 1 2 2 2 0 1 1 1 0 2 1 2 0 10-1 2 0 2-1 1 0 1-2 2-1 2-2 2-1 0-2 2-6 3-12 0-6-3-2-2-1 0-2-2-1-2-2-2 0-1-1-1 0-2-1-2 0-10 1-2 0-2 1-1 0-1 2-2 1-2 2-2 1 0 2-2z" fill="#1e4dff"/>
<use href="#outer"/>
</g></g>
<path d="M96.7 -15.5V0M96.7 408v15.5M213.6 -15.5V0M213.6 408v15.5M331.2 -15.5V0M331.2 408v15.5M-16 80.7H0M414 80.7h16M-16 231.1H0M414 231.1h16M-16 381.8H0M414 381.8h16" stroke="#000" stroke-width="3.3" fill="none"/>
<rect width="414" height="408" fill="none" stroke="#000" stroke-width="3.9"/>
</g>
<g transform="translate(1532.7 2277.9) scale(0.9957 0.9993)">
<rect width="414" height="408" fill="#9a9a9a"/>
<polygon points="0,177.4 5.2,174.6 12.9,173.9 18.2,180.9 25.2,184.4 30.4,191.4 39.2,194.9 44.4,194.9 46.2,182.6 52.1,179.1 60.2,182.6 64.4,187.2 72.4,198.4 72.4,250.9 79.4,285.9 93.4,303.4 121.4,324.4 156.4,352.3 174.6,381 179.1,397.8 184.4,408.3 0,408.3" fill="#fff"/>
<g clip-path="url(#cpF)">
<rect width="414" height="408" fill="#b4ff8c"/><path d="M278.0 118.2l3.9 2.9v2.8l-3.9 -2.9zM291.5 140.8l3.4 2.5v2.8l-3.4 -2.5zM306.8 160.1l3.5 2.7v2.4l-3.5 -2.7zM307.7 159.3l2.5 1.9v2.5l-2.5 -1.9zM310.1 157.4l4.6 3.4v2.2l-4.6 -3.4zM312.7 158.3l3.8 2.8v2.7l-3.8 -2.8zM147.4 163.2l3.4 2.5v2.8l-3.4 -2.5zM226.0 205.4l2.8 2.1v2.8l-2.8 -2.1zM219.5 235.3l3.4 2.5v2.8l-3.4 -2.5zM271.6 274.5l3.4 2.5v2.8l-3.4 -2.5zM306.6 274.5l3.4 2.5v2.8l-3.4 -2.5zM316.5 272.1l3.1 2.3v2.2l-3.1 -2.3zM317.1 270.1l3.0 2.3v3.0l-3.0 -2.3zM314.4 270.8l2.5 1.9v2.6l-2.5 -1.9zM261.5 310.3l3.9 2.9v2.8l-3.9 -2.9zM147.7 344.2l2.8 2.1v3.0l-2.8 -2.1zM138.1 342.7l2.4 1.8v2.1l-2.4 -1.8zM189.8 364.9l3.9 2.9v2.8l-3.9 -2.9zM194.3 368.6l3.4 2.5v2.8l-3.4 -2.5z" fill="#ffa812"/><path d="M185.6 140.6l3.9 2.9v2.8l-3.9 -2.9zM304.5 157.7l3.9 2.9v2.8l-3.9 -2.9z" fill="#ff1500"/>
<use href="#outer"/>
</g>
<path d="M96.7 -15.5V0M96.7 408v15.5M213.6 -15.5V0M213.6 408v15.5M331.2 -15.5V0M331.2 408v15.5M-16 80.7H0M414 80.7h16M-16 231.1H0M414 231.1h16M-16 381.8H0M414 381.8h16" stroke="#000" stroke-width="3.3" fill="none"/>
<rect width="414" height="408" fill="none" stroke="#000" stroke-width="3.9"/>
</g>
<g transform="translate(248.3 2936.2) scale(0.9973 0.9990)">
<rect width="414" height="408" fill="#9a9a9a"/>
<polygon points="0,177.4 5.2,174.6 12.9,173.9 18.2,180.9 25.2,184.4 30.4,191.4 39.2,194.9 44.4,194.9 46.2,182.6 52.1,179.1 60.2,182.6 64.4,187.2 72.4,198.4 72.4,250.9 79.4,285.9 93.4,303.4 121.4,324.4 156.4,352.3 174.6,381 179.1,397.8 184.4,408.3 0,408.3" fill="#fff"/>
<g clip-path="url(#cpF)">
<rect width="414" height="408" fill="#ff0000"/><path d="M-6 -6l23 0-2 2 1 1 2 0 1-1 0-2 125 0 2 4 1 0 1 1 1-1 0-2-2-2 273 0 0 420-426 0 0-55 1 1 1 2 0 2 1 2 1 1 2-1 2-2 1 0 1-1 0-3-1-2-1-1-2-1-2 0-4-2 0-99 1 1 0 2 1 1 2 0 0-5 2-4 0-2-2-2-2 0-2-1zM6 1l-7 7 0 4-1 2 0 4 2 4 1 0 4 4 1 2 2 2 2 1 2 0 1-1 1-2 1 0 1-1 2 1 2 0 1-2 0-6-1-2 1-2 0-2-2-4-5-5-2-1-2-2-2-1zM22 72l-2 2 1 2 1 1 2 0 2-1 0-2zM30 134l-1 0-1 2 0 2-1 2 0 2-1 2 0 2 2 2 4 0 4-2 0-4-2-4 0-2-2-2zM38 218l-2 0-2 2-2 4-2-1-2-2-2-1-1 0-2 2 1 2 0 3-3 3 1 2 0 1 2 2 6 0 2 1 2 2 1 0 3 3 2 1 2 2 0-2-1-2 0-2 1-1 0-1 1-2 1-1 2-1 0-2-1-2-1-1-2-1 1-2 0-4-1-2-2-1zM50 39l0 3 1 2 1 1 2 1 2-1 4 0 1-1 0-2-1-2-2-2-6 0zM76 310l-1 0 1 1zM90 18l-2 1-3 3-1 2 1 2 1 1 2 1 2 0 4 2 2 2 2 0 0-2-5-10-1-1zM96 9l-3 3 0 2 1 2 4 2 2-1 3-3-1-2-2-2-2-1zM110 254l-1 0-1 2 0 4 2 4 2 2 0 5 2 2 2 1 2-1 0-1 1-2 0-2 1-1 2-1 2 1 1 1 4 0 0-2-1-2 0-1-2-1-2 2-2 0-2-2-2-4-2-2-4-2zM128 236l-1 2 0 6 1 2 2 1 3 3 1 2 2 2 2-2 0-2-1-2-2-2 0-2-1-2 0-2-2-4-2-1zM148 328l-2 2 0 5 2 2 2 0 1-1 1 0 2-2 0-6-2-1-2 0zM156 336l-1 0-1 1 0 1-1 2 1 2 0 2 2 4 2 2 2 0 0 2-1 0-1-2 0 4-1 2-1 0-4 2-2 0-2 2 4 4 1 2 1 1 0 1 2 4 6 6 2 0 4 4 0 2 2 4 4 2 4 0 1-2-1-1 0-1-2-4 4 0 2 1 4 0 2 1 2 0 2 1 2 0 3 3 0 2 3 3 2 1 8 0 2 1 4 0 1-1 0-2-1-1-2-1-2 0-4-4 0-2 2-4 2-1 2 1 1 0 1 1 4 0 2-1 1 0 1-2 0-4-1-2-1-1 0-1-2-4 0-2 1-2 1 0 2 1 4 0 2-2 0-3-1-2-1-1-2-1 0-1-2 1-2 2 0 1-2 0 0-1-4-2-2 0-2 1-4 0-1-1-1 0-2-4-2-2-2-1-1 1-1 0-2 2-2 0-2-2-1 0-1-1-6-3-1 0 0-2 2-2 1-2-2-2-2-1-2 1-2 4-2 1-1 1-1 2-2 1-2 0-2-1-1-2 0-4-1 0-2-1-2 0-2-1zM226 337l-1 1 1 2 2 1 1-1 0-2-1-1zM236 383l-2 1 1 2 2 2 1 2-2 1-2 0 0 3 2 4 4 2 1-2 0-2 2-2 0-2-2-4 0-4-1-1-2-1zM250 394l-2 0 0 2 1 2 1 1 2 0 2-1-1-2-1-1zM292 61l-1 1 1 2 1-2zM320 32l-2 1-1 1 0 2 1 2 2 1 2 0 3-3 0-2-1-1-2-1zM326 66l-1 2 0 4 2 4 1 1 2-2 0-4-1-1-1-2 0-1zM330 57l-1 1-1 2 0 2 2 1 2 0 2-1 0-3-2-2zM346 33l-1 1 2 4 2 2 2 0 0-2-1-2-2-2zM416 374l0 2 1 2 1 1 1-1 1-2-1-2zM2 239l-1 1 1 2 0 1 2-1 0-2zM8 352l-1 2 2 0zM16 170l-2 2-1 2-1 1-2 1 0 2 2 4 2 2 2 1 2 0 2-2 2-1 0-1 6-3 1-2 0-2-4-4-1 0-2-1-4 0zM22 359l-2 1 1 2 1 1 4 0 1-1-1-2 0-1-2-1zM26 245l-1 1 2 2 3 0-2-1zM34 251l-1 1 1 2 0 3 2 2 1-1 0-2-2-4zM42 340l-4 2 0 1-2 1 0 2 2 1 3 3 1 0 2 1 1-1 1-2 0-6-1-2zM76 391l-2 1-1 2 1 2 0 1 2 2 6 3 4 0 2-1 0-1 1-2 0-2-3-3-4-2zM330 386l-1 0 0 2 1 1 2-1zM14 191l-1 1-1 0-2 2-2 4 2 4 0 1 1 1 3 6 0 2 2 2 1-2 0-2 1-2 0-2 1-2 1-1 0-1 1-2 0-2-1-2 0-1-1-1-1-2-2-1zM32 350l-2 0-1 2 0 2 1 1 4 2 2 0 2-1 0-2-1-2-1-1-2-1zM9 14l1 0 2 2 0 1 1 1 0 2-1 2-4-2-1-2 0-2z" fill="#ff4600"/><path d="M-6 -6l17 0-3 3-2 0-2 1-2 2-2 4-2 2-2 4-2 2 0 1zM26 -6l79 0-1 0-4 2 0 2-2 1-2 0-4-2-1-1-2 0-1 1 0 3 1 2 0 2-4 4 0 2 2 4 0 2-3 3-2 1-2 2 0 2 1 2-1 1-4-2-2 1-1 0-1 1 0 3 2 2 2 1 1 1 1 0 2 2 1 0 1 1 2 1 2 0 2-1 4 0 2 1 6 0 2-2 0-12 2-4 4-2 4 0 2-1 1-1-2-2-1 0-4-2-2-2-1-2 0-2 5-5 4 0 1 1 3 6 0 1 2 2 2 0 2-1 2-2 1-2 0-2 1-2-2-4 0-1-1-1-1-2-1 0 15 0 2 4 2 2-1 2-1 0-2 2-2 4 2 4 1 0 1 1 6 0 4 2 2-1 1-2-1-1 0-1-2-2 0-1-1-1 1-1 0-1 2-1 2-2 2-1 2-2 0-1 1-1 1-2 35 0 0 6 1 1 2-1 0-1 4-4 2-1 42 0 1 2 0 2-1 1-2 0-2-1-2 0-1 2 2 2 1 0 2 1 2 0 2-1 1 0 1-2 2-1 2-2 4-2 0-1 86 0-2 0-2 1-2 0-2 1-1 2 1 2 4 2 2 0 4 2 2 0 2 2 1 0 1 2 0 1 2 2 2 0 4 2 3 3 1 2 6 6 1 0 1 1 0-5-1-2 1-2-2-2-2-1-2 0-4-4-4 0-6-3 0-1-1-1 1-2 0-5-1-1-1-2 34 0 1 2 2 2 1 0 2 1 1-1-2-4 31 0 0 6-2 2-1 0-1 1 0 3 4 2 0 184-2-2-1-2 0-10 2-2 0-2-2-4-1-1-2 1-3 6 0 4-1 2-2 1-1 1 1 2 2 2 2 1 1 1 2 4 5 5 0 149-4-4-1 0-1-1-2-1-1-2 1-2 4-2 0-2-2-1 0-1-2-2-4-2-2 1-3 3 0 2 1 2 0 2 2 2 4 2 0 5-1 1-1 2-2-1-2-2-4-2-2 0-2 1 0 2 1 2 0 2-1 2-2 2 1 2 1 1 4 2 4 0 2-1 0-6 1-2 1-1 0 1 2 1 0 1 10 10 0 5-8-4-2 0-2 1-1 2 2 4 2 2 1 2-2 4-2 2-2 4 0 2 1 2 3 0 2-1 0-1 2-2 2-1 2 0 2-1 0 30-34 0-2-2 0-2 1-2 0-6 1-1 0-3-1-2-3-3-2 0-1 1 0 2 2 2 1 2-2 1-2 0-2 1-1 0-2 2-1 2 0 2 1 2 1 0 4 4-130 0 0-2 1-2 5-5 4 0 6-3 3 0 2 2 1 2 0 2 1 2 3 3 1-1 1-2 0-2-1-2 0-4 1-1 6 0 1-1 1-2-1-2 1-2 2-2 0-2 1-2-1-2-2-2-2-1-4 0-2-1-1-2 1-2 2-2 0-2-2-2-2-1-2 0-2 2 0 1-1 2 0 2-2 2-1 2 1 2 0 2 1 2-1 2-3 0-2-4 0-2-1-2-4-4 0-2 1-1 2 0 1-1-1-2-2-1-2-2-4 0-2 2 0 1-2 2-2 0-4-2-1 0-1-1-2-1 0-4 2-2 0-2-2-2-2 0-2-1 0-1-2-2-1-2-2-2 0-2 3-6 2-2 4-2 2-2-1-2-2-2-1-2-2-2-2 0-4 2-4-2-2 1-2 2-2 0-4 2-1 1 0 2 1 0 4 4 0 2-2 2-2 0-2-2-1 0-1-2-2-1-2 1-2 0-2-2-2-1-2-2-2-1-1 0-1-1-2-1-2-2 0-4-2-2-4-2-4 0-2 2-4 8-2-1-3-3-1 0-2-1-2 1-2 0-2-1-4-4-4-2-4 0-2 2-2 1-1 0-2 2 0 6-1 2 0 1-1 1-1 2 1 2 3 3 2-1 0-2 3 0 2 2 1 2-2 1-1 1-2 4-1 1-2 1 0 4 1 2 3 3 4 2 1 1 1 2 0 6 2 2 2 1 7 7-1 1-2 1-2 0-1 2 0 4 1 2 2 2 2 0 2 1 6 0 2 2 0 1 2 1 2 2 6 0 2-1 2-2 1-2 1-1 4-2 6 3 2 0 2-1 6 0 2 1 1 0 2 4 1 1 2 1 4-2 2-2 2 0 2 1 7 7 1 2 0 2-2 2-56 0-2-1-6 0 0-1-1-2-1-1 0-1-2-1-2-2-2 0-2 2 0 3 2 2 1 2-18 0 1-2 2-2 2-1 1-1-1-2-2-1-2 0-2-1-2 0-2-1-1-1-1 0-4-2-3 0 1 2 2 2 1 2 2 2 0 2 1 2 0 1 1 1-126 0-1-2-4 0-2 1-1 1-9 0 0-5 4 0 2 2 1-1-1-2 0-6-1-2 0-2-3-3-2 0 0-24 6 3 2 0 2-2 1-2 1-1 2 0 2 1 1-2-1-2 0-2 1-2 1 0 2 1 3 3 1 2 2 0 4-2 4 0 4-4 6 0 2-2 4-2 2 0 6 3 1 1 0 4-2 2 0 2 1 1 2 1 4-2 2 0 4-2 4 0 4 2 3 0 2-2 6 0 1-1 0-1-1-2-2-2-1-2-2-2-6-3-4 0-4-2-2 0-2-1-2 0-2-1-2-2 0-3 4-2 2 0 6 3 2-1 2 0 1-2 0-12-1-1 0-1-2-1-2-2-2 0-2-1-1 0-1-1-2-1-4-4-1 0-1-1-2-1-1 0-1 1-2 1-2 0-2-2 0-1-1-1 1 0 2-2 1-2-1-2 0-2-1-2 0-8 2-4 0-6-1-2-2-2-2-1-2 0-2 2-4 0-7-7-1 0-2-4-2-2-2 1-3 3 1 2 2 2 0 1 1 1-1 0-1 2-2 2-1 2-2-1 0-1-8-8-1-2 0-2-1-2 2-1 1 1 1 0 2 1 2-1 0-2-4-4 0-2-1-2 0-8 1-2 4 2 1 0 4 4 1 0 4 2 0-2-1-2 0-8 1-1 0 1 2 1 2 2 2 1 2 2 1 2 0 6-1 2 1 2 3 3 2 1 2 2 1 2 1 1 2 1 6 0 4 2 2 0 2 1 4 0 2-1 1-2 1-1 2-1 1 0 2-2-1-1 0-1-4-4-1-2-4-4-1 0-2-2 0-2 2-4 0-8-2-2-2 0-1 2-1 1-1-1-1 0-2-2-1-2 0-2 1-2 2 0 2 1 2-1 2-2 2 0 2 1 2 2 2 1 2 0 3-6-1-1-2-1-2 0-2-1-1-1-1-2-4-2-4 0-2-2 0-6-2-2-2-1-2 0-6-3-2-4 0-1-1-1 0-2-2-2-1-2-2-2-1 0-3-3 0-1-2-2 0-2 4-2 4 0 2-1 2 0 2 1 2-2-2-4 1-2 0-2 2-4-1-1-4-2-2 0-4-2-2 0-4-2-2 0-2-1 0-1-1-1 0-2-1-1-2 0-1 1-1 2 0 2-1 2 0 2-1 2 0 1-6 3 4 8 0 4-2 2-2-1-2 0-2-1-2 1 0 7-1 2 4 8 0 2-1 1-2 0-2 1-2 2 0-108 1-2 1-1 2-1 2 0 2 2 1 0 1 2 2 2 0 2-2 2-1 2 1 2 6 6 2 0 1-2-2-4 0-2-1-1 0-1-1-2 2-2 1-2 0-6 4-2 4 0 4-4 1 0 1-2 0-7 2-2 2-1 0-2-2-4-2-2-4-2-4-4-2-1-2 2 0 1-1 2 0 2 2 2 3 6 0 2-1 2-2 2 0 2-1 1-2 0-2-2 0-3-4-4-2-4 0-4-2-1-2 0-2 1 0 4 1 2 0 2 1 2 0 2-2 2-4-2 0-20 4-2 2-2 0-1 1-1-1-2-6-3 0-7 4 0 2 1 8 8 2 0 1-1-1-1 0-1-2-1-5-5-2-4-1-1 0-1-6-6 1-2 1 0 2-1 2 0 2 2 0 1 2 4 4 2 2-2 4-2 4 0 4 2 2-2 0-4 1-2 0-2 1-2 0-1 2-2 2 0 2-1 2-2 1-2 0-4-3-3-4-2-1-1-1 0-2-1-2 1-2-1-1-1 2-2 1 0zM44 68l-2 0-1 2 1 2 2 2 0 2 1 2 0 2 1 2 2 2 0 1 3 3 2 0 1-1 0-3-1-2 0-2-1-2-4-4-2-4zM58 29l-1 1-1 0-1 2-1 0-2 1-4-2-2 0-1 1 0 8 2 2 2 4 0 4-1 2 0 1-1 1-1 2 1 2 0 2 1 2 2 2 2 1 2 0 1-1 0-2 1-2 0-2 1-2 0-4-1-2 4-2 2 1 3-3-2-4 0-2-1-2 0-1-1-1 0-2-1-2-2-2zM70 199l-2 1 1 2 5 5 2 0 1-1 0-2-1-2-2-2-2-1zM100 216l2 2 2-1 0-1-2-1zM104 186l1 2 1 0 2 1 2 0 1-1-3-3-2-1zM120 228l-1 0-1 2 4 2 2 4 0 4-4 4 0 2-2 4-2 1-2-1-2-2 0-2 4-4 0-2-2-4 0-2-2-2-4-2-2 0-2 1-2 2-2 1-1 2 1 2 0 2-2 2-4 2-1 0-2 2-1 2 0 1-1 1 0 2 1 2 0 1 2 2 4 2 0 1 2 1 0 1 2 2 2 4 0 1 3 3 2 4 0 2-1 1-4 0-2 1-1 2 1 2 0 2-1 2 0 4-1 2 0 1-8 4-6 0-4 4-2 0-2 1-2 2-4 2-1 2 1 2 2 1 2 2 2 1 2 0 1 2 3 3 2 1 2-1 2 1 2 0 2 1 4 0 5-5 0-2-1-2-2-2 0-1-1-1 1-2 2-1 2-2 0-1 2-4 0-1 2-2 4 2 2-1-1-2-2-2-1-2-1 0 1 0 4-2 4 2 2 2 1 0 1 1 4 0 1-1 2-4 0-6-1-1 0-1-2-2-1-2 0-2 1-2 2-1 2 1 2 2 1 0 1 1 0 1 4 4 4 2 2 0 2-2 0-2 1-2 0-2 2-4 0-2 1-1 4-2 1-1 0-2-2-2-1-2-2-2-1-2 2-4 0-2-2-2-1-2 2-4 0-1-1-1-3 0-2 2-2 1 0-1-2-2-3-6-1-1-2-1-2 0-8-4zM124 23l0 3 2 2 2 0 2-2 0-1-2-2zM146 205l0 2 2 2 2-1 0-2-2-2zM152 234l-1 0 2 0zM156 175l-1 1 1 0 2 1 2-1-2-1zM178 311l-2 1 2 4 1 0 1 1 2-1 0-2-2-2zM198 314l-1 0 0 2 3 0zM228 5l-2 1-2 2-2-1-6 0-1 1 0 2 2 4 3 3 2 1 4 0 2 1 0 3-2 2-4 0-2 1 0 1-2 4 0 2 1 2 2 2 1 0 2 2 1 2 2 2 1 0 2 1 4 0 1 1 4 0 2-2 1-2 0-2-1-2-2-2-1 0-4-4 0-4 1-2 1-1 4 0 1-1 0-2-1-2-2-2-2-1-1-1 0-6-3-3zM252 356l-2 0 2 4 2 2 0 1 2 1 2-1 3-3 0-2-1-2-2-1-2 0-2 1zM266 0l-1 2 2 2 3 0-1-2-1-1zM282 4l0 2-1 2 1 2 2-1 1-1 0-2-1-1zM302 -2l-2 2 2 4 2 1 2 0 1-1-2-4-1-1zM318 28l-2 1-1 1 0 2-1 2 0 6 1 2 0 2-1 2-2 0-2-2-2-1-1-1-1 0-2-1-2 1-2 4-6 0-4 2 0 2 2 2 0 3-2 0-2 1-1 0-1 2 0 2 1 2 0 2 4 4 1 0 4 2 2-2 2-4-3-6 0-2 1-1 2 0 2-1 8 4 0 1 2 2 4 2 2 2 0 1 2 4 0 2 1 2 4 4 0 2 3 6 4 4 1 0 2 4 1 1 2 1 3 0 0-4-2-2-1-2 0-1-1-1 0-2-1-2 0-4 8 4 4 4 1 0 1 1 2 1 1 0 1 1 2 1 1 0 1 1 2 0 2 1 8 0 2-1 2 0 1-1-2-2-1-2-1 0-1-1-2 1-6-3-3-3-1-2 0-2 2-1 2 0 2-1 1 0 1-1 2-1 4 2 2 4 2 2 2-1 2 0 4 2 4 4 0-4-3-3-4-8-4-4-1-2 0-4-2-2-2 0-2 1-4 0-2-1-2-2-2-1-1 1 0 2-1 1 0 1-1 2 1 0 4 2 2 4-2 2-2 0-2-2 0-1-1-1 0-2-1-2-2-1-10 0 0-1-2-2 0-2 2-1 2 0 2 1 2-1 2-2 0-1 1-2 0-2 1-1 2-1 1-2-1-2 0-1-1-1-2-4 0-2-1-1 0-1-2-2-2 0-4-2-5 0-1 1 0 1-2 4-2 1-2 0 0-1-2-2-2-1-1-1-1 0-2-1-2 0-2-1zM346 19l0 3 4 4 2 0 2-2-1-2-2-2-1 0-2-1zM362 27l-2 1 1 2 1 1 0 1 2 2 2 1 2-1 0-2-1-2-3-3zM390 394l-1 2 0 2 1 0 2 1 2-1 2 0 1-2-1 0-2-1-1-1zM396 68l-1 2 0 4 2 2 5 0 2-2 0-2-1-2-1 0-4-2zM404 66l0 2 2 0 0-3zM416 32l-1 2 1 2 3 0-1-2 0-1zM408 211l-2 1 0 2 2 4 2 2 1 0 1 1 2-1 1-2 0-2-2-2-1 0-2-2-1 0zM400 397l-1 1 2 0zM196 409l-1 1 1 1 1-1zM10 406l0 3 2 2 8 0 1-1-2-4-1-1-2-1-4 0zM18 396l0 2 2 1 0-3zM36 371l0 2 2 1 1-2-1-1zM60 402l-1 2 0 2 1 0 2 1 1-1 1-2-2-2zM70 383l-2 1 0 2 1 2 0 10 2 2 1 2 2 2 0 1 4 4 6-3 7 0 2-2 0-2 3-3 0-1 2-2 0-2-1-2-1-1-2-1-1 0-1-1-2 1-4 0-4-2-2-2 0-1-2-1-2 0-2-1zM64 320l-2 2 1 2 1 1 1-1 1-2zM2 121l-1 1 1 2 2 2 2 1 1 1 0 2-1 1-2 0-3 3 0 2-2 4 1 2 2 1 3 3 0 2 1 2 6 3 2 2 2 1 6 0 6 3 1 1 2 0 2-4 0-2 1-1 2-1 2 1 1 1 1 0 2 1 2-1 2 0 2 1 6 0 1-1 0-2-1-1 0-1-2-2 1-2 2-2 0-2-1-2 0-1-1-1-2-4-3-3-2-1-2 0-2-1-2 0-2 1-8 0-4-2-2 0-1 2-2 2-1 0-2 1-2 0-2-1-4-4-1-2 0-4-1-1-2-1-2 0zM60 75l0 2 1-1zM62 77l-1 1 1 1zM82 338l-2 2 0 4 2 2 6 0 6 3 4 4 2 1 2 0 2-2-1-2-1-1-16-8-2-2zM118 313l-2 1 0 4-1 2-1 1-2 0-2 1 0 2 1 2 1 1 2 0 4 2 2 0 2 1 4-2 2 0 2 2 4 2 1 0 2-2 0-8-1-2-4-4-2-1-1 1-1 0-2 2-2-1-1-1-1 0-2-2zM128 192l0 2 2 2 6 3 2-1-1-2-1-1-2-1-2-2-1 0-1-1zM232 318l-1 0-1 1 0 4 2 2 2 1 2 0 1-2 0-2-1-2-2-2zM286 378l0 1 2 2 2-1 1-2-1-2-2 0zM288 78l0 1 2 2 2-1-2-2zM294 386l-1 2 0 4-1 2-2 1-1 1 0 2 1 2 2 2 3 0 1-1 2-1 2-2-1-2 0-2 2-2 0-2-1-2-4-2zM306 86l-1 2 0 2 3 3 2-1 1-2 0-2-1-1-2-1zM346 371l-2 1 0 2-2 2-2 0-4 2 0 2-1 2-1 1-4 0-2-1-2 0-2-1-2-2-2-1-2 0 0 2 1 2 5 5 0 1 4 4 4 2 2 0 2-2 1-2 1-1 0-1 2-1 1-1 1 0 4-2 2-2 2 0 2 2 3 0 0-4-1-2 0-1-4-4zM348 92l-1 2 1 2 4 4 1 0 1 1 2 0 2-1 0-2-2-1-4-4-2-1zM362 386l-1 0-2 2 0 6 1 2 0 1 2 2 2 0 2-1 2-2 1-2 0-4-3-3-2-1zM370 109l-1 1-2 4 0 2 2 2 1 0 2 1 2-1 2-4 0-2-2-2-2 0zM376 377l-1 1 1 2 2 2 2 1 2-1 0-3-4-2zM382 99l-1 1 0 4 1 1 2 0 1-1 1-2-2-2zM400 142l0 2 2 2 4 2 1 0 2-2-1-2-2-1-1-1-1 0-2-1zM416 67l-1 1 1 1zM38 379l-1 1-1 2 1 2 3 3 2 1 2-1 1-1 0-2-2-2-1-2-1 0-1-1zM0 158l-1 2 1 2 2 2 3 0 0-2-3-3zM44 202l0 2 2 1 2 0 1-1-2-2zM48 170l-2 0 0 2 3 6 1 1 2-1 2-4 0-1 1-1-1 0-4-2zM62 152l0 2-1 2 0 4 1 1 2 1 2 0 2-2 1-2-2-4-3-3zM86 379l-1 1-1 2 2 2 4 2 2-1 0-3-2-2-1 0-1-1zM90 364l-1 0-2 4 2 4 3 3 2 0 0-1 2-4 0-1 4 0 2 1 6 0 2 2 2 1 3 3 1 0 2 1 1-1 0-4-2-4-5-5-2 2-4 0-4-2-2 0-2 2-2 1-4-2zM110 332l-2 0-2 2 4 2 1-2zM130 343l-1 1 0 2 1 2 2 1 2-1 0-2-1-2-1-1zM136 225l-1 1 0 2 1 2 2 1 2-1 0-2-2-2-1 0zM416 104l-4 4 2 1 2 0 1-1 1-2zM38 400l-2 0-2 2 1 2 1 0 4 2 2 0 2-2 0-2-2-2zM68 225l0 3-1 2 1 1 2 0 2 1 1 0 1 1 4 2 2 0 2-1 1-2 0-2-3-3-2-1-2 0-4-2-2 0zM108 383l-3 3-1 2 0 2 2 4 2 2 2 1 2 2 0 1 2 4 2 2 2 0 6-6 1-2-4-4-1-2-2-2-1-2-1-1 0-1-2-2-2-1zM108 353l-2 1 2 4 2 2 2 0 0-2 1-2-1-2-2-1zM70 244l-2 1-1 1 0 2 2 2 1 0 2 1 2 0 0-3-2-4zM327 40l3 0 1 2-3 6 0 4-2 2-1 2-1 1-2 0-1-1-1 0-1-2-2-2 0-2 1-1 0-1 6-3 0-1 1-2zM344 44l0-1 2 1 0 1zM312 54l1 2-1 1zM343 64l1-1 2 0 0 1 2 1 3 3 2 4 0 2-1 1-4 0-2-1-4 0-2 1-4 0 0-1-2-2-1-2 1-2 2-1 2 0 2 1 2-2zM40 138l3 0-1 2 0 1-2-1zM8 144l2-1 2 0 2 1 2 2 0 2-2 1-2 0-2-1-2-2zM24 212l2-2 2 1 2 0 3 3-1 2-2 1-4-2-1-1zM-6 214l0-2 1 2 2 2 0 2-3 0zM3 214l1-1 2 1 4 0 1 2 3 3 4 2 0 1 1 2-1 2 0 2 1 2 0 2 1 2 0 2-2 2 0 4 1 2 0 2-1 1-1-1-1-2-1 0-2-4-2-2-1 0-2-1-1-1-1 0-4-4 0-2 2-1 1-1 0-4-1-1 0-1-2-4 0-2zM-6 232l0-2 2 0 1 2 0 2-1 2 1 2 0 2-1 2-2 0zM141 262l1-1 2-1 2 4 0 2-2 1-2-1-2-2zM43 264l1-1 4 0 2 1 2-1 3 3 1 2 0 2-1 2-5 0-2-1-3-3zM-4 268l2-1 2 0 3 3-1 2-4-2zM136 272l1 2-1 1-1-1zM-6 278l2 2 1 2-1 2-2 0zM112 282l2-2 2 2 0 1-1 1-1 0zM3 288l1 0 2-1 2 1 6 0 1 2 1 1 2 1 2 0 2-4 2-1 2 0 1 1 1 0 2 1 1 1 1 0 2 2 0 1 1 1 1 2-2 0-4 2-2 0-2 1-1 1-1 2 0 2 2 4 5 0 1-1 2 0 2 1 1 0 2 4 0 2-2 2-1 2 0 2-1 2-2 2 0 4-1 2 0 6-1 2-2 2-1 2-2 2-2 1-6 0-1-1-1 0-2-2 0-4-2-2-1 0-1 1 0 5 1 2 0 4-7 0-2-2-1-2-1-1-2-1-2 0-2-1 0-42 2 0 2 1 2 2 0 4 2 2 0 1 1 1 0 6 1 0 2 2 4 2 2 2 2 4 2 0 2-1 0-1 2-2 1-2 0-4-1-2 0-1-2-2-2 1-4 0-2-2-1-2 1-2 2 0 2-1 0-3-1-2-1 0-2-1-4 0-2-2 0-1-2-4 0-2zM51 334l1-1 2 0 2 1 2 2-1 2-1 0-2-1zM205 344l1-2 1 2 1 1 0 1 1 2 2 2-1 1-2-1zM55 358l1-1 4 2 3 3 0 2-1 0-6-3-1-1zM236 372l1 2 0 2-1 2-2 0-2-2 1-2 1-1zM248 384l2-1 7 7-1 2-2 0-4-2-2 0-2-2 0-3zM186 388l2-1 1 1 0 2-1 0z" fill="#ff7d00"/><path d="M-6 -6l5 0-2 2 2 4-1 2-2 2-2 0zM29 -6l4 0 3 3 2 1 0 1 2 1 0 1 1 1 0 2 1 1 2-1-2-4 0-2 2-2 2 4 0 2 1 2 0 4-1 2 0 2-1 2-1 1-2 1-2 0-1-2-2-2-1-2-4-4-2-1-3-3 0-4 1-1 0-1zM72 -6l9 0 2 4 0 2 1 2-1 2-2 2-1 2 1 2 0 2 2 2-1 1-6 0-6 3-1-2-4-4 0-4 1-2 0-7 1-1 1 0 2-1 1-1zM166 -4l2-1 4 0 2-1 2 1 2 0 2 1 2 0 2-1 2 0 2 1 1 2 1 1 0 1 1 2 3 3 2 1 2 0 4-2 0-2 2-4 1 0 1-1 2 0 2 1 3 0 1 2-2 0-2 4 0 5-4 0-1 1-1 2 2 4 2 1 1-1 1-2 0-3 2 0 0 1 2 1 0 1 2 2 1 2 0 2-1 1-2 1 0 1-2 1-2-1-2 0-2 1 0 2 10 10 2 1 3 3 1 2 4 4 2 1 2 2 2 0 2-1 2 0 2 1 2 0 1-1 1 0 2-2 4-2 2 1 4 4 2 1 2 0 2 1 3 3 1 2-1 2-1 1-2 1-2 0 0 2 2 2 2 0 2-2 2-4 0-2 2-2 1-2 1-1 0-3-1-2-3-3 0-1-1-2 0-6-1-2-2 1-2 2-2 0-2-1-2 0-2-1-1-1-1-2 0-2-1-2-3-3 0-1-1-2-1-1 0-1-2-4 0-4 1-2 1-1 6 0 2 1 2 0 2-2 0-2 1-2 1-1 2 1 6 6-1 2-1 1 0 4 1 1-3 3-2 1-2 2 2 4 0 1 2 2 2 1 1-2 1 0 2-1 4 0 4-4 4-2 3 3 1 2 0 1 2 2 2 0 1-1 1-2-2-1-3-3 0-2 1-2 0-1 2-2 2-1 2 2 2 4 2 2 2 0 2 1 2 0 1 1 1 0 4 4 1 2 1 1 0 2-2 0-1-1-1-2-2 2 1 2-1 1 0 1-2 2-8 4-1 0-1 1-6 0-2 1 0 9-1 1-1 2 0 2-4 2-2 2 0 2 1 2-1 2-2 1-2 2 0 1 1 2 3 3 2 1 2 2 1 0 3 3 4 2 3 3 0 2 1 2-1 2-1 1 0 1-1 2 0 4 3 6 0 1 1 1 1 2 2 1 6-3 2 0 4 2 1 0 1 1 2-1 2-2 2 0 4 2 0 4 1 2 1 1 4 0 2-1 0-2 1-2 1-1 4 0 1 1 3 0 0-2 2-2 8 4 2 0 2-2 0-2-1-2 0-4 3 0 2 1 2 2 0 3-2 2-1 0-1 1-2 1 3 6 1 1 0 1 1 2 0 2-1 2 0 2 2 4 2 2 1 0 1 1 2 0 0-2-1-1 0-2 2-2 1-2 0-2-1-2 0-2 1-1 10 5 1 0 3 3 2-1 0-4 2-1 2 0 4 2 3 3 0 4 1 2 0 2-3 6 3 3 6 3 2 2 0 9-3 3 5 10 0 2-2 0-2-1-2 0-1 1 0 4 4 4 3 6 0 2 4 4 1 2-1 2 0 2 2 2 4 2 1 0 2 2 0 4-1 1-2 0-4-2-2-2-2-1-2 1-1 1 0 8 1 2 4 4 1 2 0 2 1 1 0 1 4 2 1 0 1 1 2 1 2 2 0 33-1-1-2-4 0-2-1-2-2-1-2 1-2 0-2-1-3-3-1-2 0-4-1-2 0-2-1-1 0-1-2-4-4 0-1 2 0 8 1 1 2 1 1 0 1 1 2 1 0 1 1 1-1 1 0 1-2 2 0 2 2 2 1 2 1 1 0 1 1 2-1 1-2 1-2-1-2 1-1 0-1 2 0 2 2 2 4 0 2 1 1 1 0 4 1 2 0 2-2 2-4 2-4 0-4 2 0 4 2 1 1 1 1 2-1 2 0 2 1 2 4 0 4 2 2-2 0-2 2-4 2-1 1-1 1 0 2-1 1-1 1-2 1 0 0-4-1-2 0-1-1-1 0-2-1-2 0-4 2-1 2 0 2-1 0 30-2-1-1 1 0 2 2 4-1 2-6 0-1 2 0 2-1 2-2 1-2-1-4-4 0-1-2-1-2 1 0 1-1 2 0 2 1 2 0 1 1 1-1 2-4 2-2 0-1 2-2 2-1 0-4 2 0 1-3 3 0 2 4 4 1 0 2 2 2 1 2 2 0 3-2 2-1 2 0 4-1 2-2 0-2 2 0 3-2 2-2 0-1-1-1-2 1-2 0-4-1-1-2-1-1 2-3 3-2 1 0 6-2 2 0 1-2 0 0-1-2-2 0-1-1-1 0-2-5-5-4 0-1 1 0 4 1 2 1 0 2 2-1 1-2-1-1 0-3-3-4-2-2 0-3 3 0 2-3 3-2 0-2 1-2 4-2 1-2-2 0-1-2-1-2 0-2-1-2 0-2-1-2 0-2 2 0 5 1 2-1 1-2 1-4-2-1 0-5-5-2-1-2-2-2-1-1-1-1-2-1 0-1-1-2 0-4 2-2 0-6-3-1-2 2-2 0-2-1-2-2-2-5 0-1 1-2 1 0 1 0-1-2-1-5-5-1 0-4-2-4 0-2-2-1 0-1-1-2-1-1 0-1-2 2 0 2-1 1-1 0-4-3-3-2-1-2-2-1-2 2-4 0-4-2-4 0-2-3-3-4-2-4 0-1 1-3 6 0 1-1 1-8 0 0 6-1 2-4 2-4 0-4 2-3 0-1-1 0-1-4-8-1 0 1-2 2-1 4 2 2 2 2 1 2-1 0-1 1-2-1-2-2-1-3-3-1-2-4-4-1 0-1-1-2 0-2-1-2 2 0 2 1 2-1 2-2-1-5-5-1-2 0-1-2-1-2 0-2-1-1-1-1-2-4 0-2 1-4-2-1-1-1 0-2-2-1 0-1-1-2-1-2-2 0-1-1-1 2-4 1-1 2 0 2-1 0-3-2-2-4 0-2-1 1-2 2 0 1 1 8 0 2-1-1-2 0-4 1-2 0-4-2-4-2-1-2 0-2 2-2 0-3-3 0-2 1-2 2-2 2-4 2-2 1-2 0-18 1-1 2 0 1-1 0-4-1-2-2-2 0-1-1-1 1-1 2-1 2-2-1-2-1-1-6 0 0-1-1-2-1-1 0-1-3-6-3-3-4-2-6 0-8-4-3-3-2-4-2-2-6 0-3 3-4 0-6-3-1-2 0-2 1-2 2 1 4 4 2 0 0-3-1-2 0-2-1-2 0-2-2-4 0-6-3-6-2-2-2-4 1-2 2-2 1-2-1-1 0-1-2-1-5-5-1-2 0-2-1-2 0-4-1-2 2-2 0-1 4-2 1-1 1 0 2-1 1-1 0-2-3-3-2-1-2-2-2-1-2 1-1 2 0 2-1 0-2 1-1 1-1 0-2 4-2 2-2 1-4 0-6-3-2-2-4-2-2 0-2-1-2 1-1 0 0 2 2 2 2 4 0 4 1 2 2 2 0 1 4 0 2 2 0 1 1 2 0 4-1 2-2 2-1 2 0 2 1 2 2 2 2 0 2-1 2-2 4-2 4 0 1 1 1 0 4 2 2 2 1 2 0 2 8 8 0 2 2 4 0 2-1 1 0-1-2-2-2-1-2 0-2-1-4 0 0 6 1 2 1 1 0 1 1 2 0 2-1 1-2 0 0 1-1 2 2 4 0 2-2 4-4 4 1 2 2 1 4 0 4 4 4 2 2 0 3 3-1 2-2 1-2-1-1 0-1-1-2-1-2 0-2 1-2-1-4 0-2-1-2-2-6-3-2-2-1-2-1-1-2-1-1 0-1-2 2-1 2 0 1-1 0-2 1-1 2-1 2 0 1-2-1-2-2-1-6 0-1-1-1 0-2-2-1 0-1-2 0-2 1-2 1 0 2-1 2 0 2-1 0-2-4-4-1-2 0-2 1-2 0-2-1-2-1-1 0-1-1-2-1-1 0-1-4-4-1 0-2-2-2-4-1-1 0-1-2-2-2-4-2-2-2-1-1-1-1-2 1-2 1-1 6-3 2-4 0-1 1-1-1-2-5 0 1-2 0-2-1-2-4-4-1-2 0-4 2-1 2 0 4-2 2-2 6 0 2-1 0-1 2-1 4 0 2 1 2-1 0-4 2-2 2-1 1 1 2 0 1-2-1-2 0-2 1-2 7 0 1-2-1-2-2-2-1 0-2-1-2 1-1 2 0 2-2 2-1 0-2 2-4 0-2 1-4 0-3-3-1-2 0-2-1-2 0-2-2-2 0-2 1-1 4 0 0-3-1-2 0-4 1 0 2-1 2 0 6 3 14 0 4 4 2 1 4 0 1 1 1 0 2 1 2 0 0-1 2-4 0-1 1-1 1-2 2-2 0-2 2-4-1-2-1 0-4-2-1-2-1-1 0-4 2 0 2 2 2 1 2-1 1-1 0-4-1-2-2-2 0-1-1-1 2-2 3 0 2 1 1 1 2 4 0 2 1 2 2 2 0 1 2 0 2-2 2 0 2-1 1 0 1-1 2-1 1-2 0-4-1 0-2-2-2-1-3-3-1-2 0-2 2-2 2 0 2 1 4 4 2 1 0 4 2 2 4 2 3 0 1-2 0-2 2-1 1-1 1 0 2-1 1-1 1-2 0-1 3-3 0-2-4-4 1-1 0-1 2-2 1-2 1-1 2-1zM170 134l-1 2 0 2 1 1 2-1 0-3-1-1zM174 235l-2 2 0 1-2 2-1 2 0 2 2 2 1 2 1 0 1 2 2 0 5-10 0-2-1-2-2-1zM176 12l-1 0 0 2 3 3 4 2 4 0 2-1 2 2 0 2 2 2 4-2 0-2-2-2-4-2-2-2 0-1-2-2-2-1-4 0zM214 120l-1 0-1 2 2 2 2 1 2 0 2-1 1 0 0-2-1-1-2 0-2-1zM240 67l-5 5 0 2-1 2 0 2 2 2 4 0 2-1 3-3 1-2 0-1 1-1 0-2-1-2-4-2zM270 110l-1 0-1 2-1 0 1 1 0 1 2 1 1 1 3 0 1-2-1-2-2-2zM276 43l0 2 2-1zM362 352l-1 0 1 1zM384 134l-1 0 3 3 1-1-1-2zM402 235l-1 1 1 1 2 0 1-1-1-1zM96 85l0 3 2 1 1-1 0-2-1-1zM100 72l-2 2 0 2 1 2 0 2 1 2 0 2 4 0 2-2 1-2 0-4-1-1 0-1-2-2-2-1zM120 147l0 3 2 1 2-1 0-2-2-2zM128 138l0 2 1 2 1 0 2 1 2-1 1-2-1-2-2-1-2 0zM150 172l0 4 2 4 2 2 2 1 2 0 3 3 1 2 2 1 2-1 0-4-1-2 0-4-1-2-2-2 0-1-4-2-6 0zM172 283l0 1-1 2 3 6 2 1 2 0 1-1 0-4-1-2-2-2-2-1zM176 252l-1 2 0 2-1 2 0 4 4 2 2 0 2-1 2 0 2-1-1-2-2-2-1 0-2-1-3-3zM188 253l0 2 2-1zM132 154l-2 0-2 2-1 2-2 2 0 2-1 2 0 2-1 2 1 2 0 1 1 1 3 0 2-1 1-1 0-2 1-1 2-1 2 0 4 2 2 0 1-2 0-2-3-3 0-1-2-2 0-1-1-1-1-2-2-1zM134 178l-2 2 2 1 1-1zM267 -6l9 0 0 2-2 2 0 1-2-1-4-4zM307 -4l2-2 19 0-1 2 0 4 1 2 2 1 1 1 1 2 0 1 1 1 1 2 2 1 3 3 0 4 4 4 0 2-4 0-1-1-2-1-1-2-1 0-2-1-2-2-6-3 0-7-4-4-4-2-2-2-2 0-2-1-2 0zM356 -6l24 0 0 5-4 2-2 2-2 0-8-4-2 0-3 3-2 0 0-2-2-4zM393 -6l4 0 3 3 0 1 2 2 0 2-2 1-2-1-1-2-2-2zM407 -6l10 0 1 2-1 2-1 1-2 0-2-1-4-4zM382 2l2-1 2 0 6 3 1 0 1 1 2 1 1 0 3 3 2 1 2-2 2 0 2 1 6 6 2 1 2 0 2 1 0 14-1-1-1-2-1 0-1-1-2 0-1 1-1 2-2 2-2 0-2 1-1 1-1 2 1 2 1 0 4 4 1 0-4 4 0 2 1 2 0 1 1 1 0 4-5 0-4-2-1 2 0 2 1 2-1 2-1 1-2 0-2-2-4-2-2-2-4 0-1 1 0 4 1 2 0 3-3-3-1-2 1-2 0-2-1-1 0-1-4-2-2 0-2-1-2 1-3 0-2-2-1-2 0-2-2-4 0-1-1-1-1-2-2-1 0-1-2-2 0-2 2-2 6 6 4 2 2 0 2-4 2-1 1-1 0-6 2-4 1-1 2 0 2-1 1-2-1-2 0-2 1-2 0-6-1-2zM402 20l-2 0-2 2 2 2 2 0 2-2zM54 14l2-1 2 0 3 3 1 2 0 4-2 1-2 0-1-1-1 0-2-2-2-4zM303 18l2 0 1 1 6 0 2 1 0 2-4 4-4-4-2-1 0-1zM355 18l3 0 2 2 0 1-2-1-1 0zM37 24l1-1 2 0 1 1 0 4-1 2 0 2-2-2-1-2zM16 38l2 0 2 1 2 2 0 1 2 2 2 1 4 0 5 5 2 4 2 2 0 2-3 6 0 1-2 2-2 0-4-2-2 0-2-1-4-4-1-2 0-2 1-2 2-1 0-3-1-2-6-6 0-2zM34 40l2-1 2 1 1 0 1 1 2 1 2 2 0 2 1 2-1 2-2 1-2 0-3-3-1-2-2-2-1-2zM90 42l2 0 2 1 4 0 2 1 1 0 0 6-1 1-2 1-2 0-2 1-2 0-1-1-1 0-2-2-1-2 0-2 1-2zM6 58l2 0 2 2 1 2-1 2-2 1-4 0-2-1 0-2 1-2 1-1zM385 68l1-1 2 1 2 2 1 2-1 2-2 0-2-2-1-2zM307 70l7 0 2 1 1 1 3 6-4 4-1 2-3 0-2-1-2 0-1-1-1 0-2-2-1-2 0-2 1-2 0-1zM36 76l2 2 2 4 0 4 2 2-1 2-1 1-2 1-2 0-2-1-2-2-2-1 0-4 4-4 0-1 1-1zM397 80l3 0 2-1 2 1 1 0 2 2 1 2 2 2 1 2 0 2-3 3-2 1-4 0-1 2 3 6 0 2 1 2 0 4 1 1 4 2 2 0 2 1 6 0 0 33-3-3-1 0-2-1-1-1-1 0-4-4-2-1-6 0-2-1-1 0-1-2 1-2-1-2 0-1-1-1 0-4-1-2 0-1-2-2-2-1-2 0-2 2-1-2 1-2 2-2 1-2 3-3 4-2 0-2-1-1-3-6 0-1-2-1-2 1-2-1-3-6-3-3 0-3 2 0 2 2 1 2 3 3 2 1 1-2 0-2 1-2 0-4 2-2zM418 82l2-2 0 8-2 0-2-2zM298 86l2 0 1 2 0 2 2 4 0 2-1 1-2-1-2-2-1 0-1-2-1 0 1-2-1-2 1 0zM321 86l1-1 3 3 1 2-2 1-2 0-1-1-1-2 0-1zM314 94l2 0 4 4 1 0 1 1 0 5-2 0-2-1-1-1-1 0-2-2-2-4zM372 96l2-1 1 1 1 2 0 1-2 2-3-3zM18 98l2-1 6 0 2 2 2 0 2-1 2 0 2 1 1 1 0 4-1 1 0 3 2 4-2 1-2-1-1-2-3-3-2-1-2-2-4 0-2 1-2 0-1-1 0-2-1-2zM363 100l1-1 2 0 2 1 1 2 0 2-1 1-2 1-2-1-1-1zM24 116l2-1 2 2 2 1-4 0zM85 128l2 0zM91 132l1-1 2 0 3 3-1 2-2 1-3-3zM-6 150l0-1 1 1 2 4-1 1-2 1zM414 152l2 0 4 4 0 13 0-5-2-4-2-1-2 0-2-1 0-4zM52 160l4 2 1 2-1 1-2 0-2-1 0-1-1-1zM36 162l2 0 2 2 0 2-2 0-2-1-1-1zM409 162l1-1 2 1-2 4-2-2zM-4 166l2-1 2 1 0 1 1 1-1 0-2 1-2-2zM56 178l4 0 2 1 2 0 1 1 1 2-1 2-3 3-2 1-2-1-2 1 0 2 3 6 2 2 3 6 0 1-2 0-1-1-1 0-6-6-2 1-4 0-4-2-2 0-2 1-2 2-4-2-2-2-2-1-1-1-1-2 2-2 2 0 2-1 2 1 1 0 1 1 2 0 2-1 4-4 2-1 6 0 1-1 0-4zM115 194l3 0 2 1 1 1 0 6-1 2 0 4-1 2-1 1-2-1 0-2 1-2 0-2-1 0-1-2-2-2-1-2 1-2zM61 208l1 0 2-1 2 1 4 4 4 2 2-1 2 0 1-1 1-2 2-1 2 1 1 2-1 2 0 2 2 2 2 1 2 0 4 2 1 1 1 2 0 4-4 0-2-2-2-4-2-2-2 1-2 2-2 1-4-2-1 0-3-3-2 0-2-1-4-4-2 1-1 1-1 2 0 1-2 1-2-1-1-1-1-2 0-4 2-2 4-2zM137 208l1-1 1 1 1 0 2 2 6 3 1 1 1 2 0 4-1 2 0 2-1 2-2 1-4-2-2-2-4-2-2 0-2 1-2 2 0 2-2 1-3-3 0-6 1-2 2-2 2-1 2 0 2 1 1 0 1-2 0-2zM116 220l2-1 1 1 1 2-2 1-2-1zM11 230l1-2 2 0 1 2 0 2-3 0zM76 242l0-1 1 1 1 0 2 2 1 2 2 2-1 2-2 0-2-2-1-2 0-2-1-1zM66 258l2-2 4 2 1 0 1 1 4 2 4 0 2-1 1 0 1 1 0 1 2 4 0 1 3 3 2 4 0 4-1 2 0 2 2 4 0 2-2 1-1-1-1 0-2-2-3 0-2 2 0 2-1 2-2 0-6-3-2 0 0 1-2 2-4 0-2-2-1 0-1-1-2 0-2 1-4 0-2-1-3-3-1-2-2-2 2-1 6 0 2 1 2 0 4 2 0 1 1 1 1 2 2-2 0-2-2-4 0-2 2-1 2 0 2 2 2 1 2 0 2-2 0-2-1-2 0-2-1-1-4 0-5-5-1-2 0-4zM80 267l-2 1 2 1zM12 262l4 2 0 2-2 1-2-1-2-2zM133 286l1-1 2 1 2 0 2 1 1 1 1 0 2 2 1 0 1 2 1 0 1 1 2 1 2 2 1 2 1 1 0 1 2 4-1 2 0 2 1 2 2 1 6 0 2 1 2-1 0 2-1 1 0 4-3 3-2 0-1-1-1 0-4-2-2 0-2-2-2-1-1-1-1 0-2-1-2 0-2 1-2 0-2 1-2-1 0-1 4 0 1-1 1 0 2-2 0-6 1-2 0-6-1-1-2 0-2-1-2 0-4-4-1-2zM58 298l10 0 2 2 1 2-1 2-2 1-1 1-1 0-2 2-1 2 1 1 0 1 1 2-1 1-2 0-4 2-1-1-1 0-1-2-4-4-1 0-2-2-2-4 1-2 0-2 1-1 4 0 4 2 1-1zM131 298l1-1 4 0 3 3 0 4-1 1-2 0-2-1-1-2-2-2zM118 302l2-1 1 1 1 2-2 1-2-1zM187 320l1-1 2 0 1 1 1 2 0 2-4-2zM-1 322l1-1 2 0 1 1 2 4 0 6 1 2 0 2-1 2-1 1-2 0-1-1-1 0-2-2-2 1-2 0 0-15 2 1 2 0zM25 324l1 0 2 2 0 4-2 0-2-1-2-2 0-1 2-2zM102 324l2-1 1 1 0 2-1 2-3 0 0-2zM116 334l2-1 2 0 2 1 4 0 2-1 2 1 2 2 0 1-4 0-2 1 0 12 1 2 0 12 1 2 2-1 0-3 1-2 1-1 2-1 4 2 2 4-2 2-2 0-2 1-1 1 1 2 0 4 1 2 2 2 1 2 0 4 1 2 0 2 3 6-1 2-1 0-2 1-4 0-2-2-2-1-1 0-2-2 0-2-3-6 0-4 2-2 0-1 2 0 1-1-2-2-1-2 0-2-2-1-2-2-2-1-1-2-1-1 0-1-1-2 1-2 0-1 1-1 1-2 0-2-1-2-3-3-4 2-2 0-2-1-2-2-1 0-1-1-4 0-4-2-2-2-4-2-1-1-1-2 0-1 2-1 2 0 4 2 1 0 1 1 2 1 2-1 2 0 1 1 1 0 8 4 2-2zM76 350l2-2 4 2 1 2-5 0zM84 354l2-1 2 1 2 0 2 2 2 4-2 0-2-1-2 0-3-3zM145 368l1-1 2 0 1 1-1 2-2 1 0-1zM390 374l2-1 2 1 4 0 2-1 2 0 2 1 1 2 0 6-1 2-2 2-2 1-2-1-1 0-4-4-1-2 0-2zM8 376l6 0 2 1 0 1 2 4 0 2-1 2 0 2-3 6 0 4 1 2-1 1-2 1-7 0 0-4-2-4-2-2-1-2-6 0 0-11 8 0 2-2 2 0zM58 376l2-1 2 1 0 2-2 1-1-1zM144 376l0-1 2-1 1 2 1 1 0 1 4 4 1 2 0 2 1 2 0 10 2 4-2 2-2-1-3-3-1-2 0-1-3-3 0-2-1-1 0-1-1-2 0-10zM45 378l1-2 2 0 2 2 0 2-2 1-2-1zM55 386l1-1 2 0 1 1 1 2 0 2-2 2-2-2 0-2zM306 388l4 2 1 0 2 2 0 6-1 2 0 2 6 6 0 2 2 1 2 2 4 0 2-1 0-4-1-2 0-2-1-1 0-1-2-1-3-3-2-4 3-3 1 1 1 0 2 2 2 1 1 1 0 4 1 2 4 2 4 0 2-2 0-1 1-1 1-2 1 2 3 3 2 1 2 0 4-2 2 0 4 2 1 0 4 4 0 2 1 2-1 2-50 0 2-2 0-2-1-1-2-1-2 0-2-1-1-1-1-2 1-2 0-2-1-1 0-1-1-2-1-1 0-1-1-2 0-2zM372 388l2-1 2 0 0 4-2 2-1-1-1-2zM417 388l1 0 2-1 0 12-2 1-1 0-1 2-1 0 0 4 1 2 2 2 0 1 1 1-2 2-3 0-2-2-1-2-2-2 0-2 1-2 2-2 0-8 2-2 0-1 1-1 1-2zM206 400l2 0 2 2 2 4 2 1 2 0 2-1 4 0 2 1 1 1 1 2-2 4-24 0 1-2 1-1 0-1 2-2 0-2-1-2 0-2 1-1zM24 402l2-1 0 1 1 2 0 2-1 1-2-2zM69 406l1-1 4 4 0 1 1 2-1 0-2 1-2 0-1-1-1-2 1-2zM108 406l2 1 5 5 1 2 1 0-6 0-1-1-2-1-1-2 0-2zM287 406l1-1 1 1 1 2 0 2-2 4-5 0-2-2-1-2 0-1 2-1 2 1 2-1zM298 406l2-1 2 1 1 2 0 2 1 2 0 2-5 0-2-2 0-2 1-2zM125 408l1-1 2-1 2 2 2 4-2 2-2-1-3-3zM35 410l1 0 2-1 2 1 4 0 2-1 4 0 2 1 2 0 2 1 1 1 1 2-25 0 1-1 0-1zM256 410l2 0 2 2 1 2-9 0 1-2 1-1zM90 412l2-1 2 0 2 1 0 2-5 0zM151 412l4 0 2 2-9 0 2-2zM265 414l1-1 2 0 2 1 1 0z" fill="#ffaf00"/><path d="M174 0l3 0 4 4 0 2-1 0-2 1-2 0-2-2zM389 8l1-1 2 0 1 1 1 0 2 2 2 4-2 1-2-1-2-2-1-2zM195 12l1-1 2 1 0 2-2 0zM248 12l2-1 2 0 2 1 1 2-1 2-2 0-2-1-2-2zM172 18l3 0 1 1 2 1 4 4 1 0 1 1 2 1 0 1 1 1 1 2 2 2 2 0 2 1 2-1 2-2 0-2 2-1 1 1 1 0 1 2 1 1 2 1 2 2 0 1 1 1 1 2 0 2 1 2 1 1 0-1 2-2 2 0 2 1 1 1 1 2 0 10-2 1-4 0-1-1-1-2-4-2-6 0-2-1-2 1-2 0-1-2-1-1-2-1-2 4 2 2 2 0 2-2 2 1 2 2 6 3 2 0 2 1 6 6 0 1 3 6 2 2 1 2 2 2 2 1 2 0 0 1 2 2 0 2-2 2 0 2 2 2 1 2 0 4-2 2-1 2 1 2 1 1 4 2 2 0 2 1 2-2 1-2 2-2 1-2-1-2 0-2 1-1 4 4 2 1 2-1 0-5-2-4 0-1-1-1 0-2 1-1 2 0 2-1 2 1 4 0 1 1 0 4 2 4 0 2-3 6-2 0-4 2-2 2-3 0-1 1 0 4 1 1 1 2 2 2 4 0 2 1 4 4 4 2 2 2 2 1 2 0 2 1 1 1 1 2 0 2 1 2 0 2 3 3 10 5 0-2 2-4 0-2 2-2 2 0 2-1 1-1 0-2-3-6 1-2 1 0 2-2 1 0 1-1 2 0 1 1 1 2 2 2 4 2 2 2 2 1 1 1 1 0 2 1 2-1 2 0 4-2 4 0 2 1 1 1 2 4 4 4 1 0 4 4 0 1 1 1 1 2 2 0 2-4 0-1 2-1 2 1 6 6 4 0 4-4 2-1 4 2 6 0 2 1 5 5 1 2 1 0 1 1 2 1 2 0 2 2 1 2 0 2-2 2-1 0-2 1-2 0-2 1-1 2 0 2-1 2-2-1-2 0-5 5 0 2 1 2 4 2 2 0 2 1 2 0 4 2 3 3 2 4-1 2-2 1-2 0-2 1-1 2 1 2 2 2 2 1 1 1 0 6 1 2 0 4-1 2 0 2-2 2-1 0-4 4-2 4 3 6 1 1 0 1 1 2-1 2 0 6-2 4 0 2-1 2-1 1-2 1-1 0-1 2 1 2 1 0 2 2 1 2 2 2 0 8-1 2 0 2-3 6 0 2 1 2 0 2 1 2 0 2-2 4 0 2 4 4 0 4-1 2 0 2-1 2-1 1-2 0-2 1 0 10 2 4 0 3-2 1-6 0-2 4-2 2-6 3-2 2-2 1-4 4-2 1-2 0-1 1-2 4 0 2-1 2-2 2-1 2-1 1-8 0-2-1-2 0-2 1-1 1-1 2 2 2 0 2-2 0-2 1-2 0-4-2-4 2-2-1-4 0-4 4 0 6-2 0-4-4-2-1-2-2-2-1-1-2-2-2-1-2 0-4-2 0-2 1-2-1-4 0-2-1-1-1-1 0-2-2-2-1-8 0-2-1-2 0-2-1-2-2-2-1-2-2 0-3 4-2 1-1-2-2-3-6 0-4-2-2 0-1-2-2 0-1-4-8-2-2-1 0-1-1-2-1-4-4-2 0-2 1-2 0-2 1-1 0-4 4-1 2-1 0-1 1-2 0-2-1-2-2-4 0-4 2-2-1-6-6-2-1-2-2-1 0-1-1-2 0-4-2-3-3-2-4 0-6-2-4-1-1 0-1-2-2 0-2 6-6 2-1 4 0 2-1 5 0 1-2 0-4 1-2-1-2 0-1-3-3-1-2 0-2-1-2 0-2-2-4-4-4-1-2 0-1-1-1 0-4 1-2 2-2 1-2-1-2-2 0-2 2-4 0-2-1-2-2-2-1 0-1-1-1-1-2 2-4 2-1 0-1 1-2 0-2-1-2-1 0-1-1-2 2-2 0 0-1-2-2-1-2-3-3-4-2-1-1-1 0-2-1-5-5 1-1 0-1 2-1 2 0 2 1 2 2 2 1 4 0 4-2 1-1 0-2 1-2 0-4 2-4 0-2-1-2-1-1 0-1-1-2 0-2 1-1 2-1 1-2-1-1 0-1-2-2-2-1-1 1 0 2 1 2 0 3-4 0-2-1-4 0-2-1-2-2-2-1-2 2-2 1-2-1-2-4 0-2 2-4-2-2 0-1-1-1-1-2 0-1-1-1 0-4-4-8-1-1-2-1-2 2-2 1-4-2-2-2-2 0-2 1-1 2 3 6-2 1-2 0-4 2-1 1-1 2-2-4 0-2-1-2 0-4-1-1-2-1-2 0-2-1-1-1-2-4 0-2 1-2 2 0 2-1 0-1 4-4 1 0 2-4 0-2-1-1 0-1-2-2-1 0-4-4 3 0 2 1 2 0 2-1 2-4 2-2 2 0 2-1 4-4 4 0 2-1-1-2-1-1-2 0-2-1-2 1-4 0-2-1-2-2 2-4 0-1 4-2 0-3-1-2-1-1-2-1-3 0-2 2-1 2-2 0-2-2-1-2 0-2 2-2 0-2 3-6 2-2 2-1 3-3 0-2 1-2 2-1 2 1 2-1 1-1 3-6 2-2 4 0 2-2 2-1 1-1 0-4 1-2 2 0 4 2 1 0 1 1 2 0 5-5 5 0 2-2 0-3 1-1 1 0 2-1 2 0zM174 128l-6 0-1 2-1 1 0 1-2 2-2 4 0 3-2-1-1-2-2-2-1 0-1 2 0 2 1 2 0 2-2 4 0 1-3 3-1 2-1 0 1 1 0 1 2 2 4 0 2 1 2 0 2 1 4-2 0-2-1-2 1-2 6 3 2-1 2 0 1-2 0-4-1-1 0-1-1-2 0-2 2-2 0-4 4-4 0-2-1-2-2-2-2 0zM184 109l0 1-1 2-1 1 0 3 1 2 1 1 2 1 1-2 0-4-1-2 0-1zM186 84l-1 2 1 2 2-1 0-3zM236 110l-4 2-4 0-2-1-4 2-4 0-2-1-2 0-4 2-2 2 0 4 2 4 0 2 2 4 0 8 2 2 2 0 2-1 1-1 0-2 1-2 2-1 2-2 0-1 2-2 2-4 0-5 2-1 8 0 2-1 2-2 0-3-1-2-1-1-2 0zM308 131l0 1-1 2-3 3 0 1-1 2 1 2 0 4 2 2 2 0 2-1 3-3 0-8-1-2 0-2-2-1zM370 169l-1 1 0 2 1 2 4 2 2-1 0-2-4-4zM188 287l-1 1 0 2 1 1 2 1 2 0-1-2zM170 195l-1 1 0 2 1 2 2 1 2 0 1-1 1 0 1-2 0-2-1-1-2-1-2 0zM128 56l-2 2 0 2 2 0 1-2zM138 123l0 1 1 0zM152 45l-3 3-1 0-2 1-2 0-2-1-1 2 0 2 1 2 0 2 2 1 2 0 2-1 1 0 3-6 2-2 1 0 1-1 2-1 2 0-2-1zM186 103l-1 1 1 2 1-2zM240 300l0 2 2 1 2-1 1-2-1-1-2 0zM160 104l-1 2 1 1 2 1 3 0 0-2-1 0zM387 24l1-2 0 2 1 2-1 2-1 0 0 6 2 2 2 4-3 3-2 1-2-1-2-2 0-1-1-2 0-4-1-1 0-1-1-2 0-2 1-1 4 0 2-1zM272 34l0-1 1 1-1 1zM293 34l1-1 2-1 2 0 2 2-2 2-4 0zM377 44l2 0 0 2 1 2-2 1-1-1zM246 50l2 0 1 2-1 1-1-1zM69 56l1-1 2 1 0 2-2 0zM72 66l2-1 2 0 1 1 1 2-1 2-1 1-2 0-2-1-1-2zM267 66l1-1 2 1-2 2 0 5-1 1-1 0-2-2-1-2zM225 70l1-2 2 0 2 2 0 2-2 1zM272 80l2-1 2 0 5 5 2 4-1 1-6-3-2-2zM110 84l2 0 1 2 0 4-1 1-2 1-2-1-1-1 0-2 1-2zM397 84l1 0 2-1 2 1 1 2-1 1-4 0-2-1zM87 86l1-1 2 0 1 1 1 2 0 2-2 1-2 0-1-1-1-2zM238 86l2-1 2 2 0 2-2-1zM81 94l1 0 2-1 1 1 1 0 2 2 0 1 1 1 0 2 1 2 0 3-3 3-2 4-1 1-2 1-2-1-2 0-1-1-1 0-2-2-2-1-2-2-2 0-6-3-2 0-2-1-2 0-2-1 0-2 2-1 2-2 0-1 2-1 2 0 2 1 2 0 4 2 2 0 4 4 2 0 1-2 0-4zM263 102l1-1 4 0 2 1 1 0 0 2-1 0-4 2-2-1 0-1zM397 120l1-1 2 0 2 1 1 0 0 2 1 2 2 2 4 2 4 0 2 1 3 3 1 2 0 7-4 0-1-1-1 0-2-2-1-2-3-3-2-1-2 0-2-1-3-3-1-2 0-2-1-2zM59 126l1-1 2 0 2 2 0 1 6 6 0 2-2 2-4 2-2-1-1-1-1-2-2-2 0-1-1-1 0-4zM347 126l1 0 2-1 2 0 0 1 1 2-1 2 0 1-4 0-2-1-1-2zM129 148l1-2 2 1 1 1-1 1-2 1zM82 150l2-1 0 5-2 4-2 2-2-1-1-1-1-2 1-2 3-3zM116 160l0-1 0 1 1 2 1 1 0 1 1 2-1 2-2-2-1-2 0-2zM79 176l1 0 2-1 2 1 1 2 0 2-1 1-2-1-2 0-4-2-1 0 1 0 2-2zM140 188l2-2 2 1 1 1zM410 234l0-1 4 0 2 1 4 4 0 7-2 1-2 0-1-2-2-2-3-6zM165 248l1-2 2 1 1 1 1 2 0 4-2 1-2-1 0-1-1-1zM165 292l1-1 2 0 2 2 0 1-2 2-2 0-2-2zM419 300l1-1 0 2zM373 344l1-1 2 1 1 0 2 2-1 2-2 0-2-2zM383 352l1-1 1 1-1 2 0 1-2-1zM7 382l3 0 0 3-1 1-1 0-2 1-2-2 0-1 2-2zM149 388l1 0 0 2zM417 392l1-1 2 0 0 4-2-1zM351 408l3 0 2 2 1 2-1 2-4 0-2-4zM209 410l1 0 2 1 2 2 2 1-12 0 4-4zM49 414l1-1 2 1z" fill="#ffe000"/><path d="M173 24l1-1 1 1-1 2 4 4 0 2-4 2-2-1-1-1-2-4-1-1 0-2 2-1 2 1zM165 36l5 0 4 4 2 1 2 2 2 0 3 3 0 8-1 2 0 1-2 2-2-1-1 2 0 4 1 2 4 2 2 0 2-1 2 0 1-1 1 0 2-1 2 1 2 0 1-2 3-3 2 0 2 1 1 0 3 3 4 2 5 5 1 2 0 3-1 1-1 2 0 3-2 2-2 0-2-1-1-2 0-4-1-2 0-1-1-1-1-2-2-2-4-2-2 0-1 2 0 2 1 2-2 2-2-1-2 0-2-1-2 1-1 1-1 2-4 4-1 2 0 2-1 2-6 0-2 2-1 0 0 2-1 2 2 1 1 1 1 0 4 4 0 2 1 2-1 2 0 2 1 2 0 2-1 1-2-1-1-2 0-2-3-3-4-2-3-3 4-4-1-1-2 0-1-1-1 0-6-3-6 0-2 1-2-1-2 0-1-1-1 0-2-1-2-2-4-2-2 0-2-1-1 0-2-2 0-2 1-2 0-1 2 0 6 3 2-1 2-2 0-1 2-2 0-1 1-1 0-6-1-2 4-4 2 0 2-1 2 0 2 1 4 0 2 1 1 1 0 2 1 2 0 1 1 1 1 2 2 0 1-2-1-2 0-1-1-1-1-2-2-2-1-2-2-2-1-2 1-2 1 0 2-1 4 2 2 0 6 3 0-4-2-4-2-1-2 0-4-2-1-1 0-2-1-2 1-2zM141 40l1 0 2-1 2 1 1 2 0 2-1 1-2 0-2-1-1-2zM134 60l2-1 2 1 1 2-2 2-1 2 1 2 0 4-1 1-2 0-2 1-2 0-2-2-1-2 0-2 1 0 4-4zM202 80l2 1 7 7 1 2 2 2 1 2 0 2-1 2 0 2 1 2 4 4-1 2-2 1-4-2-4 0-3 3-1 2 0 8 2 4 0 6 1 2 0 2-1 2-4 0-2-1-1-1-2-4 0-2-1-2-4-4 0-2 2-4 0-2 1-2 1-1 2 0 1-1 0-4 1-2-1-2-6-6-1-2 0-4 2-4 4-2 1-2 1-1zM126 96l2-1 2 0 2 1 6 0 2 1 2 2 0 1 2 4 0 5 1-1 0-2 2-2 3 0 2 2 2 4 0 4 1 2 1 1 2-1 4-4 6 0 2 2 2 4 0 2-1 2-1 1-10 0-2-1-2 0-1 2 2 4-1 2-2 1-3 3-1 2-2 2-2 0-2-1-1-1-2-4 0-2 1-1 0-1 2-2 0-1 1-1 1-2 1 0 1-2-1-2-1-1-2 0-2 1-2 0-2-1-4 0-2 1-1 0-3 3 0 1-2 2-2 1-2 0-2-1-2-2 0-1-1-1 1-2 4 0 2-1 0-3-2-4 0-2 1-2 0-2-1-2 0-2 1-2 1-1zM227 104l2 0 1 1 2 1-2 2-4-2zM243 122l1 0 1 2-1 1-1-1zM112 124l2-1 0 2-2 0zM255 126l1-1 2 0 2 2 0 1 2 2 8 0 2 2 2 4 0 1 2 2 2 1 0 3-1 1 1 1 0 1 2 2 4 2 2 0 2-1 2 0 2-1 2 0 2 1 2 2 0 1 2 1 8 0 2 1 1 0 1 1 2 1 2 2 3 0 1-1 0-3-2-4 0-1-1-1 0-6 1-1 2 0 2 1 2 0 2 1 2 0 2 1 5 0 2-2 1-2 2-2 2 1 2 2 0 1 2 2 4 2 6 0 4 2 2 0 4 2 1 0-3 0-4 4 0 2 1 2 2 2 2 4 0 4 1 2 0 4 1 2 2 2 1 0 4 2 2 2 0 1 2 2 2 1 1-2-1-2 2-2 3 0 1 1 2 1 0 6-1 2 0 4 1 2 2 2 1 2-1 2-4 2-2-1-1-1 2-2 1-2-2-2-2 0-2 1 0 1-1 2 0 4 1 1 0 1 2 1 1 1 1 0 4 2 1 2-1 2-4 4-2 4-1 0 0 2 1 2 4 4 1 2-1 2-4 2-1 2 1 2 0 1 1 1 0 2 1 2 0 2-2 2-1 0-2 2-1 2 2 4 1 0 1 1 4 2 1 1 1 2 0 6-2 4-4 2-2 0-2-1-2 1 0 4 2 2 4 0 2 4 0 2-4 2 1 2 1 1 0 1 2 2 1 2 2 2 0 4-1 1-2 1-4 0-2 1-1 1 0 6-3 6 0 2-3 6 0 2-1 2-2 0-2-1-4 0-2 1 1 2 1 1 0 3-2 2-2 0-2-1-4 0-1-1-1 0-2-1-1-1-1 0-4-4 0-1-2 1-2 4 0 2 1 2 1 1 4 0 2 1 2 2 0 1-1 1-5 0-2-2-2-1-2 0-1 1 0 2 1 2 0 2 2 2 2 0 2 1 1 1-1 2-2 0-2-1-2 0-2 2-6 3-6-3-1-1-3 0-2 2 1 2 0 2-1 1-2 0-2-2 0-1-2-2-4 2-2 0-6-3-3-3-1 0-4-2-4 0-2 1-2 0-3-3-1-2 0-1-1-1 0-2 1-2 0-2-2-2-2-4-6-6-4-2 0 3 1 1 1 2 1 0 0 2-1 2-2 2-2 0-2-2-1-2 0-4-2-2-3-6 0-2 1-2-1-2 2-2 0-2-2 0-2-1-1-1-1 0-1-2 0-6-1-2-4-4-2-1-2 0-1 1-1 0-2 1-2-1-5 0-2 2 0 4-1 2-4 2-4 0-2-1-2-2-2 0-4 4-2 1-2 0-4-2-1 0-4-4-1-2 2-1 1-1 1 0 2-2 1 0 0-2 1-2 0-2-2-2-2-1-4 0-2-2 0-1-1-2 0-2 2-2 5 0 4 2 3 0 0-2-1-2 0-2-2-4 0-8-2-4-2-2-1-2-1-1 0-1-1-2 0-2-1-2 0-2-4-4-1-2 0-2 1-1 2-1 6 3 2 0 1-1 1-2-1-2-1-1-2-1-2 0-2-1 0-1-3-6 0-4-1-2 0-2 1-2 1-1 2 0 2-1 0-2-3-6 1-1 2-1 2-2 0-2 1-2 0-2-1-2-2-1-12 0-2-1-2-4 0-4-1-2 0-4 1-1 4 0 1-1 0-2-1-2-2-2-2-4 4-2 2 1 1 1 1 0 4 4 3 0 0-2-2-2-1-2-2-2-6-3-3-3 0-2-1-2 0-4 1-2 0-2 1-2 2-1 4 0 2-2 2 1 6 6-2 4 0 2 4 2 2 0 2-1 4 0 2 1 2 0 2-4 4-2 2 2 2 4 2 2 2 1 2-1 0-1 1-1 0-6 1-1 2-1 4 0 2-2 0-2 1-2-1-2 0-2 2-1 6 3 2-1 1-1 0-2 2-2 1 0 2-1zM258 314l-2 0 2 1 2-1zM356 161l0 1-2 2-1 2-4 4 0 2 5 5 1-1 1-2 0-2 2-2 1-2 1-1 0-3-2-2zM206 182l-1 0 0 2 1 2 2 1 2-1 1-2-1-2zM340 168l-2 2-2 4-1 0-2 2 1 2 6 0 2-1 1-1 1 0 2-2 0-2-4-4zM327 130l5 0 2 1 0 1 2 2-2 1-2-2-2-1-2 0zM321 134l1-1 1 1-1 1zM297 138l1-1 2 2 0 5-2-1 0-1-1-2zM372 146l2-2 2 2 1 2 0 2 3 3 2 1-2 2-2 0-2-2-1-2-2-2-1-2zM382 154l2-1 2 1 0 1-2 0zM179 204l1-1 2 1 1 2-1 2-2-1 0-1z" fill="#f4ff15"/><path d="M167 58l1-1 2 1 1 2-1 1zM151 64l1-2 2 0 2 1 2 0 2 2 0 1 1 2-1 2 0 1-4 0-4-2-1-1-1-2zM173 68l1-2 4 4 2 4 0 2-1 2-3 3-2-1-1 0-2-4 0-2 1-2 0-2zM149 76l1-1 2-1 4 2 4 0 6 3 1 1 1 0 2 1 1 1 1 2-2 2-4 2-2 0-2 1-2-1-2 0-2-2 1-2 0-2-1-2-1 0-1-1-2 1-1 0-1 2 1 2 2 2-2 2-4 0-4-4 0-2 3-3 2-1zM206 92l2-1 3 3 0 2-1 2-2 1-1-1-1-2zM129 100l1 0 2-1 2 0 4 2 0 1 1 2 0 2-1 2-2 0-2-1-4 0 0 3-1 2-2 0-1-2 0-2 2-2 0-2-1-2zM163 116l1-1 2-1 2 2 0 2-2 1-2-1-1 0zM147 128l1-1 2-1 1 2-1 2-2 1-1-1zM253 132l1-1 2 0 4 2 5 5 0 2 1 2 0 1 5 5-1 1-2 0-2-1-1 0-1-2 0-2-2 2 2 2-1 2-1 1 0 1-1 2 1 1 0 1 2 4 2 2 2 1 2 0 3-3 1-2 1 0 1-2 1 0-1-1 0-1-1-2 1-2 4 2 2 2 0 2-2 2 2 4 1 0 1 1 6 0 2-1 2 0 6 3 2 2 2 0 1-1 0-4-1-1 0-3 2-1 2 0 2 1 1 0 1 1 2 1 2 2 0 1 1 1 1 2 0 1 0-1 1-2 2-2 1 0 1-2 0-6 1-1 6-3 2 0 1 2 0 2 1 2 0 2 3 6 0 2-1 2-2 2-4 0-2 2-2 4-1 0 2 4 3 3 4 2 2 0 4 4 2 1 4 0 1-2 0-2-2-4 0-2 1-1 2-1 2 1 1 1 1 2 6 6 2 1 8 0 2-2 2 0 2 1 1 2 0 2-3 6 1 2 0 2 1 2-2 2-2 0-2 2 1 2 0 4-1 2 4 8 2 2 0 1 1 1 0 6 4 8 0 2-1 2-2 2 0 2-2 4 1 2 1 1 0 1 6 6 2 1 0 1 1 2 0 2-1 1-2 0-2-1-1 0-2-2-1 0-4-2-2 1 0 1 3 6 0 10-1 2-2 0-2-1-2 0-2-1-2-4-6 0-1 2 0 2 1 2 4 2 1 2 0 4-1 2 0 2-2 4 0 2 1 2 1 1 0 2-2 1-2-1-1-1-1 0-2-2-2 0-4 2-2 4 0 6 2 0 1-2 1 0 2-1 2 1 2 0 2 1 6 0 2-2 2 1 0 4-1 2-2 2-1 0-2 1-2-1-1 0-1-1-2-1-2 0-2 1 0 3 1 2 0 4-1 2-2-1-1-1-2-4 0-2-1-2-4-2-4 2-1 0 0 2 1 2 0 4-2 4-2 1-2-1-2 1-1 1 2 2 2 4-1 2 0 1-1 1-1 2 2 4-1 2-3 0-6-3-6 0-2-1-2 0-2 1-2 2-2 1-2-1-1-1 0-4-1-1-2 0-2-1-4 0-4-2-6-6 0-1-3-3 0-4 2-2 0-4-3-3-2 0-2 1-2-1-1-1-1-2 0-2-3-6 0-2-1-1-2-1-2 0-2-1-2 0-2-1-2-2 0-2-1-2-1-1-2-1-4-4 0-1-3-3-3 0-1 2-1 1-2 1-2-1-4-4-4-2-2 1-2 4 0 1-2 1-3-6-4-4-1-2-2-2 0-1-1-1 0-2-1-2 1-2 0-4-1-1 0-1-1-2-1-1 0-1-2-4 1-2 1-1 0-3-2-4 1-2 1-1 2 0 1-1 0-2-2-4 0-4 1-2 0-2 2-1 0-1 2-4 2-1 2 0 2-1 0-2-2-2-4-2-4 0-2 2-5 0-3 3-2-1-2-2 0-3 2-1 4 0 2-2 1 0 1-1 2-1 0-2-1-2-1-1-2-1 1-2-1-2 0-2 1-2 0-6 1-1 2 0 2 1 2 0 4-2 1 0 2-4 0-6-1-2 0-2-1-2 0-4-1-2 3-6 0-2 1-1 2-1 2 0 2 1 4 0 2-1 2-4 0-2 2-4 4 0 2-1 1-1 1-2 0-2 1-2 1 0 2-1 2 0 2-1 2-2zM280 316l0 3 2-1 0-1zM352 203l-2 1 0 6-1 2 0 2 1 2 2 2 12 0 1-2-1-1 0-1-2-2-1-2-2-2-1-2-1 0-2-2-1 0zM228 274l-2 0-2 1-4 0-2-1-1 2 2 2 1 0 2 2 1 0 1 1 4 0 1-1 0-2 2-4zM341 146l2 0 1 1 2 1 2 2-2 1-6-3zM205 154l3 0-2 2zM345 158l1-1 2-1 2 2 1 2 0 2-3 3-2 0-1-1-1 0-1-2 0-2zM192 172l2 1 3 3 0 2-1 1-4-4zM207 286l2 0-1 1zM218 296l1 2 0 2-1 0-1-2zM378 296l2 0 2 1 0 1 1 2 0 2-3 0-2-2zM369 310l1-1 1 1-1 1z" fill="#d7ff4b"/><path d="M252 158l2-1 2 1 2 0 2 2 1 2 0 4 1 2 0 1 1 1 1 2 2 1 1 1 3 0 2 1 2 0 2-1 2-4 2 0 1 2 1 1 0 1 6 6 2 1 2-1 0-2-2-4-4-4-1-2 1-1 10 0 2 1 2 2 0 1 1 1-1 1-2 1-1 2 1 2 0 1 2 1 2-2 0-2-1-2 1-1 2 1 4 0 2-2 1-2 0-2-1-1 0-4 2 2 0 3 1 2 6 6 5 10 1 0 1 1 4 0 2 1 1 0 1 2 0 1 1 1 1 2 0 1 2 1 4 0 2 2 1 2 0 2 1 2-1 2 0 6 3 6 2 2 0 1 1 1 1 2 1 0 4 4 2 0-1-2-2-2 2-2 2 0 2 1 2 0 2 1 1 0 1 1 0 1 1 2 0 2 3 6 0 1 1 1 1 2 0 2-1 2 0 2-2 4 0 2-1 2-4 2-1 0 1 2 0 1 1 1 0 2-1 1-2 1-2-1-2 0-2 2-2 0-2-1-3 0 0 2 1 2 0 1 4 4 2 1 0 1-1 1-7 0-2-1-2-2-2-1-2 1 0 5 2 2 2 1 2 0 2 1 1 2-1 2 0 2-1 2-1 1-2-1-1 0-1-1-2 1 0 2 6 6 1 2-1 2-2 1-2 2-2 1-6 6-4 0-4-2-5 0-2 2 0 4-1 2 0 1-1 1-2 0-1-1-4 0-2 1-2 2-1 0 0 2 3 6-4 4 0 1-1 1 0 6-1 2-4 0-2 1-2 0-6-3-2 0-2-2-1-2 0-2 1-2 0-22-1-2-3-3-2 0-1 1-1 2-2 2-1 0 0 2-1 2-1 0-2-2 1-2 1 0 1-2-2-4-2-2-6 0-2-1-1-1-1-2 0-2-1-2-1-1-2 0-4-2-1-1-3-6-2-1-4 0-6-3-1-2 1-1 0-6-6-6-2-1-2 0-2-1-1-1-1 0-2-2-2-1-2-2-4-2-1-1-1-2 0-3 2-2 2-1 0-1 1-1 1-2-2-1 0-4 2 1 1 0-1 2 0 2 1 2 1 1 2-1 0-2-2-4 0-10 1-2 1-1 2-1 2 0 2 1 2 0 1-1 0-2-2-2-1 0-4-2-4-4-4-2-2-2-1-2 1-2 10 0 4-2 1 0 0-2-2-2-1-2 0-1-1-1 0-2-1-2 0-9 8 0 2-1 2-2 1-2 0-2-3-3-2-1-6 0-2 2-2-1 0-3 1-2 1-1 2-1 3 0 1 1 4 2 2-1 1 0 1-1 6 3 2 0 4 2 4 0 1-2-3-3-2-1-2-2 0-2 2-4 1 0 1-1zM312 182l-1 0 0 2 3 3 2-1-1-2-2-2zM324 204l0 3 1 1 1 2 0 1 1 1 0 2 2 2 7 0-2-2-4-2-1-2 0-2-1-2-2-2zM350 241l-1 1 0 2 1 2 0 4 2 2 2 1 2 0 1-1 0-4-1-1 0-1-4-4zM314 205l-1 1 1 2 0 1 1 1 0 2 2 4 1 1 2 0 2-2 0-1-1-2-4-4-1-2-1 0zM322 229l-3 3 1 2 0 1 2 1 2 0 2-2 1 0 1-2-2-2-2 0zM320 245l-1 1 1 2 0 1 2 0 1-1-1-2zM326 158l2-2 2 2-2 1zM235 160l3 0 4 4-1 2-3 0-2-1-1-1zM350 190l2-2 2 1 2 2 2 1 2 2 1 0 1 1 2 0 0 1 1 2-1 2-2 1-2 0-2-1-2 0-2-2-1 0-2-2-2-4zM215 198l2 0-1 2zM371 258l1 0 2 1 1 1 1 2 0 1-2 0-2-1-1 0-1-2zM364 272l2-1 2 0 1 1 0 4-1 1-1-1-1 0zM317 328l1-1 2-1 2 1 1 1 1 2-4 2-2 0-2-2z" fill="#b9ff82"/><path d="M246 180l2-2 4 0 6 3 1 1 1 0 2 2 4 2 2-1 1-1 3-6 2 1 2 0 1 1 3 6 4 2 2 0 2 1 2 0 2-1 2 0 2-2 4-2 2 0 2-1 2 0 3 3 1 2 0 1 1 1-1 2-2 2 1 2 0 2-1 2-2 2 0 2-2 4 1 2 0 2 1 2 0 1 5 5 1 2 0 4 2 2 1 2 0 4 1 2 0 6-1 2-1 1-2 1-1 0-2 2 0 2 1 2 2 1 2 0 8 4 2-1 2-2 4-2 2 0 2 2 2 4 0 1 1 1 2 4 1 1 2 1 1-2 1-1 3 3 0 2-1 1-2-1-2-2-1 2-2 2 0 4-1 2-4 4 0 4-2 1-1 1-1 2 0 4 1 2 0 2 1 2 0 2-2 2-2 0 0 1 0-1-2-2-2-1-4 0-2 2-2 1-4-2-2 2-1 2 0 2-2 2 0 2 2 4-1 2-2 1-2 0-2-1-1-2-1 0-2-2-4-2-2 0-2 1-2-1-2-2-1-2-1-1 0-1-1-2 1-2 0-3-2-2-6 0-2 1-2-1-5-5-3 0-2 1-2 0-2 1-4-2-2-2-1-2-3-3-2-1-2 0-4-2 0-4-2-4 0-1-1-1-2-4-1-1 0-1-1-2-3-3-2 1-4 0-4-2-2-2-1-2 1 0 1-2 1 0 4-2 1 0 2-2 0-2-1-2 0-1-1-1 0-10 1-1 2 1 2 0 2-1 1-1 0-8 1-2 0-2-1-2-1-1 0-3 2-4 0-5-2-2-2-1-1-2 0-2 1-1 2-1 2 1 2-1 7 0 1-1 6-3-4-8zM281 180l1-1 3 3-1 1zM319 192l1-1 1 1-1 2zM341 214l1 0 2 2 2 4 0 2-2 1-2-1 0-4-1-2zM332 222l3 0 1 2 0 2 1 2 1 1 0 2-2-1zM349 258l1-1 2 0 1 1-1 2-2-1zM275 300l1 0 1 2 0 2-1 1-1-1-1-2zM299 332l3 0 0 2-2 2-1-2z" fill="#7affb1"/><path d="M255 194l1-1 8 0 1 1 1 0 2 1 2 0 2-1 2 0 2 1 4 0 2 1 2-1 2-2 2 0 2 1 2 0 2-1 2 0 1 1 0 4-1 2 0 2 1 2 0 2-1 1 0 5 1 2 1 1 0 1 1 2 0 6 1 2 2 2 2-1 2-2 3 3 0 4 1 2 0 2 1 2 0 2-5 0-2 2-2 4-4 2 0 2 2 1 1 1 2 4-1 2-2 1-1 1-1 2 2 4 6 0 2 2 3 6 1 1 4 2 2-1 2 0 2 1 2 0 2 1-2 1-3 3 1 2 2 1 2 2 0 1 1 2 0 4-1 1-6 0 0 1-2 1-2 2-2-1-6 0-4 2-2 4-2 1-4-2-1-1-2-4 0-2-1-2-4-2-2 0-2-2-1 0-3-3-2-1-10 0-2-1-6 3-2 0-2-1-2-2 0-1-2-2 0-1-4-4-2-1-2-2-3-6-1-1 0-1-2-2-1-2-2-2-3-6 1-2-1-2 0-2-1-2 0-6 1-2 0-2 4-4 0-1 1-1 1-2 2-2 2-1 1-1 0-2-1-2-2-1-1-1-1-2 0-2-1-2 0-2 1-2 0-6 1-2 1 0 12-6zM286 267l0 1 2 1 2-1 1 0-1-1zM298 291l-1 1 2 0zM328 258l2-1 2 1 2 2 2 4 0 2-2 4 0 3-2 1-2-1-1-1 0-4-2-4 0-4z" fill="#34ffde"/><path d="M258 200l2 0 4-2 4 2 2 0 2 1 1 1 1 2 0 2 1 2 1 1 2 1 2 2 1 2 0 2-1 2 0 2 1 2 1 1 2 1 2 0 4 2 2 2 2 4 0 2-1 2 1 2 2 1 2 2 0 1-1 2-1 1-2 0-2 1-2-1-4 0-3 3 0 8-1 2-2 2-1 2 0 4 2 4 3 3 2 1 4 0 2-1 4 0 8 4 4 4 2 1 6 12-2 2-2 0-2-1-2 0-3-3 0-2-1-1 0-1-2-2-1 0-1-1-2 1-2 0-2 1-2 0-2-1-1 0-1-1-2-1-2 0-2-1-2 0-2-1-12 0-2 1-4 0-2-2-2-1-6-6 0-1-1-1-1-2-2-2-2-1-3-3-1-2 0-1-1-1-3-6 0-2-1-2 0-2-1-2 0-2 1-2 0-2 1-2 0-1 1-1 1-2 4-4 2-1 2-2 0-1 1-2 0-4-1-2 0-3-1-1 0-6-1-2 0-4 2-1 4 0 2 1 4-2zM288 200l2-1 1 1 1 2-2 2-2-2zM284 208l2-1 2 1 1 2-1 1-2-1z" fill="#05f4ff"/><path d="M249 206l1-1 6 3 2-1 1-1 5 0 2 1 6 6 2 0 2 1 0 2-1 2 0 2 1 2 4 4 2 4 1 0-1 2 0 4 1 2-1 2 0 1-2 2 0 1-1 2 1 2 0 4-2 2-2 0-2-2-2-1-2 0-1 1 0 6 1 1 0 4-2 2 0 3 2 1 6 0 5 5 0 2-1 1-4 2-2-1-2 0-2-1-4 0-3 3-3 0-2-1-4-4 0-1-2-4-2-2-2-1-5-5 0-2-1-2 0-2-4-8 1-2 0-8 1-1 2-1 2 0 4 4 2 0 1-2 0-2-2-2 0-2-1-2 1-2 0-2 1-2 0-4-1-2 0-2 1-2 0-1 1-1-2-4zM246 244l-1 2 1 1 1-1zM292 280l3 0-1 2z" fill="#19cbff"/><path d="M261 218l1-1 2 1 1 0 2 2 1 2 2 0 2 1 1 1 1 0 2 2 2 4 0 2 1 2-1 2 0 1-2 1-6-3-2 1 2 1 1 1 2 4 0 2-1 2-4 0-2 1-1 1 0 4-1 2 0 1-4-2-2 0-1 1-2 4-2 2-1 0-2 1-2 0-1-1-1-2 1-2 2-2 2-4 0-4 1-2 2 0 2-1 2 0 1 1 1 0 1-2 0-4 1-2-4-2-2 0-2-2-1 0 0-2 1-1 2 1 2 0 2-2 0-8zM254 264l2-2 2 0 2 1 3 3 0 2-2 2-1 2-1 0-1 1 0-1-2-2-2-4z" fill="#2ca2ff"/>
<use href="#outer"/>
</g>
<path d="M96.7 -15.5V0M96.7 408v15.5M213.6 -15.5V0M213.6 408v15.5M331.2 -15.5V0M331.2 408v15.5M-16 80.7H0M414 80.7h16M-16 231.1H0M414 231.1h16M-16 381.8H0M414 381.8h16" stroke="#000" stroke-width="3.3" fill="none"/>
<rect width="414" height="408" fill="none" stroke="#000" stroke-width="3.9"/>
</g>
<g transform="translate(919.5 2939.0) scale(0.9990 0.9990)">
<rect width="414" height="408" fill="#9a9a9a"/>
<polygon points="0,177.4 5.2,174.6 12.9,173.9 18.2,180.9 25.2,184.4 30.4,191.4 39.2,194.9 44.4,194.9 46.2,182.6 52.1,179.1 60.2,182.6 64.4,187.2 72.4,198.4 72.4,250.9 79.4,285.9 93.4,303.4 121.4,324.4 156.4,352.3 174.6,381 179.1,397.8 184.4,408.3 0,408.3" fill="#fff"/>
<g clip-path="url(#cpF)">
<rect width="414" height="408" fill="#ff0000"/><path d="M-6 -6l426 0 0 420-426 0zM154 342l-2 0-2 1-2 0-2 1-1 0-1 1-2 0-2 2-2 1-1 2 0 8 1 2 0 2 4 8 2 2 1 2 7 7 4 2 2 2 2 1 1 0 1 1 2 1 2 0 4 2 2 0 2 1 2 0 2 1 8 0 2-1 4 0 6-3 1 0 1-1 2-1 6-6 0-1 1-1 1-2 0-2 1-2 0-8-4-8-7-7-4-2-1-1-1 0-6-3-2 0-2-1-2 0-2-1-22 0-2 1z" fill="#ff4600"/><path d="M14 -6l406 0 0 43 0-1-6-12-2-2 0-1-6-6-10-5-10 0-2 1-2 0-1 1-1 0-2 1-1 1-1 0-2 2-2 1-6 6 0 1-2 2 0 8-1 2 0 20 1 2 0 4 1 2 0 4 2 4 0 2 4 8 2 2 1 2 6 6 1 0 1 1 4 2 4 0 2 1 2 0 2-1 2 0 2-1 2 0 6-3 2-2 2-1 8-8 0 293-2 0-2-1-4 0-2-1-4 0-2-1-8 0-2 1-16 0-2 1-14 0-2 1-8 0-2 1-8 0-2 1-4 0-2 1-4 0-2 1-4 0-2 1-2 0-2 1-2 0-2 1-4 0-4 2-2 0-2 1-2 0-2 1-2 0-4 2-2 0-2 1-2 0-4 2-2 0-2 1-2 0-4 2-2 0-2 1-4 0-2 1-14 0-2-1-2 0-2-1-1 0-1-1-4-2 0-1-4-4 0-1-1-1-1-2 0-2-2-4 0-2-4-8 0-1-1-1-3-6-2-2-1-2-7-7-4-2-2-2-10-5-2 0-6-3-2 0-2-1-2 0-2-1-2 0-2-1-2 0-2-1-2 0-2-1-2 0-4-2-2 0-12-6-2-2-1 0-1-1-2-1-2-2-2-1-4-4-2-1-6-6-2-1-10-10 0-1-4-4-1-2-2-2-2-4-1-1 0-1-2-2 0-2-3-6 0-2-1-2 0-4-1-2 0-12 1-2 0-6 1-2 0-8 1-2 0-26-1-2 0-6-1-2 0-2-1-2 0-2-1-2 0-2-2-4 0-1-1-1 0-2-1-1 0-1-1-2-2-2-2-4-6-6-1 0-2-2-6-3-1 1-1 0-8 8-1 2-1 1 0 1-2 2 0 1-1 1-1 2 0 1-1 1-1 2 0 2-2 4 0 2-2 4 0 2-1 2 0 4-1 2 0 2-1 2 0 4-1 2 0 4-1 2 0 4-1 2 0 2-1 2 0 2-1 1 0 1-4 4-2 1-6 0-1-1-1 0-2-2-2-1-3-3-1-2-2-2 0-1-1-1-6-12 0-2-2-4 0-2-1-2 0-2-2-4 0-4-1-2 0-2-1-2 0-4-1-2 0-2-1-2 0-6-1-2 0-6-1-2 0-6-1-2 0-10-1-2 0-18-1-2 0-18 1-2 0-18 1-2 0-8 1-2 0-6 1-2 0-4 1-2 0-4 1-2 0-4 1-2 0-4 1-2 0-2 1-2 0-2 1-2 0-2 1-2 0-2 1-2 0-2 2-4 0-2 2-4 0-2zM100 390l2-1 2 0 2 1 2 0 8 4 1 0 1 1 34 17 1 0 1 1 2 0 2 1-49 0-1-2-2-2 0-1-2-2 0-1-2-2 0-1-1-1-2-4 0-2-1-2 0-2z" fill="#ff7d00"/><path d="M218 8l2 0 2-1 8 0 2 1 4 0 2 1 2 0 1 1 1 0 10 5 2 2 2 1 2 2 1 0 5 5 2 1 8 8 0 1 9 9 1 2 4 4 1 2 20 20 1 2 2 2 1 2 3 3 0 1 2 2 1 2 2 2 1 2 2 2 0 1 1 1 1 2 2 2 0 1 2 2 0 1 2 2 1 2 1 1 0 1 2 2 1 2 2 2 1 2 2 2 1 2 2 2 1 2 4 4 1 2 19 19 2 1 6 6 1 0 5 5 2 1 14 14 0 1 3 3 7 14 0 2 1 2 0 2 1 2 0 2 1 2 0 4 1 2 0 24-1 2 0 4-1 2 0 4-1 2 0 2-1 2 0 2-1 2 0 2-2 4 0 2-2 4 0 2-5 10 0 1-1 1-1 2 0 1-1 1-4 8-2 2-2 4-2 2-1 2-2 2 0 1-5 5-1 2-2 2-2 1-6 6-2 1-2 2-1 0-1 1-4 2-2 2-10 5-1 0-1 1-2 0-1 1-1 0-6 3-2 0-4 2-2 0-4 2-2 0-4 2-2 0-2 1-2 0-2 1-2 0-4 2-2 0-2 1-2 0-2 1-4 0-2 1-2 0-2 1-4 0-2 1-8 0-2 1-8 0-2-1-4 0-2-1-2 0-6-3-1 0-1-1-4-2-2-2-4-2-2-2-4-2-2-2-2-1-2-2-1 0-1-1-2-1-2-2-1 0-1-1-4-2-1-1-1 0-2-2-1 0-1-1-8-4-1-1-1 0-2-1-1-1-1 0-2-2-1 0-1-1-6-3-2-2-2-1-4-4-2-1-4-4-1-2-6-6-1-2-2-2-1-2-2-2-2-4-2-2-7-14 0-2-3-6 0-2-1-2 0-2-1-2 0-2-1-2 0-2-1-2 0-4-1-2 0-6-1-2 0-6-1-2 0-8-1-2 0-10-1-2 0-12-1-2 0-12-1-2 0-16-1-2 0-20 1-2 0-8 1-2 0-4 1-2 0-2 1-2 0-2 1-2 0-2 2-4 0-2 5-10 1-1 0-1 2-2 0-1 1-1 1-2 2-2 1-2 2-2 1-2 4-4 1-2 4-4 1-2 4-4 1-2 4-4 1-2 4-4 1-2 5-5 0-1 16-16 1 0 3-3 4-2 2-2 2-1 1 0 1-1 2-1 2 0 4-2z" fill="#ffaf00"/><path d="M224 64l6 0 2 1 2 0 2 2 2 1 10 10 2 1 4 4 2 1 6 6 1 0 7 7 2 1 2 2 2 1 4 4 2 1 2 2 1 0 3 3 2 1 2 2 1 0 3 3 2 1 2 2 2 1 4 4 2 1 22 22 1 2 4 4 1 2 2 2 1 2 3 3 0 1 2 2 1 2 2 2 2 4 2 2 2 4 1 1 0 1 2 2 0 1 1 1 1 2 0 1 1 1 1 2 0 2 3 6 0 2 1 2 0 2 1 2 0 2 1 2 0 6 1 2 0 10-1 2 0 8-1 2 0 2-1 2 0 2-1 2 0 2-1 2 0 2-2 4 0 1-1 1 0 2-6 12-1 1 0 1-2 2 0 1-1 1-2 4-3 3 0 1-4 4-1 2-12 12-1 0-4 4-2 1-2 2-4 2-2 2-22 11-2 0-2 1-2 0-2 1-2 0-2 1-2 0-2 1-18 0-2-1-4 0-2-1-2 0-4-2-2 0-18-9-1-1-1 0-2-2-1 0-1-1-2-1-2-2-2-1-2-2-2-1-4-4-2-1-5-5-1-2-4-4-1-2-2-2-1-2-2-2-2-4-2-2 0-1-1-1-7-14 0-1-1-1 0-2-3-6 0-2-3-6 0-2-1-2 0-2-2-4 0-2-1-2 0-2-1-2 0-2-1-2 0-4-1-2 0-4-1-2 0-6-1-2 0-10-1-2 0-14 1-2 0-8 1-2 0-6 1-2 0-2 1-2 0-2 1-2 0-2 2-4 0-2 2-4 0-1 1-1 0-2 1-1 0-1 1-2 1-1 0-1 1-2 1-1 0-1 2-2 0-1 1-1 2-4 2-2 1-2 2-2 0-1 3-3 1-2 2-2 1-2 5-5 0-1 6-6 1-2 9-9 0-1 4-4 0-1 2-2 2-1 2-2 1 0 1-1 2-1z" fill="#ffe000"/><path d="M228 114l10 0 2 1 2 0 2 1 2 0 4 2 2 0 8 4 1 0 1 1 2 0 1 1 1 0 2 1 1 1 1 0 2 1 1 1 1 0 2 2 1 0 1 1 2 1 1 0 1 1 4 2 1 1 1 0 2 2 2 1 1 1 1 0 2 2 2 1 3 3 1 0 6 6 2 1 5 5 1 2 6 6 1 2 2 2 1 2 2 2 1 2 2 2 4 8 1 1 0 1 2 2 0 1 1 1 1 2 0 2 3 6 0 2 1 2 0 2 1 2 0 2 1 2 0 8 1 2 0 4-1 2 0 8-1 2 0 4-1 2 0 2-2 4 0 2-4 8 0 1-1 1-1 2 0 1-1 1-4 8-2 2-1 2-4 4 0 1-12 12-2 1-2 2-2 1-2 2-2 1-2 2-1 0-1 1-4 2-1 1-1 0-2 1-1 1-1 0-2 1-1 1-1 0-4 2-2 0-2 1-2 0-2 1-20 0-2-1-2 0-2-1-2 0-4-2-2 0-10-5-1-1-1 0-2-2-1 0-2-2-1 0-2-2-2-1-14-14 0-1-4-4 0-1-1-1-1-2-2-2 0-1-1-1-9-18 0-1-1-1 0-2-3-6 0-2-2-4 0-2-1-2 0-2-1-2 0-2-1-2 0-2-1-2 0-4-1-2 0-4-1-2 0-8-1-2 0-16 1-2 0-6 1-2 0-4 1-2 0-2 1-2 0-2 1-2 0-1 1-1 0-2 3-6 0-1 1-1 4-8 3-3 0-1 10-10 2-1 2-2 4-2 2-2 10-5 2 0 2-1 2 0 2-1z" fill="#f4ff15"/><path d="M224 140l2-1 6 0 2-1 4 0 2 1 4 0 2 1 4 0 4 2 2 0 4 2 2 0 18 9 2 2 4 2 2 2 2 1 2 2 2 1 6 6 2 1 1 2 7 7 0 1 2 2 1 2 2 2 2 4 2 2 5 10 0 1 1 1 0 2 2 4 0 2 1 2 0 4 1 2 0 16-1 2 0 2-1 2 0 2-1 2 0 2-1 2 0 2-1 1 0 1-5 10-1 1 0 1-2 2-1 2-2 2-1 2-4 4 0 1-4 4-2 1-4 4-2 1-2 2-2 1-2 2-1 0-1 1-14 7-2 0-2 1-6 0-2 1-4 0-2-1-6 0-2-1-2 0-4-2-2 0-10-5-2-2-2-1-2-2-1 0-14-14-1-2-2-2 0-1-1-1-2-4-2-2-1-2 0-1-1-1-1-2 0-1-1-1 0-2-1-1 0-1-2-4 0-1-1-1 0-2-2-4 0-2-1-2 0-2-1-2 0-2-1-2 0-2-1-2 0-4-1-2 0-6-1-2 0-18 1-2 0-4 1-2 0-4 2-4 0-2 2-4 0-2 1-1 0-1 1-2 2-2 2-4 2-2 1-2 4-4 1 0 3-3 12-6 2 0z" fill="#d7ff4b"/><path d="M233 158l17 0 2 1 2 0 2 1 2 0 2 1 2 0 10 5 1 0 1 1 4 2 1 1 1 0 2 2 2 1 2 2 2 1 10 10 1 2 4 4 2 4 1 1 0 1 2 2 0 1 1 1 3 6 0 2 2 4 0 2 1 2 0 4 1 2 0 8-1 2 0 6-1 2 0 2-2 4 0 2-5 10-2 2-2 4-6 6-1 2-2 1-5 5-1 0-2 2-2 1-2 2-10 5-2 0-2 1-2 0-2 1-12 0-2-1-2 0-2-1-2 0-4-2-1 0-1-1-2-1-1 0-1-1-4-2-3-3-1 0-8-8-1-2-3-3 0-1-2-2-3-6-1-1 0-1-5-10 0-2-2-4 0-2-2-4 0-2-1-2 0-4-1-2 0-4-1-2 0-20 1-2 0-4 1-2 0-2 1-2 0-2 4-8 1-1 0-1 4-4 0-1 2-1 2-2 2-1 2-2 2-1 2 0 6-3 4 0 2-1z" fill="#b9ff82"/><path d="M229 172l1 0 2-1 4 0 2-1 10 0 2 1 2 0 2 1 2 0 2 1 2 0 6 3 2 0 2 1 2 2 4 2 1 1 1 0 4 4 2 1 5 5 1 2 4 4 0 1 2 2 0 1 2 2 0 1 1 1 3 6 0 1 1 1 0 2 1 2 0 2 1 2 0 16-1 2 0 2-2 4 0 2-3 6-1 1 0 1-2 2 0 1-3 3-1 2-8 8-2 1-2 2-4 2-1 1-1 0-2 1-1 1-1 0-4 2-2 0-2 1-12 0-2-1-2 0-12-6-2-2-1 0-10-10-1-2-2-2 0-1-1-1-7-14 0-2-2-4 0-2-1-2 0-2-1-2 0-2-1-2 0-6-1-2 0-14 1-2 0-4 2-4 0-2 4-8 3-3 0-1 2-1 2-2 10-5z" fill="#7affb1"/><path d="M233 182l1 0 2-1 16 0 2 1 2 0 4 2 2 0 6 3 1 1 1 0 2 2 2 1 2 2 2 1 6 6 0 1 3 3 2 4 2 2 1 2 0 1 1 1 1 2 0 2 2 4 0 16-1 2 0 2-3 6 0 2-2 2 0 1-1 1-1 2-2 2-1 2-5 5-2 1-2 2-2 1-1 1-1 0-2 2-1 0-1 1-2 1-2 0-2 1-2 0-2 1-4 0-2-1-4 0-4-2-2 0-1-1-1 0-2-2-1 0-1-1-2-1-8-8-1-2-2-2-2-4-1-1 0-1-4-8 0-2-2-4 0-2-1-2 0-2-1-2 0-6-1-2 0-10 1-2 0-4 1-2 0-2 4-8 6-6 1 0 2-1 1-1 1 0 4-2z" fill="#34ffde"/><path d="M237 192l3 0 2-1 6 0 2 1 4 0 4 2 2 0 2 1 1 1 1 0 2 2 1 0 2 2 1 0 8 8 1 2 2 2 5 10 0 2 1 2 0 10-1 2 0 2-2 4 0 2-1 2-2 2-2 4-5 5-2 1-2 2-2 1-1 1-1 0-2 1-1 1-1 0-2 1-2 0-2 1-4 0-2-1-2 0-2-1-1 0-1-1-2-1-1 0-1-1-2-1-2-2-1 0-4-4-1-2-2-2 0-1-1-1-5-10 0-2-1-2 0-2-1-2 0-2-1-2 0-16 1-2 0-2 2-4 0-2 2-2 1-2 1-1 4-2 1-1 1 0 4-2z" fill="#05f4ff"/><path d="M244 210l6 0 2 1 2 0 6 3 6 6 1 2 2 2 1 2 0 2 1 2 0 6-1 2 0 2-1 2-2 2-1 2-4 4-2 1-1 1-1 0-4 2-4 0-2-1-2 0-2-2-2-1-4-4-1-2-2-2 0-2-1-1 0-1-1-2 0-2-1-2 0-2-1-2 0-4 1-2 0-2 2-4 0-1 2-2 6-3z" fill="#19cbff"/>
<use href="#outer"/>
</g>
<path d="M96.7 -15.5V0M96.7 408v15.5M213.6 -15.5V0M213.6 408v15.5M331.2 -15.5V0M331.2 408v15.5M-16 80.7H0M414 80.7h16M-16 231.1H0M414 231.1h16M-16 381.8H0M414 381.8h16" stroke="#000" stroke-width="3.3" fill="none"/>
<rect width="414" height="408" fill="none" stroke="#000" stroke-width="3.9"/>
</g>
<g transform="translate(1534.4 2940.7) scale(0.9957 0.9931)">
<rect width="414" height="408" fill="#9a9a9a"/>
<polygon points="0,177.4 5.2,174.6 12.9,173.9 18.2,180.9 25.2,184.4 30.4,191.4 39.2,194.9 44.4,194.9 46.2,182.6 52.1,179.1 60.2,182.6 64.4,187.2 72.4,198.4 72.4,250.9 79.4,285.9 93.4,303.4 121.4,324.4 156.4,352.3 174.6,381 179.1,397.8 184.4,408.3 0,408.3" fill="#fff"/>
<g clip-path="url(#cpF)">
<rect width="414" height="408" fill="#b4ff8c"/><path d="M276.1 113.7l2.8 2.1v2.1l-2.8 -2.1zM282.4 116.5l2.8 2.1v2.8l-2.8 -2.1zM279.1 124.3l5.0 3.8v3.0l-5.0 -3.8zM285.2 139.0l3.4 2.5v2.8l-3.4 -2.5zM327.9 158.1l5.6 4.2v3.0l-5.6 -4.2zM334.7 169.1l2.4 1.8v2.8l-2.4 -1.8zM334.7 181.4l2.4 1.8v2.8l-2.4 -1.8zM337.6 191.7l2.8 2.1v2.8l-2.8 -2.1zM301.3 236.9l3.4 2.5v3.0l-3.4 -2.5zM301.8 243.7l2.4 1.8v2.8l-2.4 -1.8zM330.7 240.5l3.4 2.5v2.8l-3.4 -2.5zM285.2 246.7l3.4 2.5v3.0l-3.4 -2.5zM277.2 256.8l3.5 2.6v2.3l-3.5 -2.6zM279.5 255.8l2.5 1.9v3.2l-2.5 -1.9zM280.4 253.3l4.4 3.3v2.6l-4.4 -3.3zM278.4 253.1l2.9 2.2v2.6l-2.9 -2.2zM277.9 254.5l2.9 2.2v2.2l-2.9 -2.2zM295.3 254.0l2.8 2.1v2.8l-2.8 -2.1zM272.6 279.6l2.8 2.1v2.8l-2.8 -2.1zM285.6 291.2l3.4 2.5v3.0l-3.4 -2.5zM285.5 299.5l2.8 2.1v2.8l-2.8 -2.1zM263.0 293.4l2.4 1.8v2.8l-2.4 -1.8zM259.3 300.6l3.4 2.5v3.0l-3.4 -2.5zM259.6 312.5l2.8 2.1v2.8l-2.8 -2.1zM233.2 306.5l4.5 3.4v3.0l-4.5 -3.4zM233.6 316.5l2.4 1.8v2.1l-2.4 -1.8zM282.2 315.4l2.4 1.8v2.8l-2.4 -1.8zM278.6 322.0l3.4 2.5v2.8l-3.4 -2.5zM272.3 340.9l3.4 2.5v2.8l-3.4 -2.5zM148.4 351.6l2.8 2.1v2.8l-2.8 -2.1zM282.1 378.1a4 4 0 1 0 8 0a4 4 0 1 0-8 0zM282.1 386.3a4 4 0 1 0 8 0a4 4 0 1 0-8 0z" fill="#ffa812"/>
<use href="#outer"/>
</g>
<path d="M96.7 -15.5V0M96.7 408v15.5M213.6 -15.5V0M213.6 408v15.5M331.2 -15.5V0M331.2 408v15.5M-16 80.7H0M414 80.7h16M-16 231.1H0M414 231.1h16M-16 381.8H0M414 381.8h16" stroke="#000" stroke-width="3.3" fill="none"/>
<rect width="414" height="408" fill="none" stroke="#000" stroke-width="3.9"/>
</g>
<defs><linearGradient id="cb"><stop offset="0.0" stop-color="#ff0000"/><stop offset="0.06" stop-color="#ff2800"/><stop offset="0.16" stop-color="#ff8000"/><stop offset="0.32" stop-color="#ffff00"/><stop offset="0.48" stop-color="#b4ff8c"/><stop offset="0.64" stop-color="#00ffff"/><stop offset="0.8" stop-color="#3296ff"/><stop offset="1.0" stop-color="#0c0cff"/></linearGradient></defs>
<rect x="669" y="3452.5" width="241.5" height="44" fill="url(#cb)" stroke="#000" stroke-width="2.2"/>
<text x="572.3" y="3486" font-size="36" textLength="92.7" lengthAdjust="spacingAndGlyphs">-4cm</text>
<text x="916" y="3486" font-size="36" textLength="101" lengthAdjust="spacingAndGlyphs">+6cm</text>
<rect x="1639.5" y="3452.5" width="41.8" height="43.7" fill="#ff0000" stroke="#000" stroke-width="2"/>
<rect x="1681.3" y="3452.5" width="35.2" height="43.7" fill="#ffb420" stroke="#000" stroke-width="2"/>
<rect x="1716.5" y="3452.5" width="36.2" height="43.7" fill="#b4ff8c" stroke="#000" stroke-width="2"/>
<rect x="1752.7" y="3452.5" width="34.9" height="43.7" fill="#ffb420" stroke="#000" stroke-width="2"/>
<rect x="1787.6" y="3452.5" width="42.1" height="43.7" fill="#ff0000" stroke="#000" stroke-width="2"/>
<text x="1537.2" y="3485.4" font-size="36" textLength="93.6" lengthAdjust="spacingAndGlyphs">-4cm</text>
<text x="1833.8" y="3485.4" font-size="36" textLength="100" lengthAdjust="spacingAndGlyphs">+4cm</text>
</svg></body></html>
